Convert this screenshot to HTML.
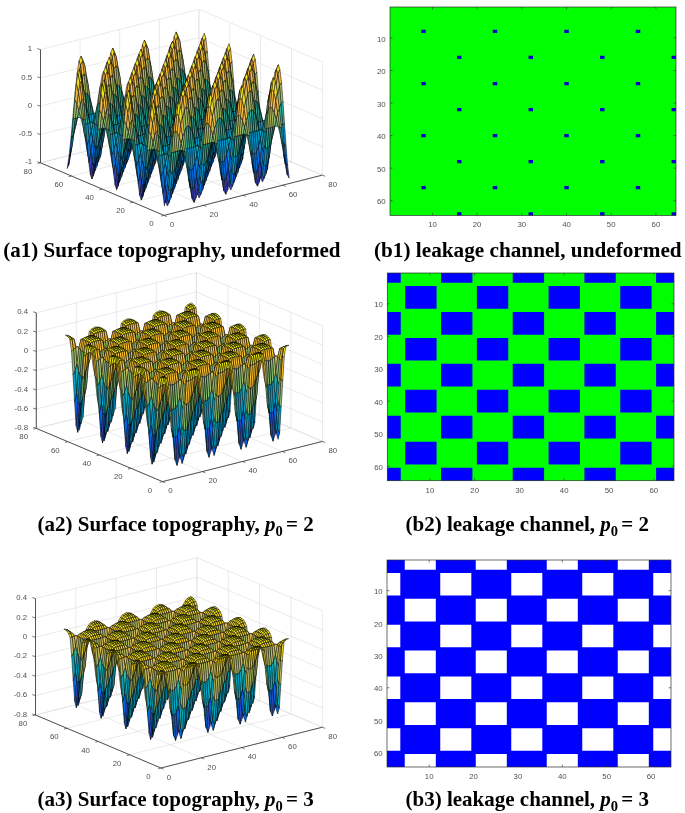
<!DOCTYPE html>
<html lang="en"><head><meta charset="utf-8"><title>Surface topography and leakage channel</title>
<style>html,body{margin:0;padding:0;background:#fff}body{width:685px;height:813px;overflow:hidden}svg{display:block}</style></head><body>
<svg width="685" height="813" viewBox="0 0 685 813">
<rect width="685" height="813" fill="#fff"/>
<g id="a1">
<path d="M164.0 215.4L40.5 162.8" stroke="#dcdcdc" stroke-width="0.6" fill="none"/>
<path d="M164.0 215.4L322.4 175.1" stroke="#dcdcdc" stroke-width="0.6" fill="none"/>
<path d="M40.5 162.8L40.5 49.6" stroke="#dcdcdc" stroke-width="0.6" fill="none"/>
<path d="M322.4 175.1L322.4 61.9" stroke="#dcdcdc" stroke-width="0.6" fill="none"/>
<path d="M203.6 205.3L80.1 152.7" stroke="#dcdcdc" stroke-width="0.6" fill="none"/>
<path d="M133.1 202.2L291.5 161.9" stroke="#dcdcdc" stroke-width="0.6" fill="none"/>
<path d="M80.1 152.7L80.1 39.5" stroke="#dcdcdc" stroke-width="0.6" fill="none"/>
<path d="M291.5 161.9L291.5 48.7" stroke="#dcdcdc" stroke-width="0.6" fill="none"/>
<path d="M243.2 195.2L119.7 142.6" stroke="#dcdcdc" stroke-width="0.6" fill="none"/>
<path d="M102.2 189.1L260.6 148.8" stroke="#dcdcdc" stroke-width="0.6" fill="none"/>
<path d="M119.7 142.6L119.7 29.4" stroke="#dcdcdc" stroke-width="0.6" fill="none"/>
<path d="M260.6 148.8L260.6 35.6" stroke="#dcdcdc" stroke-width="0.6" fill="none"/>
<path d="M282.8 185.2L159.3 132.6" stroke="#dcdcdc" stroke-width="0.6" fill="none"/>
<path d="M71.4 176.0L229.8 135.6" stroke="#dcdcdc" stroke-width="0.6" fill="none"/>
<path d="M159.3 132.6L159.3 19.4" stroke="#dcdcdc" stroke-width="0.6" fill="none"/>
<path d="M229.8 135.6L229.8 22.4" stroke="#dcdcdc" stroke-width="0.6" fill="none"/>
<path d="M322.4 175.1L198.9 122.5" stroke="#dcdcdc" stroke-width="0.6" fill="none"/>
<path d="M40.5 162.8L198.9 122.5" stroke="#dcdcdc" stroke-width="0.6" fill="none"/>
<path d="M198.9 122.5L198.9 9.3" stroke="#dcdcdc" stroke-width="0.6" fill="none"/>
<path d="M198.9 122.5L198.9 9.3" stroke="#dcdcdc" stroke-width="0.6" fill="none"/>
<path d="M40.5 162.8L198.9 122.5" stroke="#dcdcdc" stroke-width="0.6" fill="none"/>
<path d="M198.9 122.5L322.4 175.1" stroke="#dcdcdc" stroke-width="0.6" fill="none"/>
<path d="M40.5 134.5L198.9 94.2" stroke="#dcdcdc" stroke-width="0.6" fill="none"/>
<path d="M198.9 94.2L322.4 146.8" stroke="#dcdcdc" stroke-width="0.6" fill="none"/>
<path d="M40.5 106.2L198.9 65.9" stroke="#dcdcdc" stroke-width="0.6" fill="none"/>
<path d="M198.9 65.9L322.4 118.5" stroke="#dcdcdc" stroke-width="0.6" fill="none"/>
<path d="M40.5 77.9L198.9 37.6" stroke="#dcdcdc" stroke-width="0.6" fill="none"/>
<path d="M198.9 37.6L322.4 90.2" stroke="#dcdcdc" stroke-width="0.6" fill="none"/>
<path d="M40.5 49.6L198.9 9.3" stroke="#dcdcdc" stroke-width="0.6" fill="none"/>
<path d="M198.9 9.3L322.4 61.9" stroke="#dcdcdc" stroke-width="0.6" fill="none"/>
<path d="M40.5 162.8L40.5 49.6" stroke="#404040" stroke-width="0.9" fill="none"/>
<path d="M164.0 215.4L322.4 175.1" stroke="#404040" stroke-width="0.9" fill="none"/>
<path d="M164.0 215.4L40.5 162.8" stroke="#404040" stroke-width="0.9" fill="none"/>
<path d="M40.5 162.8L37.3 161.8" stroke="#404040" stroke-width="0.7" fill="none"/>
<path d="M40.5 134.5L37.3 133.5" stroke="#404040" stroke-width="0.7" fill="none"/>
<path d="M40.5 106.2L37.3 105.2" stroke="#404040" stroke-width="0.7" fill="none"/>
<path d="M40.5 77.9L37.3 76.9" stroke="#404040" stroke-width="0.7" fill="none"/>
<path d="M40.5 49.6L37.3 48.6" stroke="#404040" stroke-width="0.7" fill="none"/>
<path d="M164.0 215.4L166.8 216.6" stroke="#404040" stroke-width="0.7" fill="none"/>
<path d="M164.0 215.4L161.1 216.1" stroke="#404040" stroke-width="0.7" fill="none"/>
<path d="M203.6 205.3L206.4 206.5" stroke="#404040" stroke-width="0.7" fill="none"/>
<path d="M133.1 202.2L130.2 202.9" stroke="#404040" stroke-width="0.7" fill="none"/>
<path d="M243.2 195.2L246.0 196.4" stroke="#404040" stroke-width="0.7" fill="none"/>
<path d="M102.2 189.1L99.3 189.8" stroke="#404040" stroke-width="0.7" fill="none"/>
<path d="M282.8 185.2L285.6 186.4" stroke="#404040" stroke-width="0.7" fill="none"/>
<path d="M71.4 176.0L68.5 176.7" stroke="#404040" stroke-width="0.7" fill="none"/>
<path d="M322.4 175.1L325.2 176.3" stroke="#404040" stroke-width="0.7" fill="none"/>
<path d="M40.5 162.8L37.6 163.5" stroke="#404040" stroke-width="0.7" fill="none"/>
<g font-family="Liberation Sans, sans-serif" font-size="7.8" fill="#505050"><text x="32.2" y="164.4" text-anchor="end">-1</text><text x="32.2" y="136.1" text-anchor="end">-0.5</text><text x="32.2" y="107.8" text-anchor="end">0</text><text x="32.2" y="79.5" text-anchor="end">0.5</text><text x="32.2" y="51.2" text-anchor="end">1</text><text x="172.0" y="227.1" text-anchor="middle">0</text><text x="151.4" y="226.4" text-anchor="middle">0</text><text x="213.9" y="217.0" text-anchor="middle">20</text><text x="120.5" y="213.2" text-anchor="middle">20</text><text x="253.5" y="206.9" text-anchor="middle">40</text><text x="89.6" y="200.1" text-anchor="middle">40</text><text x="293.1" y="196.9" text-anchor="middle">60</text><text x="58.8" y="187.0" text-anchor="middle">60</text><text x="332.7" y="186.8" text-anchor="middle">80</text><text x="27.9" y="173.8" text-anchor="middle">80</text></g>
<g transform="scale(0.1)" stroke="#000" stroke-width="5" stroke-linejoin="round"><path fill="#f5eb18" d="M1776 369l20 34-16-46-19-38z"/>
<path fill="#f5de21" d="M1756 413l20-44-15-50-20 48z"/>
<path fill="#f8bb44" d="M1736 532l20-119-15-46-20 128z"/>
<path fill="#f5eb18" d="M1459 449l20 35-15-46-20-38z"/>
<path fill="#f5de21" d="M1439 494l20-45-15-49-20 48z"/>
<path fill="#f8bb44" d="M1420 612l19-118-15-46-20 127z"/>
<path fill="#3243ba" d="M1281 1501l20 34-16 37-19-38z"/>
<path fill="#f5eb18" d="M1142 530l20 35-15-47-20-38z"/>
<path fill="#f5de21" d="M1123 575l19-45-15-50-20 48z"/>
<path fill="#f8bb44" d="M1103 693l20-118-16-47-20 128z"/>
<path fill="#3243ba" d="M964 1581l20 35-15 37-20-38z"/>
<path fill="#f5eb18" d="M826 611l19 34-15-46-20-38z"/>
<path fill="#f5de21" d="M806 655l20-44-16-50-20 48z"/>
<path fill="#f8bb44" d="M786 774l20-119-16-46-19 128z"/>
<path fill="#aebe67" d="M766 948l20-174-15-37-20 188z"/>
<path fill="#2eb7a4" d="M746 1154l20-206-15-23-20 222z"/>
<path fill="#0998d1" d="M727 1359l19-205-15-7-20 222z"/>
<path fill="#0871de" d="M707 1533l20-174-16 10-20 188z"/>
<path fill="#3243ba" d="M687 1652l20-119-16 24-19 128z"/>
<path fill="#f8bb44" d="M1811 523l20 82-15-93-20-109z"/>
<path fill="#ffc337" d="M1792 498l19 25-15-120-20-34z"/>
<path fill="#f8bb44" d="M1772 533l20-35-16-129-20 44z"/>
<path fill="#d1bb59" d="M1752 625l20-92-16-120-20 119z"/>
<path fill="#f8bb44" d="M1495 604l19 82-15-94-20-108z"/>
<path fill="#ffc337" d="M1475 579l20 25-16-120-20-35z"/>
<path fill="#f8bb44" d="M1455 614l20-35-16-130-20 45z"/>
<path fill="#d1bb59" d="M1435 706l20-92-16-120-19 118z"/>
<path fill="#0268e1" d="M1316 1419l20-35-15 107-20 44z"/>
<path fill="#0871de" d="M1297 1394l19 25-15 116-20-34z"/>
<path fill="#f8bb44" d="M1178 685l20 81-16-93-20-108z"/>
<path fill="#ffc337" d="M1158 659l20 26-16-120-20-35z"/>
<path fill="#f8bb44" d="M1138 695l20-36-16-129-19 45z"/>
<path fill="#d1bb59" d="M1118 786l20-91-15-120-20 118z"/>
<path fill="#0871de" d="M1019 1464l20-91-15 80-20 118z"/>
<path fill="#0268e1" d="M1000 1500l19-36-15 107-20 45z"/>
<path fill="#0871de" d="M980 1475l20 25-16 116-20-35z"/>
<path fill="#f8bb44" d="M861 765l20 82-16-93-20-109z"/>
<path fill="#ffc337" d="M841 740l20 25-16-120-19-34z"/>
<path fill="#f8bb44" d="M821 775l20-35-15-129-20 44z"/>
<path fill="#d1bb59" d="M802 867l19-92-15-120-20 119z"/>
<path fill="#0871de" d="M703 1545l19-92-15 80-20 119z"/>
<path fill="#92bf73" d="M1847 741l19 66-15-77-20-125z"/>
<path fill="#aebe67" d="M1827 700l20 41-16-136-20-82z"/>
<path fill="#b7bd64" d="M1807 688l20 12-16-177-19-25z"/>
<path fill="#aebe67" d="M1787 710l20-22-15-190-20 35z"/>
<path fill="#92bf73" d="M1767 762l20-52-15-177-20 92zM1530 822l20 65-16-77-20-124z"/>
<path fill="#aebe67" d="M1510 780l20 42-16-136-19-82z"/>
<path fill="#b7bd64" d="M1490 769l20 11-15-176-20-25z"/>
<path fill="#aebe67" d="M1470 790l20-21-15-190-20 35z"/>
<path fill="#92bf73" d="M1451 842l19-52-15-176-20 92zM1213 903l20 65-16-77-19-125z"/>
<path fill="#aebe67" d="M1193 861l20 42-15-137-20-81z"/>
<path fill="#b7bd64" d="M1173 849l20 12-15-176-20-26z"/>
<path fill="#aebe67" d="M1154 871l19-22-15-190-20 36z"/>
<path fill="#92bf73" d="M1134 923l20-52-16-176-20 91z"/>
<path fill="#06a4ca" d="M1055 1249l19-75-15 64-20 135z"/>
<path fill="#0998d1" d="M1035 1301l20-52-16 124-20 91z"/>
<path fill="#0c93d2" d="M1015 1323l20-22-16 163-19 36z"/>
<path fill="#0998d1" d="M995 1311l20 12-15 177-20-25z"/>
<path fill="#92bf73" d="M896 983l20 66-15-77-20-125z"/>
<path fill="#aebe67" d="M876 941l20 42-15-136-20-82z"/>
<path fill="#b7bd64" d="M857 930l19 11-15-176-20-25z"/>
<path fill="#aebe67" d="M837 952l20-22-16-190-20 35z"/>
<path fill="#92bf73" d="M817 1004l20-52-16-177-19 92z"/>
<path fill="#06a4ca" d="M738 1330l20-75-16 63-20 135z"/>
<path fill="#0998d1" d="M718 1382l20-52-16 123-19 92z"/>
<path fill="#2eb7a4" d="M1862 901l20-5-16-89-19-66zM1842 906l20-5-15-160-20-41zM1822 911l20-5-15-206-20-12zM1803 916l19-5-15-223-20 22zM1545 982l20-5-15-90-20-65zM1525 987l20-5-15-160-20-42zM1506 992l19-5-15-207-20-11zM1486 997l20-5-16-223-20 21zM1248 1057l20-5-15-6-20-78zM1228 1062l20-5-15-89-20-65zM1209 1068l19-6-15-159-20-42zM1189 1073l20-5-16-207-20-12zM1169 1078l20-5-16-224-19 22z"/>
<path fill="#38b99e" d="M1050 1108l20-5-15 146-20 52zM1030 1113l20-5-15 193-20 22z"/>
<path fill="#2eb7a4" d="M931 1138l20-5-15-7-20-77zM912 1143l19-5-15-89-20-66zM892 1148l20-5-16-160-20-42zM872 1153l20-5-16-207-19-11zM852 1158l20-5-15-223-20 22z"/>
<path fill="#38b99e" d="M773 1178l20-5-16-6-19 88zM753 1183l20-5-15 77-20 75zM733 1188l20-5-15 147-20 52z"/>
<path fill="#06a4ca" d="M1244 1222l20-75-16-90-20 5z"/>
<path fill="#0998d1" d="M1224 1274l20-52-16-160-19 6z"/>
<path fill="#0c93d2" d="M1204 1296l20-22-15-206-20 5z"/>
<path fill="#0faeb9" d="M947 1228l20-88-16-7-20 5z"/>
<path fill="#06a4ca" d="M927 1303l20-75-16-90-19 5z"/>
<path fill="#0998d1" d="M907 1355l20-52-15-160-20 5z"/>
<path fill="#0c93d2" d="M887 1376l20-21-15-207-20 5z"/>
<path fill="#65be86" d="M788 1102l20 78-15-7-20 5z"/>
<path fill="#92bf73" d="M769 1037l19 65-15 76-20 5z"/>
<path fill="#aebe67" d="M749 995l20 42-16 146-20 5z"/>
<path fill="#38b99e" d="M824 1186l19 149-15-77-20-78z"/>
<path fill="#92bf73" d="M804 1038l20 148-16-6-20-78z"/>
<path fill="#d9ba56" d="M784 914l20 124-16 64-19-65z"/>
<path fill="#f8bb44" d="M764 832l20 82-15 123-20-42z"/>
<path fill="#0998d1" d="M859 1388l20 165-16-94-20-124z"/>
<path fill="#38b99e" d="M839 1193l20 195-16-53-19-149z"/>
<path fill="#aebe67" d="M819 998l20 195-15-7-20-148z"/>
<path fill="#f8bb44" d="M800 833l19 165-15 40-20-124z"/>
<path fill="#f5de21" d="M780 725l20 108-16 81-20-82z"/>
<path fill="#ffc337" d="M2003 507l20-128-16 34-19 118z"/>
<path fill="#f5eb18" d="M1706 460l20-48-16 36-19 45z"/>
<path fill="#ffc337" d="M1686 588l20-128-15 33-20 119zM1369 668l20-127-15 33-20 118zM1053 749l19-128-15 34-20 118z"/>
<path fill="#0268e1" d="M894 1590l20 117-15-46-20-108z"/>
<path fill="#0c93d2" d="M874 1411l20 179-15-37-20-165z"/>
<path fill="#38b99e" d="M855 1200l19 211-15-23-20-195z"/>
<path fill="#b7bd64" d="M835 988l20 212-16-7-20-195z"/>
<path fill="#ffc337" d="M815 809l20 179-16 10-19-165z"/>
<path fill="#f5eb18" d="M795 692l20 117-15 24-20-108z"/>
<path fill="#f5de21" d="M2038 426l20-45-15-50-20 48z"/>
<path fill="#f8bb44" d="M2018 544l20-118-15-47-20 128z"/>
<path fill="#f5eb18" d="M1741 462l20 34-15-46-20-38z"/>
<path fill="#f5de21" d="M1721 506l20-44-15-50-20 48z"/>
<path fill="#f8bb44" d="M1702 625l19-119-15-46-20 128z"/>
<path fill="#f5eb18" d="M1424 542l20 35-15-46-20-38z"/>
<path fill="#f5de21" d="M1405 587l19-45-15-49-20 48z"/>
<path fill="#f8bb44" d="M1385 705l20-118-16-46-20 127z"/>
<path fill="#3637a0" d="M1266 1628l20-45-16 34-19 48z"/>
<path fill="#3243ba" d="M1246 1594l20 34-15 37-20-38z"/>
<path fill="#f5eb18" d="M1108 623l19 35-15-47-20-38z"/>
<path fill="#f5de21" d="M1088 668l20-45-16-50-20 48z"/>
<path fill="#f8bb44" d="M1068 786l20-118-16-47-19 128z"/>
<path fill="#3243ba" d="M929 1674l20 35-15 36-20-38z"/>
<path fill="#aebe67" d="M850 1011l20 195-15-6-20-212z"/>
<path fill="#f8bb44" d="M830 847l20 164-15-23-20-179z"/>
<path fill="#f5de21" d="M811 738l19 109-15-38-20-117z"/>
<path fill="#f8bb44" d="M2054 546l19-36-15-129-20 45z"/>
<path fill="#d1bb59" d="M2034 637l20-91-16-120-20 118z"/>
<path fill="#f8bb44" d="M1776 616l20 82-15-93-20-109z"/>
<path fill="#ffc337" d="M1757 591l19 25-15-120-20-34z"/>
<path fill="#f8bb44" d="M1737 626l20-35-16-129-20 44z"/>
<path fill="#d1bb59" d="M1717 718l20-92-16-120-19 119z"/>
<path fill="#f8bb44" d="M1460 697l19 82-15-94-20-108z"/>
<path fill="#ffc337" d="M1440 671l20 26-16-120-20-35z"/>
<path fill="#f8bb44" d="M1420 707l20-36-16-129-19 45z"/>
<path fill="#d1bb59" d="M1400 799l20-92-15-120-20 118z"/>
<path fill="#0871de" d="M1301 1477l20-92-15 80-20 118z"/>
<path fill="#0268e1" d="M1281 1512l20-35-15 106-20 45z"/>
<path fill="#0871de" d="M1262 1487l19 25-15 116-20-34z"/>
<path fill="#f8bb44" d="M1143 778l20 81-16-93-20-108z"/>
<path fill="#ffc337" d="M1123 752l20 26-16-120-19-35z"/>
<path fill="#f8bb44" d="M1103 788l20-36-15-129-20 45z"/>
<path fill="#d1bb59" d="M1083 879l20-91-15-120-20 118z"/>
<path fill="#0871de" d="M984 1557l20-91-15 80-20 118z"/>
<path fill="#0268e1" d="M965 1593l19-36-15 107-20 45z"/>
<path fill="#0871de" d="M945 1567l20 26-16 116-20-35z"/>
<path fill="#f8bb44" d="M826 858l20 82-16-93-19-109z"/>
<path fill="#aebe67" d="M2069 722l20-22-16-190-19 36z"/>
<path fill="#92bf73" d="M2049 774l20-52-15-176-20 91zM1812 834l19 66-15-77-20-125z"/>
<path fill="#aebe67" d="M1792 792l20 42-16-136-20-82z"/>
<path fill="#b7bd64" d="M1772 781l20 11-16-176-19-25z"/>
<path fill="#aebe67" d="M1752 803l20-22-15-190-20 35z"/>
<path fill="#92bf73" d="M1732 855l20-52-15-177-20 92zM1495 915l20 65-16-77-20-124z"/>
<path fill="#aebe67" d="M1475 873l20 42-16-136-19-82z"/>
<path fill="#b7bd64" d="M1455 862l20 11-15-176-20-26z"/>
<path fill="#aebe67" d="M1435 883l20-21-15-191-20 36z"/>
<path fill="#92bf73" d="M1416 935l19-52-15-176-20 92z"/>
<path fill="#0998d1" d="M1317 1314l19-52-15 123-20 92z"/>
<path fill="#0c93d2" d="M1297 1335l20-21-16 163-20 35z"/>
<path fill="#0998d1" d="M1277 1324l20 11-16 177-19-25z"/>
<path fill="#92bf73" d="M1178 996l20 65-16-77-19-125z"/>
<path fill="#aebe67" d="M1158 954l20 42-15-137-20-81z"/>
<path fill="#b7bd64" d="M1138 942l20 12-15-176-20-26z"/>
<path fill="#aebe67" d="M1119 964l19-22-15-190-20 36z"/>
<path fill="#92bf73" d="M1099 1016l20-52-16-176-20 91z"/>
<path fill="#06a4ca" d="M1020 1342l19-75-15 64-20 135z"/>
<path fill="#0998d1" d="M1000 1394l20-52-16 124-20 91z"/>
<path fill="#0c93d2" d="M980 1416l20-22-16 163-19 36z"/>
<path fill="#0998d1" d="M960 1404l20 12-15 177-20-26z"/>
<path fill="#92bf73" d="M861 1076l20 66-15-77-20-125z"/>
<path fill="#aebe67" d="M841 1034l20 42-15-136-20-82z"/>
<path fill="#38b99e" d="M2085 929l19-5-15-224-20 22zM1827 994l20-5-16-89-19-66zM1807 999l20-5-15-160-20-42zM1788 1004l19-5-15-207-20-11zM1768 1009l20-5-16-223-20 22zM1510 1075l20-5-15-90-20-65zM1491 1080l19-5-15-160-20-42zM1471 1085l20-5-16-207-20-11zM1451 1090l20-5-16-223-20 21zM1213 1150l20-5-15-6-20-78zM1194 1155l19-5-15-89-20-65zM1174 1160l20-5-16-159-20-42zM1154 1165l20-5-16-206-20-12zM1134 1170l20-5-16-223-19 22z"/>
<path fill="#2eb7a4" d="M1035 1196l20-5-16 76-19 75zM1015 1201l20-5-15 146-20 52zM996 1206l19-5-15 193-20 22z"/>
<path fill="#38b99e" d="M897 1231l19-5-15-7-20-77zM877 1236l20-5-16-89-20-66zM857 1241l20-5-16-160-20-42z"/>
<path fill="#0998d1" d="M1506 1286l20-52-16-159-19 5z"/>
<path fill="#0c93d2" d="M1486 1308l20-22-15-206-20 5z"/>
<path fill="#0faeb9" d="M1229 1240l20-88-16-7-20 5z"/>
<path fill="#06a4ca" d="M1209 1315l20-75-16-90-19 5z"/>
<path fill="#0998d1" d="M1189 1367l20-52-15-160-20 5z"/>
<path fill="#0c93d2" d="M1169 1389l20-22-15-207-20 5z"/>
<path fill="#38b99e" d="M932 1233l20-88-16 76-20 5z"/>
<path fill="#0faeb9" d="M912 1320l20-87-16-7-19 5z"/>
<path fill="#06a4ca" d="M892 1396l20-76-15-89-20 5z"/>
<path fill="#0998d1" d="M872 1448l20-52-15-160-20 5z"/>
<path fill="#38b99e" d="M947 1239l20-158-15 64-20 88z"/>
<path fill="#06a4ca" d="M927 1397l20-158-15-6-20 87z"/>
<path fill="#1485d4" d="M908 1532l19-135-15-77-20 76z"/>
<path fill="#0871de" d="M888 1624l20-92-16-136-20 52z"/>
<path fill="#aebe67" d="M982 1041l20-175-15 80-20 135z"/>
<path fill="#2eb7a4" d="M963 1246l19-205-15 40-20 158z"/>
<path fill="#0998d1" d="M943 1451l20-205-16-7-20 158z"/>
<path fill="#0871de" d="M923 1626l20-175-16-54-19 135z"/>
<path fill="#3243ba" d="M903 1744l20-118-15-94-20 92z"/>
<path fill="#ffc337" d="M1968 600l20-128-16 34-19 118zM1651 681l20-128-15 33-20 119zM1334 761l20-127-15 33-20 118zM1018 842l19-128-15 33-20 119z"/>
<path fill="#b7bd64" d="M998 1031l20-189-16 24-20 175z"/>
<path fill="#2eb7a4" d="M978 1252l20-221-16 10-19 205z"/>
<path fill="#0c93d2" d="M958 1474l20-222-15-6-20 205z"/>
<path fill="#0268e1" d="M938 1663l20-189-15-23-20 175z"/>
<path fill="#3637a0" d="M919 1790l19-127-15-37-20 118z"/>
<path fill="#f5eb18" d="M2023 474l20 35-16-47-19-38z"/>
<path fill="#f5de21" d="M2003 519l20-45-15-50-20 48z"/>
<path fill="#f8bb44" d="M1984 637l19-118-15-47-20 128z"/>
<path fill="#f5eb18" d="M1706 554l20 35-15-46-20-38z"/>
<path fill="#f5de21" d="M1687 599l19-45-15-49-20 48z"/>
<path fill="#f8bb44" d="M1667 718l20-119-16-46-20 128z"/>
<path fill="#3243ba" d="M1528 1606l20 35-16 36-19-38z"/>
<path fill="#f5eb18" d="M1390 635l19 35-15-47-20-38z"/>
<path fill="#f5de21" d="M1370 680l20-45-16-50-20 49z"/>
<path fill="#f8bb44" d="M1350 798l20-118-16-46-20 127z"/>
<path fill="#3243ba" d="M1211 1686l20 35-15 37-20-38z"/>
<path fill="#f5eb18" d="M1073 716l20 35-16-47-20-38z"/>
<path fill="#f5de21" d="M1053 761l20-45-16-50-20 48z"/>
<path fill="#f8bb44" d="M1033 879l20-118-16-47-19 128z"/>
<path fill="#aebe67" d="M1013 1054l20-175-15-37-20 189z"/>
<path fill="#2eb7a4" d="M994 1259l19-205-15-23-20 221z"/>
<path fill="#0998d1" d="M974 1464l20-205-16-7-20 222z"/>
<path fill="#0871de" d="M954 1639l20-175-16 10-20 189z"/>
<path fill="#3243ba" d="M934 1757l20-118-16 24-19 127z"/>
<path fill="#f8bb44" d="M2058 629l20 81-15-93-20-108z"/>
<path fill="#ffc337" d="M2039 603l19 26-15-120-20-35z"/>
<path fill="#f8bb44" d="M2019 639l20-36-16-129-20 45z"/>
<path fill="#d1bb59" d="M1999 730l20-91-16-120-19 118z"/>
<path fill="#f8bb44" d="M1742 709l19 82-15-93-20-109z"/>
<path fill="#ffc337" d="M1722 684l20 25-16-120-20-35z"/>
<path fill="#f8bb44" d="M1702 719l20-35-16-130-19 45z"/>
<path fill="#d1bb59" d="M1682 811l20-92-15-120-20 119z"/>
<path fill="#0268e1" d="M1563 1524l20-35-15 107-20 45z"/>
<path fill="#0871de" d="M1544 1499l19 25-15 117-20-35z"/>
<path fill="#f8bb44" d="M1425 790l20 82-16-94-20-108z"/>
<path fill="#ffc337" d="M1405 764l20 26-16-120-19-35z"/>
<path fill="#f8bb44" d="M1385 800l20-36-15-129-20 45z"/>
<path fill="#d1bb59" d="M1365 892l20-92-15-120-20 118z"/>
<path fill="#0871de" d="M1266 1570l20-92-15 80-20 118z"/>
<path fill="#0268e1" d="M1247 1605l19-35-15 106-20 45z"/>
<path fill="#0871de" d="M1227 1580l20 25-16 116-20-35z"/>
<path fill="#f8bb44" d="M1108 870l20 82-16-93-19-108z"/>
<path fill="#ffc337" d="M1088 845l20 25-15-119-20-35z"/>
<path fill="#f8bb44" d="M1068 881l20-36-15-129-20 45z"/>
<path fill="#d1bb59" d="M1049 972l19-91-15-120-20 118z"/>
<path fill="#0871de" d="M950 1650l19-92-15 81-20 118z"/>
<path fill="#92bf73" d="M2094 847l19 65-15-77-20-125z"/>
<path fill="#aebe67" d="M2074 805l20 42-16-137-20-81z"/>
<path fill="#b7bd64" d="M2054 793l20 12-16-176-19-26z"/>
<path fill="#aebe67" d="M2034 815l20-22-15-190-20 36z"/>
<path fill="#92bf73" d="M2014 867l20-52-15-176-20 91zM1777 927l20 66-16-77-20-125z"/>
<path fill="#aebe67" d="M1757 885l20 42-16-136-19-82z"/>
<path fill="#b7bd64" d="M1737 874l20 11-15-176-20-25z"/>
<path fill="#aebe67" d="M1717 895l20-21-15-190-20 35z"/>
<path fill="#92bf73" d="M1698 947l19-52-15-176-20 92zM1460 1008l20 65-16-77-19-124z"/>
<path fill="#aebe67" d="M1440 966l20 42-15-136-20-82z"/>
<path fill="#b7bd64" d="M1420 955l20 11-15-176-20-26z"/>
<path fill="#aebe67" d="M1401 976l19-21-15-191-20 36z"/>
<path fill="#92bf73" d="M1381 1028l20-52-16-176-20 92z"/>
<path fill="#06a4ca" d="M1302 1355l19-76-15 64-20 135z"/>
<path fill="#0998d1" d="M1282 1407l20-52-16 123-20 92z"/>
<path fill="#0c93d2" d="M1262 1428l20-21-16 163-19 35z"/>
<path fill="#0998d1" d="M1242 1417l20 11-15 177-20-25z"/>
<path fill="#92bf73" d="M1143 1089l20 65-15-77-20-125z"/>
<path fill="#aebe67" d="M1123 1047l20 42-15-137-20-82z"/>
<path fill="#b7bd64" d="M1104 1035l19 12-15-177-20-25z"/>
<path fill="#aebe67" d="M1084 1057l20-22-16-190-20 36z"/>
<path fill="#92bf73" d="M1064 1109l20-52-16-176-19 91z"/>
<path fill="#06a4ca" d="M985 1435l20-75-16 64-20 134z"/>
<path fill="#0998d1" d="M965 1487l20-52-16 123-19 92z"/>
<path fill="#2eb7a4" d="M2109 1006l20-5-16-89-19-65zM2089 1011l20-5-15-159-20-42zM2069 1016l20-5-15-206-20-12zM2050 1022l19-6-15-223-20 22zM1792 1087l20-5-15-89-20-66zM1772 1092l20-5-15-160-20-42zM1753 1097l19-5-15-207-20-11zM1733 1102l20-5-16-223-20 21zM1495 1163l20-5-15-7-20-78zM1475 1168l20-5-15-90-20-65zM1456 1173l19-5-15-160-20-42zM1436 1178l20-5-16-207-20-11zM1416 1183l20-5-16-223-19 21z"/>
<path fill="#38b99e" d="M1297 1213l20-5-15 147-20 52zM1277 1218l20-5-15 194-20 21z"/>
<path fill="#2eb7a4" d="M1178 1243l20-5-15-6-20-78zM1159 1248l19-5-15-89-20-65zM1139 1253l20-5-16-159-20-42zM1119 1258l20-5-16-206-19-12zM1099 1263l20-5-15-223-20 22z"/>
<path fill="#38b99e" d="M1020 1284l20-5-16-7-19 88zM1000 1289l20-5-15 76-20 75zM980 1294l20-5-15 146-20 52z"/>
<path fill="#06a4ca" d="M1491 1327l20-75-16-89-20 5z"/>
<path fill="#0998d1" d="M1471 1379l20-52-16-159-19 5z"/>
<path fill="#0c93d2" d="M1451 1401l20-22-15-206-20 5z"/>
<path fill="#0faeb9" d="M1194 1333l20-88-16-7-20 5z"/>
<path fill="#06a4ca" d="M1174 1408l20-75-16-90-19 5z"/>
<path fill="#0998d1" d="M1154 1460l20-52-15-160-20 5z"/>
<path fill="#0c93d2" d="M1134 1482l20-22-15-207-20 5z"/>
<path fill="#65be86" d="M1035 1207l20 78-15-6-20 5z"/>
<path fill="#92bf73" d="M1016 1142l19 65-15 77-20 5z"/>
<path fill="#aebe67" d="M996 1100l20 42-16 147-20 5z"/>
<path fill="#38b99e" d="M1071 1292l20 148-16-77-20-78z"/>
<path fill="#92bf73" d="M1051 1144l20 148-16-7-20-78z"/>
<path fill="#d9ba56" d="M1031 1019l20 125-16 63-19-65z"/>
<path fill="#f8bb44" d="M1011 937l20 82-15 123-20-42z"/>
<path fill="#0998d1" d="M1106 1493l20 165-16-93-19-125z"/>
<path fill="#38b99e" d="M1086 1298l20 195-15-53-20-148z"/>
<path fill="#aebe67" d="M1066 1103l20 195-15-6-20-148z"/>
<path fill="#f8bb44" d="M1047 939l19 164-15 41-20-125z"/>
<path fill="#f5de21" d="M1027 830l20 109-16 80-20-82z"/>
<path fill="#ffc337" d="M2250 612l20-127-16 33-19 118zM1933 693l20-128-15 33-20 119zM1616 774l20-128-15 33-20 118zM1300 854l19-128-15 34-20 118z"/>
<path fill="#0268e1" d="M1141 1695l20 118-15-47-20-108z"/>
<path fill="#0c93d2" d="M1121 1516l20 179-15-37-20-165z"/>
<path fill="#38b99e" d="M1102 1305l19 211-15-23-20-195z"/>
<path fill="#b7bd64" d="M1082 1093l20 212-16-7-20-195z"/>
<path fill="#ffc337" d="M1062 915l20 178-16 10-19-164z"/>
<path fill="#f5eb18" d="M1042 797l20 118-15 24-20-109z"/>
<path fill="#f5de21" d="M2285 531l20-45-15-50-20 49z"/>
<path fill="#f8bb44" d="M2265 649l20-118-15-46-20 127z"/>
<path fill="#3243ba" d="M2127 1537l20 35-16 37-20-38z"/>
<path fill="#f5eb18" d="M1988 567l20 35-15-47-20-38z"/>
<path fill="#f5de21" d="M1968 612l20-45-15-50-20 48z"/>
<path fill="#f8bb44" d="M1949 730l19-118-15-47-20 128z"/>
<path fill="#3243ba" d="M1810 1618l20 35-16 36-19-38z"/>
<path fill="#f5eb18" d="M1671 647l20 35-15-46-20-38z"/>
<path fill="#f5de21" d="M1652 692l19-45-15-49-20 48z"/>
<path fill="#f8bb44" d="M1632 811l20-119-16-46-20 128z"/>
<path fill="#3243ba" d="M1493 1699l20 35-15 36-20-38z"/>
<path fill="#f5eb18" d="M1355 728l19 35-15-47-20-38z"/>
<path fill="#f5de21" d="M1335 773l20-45-16-50-20 48z"/>
<path fill="#f8bb44" d="M1315 891l20-118-16-47-19 128z"/>
<path fill="#3243ba" d="M1176 1779l20 35-15 37-20-38z"/>
<path fill="#aebe67" d="M1097 1116l20 195-15-6-20-212z"/>
<path fill="#f8bb44" d="M1077 952l20 164-15-23-20-178z"/>
<path fill="#f5de21" d="M1058 843l19 109-15-37-20-118z"/>
<path fill="#f8bb44" d="M2301 651l19-36-15-129-20 45z"/>
<path fill="#d1bb59" d="M2281 743l20-92-16-120-20 118z"/>
<path fill="#0268e1" d="M2162 1456l20-35-16 106-19 45z"/>
<path fill="#0871de" d="M2142 1431l20 25-15 116-20-35z"/>
<path fill="#f8bb44" d="M2023 721l20 82-15-93-20-108z"/>
<path fill="#ffc337" d="M2004 696l19 25-15-119-20-35z"/>
<path fill="#f8bb44" d="M1984 732l20-36-16-129-20 45z"/>
<path fill="#d1bb59" d="M1964 823l20-91-16-120-19 118z"/>
<path fill="#0268e1" d="M1845 1537l20-36-15 107-20 45z"/>
<path fill="#0871de" d="M1825 1511l20 26-15 116-20-35z"/>
<path fill="#f8bb44" d="M1707 802l19 82-15-94-20-108z"/>
<path fill="#ffc337" d="M1687 777l20 25-16-120-20-35z"/>
<path fill="#f8bb44" d="M1667 812l20-35-16-130-19 45z"/>
<path fill="#d1bb59" d="M1647 904l20-92-15-120-20 119z"/>
<path fill="#0871de" d="M1548 1582l20-92-15 80-20 119z"/>
<path fill="#0268e1" d="M1528 1617l20-35-15 107-20 45z"/>
<path fill="#0871de" d="M1509 1592l19 25-15 117-20-35z"/>
<path fill="#f8bb44" d="M1390 883l20 81-16-93-20-108z"/>
<path fill="#ffc337" d="M1370 857l20 26-16-120-19-35z"/>
<path fill="#f8bb44" d="M1350 893l20-36-15-129-20 45z"/>
<path fill="#d1bb59" d="M1330 985l20-92-15-120-20 118z"/>
<path fill="#0871de" d="M1231 1663l20-92-15 80-20 118z"/>
<path fill="#0268e1" d="M1212 1698l19-35-15 106-20 45z"/>
<path fill="#0871de" d="M1192 1673l20 25-16 116-20-35z"/>
<path fill="#f8bb44" d="M1073 963l20 82-16-93-19-109z"/>
<path fill="#aebe67" d="M2316 827l20-21-16-191-19 36z"/>
<path fill="#92bf73" d="M2296 879l20-52-15-176-20 92zM2059 940l20 65-16-77-20-125z"/>
<path fill="#aebe67" d="M2039 898l20 42-16-137-20-82z"/>
<path fill="#b7bd64" d="M2019 886l20 12-16-177-19-25z"/>
<path fill="#aebe67" d="M1999 908l20-22-15-190-20 36z"/>
<path fill="#92bf73" d="M1980 960l19-52-15-176-20 91zM1742 1020l20 65-16-76-20-125z"/>
<path fill="#aebe67" d="M1722 978l20 42-16-136-19-82z"/>
<path fill="#b7bd64" d="M1702 967l20 11-15-176-20-25z"/>
<path fill="#aebe67" d="M1683 988l19-21-15-190-20 35z"/>
<path fill="#92bf73" d="M1663 1040l20-52-16-176-20 92z"/>
<path fill="#0998d1" d="M1564 1419l20-52-16 123-20 92z"/>
<path fill="#0c93d2" d="M1544 1440l20-21-16 163-20 35z"/>
<path fill="#0998d1" d="M1524 1429l20 11-16 177-19-25z"/>
<path fill="#92bf73" d="M1425 1101l20 65-16-77-19-125z"/>
<path fill="#aebe67" d="M1405 1059l20 42-15-137-20-81z"/>
<path fill="#b7bd64" d="M1386 1047l19 12-15-176-20-26z"/>
<path fill="#aebe67" d="M1366 1069l20-22-16-190-20 36z"/>
<path fill="#92bf73" d="M1346 1121l20-52-16-176-20 92z"/>
<path fill="#06a4ca" d="M1267 1447l20-75-16 64-20 135z"/>
<path fill="#0998d1" d="M1247 1499l20-52-16 124-20 92z"/>
<path fill="#0c93d2" d="M1227 1521l20-22-16 164-19 35z"/>
<path fill="#0998d1" d="M1207 1510l20 11-15 177-20-25z"/>
<path fill="#92bf73" d="M1108 1181l20 66-15-77-20-125z"/>
<path fill="#aebe67" d="M1089 1140l19 41-15-136-20-82z"/>
<path fill="#2eb7a4" d="M2332 1034l19-5-15-223-20 21zM2074 1099l20-5-15-89-20-65zM2054 1104l20-5-15-159-20-42zM2035 1109l19-5-15-206-20-12zM2015 1114l20-5-16-223-20 22zM1757 1180l20-5-15-90-20-65zM1738 1185l19-5-15-160-20-42zM1718 1190l20-5-16-207-20-11zM1698 1195l20-5-16-223-19 21zM1460 1256l20-6-15-6-20-78zM1441 1261l19-5-15-90-20-65zM1421 1266l20-5-16-160-20-42zM1401 1271l20-5-16-207-19-12zM1381 1276l20-5-15-224-20 22z"/>
<path fill="#38b99e" d="M1282 1301l20-5-15 76-20 75zM1262 1306l20-5-15 146-20 52zM1243 1311l19-5-15 193-20 22z"/>
<path fill="#2eb7a4" d="M1144 1336l19-5-15-6-20-78zM1124 1341l20-5-16-89-20-66zM1104 1346l20-5-16-160-19-41z"/>
<path fill="#0998d1" d="M2070 1311l20-52-16-160-20 5z"/>
<path fill="#0c93d2" d="M2050 1333l20-22-16-207-19 5z"/>
<path fill="#0998d1" d="M1753 1392l20-52-16-160-19 5z"/>
<path fill="#0c93d2" d="M1733 1413l20-21-15-207-20 5z"/>
<path fill="#0faeb9" d="M1476 1345l20-88-16-7-20 6z"/>
<path fill="#06a4ca" d="M1456 1420l20-75-16-89-19 5z"/>
<path fill="#0998d1" d="M1436 1472l20-52-15-159-20 5z"/>
<path fill="#0c93d2" d="M1416 1494l20-22-15-206-20 5z"/>
<path fill="#38b99e" d="M1179 1338l20-88-16 76-20 5z"/>
<path fill="#0faeb9" d="M1159 1426l20-88-16-7-19 5z"/>
<path fill="#06a4ca" d="M1139 1501l20-75-15-90-20 5z"/>
<path fill="#0998d1" d="M1119 1553l20-52-15-160-20 5z"/>
<path fill="#38b99e" d="M1194 1344l20-158-15 64-20 88z"/>
<path fill="#06a4ca" d="M1174 1502l20-158-15-6-20 88z"/>
<path fill="#1485d4" d="M1155 1637l19-135-15-76-20 75z"/>
<path fill="#0871de" d="M1135 1729l20-92-16-136-20 52z"/>
<path fill="#aebe67" d="M1229 1146l20-175-15 80-20 135z"/>
<path fill="#2eb7a4" d="M1210 1351l19-205-15 40-20 158z"/>
<path fill="#0998d1" d="M1190 1556l20-205-16-7-20 158z"/>
<path fill="#0871de" d="M1170 1731l20-175-16-54-19 135z"/>
<path fill="#3243ba" d="M1150 1849l20-118-15-94-20 92z"/>
<path fill="#ffc337" d="M2215 705l20-128-16 34-19 118zM1898 786l20-128-15 33-20 119zM1582 866l19-127-15 33-20 118zM1265 947l20-128-16 34-20 118z"/>
<path fill="#b7bd64" d="M1245 1136l20-189-16 24-20 175z"/>
<path fill="#2eb7a4" d="M1225 1357l20-221-16 10-19 205z"/>
<path fill="#0c93d2" d="M1205 1579l20-222-15-6-20 205z"/>
<path fill="#0268e1" d="M1186 1768l19-189-15-23-20 175z"/>
<path fill="#3637a0" d="M1166 1895l20-127-16-37-20 118z"/>
<path fill="#3243ba" d="M2409 1550l20 35-16 36-20-38z"/>
<path fill="#f5eb18" d="M2270 579l20 35-15-47-20-38z"/>
<path fill="#f5de21" d="M2250 624l20-45-15-50-20 48z"/>
<path fill="#f8bb44" d="M2231 742l19-118-15-47-20 128z"/>
<path fill="#3243ba" d="M2092 1630l20 35-16 37-19-38z"/>
<path fill="#f5eb18" d="M1953 660l20 34-15-46-20-38z"/>
<path fill="#f5de21" d="M1934 705l19-45-15-50-20 48z"/>
<path fill="#f8bb44" d="M1914 823l20-118-16-47-20 128z"/>
<path fill="#3243ba" d="M1775 1711l20 35-15 36-20-38z"/>
<path fill="#f5eb18" d="M1637 740l19 35-15-46-20-38z"/>
<path fill="#f5de21" d="M1617 785l20-45-16-49-20 48z"/>
<path fill="#f8bb44" d="M1597 904l20-119-16-46-19 127z"/>
<path fill="#3243ba" d="M1458 1792l20 34-15 37-20-38z"/>
<path fill="#f5eb18" d="M1320 821l20 35-16-47-20-38z"/>
<path fill="#f5de21" d="M1300 866l20-45-16-50-19 48z"/>
<path fill="#f8bb44" d="M1280 984l20-118-15-47-20 128z"/>
<path fill="#aebe67" d="M1260 1159l20-175-15-37-20 189z"/>
<path fill="#2eb7a4" d="M1241 1364l19-205-15-23-20 221z"/>
<path fill="#0998d1" d="M1221 1569l20-205-16-7-20 222z"/>
<path fill="#0871de" d="M1201 1744l20-175-16 10-19 189z"/>
<path fill="#3243ba" d="M1181 1862l20-118-15 24-20 127z"/>
<path fill="#0871de" d="M2424 1443l20 25-15 117-20-35z"/>
<path fill="#f8bb44" d="M2305 734l20 81-15-93-20-108z"/>
<path fill="#ffc337" d="M2286 708l19 26-15-120-20-35z"/>
<path fill="#f8bb44" d="M2266 744l20-36-16-129-20 45z"/>
<path fill="#d1bb59" d="M2246 836l20-92-16-120-19 118z"/>
<path fill="#0871de" d="M2147 1514l20-92-16 80-19 118z"/>
<path fill="#0268e1" d="M2127 1549l20-35-15 106-20 45z"/>
<path fill="#0871de" d="M2107 1524l20 25-15 116-20-35z"/>
<path fill="#f8bb44" d="M1989 814l19 82-15-93-20-109z"/>
<path fill="#ffc337" d="M1969 789l20 25-16-120-20-34z"/>
<path fill="#f8bb44" d="M1949 824l20-35-16-129-19 45z"/>
<path fill="#d1bb59" d="M1929 916l20-92-15-119-20 118z"/>
<path fill="#0871de" d="M1830 1594l20-92-15 81-20 118z"/>
<path fill="#0268e1" d="M1810 1630l20-36-15 107-20 45z"/>
<path fill="#0871de" d="M1791 1604l19 26-15 116-20-35z"/>
<path fill="#f8bb44" d="M1672 895l20 82-16-94-20-108z"/>
<path fill="#ffc337" d="M1652 870l20 25-16-120-19-35z"/>
<path fill="#f8bb44" d="M1632 905l20-35-15-130-20 45z"/>
<path fill="#d1bb59" d="M1612 997l20-92-15-120-20 119z"/>
<path fill="#0871de" d="M1513 1675l20-92-15 80-20 119z"/>
<path fill="#0268e1" d="M1494 1710l19-35-15 107-20 44z"/>
<path fill="#0871de" d="M1474 1685l20 25-16 116-20-34z"/>
<path fill="#f8bb44" d="M1355 976l20 81-16-93-19-108z"/>
<path fill="#ffc337" d="M1335 950l20 26-15-120-20-35z"/>
<path fill="#f8bb44" d="M1315 986l20-36-15-129-20 45z"/>
<path fill="#d1bb59" d="M1296 1078l19-92-15-120-20 118z"/>
<path fill="#0871de" d="M1197 1755l19-91-15 80-20 118z"/>
<path fill="#0998d1" d="M2440 1280l19 11-15 177-20-25z"/>
<path fill="#92bf73" d="M2341 952l19 65-15-77-20-125z"/>
<path fill="#aebe67" d="M2321 910l20 42-16-137-20-81z"/>
<path fill="#b7bd64" d="M2301 898l20 12-16-176-19-26z"/>
<path fill="#aebe67" d="M2281 920l20-22-15-190-20 36z"/>
<path fill="#92bf73" d="M2261 972l20-52-15-176-20 92z"/>
<path fill="#0998d1" d="M2162 1350l20-52-15 124-20 92z"/>
<path fill="#0c93d2" d="M2143 1372l19-22-15 164-20 35z"/>
<path fill="#0998d1" d="M2123 1361l20 11-16 177-20-25z"/>
<path fill="#92bf73" d="M2024 1032l20 66-16-77-20-125z"/>
<path fill="#aebe67" d="M2004 991l20 41-16-136-19-82z"/>
<path fill="#b7bd64" d="M1984 979l20 12-15-177-20-25z"/>
<path fill="#aebe67" d="M1964 1001l20-22-15-190-20 35z"/>
<path fill="#92bf73" d="M1945 1053l19-52-15-177-20 92z"/>
<path fill="#0998d1" d="M1846 1431l19-52-15 123-20 92z"/>
<path fill="#0c93d2" d="M1826 1453l20-22-16 163-20 36z"/>
<path fill="#0998d1" d="M1806 1441l20 12-16 177-19-26z"/>
<path fill="#92bf73" d="M1707 1113l20 65-16-76-19-125z"/>
<path fill="#aebe67" d="M1687 1071l20 42-15-136-20-82z"/>
<path fill="#b7bd64" d="M1667 1060l20 11-15-176-20-25z"/>
<path fill="#aebe67" d="M1648 1081l19-21-15-190-20 35z"/>
<path fill="#92bf73" d="M1628 1133l20-52-16-176-20 92z"/>
<path fill="#06a4ca" d="M1549 1460l19-76-15 64-20 135z"/>
<path fill="#0998d1" d="M1529 1512l20-52-16 123-20 92z"/>
<path fill="#0c93d2" d="M1509 1533l20-21-16 163-19 35z"/>
<path fill="#0998d1" d="M1489 1522l20 11-15 177-20-25z"/>
<path fill="#92bf73" d="M1390 1194l20 65-15-77-20-125z"/>
<path fill="#aebe67" d="M1370 1152l20 42-15-137-20-81z"/>
<path fill="#b7bd64" d="M1351 1140l19 12-15-176-20-26z"/>
<path fill="#aebe67" d="M1331 1162l20-22-16-190-20 36z"/>
<path fill="#92bf73" d="M1311 1214l20-52-16-176-19 92z"/>
<path fill="#06a4ca" d="M1232 1540l20-75-16 64-20 135z"/>
<path fill="#0998d1" d="M1212 1592l20-52-16 124-19 91z"/>
<path fill="#2eb7a4" d="M2376 1107l20-5-16-7-20-78zM2356 1112l20-5-16-90-19-65zM2336 1117l20-5-15-160-20-42zM2316 1122l20-5-15-207-20-12zM2297 1127l19-5-15-224-20 22zM2059 1187l20-5-16-6-19-78zM2039 1192l20-5-15-89-20-66zM2019 1197l20-5-15-160-20-41zM2000 1202l19-5-15-206-20-12zM1980 1207l20-5-16-223-20 22zM1742 1268l20-5-15-7-20-78zM1722 1273l20-5-15-90-20-65zM1703 1278l19-5-15-160-20-42zM1683 1283l20-5-16-207-20-11zM1663 1288l20-5-16-223-19 21z"/>
<path fill="#38b99e" d="M1544 1318l20-5-15 147-20 52zM1524 1323l20-5-15 194-20 21z"/>
<path fill="#2eb7a4" d="M1425 1348l20-5-15-6-20-78zM1406 1354l19-6-15-89-20-65zM1386 1359l20-5-16-160-20-42zM1366 1364l20-5-16-207-19-12zM1346 1369l20-5-15-224-20 22z"/>
<path fill="#38b99e" d="M1267 1389l20-5-16-7-19 88zM1247 1394l20-5-15 76-20 75zM1227 1399l20-5-15 146-20 52z"/>
<path fill="#06a4ca" d="M2372 1271l19-75-15-89-20 5z"/>
<path fill="#0998d1" d="M2352 1323l20-52-16-159-20 5z"/>
<path fill="#0c93d2" d="M2332 1345l20-22-16-206-20 5z"/>
<path fill="#06a4ca" d="M2055 1352l20-75-16-90-20 5z"/>
<path fill="#0998d1" d="M2035 1404l20-52-16-160-20 5z"/>
<path fill="#0c93d2" d="M2015 1425l20-21-16-207-19 5z"/>
<path fill="#06a4ca" d="M1738 1433l20-76-16-89-20 5z"/>
<path fill="#0998d1" d="M1718 1485l20-52-16-160-19 5z"/>
<path fill="#0c93d2" d="M1698 1506l20-21-15-207-20 5z"/>
<path fill="#0faeb9" d="M1441 1438l20-88-16-7-20 5z"/>
<path fill="#06a4ca" d="M1421 1513l20-75-16-90-19 6z"/>
<path fill="#0998d1" d="M1401 1565l20-52-15-159-20 5z"/>
<path fill="#0c93d2" d="M1382 1587l19-22-15-206-20 5z"/>
<path fill="#65be86" d="M1283 1312l19 78-15-6-20 5z"/>
<path fill="#92bf73" d="M1263 1247l20 65-16 77-20 5z"/>
<path fill="#aebe67" d="M1243 1205l20 42-16 147-20 5z"/>
<path fill="#38b99e" d="M1318 1397l20 148-16-77-20-78z"/>
<path fill="#92bf73" d="M1298 1249l20 148-16-7-19-78z"/>
<path fill="#d1bb59" d="M1278 1124l20 125-15 63-20-65z"/>
<path fill="#f8bb44" d="M1258 1042l20 82-15 123-20-42z"/>
<path fill="#0998d1" d="M1353 1599l20 164-16-93-19-125z"/>
<path fill="#38b99e" d="M1333 1403l20 196-15-54-20-148z"/>
<path fill="#aebe67" d="M1313 1208l20 195-15-6-20-148z"/>
<path fill="#f8bb44" d="M1294 1044l19 164-15 41-20-125z"/>
<path fill="#f5de21" d="M1274 935l20 109-16 80-20-82z"/>
<path fill="#f5eb18" d="M2517 590l20-48-16 36-20 45z"/>
<path fill="#ffc337" d="M2497 717l20-127-16 33-19 118z"/>
<path fill="#f5eb18" d="M2200 670l20-48-16 37-19 45z"/>
<path fill="#ffc337" d="M2180 798l20-128-15 34-20 118zM1863 879l20-128-15 33-20 119z"/>
<path fill="#f5eb18" d="M1566 832l20-48-15 36-20 45z"/>
<path fill="#ffc337" d="M1547 959l19-127-15 33-20 118z"/>
<path fill="#0268e1" d="M1388 1800l20 118-15-47-20-108z"/>
<path fill="#0c93d2" d="M1368 1622l20 178-15-37-20-164z"/>
<path fill="#38b99e" d="M1349 1410l19 212-15-23-20-196z"/>
<path fill="#b7bd64" d="M1329 1198l20 212-16-7-20-195z"/>
<path fill="#ffc337" d="M1309 1020l20 178-16 10-19-164z"/>
<path fill="#f5eb18" d="M1289 902l20 118-15 24-20-109z"/>
<path fill="#f5de21" d="M2532 636l20-45-15-49-20 48z"/>
<path fill="#f8bb44" d="M2512 755l20-119-15-46-20 127z"/>
<path fill="#3243ba" d="M2374 1643l20 34-16 37-20-38z"/>
<path fill="#f5eb18" d="M2235 672l20 35-15-47-20-38z"/>
<path fill="#f5de21" d="M2215 717l20-45-15-50-20 48z"/>
<path fill="#f8bb44" d="M2196 835l19-118-15-47-20 128z"/>
<path fill="#3243ba" d="M2057 1723l20 35-16 37-19-38z"/>
<path fill="#f5eb18" d="M1918 753l20 34-15-46-20-38z"/>
<path fill="#f5de21" d="M1899 797l19-44-15-50-20 48z"/>
<path fill="#f8bb44" d="M1879 916l20-119-16-46-20 128z"/>
<path fill="#3243ba" d="M1740 1804l20 35-15 36-20-38z"/>
<path fill="#f5eb18" d="M1602 833l19 35-15-46-20-38z"/>
<path fill="#f5de21" d="M1582 878l20-45-16-49-20 48z"/>
<path fill="#f8bb44" d="M1562 996l20-118-16-46-19 127z"/>
<path fill="#3243ba" d="M1423 1885l20 34-15 37-20-38z"/>
<path fill="#aebe67" d="M1344 1222l20 195-15-7-20-212z"/>
<path fill="#f8bb44" d="M1324 1057l20 165-15-24-20-178z"/>
<path fill="#f5de21" d="M1305 949l19 108-15-37-20-118z"/>
<path fill="#f8bb44" d="M2548 756l20-35-16-130-20 45z"/>
<path fill="#d1bb59" d="M2528 848l20-92-16-120-20 119z"/>
<path fill="#0871de" d="M2429 1526l20-92-16 80-20 119z"/>
<path fill="#0268e1" d="M2409 1561l20-35-16 107-19 44z"/>
<path fill="#0871de" d="M2389 1536l20 25-15 116-20-34z"/>
<path fill="#f8bb44" d="M2271 827l19 81-15-93-20-108z"/>
<path fill="#ffc337" d="M2251 801l20 26-16-120-20-35z"/>
<path fill="#f8bb44" d="M2231 837l20-36-16-129-20 45z"/>
<path fill="#d1bb59" d="M2211 929l20-92-16-120-19 118z"/>
<path fill="#0871de" d="M2112 1606l20-91-16 80-19 118z"/>
<path fill="#0268e1" d="M2092 1642l20-36-15 107-20 45z"/>
<path fill="#0871de" d="M2073 1617l19 25-15 116-20-35z"/>
<path fill="#f8bb44" d="M1954 907l20 82-16-93-20-109z"/>
<path fill="#ffc337" d="M1934 882l20 25-16-120-20-34z"/>
<path fill="#f8bb44" d="M1914 917l20-35-16-129-19 44z"/>
<path fill="#d1bb59" d="M1894 1009l20-92-15-120-20 119z"/>
<path fill="#0871de" d="M1795 1687l20-92-15 80-20 119z"/>
<path fill="#0268e1" d="M1776 1723l19-36-15 107-20 45z"/>
<path fill="#0871de" d="M1756 1697l20 26-16 116-20-35z"/>
<path fill="#f8bb44" d="M1637 988l20 82-16-94-20-108z"/>
<path fill="#ffc337" d="M1617 962l20 26-16-120-19-35z"/>
<path fill="#f8bb44" d="M1597 998l20-36-15-129-20 45z"/>
<path fill="#d1bb59" d="M1578 1090l19-92-15-120-20 118z"/>
<path fill="#0871de" d="M1479 1768l19-92-15 80-20 119z"/>
<path fill="#0268e1" d="M1459 1803l20-35-16 107-20 44z"/>
<path fill="#0871de" d="M1439 1778l20 25-16 116-20-34z"/>
<path fill="#f8bb44" d="M1320 1069l20 81-16-93-19-108z"/>
<path fill="#aebe67" d="M2563 932l20-21-15-190-20 35z"/>
<path fill="#92bf73" d="M2543 984l20-52-15-176-20 92z"/>
<path fill="#06a4ca" d="M2464 1311l20-76-15 64-20 135z"/>
<path fill="#0998d1" d="M2444 1363l20-52-15 123-20 92z"/>
<path fill="#0c93d2" d="M2425 1384l19-21-15 163-20 35z"/>
<path fill="#0998d1" d="M2405 1373l20 11-16 177-20-25z"/>
<path fill="#92bf73" d="M2306 1045l20 65-16-77-20-125z"/>
<path fill="#aebe67" d="M2286 1003l20 42-16-137-19-81z"/>
<path fill="#b7bd64" d="M2266 991l20 12-15-176-20-26z"/>
<path fill="#aebe67" d="M2246 1013l20-22-15-190-20 36z"/>
<path fill="#92bf73" d="M2227 1065l19-52-15-176-20 92z"/>
<path fill="#06a4ca" d="M2147 1391l20-75-15 64-20 135z"/>
<path fill="#0998d1" d="M2128 1443l19-52-15 124-20 91z"/>
<path fill="#0c93d2" d="M2108 1465l20-22-16 163-20 36z"/>
<path fill="#0998d1" d="M2088 1453l20 12-16 177-19-25z"/>
<path fill="#92bf73" d="M1989 1125l20 66-16-77-19-125z"/>
<path fill="#aebe67" d="M1969 1083l20 42-15-136-20-82z"/>
<path fill="#b7bd64" d="M1949 1072l20 11-15-176-20-25z"/>
<path fill="#aebe67" d="M1930 1094l19-22-15-190-20 35z"/>
<path fill="#92bf73" d="M1910 1146l20-52-16-177-20 92z"/>
<path fill="#06a4ca" d="M1831 1472l19-75-15 63-20 135z"/>
<path fill="#0998d1" d="M1811 1524l20-52-16 123-20 92z"/>
<path fill="#0c93d2" d="M1791 1546l20-22-16 163-19 36z"/>
<path fill="#0998d1" d="M1771 1534l20 12-15 177-20-26z"/>
<path fill="#92bf73" d="M1672 1206l20 65-15-77-20-124z"/>
<path fill="#aebe67" d="M1652 1164l20 42-15-136-20-82z"/>
<path fill="#b7bd64" d="M1633 1153l19 11-15-176-20-26z"/>
<path fill="#aebe67" d="M1613 1174l20-21-16-191-20 36z"/>
<path fill="#92bf73" d="M1593 1226l20-52-16-176-19 92z"/>
<path fill="#06a4ca" d="M1514 1553l20-76-16 64-20 135z"/>
<path fill="#0998d1" d="M1494 1605l20-52-16 123-19 92z"/>
<path fill="#0c93d2" d="M1474 1626l20-21-15 163-20 35z"/>
<path fill="#0998d1" d="M1454 1615l20 11-15 177-20-25z"/>
<path fill="#92bf73" d="M1355 1287l20 65-15-77-20-125z"/>
<path fill="#aebe67" d="M1336 1245l19 42-15-137-20-81z"/>
<path fill="#2eb7a4" d="M2579 1139l19-5-15-223-20 21z"/>
<path fill="#38b99e" d="M2460 1169l20-5-16 147-20 52zM2440 1174l20-5-16 194-19 21z"/>
<path fill="#2eb7a4" d="M2341 1199l20-5-16-6-19-78zM2321 1205l20-6-15-89-20-65zM2301 1210l20-5-15-160-20-42zM2282 1215l19-5-15-207-20-12zM2262 1220l20-5-16-224-20 22z"/>
<path fill="#38b99e" d="M2143 1250l20-5-16 146-19 52zM2123 1255l20-5-15 193-20 22z"/>
<path fill="#2eb7a4" d="M2024 1280l20-5-15-7-20-77zM2004 1285l20-5-15-89-20-66zM1985 1290l19-5-15-160-20-42zM1965 1295l20-5-16-207-20-11zM1945 1300l20-5-16-223-19 22z"/>
<path fill="#38b99e" d="M1826 1330l20-5-15 147-20 52zM1806 1336l20-6-15 194-20 22z"/>
<path fill="#2eb7a4" d="M1707 1361l20-5-15-7-20-78zM1688 1366l19-5-15-90-20-65zM1668 1371l20-5-16-160-20-42zM1648 1376l20-5-16-207-19-11zM1628 1381l20-5-15-223-20 21z"/>
<path fill="#38b99e" d="M1529 1406l20-5-15 76-20 76zM1509 1411l20-5-15 147-20 52zM1490 1416l19-5-15 194-20 21z"/>
<path fill="#2eb7a4" d="M1391 1441l19-5-15-6-20-78zM1371 1446l20-5-16-89-20-65zM1351 1451l20-5-16-159-19-42z"/>
<path fill="#0faeb9" d="M2356 1289l20-88-15-7-20 5z"/>
<path fill="#06a4ca" d="M2337 1364l19-75-15-90-20 6z"/>
<path fill="#0998d1" d="M2317 1416l20-52-16-159-20 5z"/>
<path fill="#0c93d2" d="M2297 1438l20-22-16-206-19 5z"/>
<path fill="#0faeb9" d="M2040 1370l19-88-15-7-20 5z"/>
<path fill="#06a4ca" d="M2020 1445l20-75-16-90-20 5z"/>
<path fill="#0998d1" d="M2000 1497l20-52-16-160-19 5z"/>
<path fill="#0c93d2" d="M1980 1518l20-21-15-207-20 5z"/>
<path fill="#0faeb9" d="M1723 1450l20-88-16-6-20 5z"/>
<path fill="#06a4ca" d="M1703 1526l20-76-16-89-19 5z"/>
<path fill="#0998d1" d="M1683 1578l20-52-15-160-20 5z"/>
<path fill="#0c93d2" d="M1663 1599l20-21-15-207-20 5z"/>
<path fill="#38b99e" d="M1426 1443l20-88-16 76-20 5z"/>
<path fill="#0faeb9" d="M1406 1531l20-88-16-7-19 5z"/>
<path fill="#06a4ca" d="M1386 1606l20-75-15-90-20 5z"/>
<path fill="#0998d1" d="M1366 1658l20-52-15-160-20 5z"/>
<path fill="#38b99e" d="M1441 1449l20-158-15 64-20 88z"/>
<path fill="#06a4ca" d="M1421 1608l20-159-15-6-20 88z"/>
<path fill="#1481d6" d="M1402 1743l19-135-15-77-20 75z"/>
<path fill="#0871de" d="M1382 1834l20-91-16-137-20 52z"/>
<path fill="#aebe67" d="M1477 1251l19-175-15 80-20 135z"/>
<path fill="#2eb7a4" d="M1457 1456l20-205-16 40-20 158z"/>
<path fill="#0998d1" d="M1437 1661l20-205-16-7-20 159z"/>
<path fill="#0871de" d="M1417 1836l20-175-16-53-19 135z"/>
<path fill="#3243ba" d="M1397 1954l20-118-15-93-20 91z"/>
<path fill="#f5eb18" d="M2482 683l20-48-16 36-19 45z"/>
<path fill="#ffc337" d="M2462 810l20-127-15 33-20 118z"/>
<path fill="#f5eb18" d="M2165 763l20-48-15 37-20 45z"/>
<path fill="#ffc337" d="M2145 891l20-128-15 34-20 118z"/>
<path fill="#f5eb18" d="M1848 844l20-48-15 36-20 45z"/>
<path fill="#ffc337" d="M1829 972l19-128-15 33-20 119zM1512 1052l20-127-16 33-20 118z"/>
<path fill="#b7bd64" d="M1492 1241l20-189-16 24-19 175z"/>
<path fill="#2eb7a4" d="M1472 1463l20-222-15 10-20 205z"/>
<path fill="#0c93d2" d="M1452 1684l20-221-15-7-20 205z"/>
<path fill="#0268e1" d="M1433 1873l19-189-15-23-20 175z"/>
<path fill="#3637a0" d="M1413 2001l20-128-16-37-20 118z"/>
<path fill="#3243ba" d="M2656 1655l20 35-16 36-20-38z"/>
<path fill="#f5eb18" d="M2517 684l20 35-15-46-20-38z"/>
<path fill="#f5de21" d="M2497 729l20-45-15-49-20 48z"/>
<path fill="#f8bb44" d="M2478 847l19-118-15-46-20 127z"/>
<path fill="#3243ba" d="M2339 1736l20 34-16 37-19-38z"/>
<path fill="#f5eb18" d="M2200 765l20 35-15-47-20-38z"/>
<path fill="#f5de21" d="M2181 810l19-45-15-50-20 48z"/>
<path fill="#f8bb44" d="M2161 928l20-118-16-47-20 128z"/>
<path fill="#3243ba" d="M2022 1816l20 35-15 37-20-39z"/>
<path fill="#f5eb18" d="M1884 845l19 35-15-46-20-38z"/>
<path fill="#f5de21" d="M1864 890l20-45-16-49-20 48z"/>
<path fill="#f8bb44" d="M1844 1009l20-119-16-46-19 128z"/>
<path fill="#3243ba" d="M1705 1897l20 35-15 36-20-38z"/>
<path fill="#f5eb18" d="M1567 926l20 35-16-46-20-39z"/>
<path fill="#f5de21" d="M1547 971l20-45-16-50-19 49z"/>
<path fill="#f8bb44" d="M1527 1089l20-118-15-46-20 127z"/>
<path fill="#aebe67" d="M1507 1264l20-175-15-37-20 189z"/>
<path fill="#2eb7a4" d="M1488 1469l19-205-15-23-20 222z"/>
<path fill="#0998d1" d="M1468 1674l20-205-16-6-20 221z"/>
<path fill="#0871de" d="M1448 1849l20-175-16 10-19 189z"/>
<path fill="#3243ba" d="M1428 1967l20-118-15 24-20 128z"/>
<path fill="#0871de" d="M2671 1548l20 26-15 116-20-35z"/>
<path fill="#f8bb44" d="M2552 839l20 82-15-94-20-108z"/>
<path fill="#ffc337" d="M2533 813l19 26-15-120-20-35z"/>
<path fill="#f8bb44" d="M2513 849l20-36-16-129-20 45z"/>
<path fill="#d1bb59" d="M2493 941l20-92-16-120-19 118z"/>
<path fill="#0871de" d="M2394 1619l20-92-16 80-19 119z"/>
<path fill="#0268e1" d="M2374 1654l20-35-15 107-20 44z"/>
<path fill="#0871de" d="M2354 1629l20 25-15 116-20-34z"/>
<path fill="#f8bb44" d="M2236 920l19 81-15-93-20-108z"/>
<path fill="#ffc337" d="M2216 894l20 26-16-120-20-35z"/>
<path fill="#f8bb44" d="M2196 930l20-36-16-129-19 45z"/>
<path fill="#d1bb59" d="M2176 1021l20-91-15-120-20 118z"/>
<path fill="#0871de" d="M2077 1699l20-91-15 80-20 118z"/>
<path fill="#0268e1" d="M2057 1735l20-36-15 107-20 45z"/>
<path fill="#0871de" d="M2038 1709l19 26-15 116-20-35z"/>
<path fill="#f8bb44" d="M1919 1000l20 82-16-93-20-109z"/>
<path fill="#ffc337" d="M1899 975l20 25-16-120-19-35z"/>
<path fill="#f8bb44" d="M1879 1010l20-35-15-130-20 45z"/>
<path fill="#d1bb59" d="M1859 1102l20-92-15-120-20 119z"/>
<path fill="#0871de" d="M1760 1780l20-92-15 80-20 119z"/>
<path fill="#0268e1" d="M1741 1816l19-36-15 107-20 45z"/>
<path fill="#0871de" d="M1721 1790l20 26-16 116-20-35z"/>
<path fill="#f8bb44" d="M1602 1081l20 82-16-94-19-108z"/>
<path fill="#ffc337" d="M1582 1055l20 26-15-120-20-35z"/>
<path fill="#f8bb44" d="M1562 1091l20-36-15-129-20 45z"/>
<path fill="#d1bb59" d="M1543 1183l19-92-15-120-20 118z"/>
<path fill="#0871de" d="M1444 1861l19-92-15 80-20 118z"/>
<path fill="#0998d1" d="M2687 1385l19 12-15 177-20-26z"/>
<path fill="#92bf73" d="M2588 1057l19 65-15-77-20-124z"/>
<path fill="#aebe67" d="M2568 1015l20 42-16-136-20-82z"/>
<path fill="#b7bd64" d="M2548 1004l20 11-16-176-19-26z"/>
<path fill="#aebe67" d="M2528 1025l20-21-15-191-20 36z"/>
<path fill="#92bf73" d="M2508 1077l20-52-15-176-20 92z"/>
<path fill="#06a4ca" d="M2429 1404l20-76-15 64-20 135z"/>
<path fill="#0998d1" d="M2409 1456l20-52-15 123-20 92z"/>
<path fill="#0c93d2" d="M2390 1477l19-21-15 163-20 35z"/>
<path fill="#0998d1" d="M2370 1466l20 11-16 177-20-25z"/>
<path fill="#92bf73" d="M2271 1138l20 65-16-77-20-125z"/>
<path fill="#aebe67" d="M2251 1096l20 42-16-137-19-81z"/>
<path fill="#b7bd64" d="M2231 1084l20 12-15-176-20-26z"/>
<path fill="#aebe67" d="M2211 1106l20-22-15-190-20 36z"/>
<path fill="#92bf73" d="M2192 1158l19-52-15-176-20 91z"/>
<path fill="#06a4ca" d="M2112 1484l20-75-15 64-20 135z"/>
<path fill="#0998d1" d="M2093 1536l19-52-15 124-20 91z"/>
<path fill="#0c93d2" d="M2073 1558l20-22-16 163-20 36z"/>
<path fill="#0998d1" d="M2053 1546l20 12-16 177-19-26z"/>
<path fill="#92bf73" d="M1954 1218l20 66-16-77-19-125z"/>
<path fill="#aebe67" d="M1934 1176l20 42-15-136-20-82z"/>
<path fill="#b7bd64" d="M1914 1165l20 11-15-176-20-25z"/>
<path fill="#aebe67" d="M1895 1186l19-21-15-190-20 35z"/>
<path fill="#92bf73" d="M1875 1238l20-52-16-176-20 92z"/>
<path fill="#06a4ca" d="M1796 1565l19-75-15 63-20 135z"/>
<path fill="#0998d1" d="M1776 1617l20-52-16 123-20 92z"/>
<path fill="#0c93d2" d="M1756 1638l20-21-16 163-19 36z"/>
<path fill="#0998d1" d="M1736 1627l20 11-15 178-20-26z"/>
<path fill="#92bf73" d="M1637 1299l20 65-15-77-20-124z"/>
<path fill="#aebe67" d="M1617 1257l20 42-15-136-20-82z"/>
<path fill="#b7bd64" d="M1598 1246l19 11-15-176-20-26z"/>
<path fill="#aebe67" d="M1578 1267l20-21-16-191-20 36z"/>
<path fill="#92bf73" d="M1558 1319l20-52-16-176-19 92z"/>
<path fill="#06a4ca" d="M1479 1646l20-76-16 64-20 135z"/>
<path fill="#0998d1" d="M1459 1698l20-52-16 123-19 92z"/>
<path fill="#2eb7a4" d="M2623 1212l20-5-16-7-20-78zM2603 1217l20-5-16-90-19-65zM2583 1222l20-5-15-160-20-42zM2564 1227l19-5-15-207-20-11zM2544 1232l20-5-16-223-20 21z"/>
<path fill="#38b99e" d="M2445 1257l20-5-16 76-20 76zM2425 1262l20-5-16 147-20 52zM2405 1267l20-5-16 194-19 21z"/>
<path fill="#2eb7a4" d="M2306 1292l20-5-16-6-19-78zM2286 1297l20-5-15-89-20-65zM2267 1302l19-5-15-159-20-42zM2247 1308l20-6-16-206-20-12zM2227 1313l20-5-16-224-20 22z"/>
<path fill="#38b99e" d="M2128 1338l20-5-16 76-20 75zM2108 1343l20-5-16 146-19 52zM2088 1348l20-5-15 193-20 22z"/>
<path fill="#2eb7a4" d="M1989 1373l20-5-15-7-20-77zM1970 1378l19-5-15-89-20-66zM1950 1383l20-5-16-160-20-42zM1930 1388l20-5-16-207-20-11zM1910 1393l20-5-16-223-19 21z"/>
<path fill="#38b99e" d="M1811 1418l20-5-16 77-19 75zM1791 1423l20-5-15 147-20 52zM1772 1428l19-5-15 194-20 21z"/>
<path fill="#2eb7a4" d="M1673 1454l19-5-15-7-20-78zM1653 1459l20-5-16-90-20-65zM1633 1464l20-5-16-160-20-42zM1613 1469l20-5-16-207-19-11zM1593 1474l20-5-15-223-20 21z"/>
<path fill="#38b99e" d="M1514 1494l20-5-16-7-19 88zM1494 1499l20-5-15 76-20 76zM1475 1504l19-5-15 147-20 52z"/>
<path fill="#0faeb9" d="M2638 1301l20-88-15-6-20 5z"/>
<path fill="#06a4ca" d="M2619 1377l19-76-15-89-20 5z"/>
<path fill="#0998d1" d="M2599 1429l20-52-16-160-20 5z"/>
<path fill="#0c93d2" d="M2579 1450l20-21-16-207-19 5z"/>
<path fill="#0faeb9" d="M2322 1382l19-88-15-7-20 5z"/>
<path fill="#06a4ca" d="M2302 1457l20-75-16-90-20 5z"/>
<path fill="#0998d1" d="M2282 1509l20-52-16-160-19 5z"/>
<path fill="#0c93d2" d="M2262 1531l20-22-15-207-20 6z"/>
<path fill="#0faeb9" d="M2005 1462l20-87-16-7-20 5z"/>
<path fill="#06a4ca" d="M1985 1538l20-76-16-89-19 5z"/>
<path fill="#0998d1" d="M1965 1590l20-52-15-160-20 5z"/>
<path fill="#0c93d2" d="M1945 1611l20-21-15-207-20 5z"/>
<path fill="#0faeb9" d="M1688 1543l20-88-16-6-19 5z"/>
<path fill="#06a4ca" d="M1668 1618l20-75-15-89-20 5z"/>
<path fill="#0998d1" d="M1648 1670l20-52-15-159-20 5z"/>
<path fill="#0c93d2" d="M1629 1692l19-22-15-206-20 5z"/>
<path fill="#65be86" d="M1530 1418l19 78-15-7-20 5z"/>
<path fill="#92bf73" d="M1510 1352l20 66-16 76-20 5z"/>
<path fill="#aebe67" d="M1490 1311l20 41-16 147-19 5z"/>
<path fill="#38b99e" d="M1565 1502l20 148-16-77-20-77z"/>
<path fill="#92bf73" d="M1545 1354l20 148-16-6-19-78z"/>
<path fill="#d9ba56" d="M1525 1229l20 125-15 64-20-66z"/>
<path fill="#f8bb44" d="M1505 1147l20 82-15 123-20-41z"/>
<path fill="#0998d1" d="M1600 1704l20 164-16-93-19-125z"/>
<path fill="#38b99e" d="M1580 1509l20 195-15-54-20-148z"/>
<path fill="#aebe67" d="M1560 1314l20 195-15-7-20-148z"/>
<path fill="#f8bb44" d="M1541 1149l19 165-15 40-20-125z"/>
<path fill="#f5de21" d="M1521 1041l20 108-16 80-20-82z"/>
<path fill="#f5eb18" d="M2764 695l20-48-16 36-20 45z"/>
<path fill="#ffc337" d="M2744 823l20-128-16 33-19 119z"/>
<path fill="#f5eb18" d="M2447 776l20-49-16 37-19 45z"/>
<path fill="#ffc337" d="M2427 903l20-127-15 33-20 118z"/>
<path fill="#f5eb18" d="M2130 856l20-48-15 37-20 44z"/>
<path fill="#ffc337" d="M2110 984l20-128-15 33-20 119z"/>
<path fill="#f5eb18" d="M1813 937l20-48-15 36-20 45z"/>
<path fill="#ffc337" d="M1794 1065l19-128-15 33-20 119z"/>
<path fill="#0268e1" d="M1635 1905l20 118-15-46-20-109z"/>
<path fill="#0c93d2" d="M1615 1727l20 178-15-37-20-164z"/>
<path fill="#38b99e" d="M1596 1515l19 212-15-23-20-195z"/>
<path fill="#b7bd64" d="M1576 1304l20 211-16-6-20-195z"/>
<path fill="#ffc337" d="M1556 1125l20 179-16 10-19-165z"/>
<path fill="#f5eb18" d="M1536 1007l20 118-15 24-20-108z"/>
<path fill="#f5de21" d="M2779 741l20-45-15-49-20 48z"/>
<path fill="#f8bb44" d="M2760 860l19-119-15-46-20 128z"/>
<path fill="#3243ba" d="M2621 1748l20 35-16 36-20-38z"/>
<path fill="#0871de" d="M2601 1640l20 108-16 33-19-118z"/>
<path fill="#f5eb18" d="M2482 777l20 35-15-46-20-39z"/>
<path fill="#f5de21" d="M2463 822l19-45-15-50-20 49z"/>
<path fill="#f8bb44" d="M2443 940l20-118-16-46-20 127z"/>
<path fill="#3243ba" d="M2304 1829l20 34-16 37-19-38z"/>
<path fill="#0871de" d="M2284 1720l20 109-15 33-20-118z"/>
<path fill="#f5eb18" d="M2166 858l19 35-15-47-20-38z"/>
<path fill="#f5de21" d="M2146 903l20-45-16-50-20 48z"/>
<path fill="#f8bb44" d="M2126 1021l20-118-16-47-20 128z"/>
<path fill="#3243ba" d="M1987 1909l20 35-15 36-20-38z"/>
<path fill="#0871de" d="M1968 1801l19 108-15 33-20-117z"/>
<path fill="#f5eb18" d="M1849 938l20 35-16-46-20-38z"/>
<path fill="#f5de21" d="M1829 983l20-45-16-49-20 48z"/>
<path fill="#f8bb44" d="M1809 1102l20-119-16-46-19 128z"/>
<path fill="#3243ba" d="M1671 1990l19 35-15 36-20-38z"/>
<path fill="#0871de" d="M1651 1881l20 109-16 33-20-118z"/>
<path fill="#aebe67" d="M1591 1327l20 195-15-7-20-211z"/>
<path fill="#f8bb44" d="M1572 1162l19 165-15-23-20-179z"/>
<path fill="#f5de21" d="M1552 1054l20 108-16-37-20-118z"/>
<path fill="#f8bb44" d="M2795 861l20-35-16-130-20 45z"/>
<path fill="#d1bb59" d="M2775 953l20-92-16-120-19 119z"/>
<path fill="#0871de" d="M2676 1631l20-92-16 80-19 119z"/>
<path fill="#0268e1" d="M2656 1667l20-36-15 107-20 45z"/>
<path fill="#0871de" d="M2636 1641l20 26-15 116-20-35z"/>
<path fill="#1485d4" d="M2617 1559l19 82-15 107-20-108z"/>
<path fill="#f8bb44" d="M2518 932l19 82-15-94-20-108z"/>
<path fill="#ffc337" d="M2498 906l20 26-16-120-20-35z"/>
<path fill="#f8bb44" d="M2478 942l20-36-16-129-19 45z"/>
<path fill="#d1bb59" d="M2458 1034l20-92-15-120-20 118z"/>
<path fill="#0871de" d="M2359 1712l20-92-15 80-20 118z"/>
<path fill="#0268e1" d="M2339 1747l20-35-15 106-20 45z"/>
<path fill="#0871de" d="M2320 1722l19 25-15 116-20-34z"/>
<path fill="#1485d4" d="M2300 1640l20 82-16 107-20-109z"/>
<path fill="#f8bb44" d="M2201 1012l20 82-16-93-20-108z"/>
<path fill="#ffc337" d="M2181 987l20 25-16-119-19-35z"/>
<path fill="#f8bb44" d="M2161 1023l20-36-15-129-20 45z"/>
<path fill="#d1bb59" d="M2141 1114l20-91-15-120-20 118z"/>
<path fill="#0871de" d="M2042 1792l20-91-15 80-20 118z"/>
<path fill="#0268e1" d="M2023 1828l19-36-15 107-20 45z"/>
<path fill="#0871de" d="M2003 1802l20 26-16 116-20-35z"/>
<path fill="#1485d4" d="M1983 1721l20 81-16 107-19-108z"/>
<path fill="#f8bb44" d="M1884 1093l20 82-16-94-19-108z"/>
<path fill="#ffc337" d="M1864 1068l20 25-15-120-20-35z"/>
<path fill="#f8bb44" d="M1844 1103l20-35-15-130-20 45z"/>
<path fill="#d1bb59" d="M1825 1195l19-92-15-120-20 119z"/>
<path fill="#0871de" d="M1726 1873l19-92-15 80-20 119z"/>
<path fill="#0268e1" d="M1706 1908l20-35-16 107-20 45z"/>
<path fill="#0871de" d="M1686 1883l20 25-16 117-19-35z"/>
<path fill="#1485d4" d="M1666 1801l20 82-15 107-20-109z"/>
<path fill="#f8bb44" d="M1567 1174l20 81-15-93-20-108z"/>
<path fill="#aebe67" d="M2810 1037l20-21-15-190-20 35z"/>
<path fill="#92bf73" d="M2790 1089l20-52-15-176-20 92z"/>
<path fill="#06a4ca" d="M2711 1416l20-75-15 63-20 135z"/>
<path fill="#0998d1" d="M2691 1468l20-52-15 123-20 92z"/>
<path fill="#0c93d2" d="M2672 1489l19-21-15 163-20 36z"/>
<path fill="#0998d1" d="M2652 1478l20 11-16 178-20-26z"/>
<path fill="#06a4ca" d="M2632 1436l20 42-16 163-19-82z"/>
<path fill="#92bf73" d="M2553 1150l20 65-16-77-20-124z"/>
<path fill="#aebe67" d="M2533 1108l20 42-16-136-19-82z"/>
<path fill="#b7bd64" d="M2513 1097l20 11-15-176-20-26z"/>
<path fill="#aebe67" d="M2493 1118l20-21-15-191-20 36z"/>
<path fill="#92bf73" d="M2474 1170l19-52-15-176-20 92z"/>
<path fill="#06a4ca" d="M2394 1497l20-76-15 64-20 135z"/>
<path fill="#0998d1" d="M2375 1549l19-52-15 123-20 92z"/>
<path fill="#0c93d2" d="M2355 1570l20-21-16 163-20 35z"/>
<path fill="#0998d1" d="M2335 1559l20 11-16 177-19-25z"/>
<path fill="#06a4ca" d="M2315 1517l20 42-15 163-20-82z"/>
<path fill="#92bf73" d="M2236 1231l20 65-16-77-19-125z"/>
<path fill="#aebe67" d="M2216 1189l20 42-15-137-20-82z"/>
<path fill="#b7bd64" d="M2196 1177l20 12-15-177-20-25z"/>
<path fill="#aebe67" d="M2177 1199l19-22-15-190-20 36z"/>
<path fill="#92bf73" d="M2157 1251l20-52-16-176-20 91z"/>
<path fill="#06a4ca" d="M2078 1577l19-75-15 64-20 135z"/>
<path fill="#0998d1" d="M2058 1629l20-52-16 124-20 91z"/>
<path fill="#0c93d2" d="M2038 1651l20-22-16 163-19 36z"/>
<path fill="#0998d1" d="M2018 1639l20 12-15 177-20-26z"/>
<path fill="#06a4ca" d="M1998 1597l20 42-15 163-20-81z"/>
<path fill="#92bf73" d="M1919 1311l20 65-15-76-20-125z"/>
<path fill="#aebe67" d="M1899 1269l20 42-15-136-20-82z"/>
<path fill="#b7bd64" d="M1880 1258l19 11-15-176-20-25z"/>
<path fill="#aebe67" d="M1860 1279l20-21-16-190-20 35z"/>
<path fill="#92bf73" d="M1840 1331l20-52-16-176-19 92z"/>
<path fill="#06a4ca" d="M1761 1658l20-75-16 63-20 135z"/>
<path fill="#0998d1" d="M1741 1710l20-52-16 123-19 92z"/>
<path fill="#0c93d2" d="M1721 1731l20-21-15 163-20 35z"/>
<path fill="#0998d1" d="M1701 1720l20 11-15 177-20-25z"/>
<path fill="#06a4ca" d="M1682 1678l19 42-15 163-20-82z"/>
<path fill="#92bf73" d="M1602 1392l20 65-15-77-20-125z"/>
<path fill="#aebe67" d="M1583 1350l19 42-15-137-20-81z"/>
<path fill="#2eb7a4" d="M2826 1244l19-5-15-223-20 21z"/>
<path fill="#38b99e" d="M2806 1249l20-5-16-207-20 52zM2746 1264l20-5-15-6-20 88zM2727 1269l19-5-15 77-20 75zM2707 1274l20-5-16 147-20 52zM2687 1279l20-5-16 194-19 21zM2667 1285l20-6-15 210-20-11zM2647 1290l20-5-15 193-20-42zM2588 1305l20-5-16-7-19-78zM2568 1310l20-5-15-90-20-65z"/>
<path fill="#2eb7a4" d="M2548 1315l20-5-15-160-20-42zM2529 1320l19-5-15-207-20-11zM2509 1325l20-5-16-223-20 21z"/>
<path fill="#38b99e" d="M2489 1330l20-5-16-207-19 52zM2430 1345l19-5-15-7-20 88zM2410 1350l20-5-16 76-20 76zM2390 1355l20-5-16 147-19 52zM2370 1360l20-5-15 194-20 21zM2350 1365l20-5-15 210-20-11zM2331 1370l19-5-15 194-20-42zM2271 1385l20-5-15-6-20-78zM2251 1390l20-5-15-89-20-65z"/>
<path fill="#2eb7a4" d="M2232 1395l19-5-15-159-20-42zM2212 1400l20-5-16-206-20-12zM2192 1405l20-5-16-223-19 22z"/>
<path fill="#38b99e" d="M2172 1410l20-5-15-206-20 52zM2113 1426l20-5-16-7-20 88zM2093 1431l20-5-16 76-19 75zM2073 1436l20-5-15 146-20 52zM2053 1441l20-5-15 193-20 22zM2034 1446l19-5-15 210-20-12zM2014 1451l20-5-16 193-20-42zM1954 1466l20-5-15-7-20-78zM1935 1471l19-5-15-90-20-65z"/>
<path fill="#2eb7a4" d="M1915 1476l20-5-16-160-20-42zM1895 1481l20-5-16-207-19-11zM1875 1486l20-5-15-223-20 21z"/>
<path fill="#38b99e" d="M1855 1491l20-5-15-207-20 52zM1796 1506l20-5-16-6-19 88zM1776 1511l20-5-15 77-20 75zM1756 1516l20-5-15 147-20 52zM1737 1521l19-5-15 194-20 21zM1717 1526l20-5-16 210-20-11zM1697 1531l20-5-16 194-19-42zM1638 1547l19-5-15-7-20-78zM1618 1552l20-5-16-90-20-65z"/>
<path fill="#2eb7a4" d="M1598 1557l20-5-16-160-19-42z"/>
<path fill="#0998d1" d="M2841 1451l20 11-16-223-19 5z"/>
<path fill="#06a4ca" d="M2821 1409l20 42-15-207-20 5z"/>
<path fill="#65be86" d="M2762 1188l20 78-16-7-20 5z"/>
<path fill="#92bf73" d="M2742 1123l20 65-16 76-19 5z"/>
<path fill="#aebe67" d="M2722 1081l20 42-15 146-20 5z"/>
<path fill="#b7bd64" d="M2702 1069l20 12-15 193-20 5z"/>
<path fill="#aebe67" d="M2683 1091l19-22-15 210-20 6z"/>
<path fill="#92bf73" d="M2663 1143l20-52-16 194-20 5z"/>
<path fill="#38b99e" d="M2623 1306l20-88-15 77-20 5z"/>
<path fill="#0faeb9" d="M2603 1394l20-88-15-6-20 5z"/>
<path fill="#06a4ca" d="M2584 1469l19-75-15-89-20 5z"/>
<path fill="#0998d1" d="M2564 1521l20-52-16-159-20 5z"/>
<path fill="#0c93d2" d="M2544 1543l20-22-16-206-19 5z"/>
<path fill="#0998d1" d="M2524 1532l20 11-15-223-20 5z"/>
<path fill="#06a4ca" d="M2504 1490l20 42-15-207-20 5z"/>
<path fill="#65be86" d="M2445 1269l20 78-16-7-19 5z"/>
<path fill="#92bf73" d="M2425 1203l20 66-15 76-20 5z"/>
<path fill="#aebe67" d="M2405 1162l20 41-15 147-20 5z"/>
<path fill="#b7bd64" d="M2386 1150l19 12-15 193-20 5z"/>
<path fill="#aebe67" d="M2366 1172l20-22-16 210-20 5z"/>
<path fill="#92bf73" d="M2346 1224l20-52-16 193-19 5z"/>
<path fill="#2eb7a4" d="M2306 1387l20-88-15 76-20 5z"/>
<path fill="#0faeb9" d="M2287 1475l19-88-15-7-20 5z"/>
<path fill="#06a4ca" d="M2267 1550l20-75-16-90-20 5z"/>
<path fill="#0998d1" d="M2247 1602l20-52-16-160-19 5z"/>
<path fill="#0c93d2" d="M2227 1624l20-22-15-207-20 5z"/>
<path fill="#0998d1" d="M2207 1612l20 12-15-224-20 5z"/>
<path fill="#06a4ca" d="M2188 1570l19 42-15-207-20 5z"/>
<path fill="#65be86" d="M2128 1349l20 78-15-6-20 5z"/>
<path fill="#92bf73" d="M2108 1284l20 65-15 77-20 5z"/>
<path fill="#aebe67" d="M2089 1242l19 42-15 147-20 5z"/>
<path fill="#b7bd64" d="M2069 1231l20 11-16 194-20 5z"/>
<path fill="#aebe67" d="M2049 1252l20-21-16 210-19 5z"/>
<path fill="#92bf73" d="M2029 1304l20-52-15 194-20 5z"/>
<path fill="#2eb7a4" d="M1990 1467l19-87-15 76-20 5z"/>
<path fill="#0faeb9" d="M1970 1555l20-88-16-6-20 5z"/>
<path fill="#06a4ca" d="M1950 1631l20-76-16-89-19 5z"/>
<path fill="#0998d1" d="M1930 1683l20-52-15-160-20 5z"/>
<path fill="#0c93d2" d="M1910 1704l20-21-15-207-20 5z"/>
<path fill="#0998d1" d="M1891 1693l19 11-15-223-20 5z"/>
<path fill="#06a4ca" d="M1871 1651l20 42-16-207-20 5z"/>
<path fill="#65be86" d="M1811 1430l20 78-15-7-20 5z"/>
<path fill="#92bf73" d="M1792 1365l19 65-15 76-20 5z"/>
<path fill="#aebe67" d="M1772 1323l20 42-16 146-20 5z"/>
<path fill="#b7bd64" d="M1752 1311l20 12-16 193-19 5z"/>
<path fill="#aebe67" d="M1732 1333l20-22-15 210-20 5z"/>
<path fill="#92bf73" d="M1712 1385l20-52-15 193-20 5z"/>
<path fill="#38b99e" d="M1673 1548l20-88-16 76-20 6z"/>
<path fill="#0faeb9" d="M1653 1636l20-88-16-6-19 5z"/>
<path fill="#06a4ca" d="M1633 1711l20-75-15-89-20 5z"/>
<path fill="#0998d1" d="M1613 1763l20-52-15-159-20 5z"/>
<path fill="#0871de" d="M2857 1627l19 26-15-191-20-11z"/>
<path fill="#1485d4" d="M2837 1545l20 82-16-176-20-42z"/>
<path fill="#38b99e" d="M2797 1272l20 149-16-77-19-78z"/>
<path fill="#92bf73" d="M2777 1124l20 148-15-6-20-78z"/>
<path fill="#d9ba56" d="M2758 1000l19 124-15 64-20-65z"/>
<path fill="#f8bb44" d="M2738 918l20 82-16 123-20-42z"/>
<path fill="#ffc337" d="M2718 892l20 26-16 163-20-12z"/>
<path fill="#f8bb44" d="M2698 928l20-36-16 177-19 22z"/>
<path fill="#d1bb59" d="M2678 1020l20-92-15 163-20 52z"/>
<path fill="#38b99e" d="M2639 1313l20-158-16 63-20 88z"/>
<path fill="#06a4ca" d="M2619 1471l20-158-16-7-20 88z"/>
<path fill="#1485d4" d="M2599 1606l20-135-16-77-19 75z"/>
<path fill="#0871de" d="M2579 1698l20-92-15-137-20 52z"/>
<path fill="#0268e1" d="M2560 1733l19-35-15-177-20 22z"/>
<path fill="#0871de" d="M2540 1708l20 25-16-190-20-11z"/>
<path fill="#1485d4" d="M2520 1626l20 82-16-176-20-42z"/>
<path fill="#38b99e" d="M2480 1353l20 148-15-77-20-77z"/>
<path fill="#92bf73" d="M2461 1205l19 148-15-6-20-78z"/>
<path fill="#d9ba56" d="M2441 1080l20 125-16 64-20-66z"/>
<path fill="#f8bb44" d="M2421 998l20 82-16 123-20-41z"/>
<path fill="#ffc337" d="M2401 973l20 25-16 164-19-12z"/>
<path fill="#f8bb44" d="M2381 1009l20-36-15 177-20 22z"/>
<path fill="#d1bb59" d="M2362 1100l19-91-15 163-20 52z"/>
<path fill="#2eb7a4" d="M2322 1393l20-158-16 64-20 88z"/>
<path fill="#06a4ca" d="M2302 1552l20-159-16-6-19 88z"/>
<path fill="#1485d4" d="M2282 1686l20-134-15-77-20 75z"/>
<path fill="#0871de" d="M2263 1778l19-92-15-136-20 52z"/>
<path fill="#0268e1" d="M2243 1814l20-36-16-176-20 22z"/>
<path fill="#0871de" d="M2223 1788l20 26-16-190-20-12z"/>
<path fill="#1485d4" d="M2203 1707l20 81-16-176-19-42z"/>
<path fill="#38b99e" d="M2164 1434l19 148-15-77-20-78z"/>
<path fill="#92bf73" d="M2144 1286l20 148-16-7-20-78z"/>
<path fill="#d1bb59" d="M2124 1161l20 125-16 63-20-65z"/>
<path fill="#f8bb44" d="M2104 1079l20 82-16 123-19-42z"/>
<path fill="#ffc337" d="M2084 1054l20 25-15 163-20-11z"/>
<path fill="#f8bb44" d="M2065 1089l19-35-15 177-20 21z"/>
<path fill="#d1bb59" d="M2045 1181l20-92-16 163-20 52z"/>
<path fill="#2eb7a4" d="M2005 1474l20-158-16 64-19 87z"/>
<path fill="#06a4ca" d="M1985 1632l20-158-15-7-20 88z"/>
<path fill="#1481d6" d="M1966 1767l19-135-15-77-20 76z"/>
<path fill="#0871de" d="M1946 1859l20-92-16-136-20 52z"/>
<path fill="#0268e1" d="M1926 1894l20-35-16-176-20 21z"/>
<path fill="#0871de" d="M1906 1869l20 25-16-190-19-11z"/>
<path fill="#1485d4" d="M1886 1787l20 82-15-176-20-42z"/>
<path fill="#38b99e" d="M1847 1514l20 148-16-76-20-78z"/>
<path fill="#92bf73" d="M1827 1366l20 148-16-6-20-78z"/>
<path fill="#d9ba56" d="M1807 1241l20 125-16 64-19-65z"/>
<path fill="#f8bb44" d="M1787 1160l20 81-15 124-20-42z"/>
<path fill="#ffc337" d="M1768 1134l19 26-15 163-20-12z"/>
<path fill="#f8bb44" d="M1748 1170l20-36-16 177-20 22z"/>
<path fill="#d9ba56" d="M1728 1262l20-92-16 163-20 52z"/>
<path fill="#38b99e" d="M1688 1555l20-159-15 64-20 88z"/>
<path fill="#06a4ca" d="M1669 1713l19-158-15-7-20 88z"/>
<path fill="#1481d6" d="M1649 1848l20-135-16-77-20 75z"/>
<path fill="#0871de" d="M1629 1940l20-92-16-137-20 52z"/>
<path fill="#3243ba" d="M2872 1747l20 35-16-129-19-26z"/>
<path fill="#0871de" d="M2852 1639l20 108-15-120-20-82z"/>
<path fill="#0998d1" d="M2832 1474l20 165-15-94-20-124z"/>
<path fill="#38b99e" d="M2813 1279l19 195-15-53-20-149z"/>
<path fill="#aebe67" d="M2793 1084l20 195-16-7-20-148z"/>
<path fill="#f8bb44" d="M2773 919l20 165-16 40-19-124z"/>
<path fill="#f5de21" d="M2753 811l20 108-15 81-20-82z"/>
<path fill="#f5eb18" d="M2733 776l20 35-15 107-20-26z"/>
<path fill="#f5de21" d="M2714 821l19-45-15 116-20 36z"/>
<path fill="#f8bb44" d="M2694 940l20-119-16 107-20 92z"/>
<path fill="#aebe67" d="M2674 1114l20-174-16 80-19 135z"/>
<path fill="#38b99e" d="M2654 1319l20-205-15 41-20 158z"/>
<path fill="#0998d1" d="M2634 1524l20-205-15-6-20 158z"/>
<path fill="#0871de" d="M2615 1699l19-175-15-53-20 135z"/>
<path fill="#3243ba" d="M2595 1818l20-119-16-93-20 92z"/>
<path fill="#3637a0" d="M2575 1862l20-44-16-120-19 35z"/>
<path fill="#3243ba" d="M2555 1828l20 34-15-129-20-25z"/>
<path fill="#0871de" d="M2535 1719l20 109-15-120-20-82z"/>
<path fill="#0998d1" d="M2516 1555l19 164-15-93-20-125z"/>
<path fill="#38b99e" d="M2496 1360l20 195-16-54-20-148z"/>
<path fill="#aebe67" d="M2476 1165l20 195-16-7-19-148z"/>
<path fill="#f8bb44" d="M2456 1000l20 165-15 40-20-125z"/>
<path fill="#f5de21" d="M2436 892l20 108-15 80-20-82z"/>
<path fill="#f5eb18" d="M2417 857l19 35-15 106-20-25z"/>
<path fill="#f5de21" d="M2397 902l20-45-16 116-20 36z"/>
<path fill="#f8bb44" d="M2377 1020l20-118-16 107-19 91z"/>
<path fill="#aebe67" d="M2357 1195l20-175-15 80-20 135z"/>
<path fill="#2eb7a4" d="M2337 1400l20-205-15 40-20 158z"/>
<path fill="#0998d1" d="M2318 1605l19-205-15-7-20 159z"/>
<path fill="#0871de" d="M2298 1780l20-175-16-53-20 134z"/>
<path fill="#3243ba" d="M2278 1898l20-118-16-94-19 92z"/>
<path fill="#3637a0" d="M2258 1943l20-45-15-120-20 36z"/>
<path fill="#3243ba" d="M2238 1908l20 35-15-129-20-26z"/>
<path fill="#0871de" d="M2219 1800l19 108-15-120-20-81z"/>
<path fill="#0998d1" d="M2199 1635l20 165-16-93-20-125z"/>
<path fill="#38b99e" d="M2179 1440l20 195-16-53-19-148z"/>
<path fill="#aebe67" d="M2159 1245l20 195-15-6-20-148z"/>
<path fill="#f8bb44" d="M2139 1081l20 164-15 41-20-125z"/>
<path fill="#f5de21" d="M2120 972l19 109-15 80-20-82z"/>
<path fill="#f5eb18" d="M2100 938l20 34-16 107-20-25z"/>
<path fill="#f5de21" d="M2080 982l20-44-16 116-19 35z"/>
<path fill="#f8bb44" d="M2060 1101l20-119-15 107-20 92z"/>
<path fill="#aebe67" d="M2040 1275l20-174-15 80-20 135z"/>
<path fill="#2eb7a4" d="M2021 1481l19-206-15 41-20 158z"/>
<path fill="#0998d1" d="M2001 1686l20-205-16-7-20 158z"/>
<path fill="#0871de" d="M1981 1860l20-174-16-54-19 135z"/>
<path fill="#3243ba" d="M1961 1979l20-119-15-93-20 92z"/>
<path fill="#3637a0" d="M1941 2024l20-45-15-120-20 35z"/>
<path fill="#3243ba" d="M1922 1989l19 35-15-130-20-25z"/>
<path fill="#0871de" d="M1902 1881l20 108-16-120-20-82z"/>
<path fill="#0998d1" d="M1882 1716l20 165-16-94-19-125z"/>
<path fill="#38b99e" d="M1862 1521l20 195-15-54-20-148z"/>
<path fill="#aebe67" d="M1842 1326l20 195-15-7-20-148z"/>
<path fill="#f8bb44" d="M1823 1161l19 165-15 40-20-125z"/>
<path fill="#f5de21" d="M1803 1053l20 108-16 80-20-81z"/>
<path fill="#f5eb18" d="M1783 1018l20 35-16 107-19-26z"/>
<path fill="#f5de21" d="M1763 1063l20-45-15 116-20 36z"/>
<path fill="#f8bb44" d="M1743 1181l20-118-15 107-20 92z"/>
<path fill="#aebe67" d="M1724 1356l19-175-15 81-20 134z"/>
<path fill="#2eb7a4" d="M1704 1561l20-205-16 40-20 159z"/>
<path fill="#0998d1" d="M1684 1766l20-205-16-6-19 158z"/>
<path fill="#0871de" d="M1664 1941l20-175-15-53-20 135z"/>
<path fill="#3243ba" d="M1644 2059l20-118-15-93-20 92z"/></g>
</g>
<g id="a2">
<path d="M162.5 481.6L36.3 428.4" stroke="#dcdcdc" stroke-width="0.6" fill="none"/>
<path d="M162.5 481.6L322.5 441.4" stroke="#dcdcdc" stroke-width="0.6" fill="none"/>
<path d="M36.3 428.4L36.3 312.8" stroke="#dcdcdc" stroke-width="0.6" fill="none"/>
<path d="M322.5 441.4L322.5 325.8" stroke="#dcdcdc" stroke-width="0.6" fill="none"/>
<path d="M202.5 471.6L76.3 418.4" stroke="#dcdcdc" stroke-width="0.6" fill="none"/>
<path d="M130.9 468.3L290.9 428.1" stroke="#dcdcdc" stroke-width="0.6" fill="none"/>
<path d="M76.3 418.4L76.3 302.8" stroke="#dcdcdc" stroke-width="0.6" fill="none"/>
<path d="M290.9 428.1L290.9 312.5" stroke="#dcdcdc" stroke-width="0.6" fill="none"/>
<path d="M242.5 461.5L116.3 408.3" stroke="#dcdcdc" stroke-width="0.6" fill="none"/>
<path d="M99.4 455.0L259.4 414.8" stroke="#dcdcdc" stroke-width="0.6" fill="none"/>
<path d="M116.3 408.3L116.3 292.7" stroke="#dcdcdc" stroke-width="0.6" fill="none"/>
<path d="M259.4 414.8L259.4 299.2" stroke="#dcdcdc" stroke-width="0.6" fill="none"/>
<path d="M282.5 451.5L156.3 398.3" stroke="#dcdcdc" stroke-width="0.6" fill="none"/>
<path d="M67.9 441.7L227.9 401.5" stroke="#dcdcdc" stroke-width="0.6" fill="none"/>
<path d="M156.3 398.3L156.3 282.7" stroke="#dcdcdc" stroke-width="0.6" fill="none"/>
<path d="M227.9 401.5L227.9 285.9" stroke="#dcdcdc" stroke-width="0.6" fill="none"/>
<path d="M322.5 441.4L196.3 388.2" stroke="#dcdcdc" stroke-width="0.6" fill="none"/>
<path d="M36.3 428.4L196.3 388.2" stroke="#dcdcdc" stroke-width="0.6" fill="none"/>
<path d="M196.3 388.2L196.3 272.6" stroke="#dcdcdc" stroke-width="0.6" fill="none"/>
<path d="M196.3 388.2L196.3 272.6" stroke="#dcdcdc" stroke-width="0.6" fill="none"/>
<path d="M36.3 428.4L196.3 388.2" stroke="#dcdcdc" stroke-width="0.6" fill="none"/>
<path d="M196.3 388.2L322.5 441.4" stroke="#dcdcdc" stroke-width="0.6" fill="none"/>
<path d="M36.3 409.1L196.3 368.9" stroke="#dcdcdc" stroke-width="0.6" fill="none"/>
<path d="M196.3 368.9L322.5 422.1" stroke="#dcdcdc" stroke-width="0.6" fill="none"/>
<path d="M36.3 389.9L196.3 349.7" stroke="#dcdcdc" stroke-width="0.6" fill="none"/>
<path d="M196.3 349.7L322.5 402.9" stroke="#dcdcdc" stroke-width="0.6" fill="none"/>
<path d="M36.3 370.6L196.3 330.4" stroke="#dcdcdc" stroke-width="0.6" fill="none"/>
<path d="M196.3 330.4L322.5 383.6" stroke="#dcdcdc" stroke-width="0.6" fill="none"/>
<path d="M36.3 351.4L196.3 311.2" stroke="#dcdcdc" stroke-width="0.6" fill="none"/>
<path d="M196.3 311.2L322.5 364.4" stroke="#dcdcdc" stroke-width="0.6" fill="none"/>
<path d="M36.3 332.1L196.3 291.9" stroke="#dcdcdc" stroke-width="0.6" fill="none"/>
<path d="M196.3 291.9L322.5 345.1" stroke="#dcdcdc" stroke-width="0.6" fill="none"/>
<path d="M36.3 312.8L196.3 272.6" stroke="#dcdcdc" stroke-width="0.6" fill="none"/>
<path d="M196.3 272.6L322.5 325.8" stroke="#dcdcdc" stroke-width="0.6" fill="none"/>
<path d="M36.3 428.4L36.3 312.8" stroke="#404040" stroke-width="0.9" fill="none"/>
<path d="M162.5 481.6L322.5 441.4" stroke="#404040" stroke-width="0.9" fill="none"/>
<path d="M162.5 481.6L36.3 428.4" stroke="#404040" stroke-width="0.9" fill="none"/>
<path d="M36.3 428.4L33.1 427.4" stroke="#404040" stroke-width="0.7" fill="none"/>
<path d="M36.3 409.1L33.1 408.1" stroke="#404040" stroke-width="0.7" fill="none"/>
<path d="M36.3 389.9L33.1 388.9" stroke="#404040" stroke-width="0.7" fill="none"/>
<path d="M36.3 370.6L33.1 369.6" stroke="#404040" stroke-width="0.7" fill="none"/>
<path d="M36.3 351.4L33.1 350.4" stroke="#404040" stroke-width="0.7" fill="none"/>
<path d="M36.3 332.1L33.1 331.1" stroke="#404040" stroke-width="0.7" fill="none"/>
<path d="M36.3 312.8L33.1 311.8" stroke="#404040" stroke-width="0.7" fill="none"/>
<path d="M162.5 481.6L165.3 482.8" stroke="#404040" stroke-width="0.7" fill="none"/>
<path d="M162.5 481.6L159.6 482.3" stroke="#404040" stroke-width="0.7" fill="none"/>
<path d="M202.5 471.6L205.3 472.8" stroke="#404040" stroke-width="0.7" fill="none"/>
<path d="M130.9 468.3L128.0 469.0" stroke="#404040" stroke-width="0.7" fill="none"/>
<path d="M242.5 461.5L245.3 462.7" stroke="#404040" stroke-width="0.7" fill="none"/>
<path d="M99.4 455.0L96.5 455.7" stroke="#404040" stroke-width="0.7" fill="none"/>
<path d="M282.5 451.5L285.3 452.7" stroke="#404040" stroke-width="0.7" fill="none"/>
<path d="M67.9 441.7L65.0 442.4" stroke="#404040" stroke-width="0.7" fill="none"/>
<path d="M322.5 441.4L325.3 442.6" stroke="#404040" stroke-width="0.7" fill="none"/>
<path d="M36.3 428.4L33.4 429.1" stroke="#404040" stroke-width="0.7" fill="none"/>
<g font-family="Liberation Sans, sans-serif" font-size="7.8" fill="#505050"><text x="28.0" y="430.0" text-anchor="end">-0.8</text><text x="28.0" y="410.7" text-anchor="end">-0.6</text><text x="28.0" y="391.5" text-anchor="end">-0.4</text><text x="28.0" y="372.2" text-anchor="end">-0.2</text><text x="28.0" y="353.0" text-anchor="end">0</text><text x="28.0" y="333.7" text-anchor="end">0.2</text><text x="28.0" y="314.4" text-anchor="end">0.4</text><text x="170.5" y="493.3" text-anchor="middle">0</text><text x="149.9" y="492.6" text-anchor="middle">0</text><text x="212.8" y="483.2" text-anchor="middle">20</text><text x="118.3" y="479.3" text-anchor="middle">20</text><text x="252.8" y="473.2" text-anchor="middle">40</text><text x="86.8" y="466.0" text-anchor="middle">40</text><text x="292.8" y="463.2" text-anchor="middle">60</text><text x="55.3" y="452.7" text-anchor="middle">60</text><text x="332.8" y="453.1" text-anchor="middle">80</text><text x="23.7" y="439.4" text-anchor="middle">80</text></g>
<g transform="scale(0.1)" stroke="#000" stroke-width="5" stroke-linejoin="round"><path fill="#f9fb0e" d="M1908 3047l20-6-15-12-20 11zM1888 3057l20-10-15-7-20 10z"/>
<path fill="#f6f313" d="M1868 3079l20-22-15-7-20 23z"/>
<path fill="#fec832" d="M1848 3193l20-114-15-6-20 115z"/>
<path fill="#f9fb0e" d="M1628 3117l20 1-15-7-20-1zM1608 3122l20-5-15-7-20-1zM1588 3128l20-6-15-13-20 11zM1568 3138l20-10-15-8-20 11z"/>
<path fill="#f6f313" d="M1548 3160l20-22-15-7-20 22z"/>
<path fill="#fec832" d="M1528 3274l20-114-15-7-20 116z"/>
<path fill="#0363e1" d="M1428 4025l20 55-15 61-20-62z"/>
<path fill="#f9fb0e" d="M1308 3198l20 0-15-7-20-1zM1288 3202l20-4-15-8-20 0zM1268 3208l20-6-15-12-20 10zM1248 3218l20-10-15-8-20 11z"/>
<path fill="#f6f313" d="M1228 3240l20-22-15-7-20 23z"/>
<path fill="#fec832" d="M1208 3354l20-114-15-6-20 115z"/>
<path fill="#0363e1" d="M1108 4106l20 55-15 61-20-63z"/>
<path fill="#f9fb0e" d="M988 3278l20 0-15-7-20 0zM968 3282l20-4-15-7-20-1zM948 3288l20-6-15-12-20 11zM928 3299l20-11-15-7-20 11z"/>
<path fill="#f6f313" d="M908 3321l20-22-15-7-20 22z"/>
<path fill="#fec832" d="M888 3434l20-113-15-7-20 116z"/>
<path fill="#0363e1" d="M788 4186l20 55-15 61-20-62z"/>
<path fill="#f6f313" d="M708 3371l20 104-15-5-20-106z"/>
<path fill="#f9fb0e" d="M668 3359l20 0-15-7-20-1zM1924 3059l20-5-16-13-20 6z"/>
<path fill="#f6f313" d="M1904 3068l20-9-16-12-20 10zM1884 3087l20-19-16-11-20 22z"/>
<path fill="#fec832" d="M1864 3190l20-103-16-8-20 114z"/>
<path fill="#f6f313" d="M1664 3128l20 9-16-7-20-12z"/>
<path fill="#f9fb0e" d="M1644 3129l20-1-16-10-20-1zM1624 3134l20-5-16-12-20 5zM1604 3139l20-5-16-12-20 6z"/>
<path fill="#f6f313" d="M1584 3148l20-9-16-11-20 10zM1564 3168l20-20-16-10-20 22z"/>
<path fill="#fec832" d="M1544 3271l20-103-16-8-20 114z"/>
<path fill="#079ccf" d="M1464 3814l20-21-16 222-20 65z"/>
<path fill="#06a0cd" d="M1444 3803l20 11-16 266-20-55z"/>
<path fill="#f6f313" d="M1344 3209l20 9-16-8-20-12z"/>
<path fill="#f9fb0e" d="M1324 3210l20-1-16-11-20 0zM1304 3214l20-4-16-12-20 4zM1284 3220l20-6-16-12-20 6z"/>
<path fill="#f6f313" d="M1264 3229l20-9-16-12-20 10zM1244 3248l20-19-16-11-20 22z"/>
<path fill="#fec832" d="M1224 3351l20-103-16-8-20 114z"/>
<path fill="#06a0cd" d="M1164 3874l20-88-16 76-20 234z"/>
<path fill="#079ccf" d="M1144 3895l20-21-16 222-20 65z"/>
<path fill="#06a0cd" d="M1124 3884l20 11-16 266-20-55z"/>
<path fill="#f6f313" d="M1024 3289l20 9-16-8-20-12z"/>
<path fill="#f9fb0e" d="M1004 3290l20-1-16-11-20 0zM984 3295l20-5-16-12-20 4zM964 3300l20-5-16-13-20 6z"/>
<path fill="#f6f313" d="M944 3309l20-9-16-12-20 11zM924 3328l20-19-16-10-20 22z"/>
<path fill="#fec832" d="M904 3431l20-103-16-7-20 113z"/>
<path fill="#06a0cd" d="M844 3954l20-87-16 75-20 234z"/>
<path fill="#079ccf" d="M824 3975l20-21-16 222-20 65z"/>
<path fill="#06a0cd" d="M804 3964l20 11-16 266-20-55z"/>
<path fill="#f6f313" d="M704 3370l20 9-16-8-20-12z"/>
<path fill="#f9fb0e" d="M684 3371l20-1-16-11-20 0z"/>
<path fill="#f6f313" d="M1940 3083l20-5-16-24-20 5zM1920 3089l20-6-16-24-20 9z"/>
<path fill="#f5eb18" d="M1900 3098l20-9-16-21-20 19z"/>
<path fill="#fcce2e" d="M1880 3185l20-87-16-11-20 103z"/>
<path fill="#f6f313" d="M1680 3149l20-1-16-11-20-9zM1660 3153l20-4-16-21-20 1zM1640 3158l20-5-16-24-20 5zM1620 3163l20-5-16-24-20 5zM1600 3169l20-6-16-24-20 9z"/>
<path fill="#f5eb18" d="M1580 3178l20-9-16-21-20 20z"/>
<path fill="#fcce2e" d="M1560 3265l20-87-16-10-20 103z"/>
<path fill="#f6f313" d="M1360 3229l20-1-16-10-20-9zM1340 3233l20-4-16-20-20 1zM1320 3238l20-5-16-23-20 4zM1300 3243l20-5-16-24-20 6zM1280 3250l20-7-16-23-20 9z"/>
<path fill="#f5eb18" d="M1260 3258l20-8-16-21-20 19z"/>
<path fill="#fcce2e" d="M1240 3346l20-88-16-10-20 103z"/>
<path fill="#87bf77" d="M1180 3617l20-40-16 209-20 88zM1160 3628l20-11-16 257-20 21z"/>
<path fill="#f6f313" d="M1040 3310l20-1-16-11-20-9zM1020 3314l20-4-16-21-20 1zM1000 3319l20-5-16-24-20 5zM980 3324l20-5-16-24-20 5zM960 3330l20-6-16-24-20 9z"/>
<path fill="#f5eb18" d="M940 3339l20-9-16-21-20 19z"/>
<path fill="#fcce2e" d="M920 3426l20-87-16-11-20 103z"/>
<path fill="#a5be6b" d="M880 3657l20-68-16 57-20 221z"/>
<path fill="#87bf77" d="M860 3698l20-41-16 210-20 87zM840 3709l20-11-16 256-20 21z"/>
<path fill="#f6f313" d="M720 3390l20-1-16-10-20-9zM700 3394l20-4-16-20-20 1z"/>
<path fill="#fec832" d="M1955 3198l20-3-15-117-20 5zM1935 3193l20 5-15-115-20 6z"/>
<path fill="#fcce2e" d="M1915 3187l20 6-15-104-20 9zM1895 3187l20 0-15-89-20 87zM1715 3237l20-10-15-2-20-77z"/>
<path fill="#fec832" d="M1695 3254l20-17-15-89-20 1zM1675 3268l20-14-15-105-20 4z"/>
<path fill="#ffc337" d="M1655 3275l20-7-15-115-20 5z"/>
<path fill="#fec832" d="M1635 3278l20-3-15-117-20 5zM1615 3274l20 4-15-115-20 6z"/>
<path fill="#fcce2e" d="M1595 3267l20 7-15-105-20 9zM1575 3268l20-1-15-89-20 87zM1395 3317l20-9-15-2-20-78z"/>
<path fill="#fec832" d="M1375 3334l20-17-15-89-20 1zM1355 3349l20-15-15-105-20 4z"/>
<path fill="#ffc337" d="M1335 3356l20-7-15-116-20 5z"/>
<path fill="#fec832" d="M1315 3359l20-3-15-118-20 5zM1295 3354l20 5-15-116-20 7z"/>
<path fill="#fcce2e" d="M1275 3347l20 7-15-104-20 8zM1255 3348l20-1-15-89-20 88zM1075 3398l20-10-15-2-20-77z"/>
<path fill="#fec832" d="M1055 3415l20-17-15-89-20 1zM1035 3429l20-14-15-105-20 4z"/>
<path fill="#ffc337" d="M1015 3436l20-7-15-115-20 5z"/>
<path fill="#fec832" d="M995 3439l20-3-15-117-20 5zM975 3435l20 4-15-115-20 6z"/>
<path fill="#fcce2e" d="M955 3428l20 7-15-105-20 9zM935 3428l20 0-15-89-20 87zM915 3438l20-10-15-2-20 163z"/>
<path fill="#fec832" d="M895 3455l20-17-15 151-20 68zM875 3469l20-14-15 202-20 41z"/>
<path fill="#fcce2e" d="M755 3478l20-9-15-3-20-77z"/>
<path fill="#fec832" d="M735 3495l20-17-15-89-20 1zM715 3510l20-15-15-105-20 4z"/>
<path fill="#fcce2e" d="M1750 3239l20-88-15 76-20 0z"/>
<path fill="#c8bc5d" d="M1730 3401l20-162-15-12-20 10z"/>
<path fill="#a5be6b" d="M1710 3470l20-69-15-164-20 17z"/>
<path fill="#87bf77" d="M1690 3510l20-40-15-216-20 14zM1670 3521l20-11-15-242-20 7z"/>
<path fill="#fcce2e" d="M1430 3319l20-87-15 75-20 1z"/>
<path fill="#c8bc5d" d="M1410 3482l20-163-15-11-20 9z"/>
<path fill="#a5be6b" d="M1390 3550l20-68-15-165-20 17z"/>
<path fill="#87bf77" d="M1370 3591l20-41-15-216-20 15zM1350 3602l20-11-15-242-20 7z"/>
<path fill="#fcce2e" d="M1110 3399l20-87-15 76-20 0z"/>
<path fill="#c8bc5d" d="M1090 3562l20-163-15-11-20 10z"/>
<path fill="#a5be6b" d="M1070 3631l20-69-15-164-20 17z"/>
<path fill="#87bf77" d="M1050 3671l20-40-15-216-20 14zM1030 3682l20-11-15-242-20 7z"/>
<path fill="#fcce2e" d="M790 3480l20-88-15 76-20 1z"/>
<path fill="#c8bc5d" d="M770 3642l20-162-15-11-20 9z"/>
<path fill="#a5be6b" d="M750 3711l20-69-15-164-20 17z"/>
<path fill="#87bf77" d="M730 3751l20-40-15-216-20 15z"/>
<path fill="#f6f313" d="M1786 3154l20-19-16 7-20 9z"/>
<path fill="#fec832" d="M1766 3257l20-103-16-3-20 88z"/>
<path fill="#f6f313" d="M1466 3234l20-19-16 8-20 9z"/>
<path fill="#fec832" d="M1446 3337l20-103-16-2-20 87z"/>
<path fill="#f6f313" d="M1146 3315l20-19-16 7-20 9z"/>
<path fill="#fec832" d="M1126 3418l20-103-16-3-20 87z"/>
<path fill="#f6f313" d="M826 3395l20-19-16 7-20 9z"/>
<path fill="#fec832" d="M806 3498l20-103-16-3-20 88z"/>
<path fill="#a5be6b" d="M786 3713l20-215-16-18-20 162z"/>
<path fill="#15b1b4" d="M766 3933l20-220-16-71-20 69z"/>
<path fill="#06a0cd" d="M746 4021l20-88-16-222-20 40z"/>
<path fill="#f9fb0e" d="M1881 3117l20 0-15-2-20 1zM1861 3121l20-4-15-1-20 4zM1841 3127l20-6-15-1-20 6zM1821 3137l20-10-15-1-20 9z"/>
<path fill="#f6f313" d="M1801 3159l20-22-15-2-20 19z"/>
<path fill="#fec832" d="M1781 3273l20-114-15-5-20 103z"/>
<path fill="#f9fb0e" d="M1561 3198l20 0-15-3-20 1zM1541 3202l20-4-15-2-20 5zM1521 3208l20-6-15-1-20 5zM1501 3218l20-10-15-2-20 9z"/>
<path fill="#f6f313" d="M1481 3240l20-22-15-3-20 19z"/>
<path fill="#fec832" d="M1461 3354l20-114-15-6-20 103z"/>
<path fill="#f9fb0e" d="M1242 3278l20 0-16-2-20 1zM1222 3282l20-4-16-1-20 4zM1202 3288l20-6-16-1-20 6zM1182 3298l20-10-16-1-20 9z"/>
<path fill="#f6f313" d="M1162 3320l20-22-16-2-20 19z"/>
<path fill="#fec832" d="M1142 3434l20-114-16-5-20 103z"/>
<path fill="#f9fb0e" d="M921 3358l20 1-15-3-20 1zM901 3362l20-4-15-1-20 5zM881 3368l20-6-15 0-20 5zM861 3379l20-11-15-1-20 9z"/>
<path fill="#f6f313" d="M841 3401l20-22-15-3-20 19z"/>
<path fill="#fec832" d="M821 3514l20-113-15-6-20 103z"/>
<path fill="#87bf77" d="M801 3755l20-241-15-16-20 215z"/>
<path fill="#06a0cd" d="M781 4022l20-267-15-42-20 220z"/>
<path fill="#0363e1" d="M761 4256l20-234-15-89-20 88z"/>
<path fill="#f9fb0e" d="M1897 3123l20 1-16-7-20 0zM1877 3122l20 1-16-6-20 4zM1857 3133l20-11-16-1-20 6zM1837 3144l20-11-16-6-20 10z"/>
<path fill="#f6f313" d="M1817 3166l20-22-16-7-20 22z"/>
<path fill="#ffc337" d="M1797 3282l20-116-16-7-20 114z"/>
<path fill="#f9fb0e" d="M1577 3203l20 1-16-6-20 0zM1557 3203l20 0-16-5-20 4zM1537 3213l20-10-16-1-20 6zM1517 3224l20-11-16-5-20 10z"/>
<path fill="#f6f313" d="M1497 3247l20-23-16-6-20 22z"/>
<path fill="#ffc337" d="M1477 3362l20-115-16-7-20 114z"/>
<path fill="#f9fb0e" d="M1257 3284l20 0-15-6-20 0zM1237 3283l20 1-15-6-20 4zM1217 3294l20-11-15-1-20 6zM1197 3305l20-11-15-6-20 10z"/>
<path fill="#f6f313" d="M1177 3327l20-22-15-7-20 22z"/>
<path fill="#ffc337" d="M1157 3443l20-116-15-7-20 114z"/>
<path fill="#f9fb0e" d="M937 3364l20 1-16-6-20-1zM917 3363l20 1-16-6-20 4zM897 3374l20-11-16-1-20 6zM877 3385l20-11-16-6-20 11z"/>
<path fill="#f6f313" d="M857 3407l20-22-16-6-20 22z"/>
<path fill="#ffc337" d="M837 3523l20-116-16-6-20 113z"/>
<path fill="#87bf77" d="M817 3767l20-244-16-9-20 241z"/>
<path fill="#079ccf" d="M797 4045l20-278-16-12-20 267z"/>
<path fill="#3243ba" d="M777 4323l20-278-16-23-20 234z"/>
<path fill="#f9fb0e" d="M1912 3130l20 1-15-7-20-1zM1892 3135l20-5-15-7-20-1zM1872 3141l20-6-15-13-20 11zM1852 3151l20-10-15-8-20 11z"/>
<path fill="#f6f313" d="M1832 3173l20-22-15-7-20 22z"/>
<path fill="#fec832" d="M1812 3287l20-114-15-7-20 116z"/>
<path fill="#f9fb0e" d="M1592 3211l20 0-15-7-20-1zM1572 3215l20-4-15-8-20 0zM1552 3221l20-6-15-12-20 10zM1532 3231l20-10-15-8-20 11z"/>
<path fill="#f6f313" d="M1512 3253l20-22-15-7-20 23z"/>
<path fill="#fec832" d="M1492 3367l20-114-15-6-20 115z"/>
<path fill="#3243ba" d="M1412 4174l20-65-15 53-20 73z"/>
<path fill="#0363e1" d="M1392 4119l20 55-15 61-20-63z"/>
<path fill="#f9fb0e" d="M1272 3291l20 0-15-7-20 0zM1252 3295l20-4-15-7-20-1zM1232 3301l20-6-15-12-20 11zM1212 3312l20-11-15-7-20 11z"/>
<path fill="#f6f313" d="M1192 3334l20-22-15-7-20 22z"/>
<path fill="#fec832" d="M1172 3447l20-113-15-7-20 116z"/>
<path fill="#3243ba" d="M1092 4254l20-65-15 54-20 72z"/>
<path fill="#0363e1" d="M1072 4199l20 55-15 61-20-62z"/>
<path fill="#f9fb0e" d="M952 3372l20 0-15-7-20-1zM932 3376l20-4-15-8-20-1zM912 3382l20-6-15-13-20 11zM892 3392l20-10-15-8-20 11z"/>
<path fill="#f6f313" d="M872 3414l20-22-15-7-20 22z"/>
<path fill="#fec832" d="M852 3528l20-114-15-7-20 116z"/>
<path fill="#87bf77" d="M832 3768l20-240-15-5-20 244z"/>
<path fill="#06a0cd" d="M812 4036l20-268-15-1-20 278z"/>
<path fill="#0363e1" d="M792 4270l20-234-15 9-20 278z"/>
<path fill="#f6f313" d="M1948 3141l20 9-16-7-20-12z"/>
<path fill="#f9fb0e" d="M1928 3142l20-1-16-10-20-1zM1908 3147l20-5-16-12-20 5zM1888 3152l20-5-16-12-20 6z"/>
<path fill="#f6f313" d="M1868 3161l20-9-16-11-20 10zM1848 3181l20-20-16-10-20 22z"/>
<path fill="#fec832" d="M1828 3284l20-103-16-8-20 114z"/>
<path fill="#f6f313" d="M1628 3222l20 9-16-8-20-12z"/>
<path fill="#f9fb0e" d="M1608 3223l20-1-16-11-20 0zM1588 3227l20-4-16-12-20 4zM1568 3233l20-6-16-12-20 6z"/>
<path fill="#f6f313" d="M1548 3242l20-9-16-12-20 10zM1528 3261l20-19-16-11-20 22z"/>
<path fill="#fec832" d="M1508 3364l20-103-16-8-20 114z"/>
<path fill="#06a0cd" d="M1448 3887l20-88-16 76-20 234z"/>
<path fill="#079ccf" d="M1428 3908l20-21-16 222-20 65z"/>
<path fill="#06a0cd" d="M1408 3897l20 11-16 266-20-55z"/>
<path fill="#f6f313" d="M1308 3302l20 9-16-8-20-12z"/>
<path fill="#f9fb0e" d="M1288 3303l20-1-16-11-20 0zM1268 3308l20-5-16-12-20 4zM1248 3313l20-5-16-13-20 6z"/>
<path fill="#f6f313" d="M1228 3322l20-9-16-12-20 11zM1208 3341l20-19-16-10-20 22z"/>
<path fill="#fec832" d="M1188 3444l20-103-16-7-20 113z"/>
<path fill="#06a0cd" d="M1128 3967l20-87-16 75-20 234z"/>
<path fill="#079ccf" d="M1108 3988l20-21-16 222-20 65z"/>
<path fill="#06a0cd" d="M1088 3977l20 11-16 266-20-55z"/>
<path fill="#f6f313" d="M988 3383l20 9-16-8-20-12z"/>
<path fill="#f9fb0e" d="M968 3384l20-1-16-11-20 0zM948 3388l20-4-16-12-20 4zM928 3394l20-6-16-12-20 6z"/>
<path fill="#f6f313" d="M908 3403l20-9-16-12-20 10zM888 3422l20-19-16-11-20 22z"/>
<path fill="#fec832" d="M868 3525l20-103-16-8-20 114z"/>
<path fill="#06a0cd" d="M808 4047l20-87-16 76-20 234z"/>
<path fill="#f6f313" d="M1964 3162l20-1-16-11-20-9zM1944 3166l20-4-16-21-20 1zM1924 3171l20-5-16-24-20 5zM1904 3176l20-5-16-24-20 5zM1884 3182l20-6-16-24-20 9z"/>
<path fill="#f5eb18" d="M1864 3191l20-9-16-21-20 20z"/>
<path fill="#fcce2e" d="M1844 3278l20-87-16-10-20 103z"/>
<path fill="#f6f313" d="M1644 3242l20-1-16-10-20-9zM1624 3246l20-4-16-20-20 1zM1604 3251l20-5-16-23-20 4zM1584 3256l20-5-16-24-20 6zM1564 3263l20-7-16-23-20 9z"/>
<path fill="#f5eb18" d="M1544 3271l20-8-16-21-20 19z"/>
<path fill="#fcce2e" d="M1524 3359l20-88-16-10-20 103z"/>
<path fill="#f6f313" d="M1324 3323l20-1-16-11-20-9zM1304 3327l20-4-16-21-20 1zM1284 3332l20-5-16-24-20 5zM1264 3337l20-5-16-24-20 5zM1244 3343l20-6-16-24-20 9z"/>
<path fill="#f5eb18" d="M1224 3352l20-9-16-21-20 19z"/>
<path fill="#fcce2e" d="M1204 3439l20-87-16-11-20 103z"/>
<path fill="#a5be6b" d="M1164 3670l20-68-16 57-20 221z"/>
<path fill="#87bf77" d="M1144 3711l20-41-16 210-20 87zM1124 3722l20-11-16 256-20 21z"/>
<path fill="#f6f313" d="M1004 3403l20-1-16-10-20-9zM984 3407l20-4-16-20-20 1zM964 3412l20-5-16-23-20 4zM944 3417l20-5-16-24-20 6zM924 3423l20-6-16-23-20 9z"/>
<path fill="#f5eb18" d="M904 3432l20-9-16-20-20 19z"/>
<path fill="#fcce2e" d="M884 3520l20-88-16-10-20 103z"/>
<path fill="#a5be6b" d="M844 3751l20-69-16 57-20 221z"/>
<path fill="#87bf77" d="M824 3791l20-40-16 209-20 87z"/>
<path fill="#fcce2e" d="M1999 3250l20-10-15-2-20-77z"/>
<path fill="#fec832" d="M1979 3267l20-17-15-89-20 1zM1959 3281l20-14-15-105-20 4z"/>
<path fill="#ffc337" d="M1939 3288l20-7-15-115-20 5z"/>
<path fill="#fec832" d="M1919 3291l20-3-15-117-20 5zM1899 3287l20 4-15-115-20 6z"/>
<path fill="#fcce2e" d="M1879 3280l20 7-15-105-20 9zM1859 3281l20-1-15-89-20 87zM1679 3330l20-9-15-2-20-78z"/>
<path fill="#fec832" d="M1659 3347l20-17-15-89-20 1zM1639 3362l20-15-15-105-20 4z"/>
<path fill="#ffc337" d="M1619 3369l20-7-15-116-20 5z"/>
<path fill="#fec832" d="M1599 3372l20-3-15-118-20 5zM1579 3367l20 5-15-116-20 7z"/>
<path fill="#fcce2e" d="M1559 3360l20 7-15-104-20 8zM1539 3361l20-1-15-89-20 88zM1359 3411l20-10-15-2-20-77z"/>
<path fill="#fec832" d="M1339 3428l20-17-15-89-20 1zM1319 3442l20-14-15-105-20 4z"/>
<path fill="#ffc337" d="M1299 3449l20-7-15-115-20 5z"/>
<path fill="#fec832" d="M1279 3452l20-3-15-117-20 5zM1259 3448l20 4-15-115-20 6z"/>
<path fill="#fcce2e" d="M1239 3441l20 7-15-105-20 9zM1219 3441l20 0-15-89-20 87z"/>
<path fill="#fec832" d="M1159 3482l20-14-15 202-20 41z"/>
<path fill="#fcce2e" d="M1039 3491l20-9-15-3-20-77z"/>
<path fill="#fec832" d="M1019 3508l20-17-15-89-20 1zM999 3523l20-15-15-105-20 4z"/>
<path fill="#ffc337" d="M979 3530l20-7-15-116-20 5z"/>
<path fill="#fec832" d="M959 3533l20-3-15-118-20 5zM939 3528l20 5-15-116-20 6z"/>
<path fill="#fcce2e" d="M919 3521l20 7-15-105-20 9zM899 3522l20-1-15-89-20 88zM879 3531l20-9-15-2-20 162z"/>
<path fill="#fec832" d="M859 3548l20-17-15 151-20 69zM839 3563l20-15-15 203-20 40z"/>
<path fill="#fcce2e" d="M2034 3252l20-88-15 76-20 0z"/>
<path fill="#c8bc5d" d="M2014 3414l20-162-15-12-20 10z"/>
<path fill="#a5be6b" d="M1994 3483l20-69-15-164-20 17z"/>
<path fill="#87bf77" d="M1974 3523l20-40-15-216-20 14zM1954 3534l20-11-15-242-20 7z"/>
<path fill="#fcce2e" d="M1714 3332l20-87-15 75-20 1z"/>
<path fill="#c8bc5d" d="M1694 3495l20-163-15-11-20 9z"/>
<path fill="#a5be6b" d="M1674 3563l20-68-15-165-20 17z"/>
<path fill="#87bf77" d="M1654 3604l20-41-15-216-20 15zM1634 3615l20-11-15-242-20 7z"/>
<path fill="#fcce2e" d="M1394 3412l20-87-15 76-20 0z"/>
<path fill="#c8bc5d" d="M1374 3575l20-163-15-11-20 10z"/>
<path fill="#a5be6b" d="M1354 3644l20-69-15-164-20 17z"/>
<path fill="#87bf77" d="M1334 3684l20-40-15-216-20 14zM1314 3695l20-11-15-242-20 7z"/>
<path fill="#fcce2e" d="M1074 3493l20-88-15 76-20 1z"/>
<path fill="#c8bc5d" d="M1054 3655l20-162-15-11-20 9z"/>
<path fill="#a5be6b" d="M1034 3724l20-69-15-164-20 17z"/>
<path fill="#87bf77" d="M1014 3764l20-40-15-216-20 15zM994 3775l20-11-15-241-20 7z"/>
<path fill="#f5eb18" d="M894 3456l20 77-15-11-20 9z"/>
<path fill="#f6f313" d="M874 3457l20-1-15 75-20 17zM854 3461l20-4-15 91-20 15zM2070 3167l20-19-16 7-20 9z"/>
<path fill="#fec832" d="M2050 3270l20-103-16-3-20 88z"/>
<path fill="#f6f313" d="M1750 3247l20-19-16 8-20 9z"/>
<path fill="#fec832" d="M1730 3350l20-103-16-2-20 87z"/>
<path fill="#f6f313" d="M1430 3328l20-19-16 7-20 9z"/>
<path fill="#fec832" d="M1410 3431l20-103-16-3-20 87z"/>
<path fill="#f6f313" d="M1110 3408l20-19-16 7-20 9z"/>
<path fill="#fec832" d="M1090 3511l20-103-16-3-20 88zM930 3551l20 205-16-70-20-153z"/>
<path fill="#f6f313" d="M910 3458l20 93-16-18-20-77zM890 3449l20 9-16-2-20 1z"/>
<path fill="#f9fb0e" d="M870 3450l20-1-16 8-20 4zM2126 3140l20-6-16-1-20 6zM2106 3150l20-10-16-1-20 9z"/>
<path fill="#f6f313" d="M2086 3172l20-22-16-2-20 19z"/>
<path fill="#fec832" d="M2066 3286l20-114-16-5-20 103z"/>
<path fill="#f9fb0e" d="M1846 3211l20 0-16-3-20 1zM1826 3215l20-4-16-2-20 5zM1806 3221l20-6-16-1-20 5zM1786 3231l20-10-16-2-20 9z"/>
<path fill="#f6f313" d="M1766 3253l20-22-16-3-20 19z"/>
<path fill="#fec832" d="M1746 3367l20-114-16-6-20 103z"/>
<path fill="#f9fb0e" d="M1526 3291l20 0-16-2-20 1zM1506 3295l20-4-16-1-20 4zM1486 3301l20-6-16-1-20 6zM1466 3311l20-10-16-1-20 9z"/>
<path fill="#f6f313" d="M1446 3333l20-22-16-2-20 19z"/>
<path fill="#fec832" d="M1426 3447l20-114-16-5-20 103z"/>
<path fill="#f9fb0e" d="M1206 3371l20 1-16-3-20 1zM1186 3375l20-4-16-1-20 5zM1166 3381l20-6-16 0-20 5zM1146 3392l20-11-16-1-20 9z"/>
<path fill="#f6f313" d="M1126 3414l20-22-16-3-20 19z"/>
<path fill="#fec832" d="M1106 3527l20-113-16-6-20 103z"/>
<path fill="#87bf77" d="M966 3798l20 257-16-89-20-210z"/>
<path fill="#fec832" d="M946 3568l20 230-16-42-20-205z"/>
<path fill="#f6f313" d="M926 3464l20 104-16-17-20-93z"/>
<path fill="#f9fb0e" d="M886 3452l20 0-16-3-20 1zM2141 3146l20-11-15-1-20 6zM2121 3157l20-11-15-6-20 10z"/>
<path fill="#f6f313" d="M2101 3179l20-22-15-7-20 22z"/>
<path fill="#ffc337" d="M2081 3295l20-116-15-7-20 114z"/>
<path fill="#f9fb0e" d="M1861 3216l20 1-15-6-20 0zM1841 3216l20 0-15-5-20 4zM1821 3226l20-10-15-1-20 6zM1801 3237l20-11-15-5-20 10z"/>
<path fill="#f6f313" d="M1781 3260l20-23-15-6-20 22z"/>
<path fill="#ffc337" d="M1761 3375l20-115-15-7-20 114z"/>
<path fill="#f9fb0e" d="M1541 3297l20 0-15-6-20 0zM1521 3296l20 1-15-6-20 4zM1501 3307l20-11-15-1-20 6zM1481 3318l20-11-15-6-20 10z"/>
<path fill="#f6f313" d="M1461 3340l20-22-15-7-20 22z"/>
<path fill="#ffc337" d="M1441 3456l20-116-15-7-20 114z"/>
<path fill="#f9fb0e" d="M1221 3377l20 1-15-6-20-1zM1201 3376l20 1-15-6-20 4zM1181 3387l20-11-15-1-20 6zM1161 3398l20-11-15-6-20 11z"/>
<path fill="#f6f313" d="M1141 3420l20-22-15-6-20 22z"/>
<path fill="#ffc337" d="M1121 3536l20-116-15-6-20 113z"/>
<path fill="#079ccf" d="M1001 4078l20 268-15-67-20-224z"/>
<path fill="#87bf77" d="M981 3810l20 268-15-23-20-257z"/>
<path fill="#ffc337" d="M961 3576l20 234-15-12-20-230z"/>
<path fill="#f6f313" d="M941 3471l20 105-15-8-20-104z"/>
<path fill="#f9fb0e" d="M901 3458l20 0-15-6-20 0zM2156 3154l20-6-15-13-20 11zM2136 3164l20-10-15-8-20 11z"/>
<path fill="#f6f313" d="M2116 3186l20-22-15-7-20 22z"/>
<path fill="#fec832" d="M2096 3300l20-114-15-7-20 116z"/>
<path fill="#3243ba" d="M2016 4106l20-65-15 54-20 72z"/>
<path fill="#0363e1" d="M1996 4051l20 55-15 61-20-62z"/>
<path fill="#f9fb0e" d="M1876 3224l20 0-15-7-20-1zM1856 3228l20-4-15-8-20 0zM1836 3234l20-6-15-12-20 10zM1816 3244l20-10-15-8-20 11z"/>
<path fill="#f6f313" d="M1796 3266l20-22-15-7-20 23z"/>
<path fill="#fec832" d="M1776 3380l20-114-15-6-20 115z"/>
<path fill="#3243ba" d="M1696 4187l20-65-15 53-20 73z"/>
<path fill="#0363e1" d="M1676 4132l20 55-15 61-20-63z"/>
<path fill="#f9fb0e" d="M1556 3304l20 0-15-7-20 0zM1536 3308l20-4-15-7-20-1zM1516 3314l20-6-15-12-20 11zM1496 3325l20-11-15-7-20 11z"/>
<path fill="#f6f313" d="M1476 3347l20-22-15-7-20 22z"/>
<path fill="#fec832" d="M1456 3460l20-113-15-7-20 116z"/>
<path fill="#3243ba" d="M1376 4267l20-65-15 54-20 72z"/>
<path fill="#0363e1" d="M1356 4212l20 55-15 61-20-62z"/>
<path fill="#f9fb0e" d="M1236 3385l20 0-15-7-20-1zM1216 3389l20-4-15-8-20-1zM1196 3395l20-6-15-13-20 11zM1176 3405l20-10-15-8-20 11z"/>
<path fill="#f6f313" d="M1156 3427l20-22-15-7-20 22z"/>
<path fill="#fec832" d="M1136 3541l20-114-15-7-20 116z"/>
<path fill="#3243ba" d="M1056 4348l20-65-15 53-20 72z"/>
<path fill="#0363e1" d="M1036 4293l20 55-15 60-20-62z"/>
<path fill="#f6f313" d="M956 3477l20 104-15-5-20-105z"/>
<path fill="#f9fb0e" d="M916 3465l20 0-15-7-20 0zM2172 3165l20-5-16-12-20 6z"/>
<path fill="#f6f313" d="M2152 3174l20-9-16-11-20 10zM2132 3194l20-20-16-10-20 22z"/>
<path fill="#fec832" d="M2112 3297l20-103-16-8-20 114z"/>
<path fill="#079ccf" d="M2032 3840l20-21-16 222-20 65z"/>
<path fill="#06a0cd" d="M2012 3829l20 11-16 266-20-55z"/>
<path fill="#f9fb0e" d="M1892 3236l20-1-16-11-20 0zM1872 3240l20-4-16-12-20 4zM1852 3246l20-6-16-12-20 6z"/>
<path fill="#f6f313" d="M1832 3255l20-9-16-12-20 10zM1812 3274l20-19-16-11-20 22z"/>
<path fill="#fec832" d="M1792 3377l20-103-16-8-20 114z"/>
<path fill="#079ccf" d="M1712 3921l20-21-16 222-20 65z"/>
<path fill="#06a0cd" d="M1692 3910l20 11-16 266-20-55z"/>
<path fill="#f6f313" d="M1592 3315l20 9-16-8-20-12z"/>
<path fill="#f9fb0e" d="M1572 3316l20-1-16-11-20 0zM1552 3321l20-5-16-12-20 4zM1532 3326l20-5-16-13-20 6z"/>
<path fill="#f6f313" d="M1512 3335l20-9-16-12-20 11zM1492 3354l20-19-16-10-20 22z"/>
<path fill="#fec832" d="M1472 3457l20-103-16-7-20 113z"/>
<path fill="#06a0cd" d="M1412 3980l20-87-16 75-20 234z"/>
<path fill="#079ccf" d="M1392 4001l20-21-16 222-20 65z"/>
<path fill="#06a0cd" d="M1372 3990l20 11-16 266-20-55z"/>
<path fill="#f9fb0e" d="M1252 3397l20-1-16-11-20 0zM1232 3401l20-4-16-12-20 4zM1212 3407l20-6-16-12-20 6z"/>
<path fill="#f6f313" d="M1192 3416l20-9-16-12-20 10zM1172 3435l20-19-16-11-20 22z"/>
<path fill="#fec832" d="M1152 3538l20-103-16-8-20 114z"/>
<path fill="#06a0cd" d="M1092 4060l20-87-16 76-20 234z"/>
<path fill="#079ccf" d="M1072 4081l20-21-16 223-20 65z"/>
<path fill="#06a0cd" d="M1052 4070l20 11-16 267-20-55z"/>
<path fill="#f9fb0e" d="M932 3477l20-1-16-11-20 0z"/>
<path fill="#f6f313" d="M2188 3189l20-5-16-24-20 5zM2168 3195l20-6-16-24-20 9z"/>
<path fill="#f5eb18" d="M2148 3204l20-9-16-21-20 20z"/>
<path fill="#fcce2e" d="M2128 3291l20-87-16-10-20 103z"/>
<path fill="#f6f313" d="M1928 3255l20-1-16-10-20-9zM1908 3259l20-4-16-20-20 1zM1888 3264l20-5-16-23-20 4zM1868 3269l20-5-16-24-20 6zM1848 3276l20-7-16-23-20 9z"/>
<path fill="#f5eb18" d="M1828 3284l20-8-16-21-20 19z"/>
<path fill="#fcce2e" d="M1808 3372l20-88-16-10-20 103z"/>
<path fill="#f6f313" d="M1608 3336l20-1-16-11-20-9zM1588 3340l20-4-16-21-20 1zM1568 3345l20-5-16-24-20 5zM1548 3350l20-5-16-24-20 5zM1528 3356l20-6-16-24-20 9z"/>
<path fill="#f5eb18" d="M1508 3365l20-9-16-21-20 19z"/>
<path fill="#fcce2e" d="M1488 3452l20-87-16-11-20 103z"/>
<path fill="#87bf77" d="M1428 3724l20-41-16 210-20 87zM1408 3735l20-11-16 256-20 21z"/>
<path fill="#f6f313" d="M1288 3416l20-1-16-10-20-9zM1268 3420l20-4-16-20-20 1zM1248 3425l20-5-16-23-20 4zM1228 3430l20-5-16-24-20 6zM1208 3436l20-6-16-23-20 9z"/>
<path fill="#f5eb18" d="M1188 3445l20-9-16-20-20 19z"/>
<path fill="#fcce2e" d="M1168 3533l20-88-16-10-20 103z"/>
<path fill="#a5be6b" d="M1128 3764l20-69-16 57-20 221z"/>
<path fill="#87bf77" d="M1108 3804l20-40-16 209-20 87zM1088 3815l20-11-16 256-20 21z"/>
<path fill="#f6f313" d="M968 3497l20-2-16-10-20-9zM948 3501l20-4-16-21-20 1z"/>
<path fill="#fec832" d="M2203 3304l20-3-15-117-20 5zM2183 3300l20 4-15-115-20 6z"/>
<path fill="#fcce2e" d="M2163 3293l20 7-15-105-20 9zM2143 3294l20-1-15-89-20 87zM1963 3343l20-9-15-2-20-78z"/>
<path fill="#fec832" d="M1943 3360l20-17-15-89-20 1zM1923 3375l20-15-15-105-20 4z"/>
<path fill="#ffc337" d="M1903 3382l20-7-15-116-20 5z"/>
<path fill="#fec832" d="M1883 3385l20-3-15-118-20 5zM1863 3380l20 5-15-116-20 7z"/>
<path fill="#fcce2e" d="M1843 3373l20 7-15-104-20 8zM1823 3374l20-1-15-89-20 88zM1643 3424l20-10-15-2-20-77z"/>
<path fill="#fec832" d="M1623 3441l20-17-15-89-20 1zM1603 3455l20-14-15-105-20 4z"/>
<path fill="#ffc337" d="M1583 3462l20-7-15-115-20 5z"/>
<path fill="#fec832" d="M1563 3465l20-3-15-117-20 5zM1543 3461l20 4-15-115-20 6z"/>
<path fill="#fcce2e" d="M1523 3454l20 7-15-105-20 9zM1503 3454l20 0-15-89-20 87zM1323 3504l20-9-15-3-20-77z"/>
<path fill="#fec832" d="M1303 3521l20-17-15-89-20 1zM1283 3536l20-15-15-105-20 4z"/>
<path fill="#ffc337" d="M1263 3543l20-7-15-116-20 5z"/>
<path fill="#fec832" d="M1243 3546l20-3-15-118-20 5zM1223 3541l20 5-15-116-20 6z"/>
<path fill="#fcce2e" d="M1203 3534l20 7-15-105-20 9zM1183 3535l20-1-15-89-20 88zM1163 3544l20-9-15-2-20 162z"/>
<path fill="#fec832" d="M1143 3561l20-17-15 151-20 69zM1123 3576l20-15-15 203-20 40z"/>
<path fill="#fcce2e" d="M1003 3585l20-10-15-2-20-78z"/>
<path fill="#fec832" d="M983 3601l20-16-15-90-20 2zM963 3616l20-15-15-104-20 4z"/>
<path fill="#fcce2e" d="M1998 3345l20-87-15 75-20 1z"/>
<path fill="#c8bc5d" d="M1978 3508l20-163-15-11-20 9z"/>
<path fill="#a5be6b" d="M1958 3576l20-68-15-165-20 17z"/>
<path fill="#87bf77" d="M1938 3617l20-41-15-216-20 15zM1918 3628l20-11-15-242-20 7z"/>
<path fill="#fcce2e" d="M1678 3425l20-87-15 76-20 0z"/>
<path fill="#c8bc5d" d="M1658 3588l20-163-15-11-20 10z"/>
<path fill="#a5be6b" d="M1638 3657l20-69-15-164-20 17z"/>
<path fill="#87bf77" d="M1618 3697l20-40-15-216-20 14zM1598 3708l20-11-15-242-20 7z"/>
<path fill="#fcce2e" d="M1358 3506l20-88-15 76-20 1z"/>
<path fill="#c8bc5d" d="M1338 3668l20-162-15-11-20 9z"/>
<path fill="#a5be6b" d="M1318 3737l20-69-15-164-20 17z"/>
<path fill="#87bf77" d="M1298 3777l20-40-15-216-20 15zM1278 3788l20-11-15-241-20 7z"/>
<path fill="#fcce2e" d="M1038 3586l20-87-15 75-20 1z"/>
<path fill="#c8bc5d" d="M1018 3749l20-163-15-11-20 10z"/>
<path fill="#a5be6b" d="M998 3817l20-68-15-164-20 16z"/>
<path fill="#87bf77" d="M978 3858l20-41-15-216-20 15z"/>
<path fill="#f6f313" d="M2034 3260l20-19-16 8-20 9z"/>
<path fill="#fec832" d="M2014 3363l20-103-16-2-20 87z"/>
<path fill="#f6f313" d="M1714 3341l20-19-16 7-20 9z"/>
<path fill="#fec832" d="M1694 3444l20-103-16-3-20 87z"/>
<path fill="#f6f313" d="M1394 3421l20-19-16 7-20 9z"/>
<path fill="#fec832" d="M1374 3524l20-103-16-3-20 88z"/>
<path fill="#f6f313" d="M1074 3502l20-20-16 8-20 9z"/>
<path fill="#fec832" d="M1054 3605l20-103-16-3-20 87z"/>
<path fill="#a5be6b" d="M1034 3819l20-214-16-19-20 163z"/>
<path fill="#15b1b4" d="M1014 4040l20-221-16-70-20 68z"/>
<path fill="#06a0cd" d="M994 4127l20-87-16-223-20 41z"/>
<path fill="#f9fb0e" d="M2130 3224l20 0-16-3-20 1zM2110 3228l20-4-16-2-20 5zM2090 3234l20-6-16-1-20 5zM2070 3244l20-10-16-2-20 9z"/>
<path fill="#f6f313" d="M2050 3266l20-22-16-3-20 19z"/>
<path fill="#fec832" d="M2030 3380l20-114-16-6-20 103z"/>
<path fill="#f9fb0e" d="M1810 3304l20 0-16-2-20 1zM1790 3308l20-4-16-1-20 4zM1770 3314l20-6-16-1-20 6zM1750 3324l20-10-16-1-20 9z"/>
<path fill="#f6f313" d="M1730 3346l20-22-16-2-20 19z"/>
<path fill="#fec832" d="M1710 3460l20-114-16-5-20 103z"/>
<path fill="#f9fb0e" d="M1490 3384l20 1-16-3-20 1zM1470 3388l20-4-16-1-20 5zM1450 3394l20-6-16 0-20 5zM1430 3405l20-11-16-1-20 9z"/>
<path fill="#f6f313" d="M1410 3427l20-22-16-3-20 19z"/>
<path fill="#fec832" d="M1390 3540l20-113-16-6-20 103z"/>
<path fill="#f9fb0e" d="M1150 3469l20-4-16-2-20 5zM1130 3475l20-6-16-1-20 5zM1110 3485l20-10-16-2-20 9z"/>
<path fill="#f6f313" d="M1090 3507l20-22-16-3-20 20z"/>
<path fill="#fec832" d="M1070 3621l20-114-16-5-20 103z"/>
<path fill="#87bf77" d="M1050 3861l20-240-16-16-20 214z"/>
<path fill="#06a0cd" d="M1030 4129l20-268-16-42-20 221z"/>
<path fill="#0363e1" d="M1009 4363l21-234-16-89-20 87z"/>
<path fill="#f9fb0e" d="M2145 3229l20 1-15-6-20 0zM2125 3229l20 0-15-5-20 4zM2105 3239l20-10-15-1-20 6zM2085 3250l20-11-15-5-20 10z"/>
<path fill="#f6f313" d="M2065 3273l20-23-15-6-20 22z"/>
<path fill="#ffc337" d="M2045 3388l20-115-15-7-20 114z"/>
<path fill="#f9fb0e" d="M1825 3310l20 0-15-6-20 0zM1805 3309l20 1-15-6-20 4zM1785 3320l20-11-15-1-20 6zM1765 3331l20-11-15-6-20 10z"/>
<path fill="#f6f313" d="M1745 3353l20-22-15-7-20 22z"/>
<path fill="#ffc337" d="M1725 3469l20-116-15-7-20 114z"/>
<path fill="#f9fb0e" d="M1505 3390l20 1-15-6-20-1zM1485 3389l20 1-15-6-20 4zM1465 3400l20-11-15-1-20 6zM1445 3411l20-11-15-6-20 11z"/>
<path fill="#f6f313" d="M1425 3433l20-22-15-6-20 22z"/>
<path fill="#ffc337" d="M1405 3549l20-116-15-6-20 113z"/>
<path fill="#f9fb0e" d="M1185 3471l20 0-15-6-20 0zM1165 3470l20 1-15-6-20 4zM1145 3481l20-11-15-1-20 6zM1125 3491l20-10-15-6-20 10z"/>
<path fill="#f6f313" d="M1105 3514l20-23-15-6-20 22z"/>
<path fill="#ffc337" d="M1085 3629l20-115-15-7-20 114z"/>
<path fill="#87bf77" d="M1065 3874l20-245-15-8-20 240z"/>
<path fill="#079ccf" d="M1045 4152l20-278-15-13-20 268z"/>
<path fill="#3243ba" d="M1025 4429l20-277-15-23-21 234z"/>
<path fill="#0363e1" d="M2280 4064l20 55-15 61-20-62z"/>
<path fill="#f9fb0e" d="M2160 3237l20 0-15-7-20-1zM2140 3241l20-4-15-8-20 0zM2120 3247l20-6-15-12-20 10zM2100 3257l20-10-15-8-20 11z"/>
<path fill="#f6f313" d="M2080 3279l20-22-15-7-20 23z"/>
<path fill="#fec832" d="M2060 3393l20-114-15-6-20 115z"/>
<path fill="#3243ba" d="M1980 4200l20-65-15 53-20 73z"/>
<path fill="#0363e1" d="M1960 4145l20 55-15 61-20-63z"/>
<path fill="#f9fb0e" d="M1840 3317l20 0-15-7-20 0zM1820 3321l20-4-15-7-20-1zM1800 3327l20-6-15-12-20 11zM1780 3338l20-11-15-7-20 11z"/>
<path fill="#f6f313" d="M1760 3360l20-22-15-7-20 22z"/>
<path fill="#fec832" d="M1740 3473l20-113-15-7-20 116z"/>
<path fill="#3243ba" d="M1660 4280l20-65-15 54-20 72z"/>
<path fill="#0363e1" d="M1640 4225l20 55-15 61-20-62z"/>
<path fill="#f9fb0e" d="M1520 3398l20 0-15-7-20-1zM1500 3402l20-4-15-8-20-1zM1480 3408l20-6-15-13-20 11zM1460 3418l20-10-15-8-20 11z"/>
<path fill="#f6f313" d="M1440 3440l20-22-15-7-20 22z"/>
<path fill="#fec832" d="M1420 3554l20-114-15-7-20 116z"/>
<path fill="#3243ba" d="M1340 4361l20-65-15 53-20 72z"/>
<path fill="#0363e1" d="M1320 4306l20 55-15 60-20-62z"/>
<path fill="#f9fb0e" d="M1200 3478l20 0-15-7-20 0zM1180 3482l20-4-15-7-20-1zM1160 3488l20-6-15-12-20 11zM1140 3498l20-10-15-7-20 10z"/>
<path fill="#f6f313" d="M1120 3520l20-22-15-7-20 23z"/>
<path fill="#fec832" d="M1100 3634l20-114-15-6-20 115z"/>
<path fill="#87bf77" d="M1080 3874l20-240-15-5-20 245z"/>
<path fill="#06a0cd" d="M1060 4142l20-268-15 0-20 278z"/>
<path fill="#0363e1" d="M1040 4376l20-234-15 10-20 277z"/>
<path fill="#06a0cd" d="M2296 3842l20 11-16 266-20-55z"/>
<path fill="#f6f313" d="M2196 3248l20 9-16-8-20-12z"/>
<path fill="#f9fb0e" d="M2176 3249l20-1-16-11-20 0zM2156 3253l20-4-16-12-20 4zM2136 3259l20-6-16-12-20 6z"/>
<path fill="#f6f313" d="M2116 3268l20-9-16-12-20 10zM2096 3287l20-19-16-11-20 22z"/>
<path fill="#fec832" d="M2076 3390l20-103-16-8-20 114z"/>
<path fill="#06a0cd" d="M2016 3913l20-88-16 76-20 234z"/>
<path fill="#079ccf" d="M1996 3934l20-21-16 222-20 65z"/>
<path fill="#06a0cd" d="M1976 3923l20 11-16 266-20-55z"/>
<path fill="#f6f313" d="M1876 3328l20 9-16-8-20-12z"/>
<path fill="#f9fb0e" d="M1856 3329l20-1-16-11-20 0zM1836 3334l20-5-16-12-20 4zM1816 3339l20-5-16-13-20 6z"/>
<path fill="#f6f313" d="M1796 3348l20-9-16-12-20 11zM1776 3367l20-19-16-10-20 22z"/>
<path fill="#fec832" d="M1756 3470l20-103-16-7-20 113z"/>
<path fill="#06a0cd" d="M1696 3993l20-87-16 75-20 234z"/>
<path fill="#079ccf" d="M1676 4014l20-21-16 222-20 65z"/>
<path fill="#06a0cd" d="M1656 4003l20 11-16 266-20-55z"/>
<path fill="#f6f313" d="M1556 3409l20 9-16-8-20-12z"/>
<path fill="#f9fb0e" d="M1536 3410l20-1-16-11-20 0zM1516 3414l20-4-16-12-20 4zM1496 3420l20-6-16-12-20 6z"/>
<path fill="#f6f313" d="M1476 3429l20-9-16-12-20 10zM1456 3448l20-19-16-11-20 22z"/>
<path fill="#fec832" d="M1436 3551l20-103-16-8-20 114z"/>
<path fill="#06a0cd" d="M1376 4073l20-87-16 76-20 234z"/>
<path fill="#079ccf" d="M1356 4094l20-21-16 223-20 65z"/>
<path fill="#06a0cd" d="M1336 4083l20 11-16 267-20-55z"/>
<path fill="#f6f313" d="M1236 3489l20 9-16-8-20-12z"/>
<path fill="#f9fb0e" d="M1216 3490l20-1-16-11-20 0zM1196 3495l20-5-16-12-20 4zM1176 3500l20-5-16-13-20 6z"/>
<path fill="#f6f313" d="M1156 3509l20-9-16-12-20 10zM1136 3528l20-19-16-11-20 22z"/>
<path fill="#fec832" d="M1116 3631l20-103-16-8-20 114z"/>
<path fill="#06a0cd" d="M1056 4154l20-88-16 76-20 234z"/>
<path fill="#f6f313" d="M2212 3268l20-1-16-10-20-9zM2192 3272l20-4-16-20-20 1zM2172 3277l20-5-16-23-20 4zM2152 3282l20-5-16-24-20 6zM2132 3289l20-7-16-23-20 9z"/>
<path fill="#f5eb18" d="M2112 3297l20-8-16-21-20 19z"/>
<path fill="#fcce2e" d="M2092 3385l20-88-16-10-20 103z"/>
<path fill="#f6f313" d="M1892 3349l20-1-16-11-20-9zM1872 3353l20-4-16-21-20 1zM1852 3358l20-5-16-24-20 5zM1832 3363l20-5-16-24-20 5zM1812 3369l20-6-16-24-20 9z"/>
<path fill="#f5eb18" d="M1792 3378l20-9-16-21-20 19z"/>
<path fill="#fcce2e" d="M1772 3465l20-87-16-11-20 103z"/>
<path fill="#f6f313" d="M1572 3429l20-1-16-10-20-9zM1552 3433l20-4-16-20-20 1zM1532 3438l20-5-16-23-20 4zM1512 3443l20-5-16-24-20 6zM1492 3449l20-6-16-23-20 9z"/>
<path fill="#f5eb18" d="M1472 3458l20-9-16-20-20 19z"/>
<path fill="#fcce2e" d="M1452 3546l20-88-16-10-20 103z"/>
<path fill="#a5be6b" d="M1412 3777l20-69-16 57-20 221z"/>
<path fill="#87bf77" d="M1392 3817l20-40-16 209-20 87zM1372 3828l20-11-16 256-20 21z"/>
<path fill="#f6f313" d="M1252 3510l20-2-16-10-20-9zM1232 3514l20-4-16-21-20 1zM1212 3519l20-5-16-24-20 5zM1192 3524l20-5-16-24-20 5zM1172 3530l20-6-16-24-20 9z"/>
<path fill="#f5eb18" d="M1152 3539l20-9-16-21-20 19z"/>
<path fill="#fcce2e" d="M1132 3626l20-87-16-11-20 103z"/>
<path fill="#a5be6b" d="M1092 3857l20-68-16 57-20 220z"/>
<path fill="#87bf77" d="M1072 3898l20-41-16 209-20 88z"/>
<path fill="#fcce2e" d="M2247 3356l20-9-15-2-20-78z"/>
<path fill="#fec832" d="M2227 3373l20-17-15-89-20 1zM2207 3388l20-15-15-105-20 4z"/>
<path fill="#ffc337" d="M2187 3395l20-7-15-116-20 5z"/>
<path fill="#fec832" d="M2167 3398l20-3-15-118-20 5zM2147 3393l20 5-15-116-20 7z"/>
<path fill="#fcce2e" d="M2127 3386l20 7-15-104-20 8zM2107 3387l20-1-15-89-20 88zM1927 3437l20-10-15-2-20-77z"/>
<path fill="#fec832" d="M1907 3454l20-17-15-89-20 1zM1887 3468l20-14-15-105-20 4z"/>
<path fill="#ffc337" d="M1867 3475l20-7-15-115-20 5z"/>
<path fill="#fec832" d="M1847 3478l20-3-15-117-20 5zM1827 3474l20 4-15-115-20 6z"/>
<path fill="#fcce2e" d="M1807 3467l20 7-15-105-20 9zM1787 3467l20 0-15-89-20 87zM1607 3517l20-9-15-3-20-77z"/>
<path fill="#fec832" d="M1587 3534l20-17-15-89-20 1zM1567 3549l20-15-15-105-20 4z"/>
<path fill="#ffc337" d="M1547 3556l20-7-15-116-20 5z"/>
<path fill="#fec832" d="M1527 3559l20-3-15-118-20 5zM1507 3554l20 5-15-116-20 6z"/>
<path fill="#fcce2e" d="M1487 3547l20 7-15-105-20 9zM1467 3548l20-1-15-89-20 88z"/>
<path fill="#fec832" d="M1427 3574l20-17-15 151-20 69zM1407 3589l20-15-15 203-20 40z"/>
<path fill="#fcce2e" d="M1287 3598l20-10-15-2-20-78z"/>
<path fill="#fec832" d="M1267 3614l20-16-15-90-20 2zM1247 3629l20-15-15-104-20 4z"/>
<path fill="#ffc337" d="M1227 3636l20-7-15-115-20 5z"/>
<path fill="#fec832" d="M1207 3639l20-3-15-117-20 5zM1187 3634l20 5-15-115-20 6z"/>
<path fill="#fcce2e" d="M1167 3628l20 6-15-104-20 9zM1147 3628l20 0-15-89-20 87zM1127 3638l20-10-15-2-20 163z"/>
<path fill="#fec832" d="M1107 3655l20-17-15 151-20 68zM1087 3669l20-14-15 202-20 41z"/>
<path fill="#fcce2e" d="M2282 3358l20-87-15 75-20 1z"/>
<path fill="#c8bc5d" d="M2262 3521l20-163-15-11-20 9z"/>
<path fill="#a5be6b" d="M2242 3589l20-68-15-165-20 17z"/>
<path fill="#87bf77" d="M2222 3630l20-41-15-216-20 15zM2202 3641l20-11-15-242-20 7z"/>
<path fill="#fcce2e" d="M1962 3438l20-87-15 76-20 0z"/>
<path fill="#c8bc5d" d="M1942 3601l20-163-15-11-20 10z"/>
<path fill="#a5be6b" d="M1922 3670l20-69-15-164-20 17z"/>
<path fill="#87bf77" d="M1902 3710l20-40-15-216-20 14zM1882 3721l20-11-15-242-20 7z"/>
<path fill="#fcce2e" d="M1642 3519l20-88-15 76-20 1z"/>
<path fill="#c8bc5d" d="M1622 3681l20-162-15-11-20 9z"/>
<path fill="#a5be6b" d="M1602 3750l20-69-15-164-20 17z"/>
<path fill="#87bf77" d="M1582 3790l20-40-15-216-20 15zM1562 3801l20-11-15-241-20 7z"/>
<path fill="#fcce2e" d="M1322 3599l20-87-15 75-20 1z"/>
<path fill="#c8bc5d" d="M1302 3762l20-163-15-11-20 10z"/>
<path fill="#a5be6b" d="M1282 3830l20-68-15-164-20 16z"/>
<path fill="#87bf77" d="M1262 3871l20-41-15-216-20 15zM1242 3882l20-11-15-242-20 7z"/>
<path fill="#f5eb18" d="M1142 3562l20 77-15-11-20 10z"/>
<path fill="#f6f313" d="M1122 3563l20-1-15 76-20 17zM1102 3567l20-4-15 92-20 14zM2318 3273l20-19-16 8-20 9z"/>
<path fill="#fec832" d="M2298 3376l20-103-16-2-20 87z"/>
<path fill="#f6f313" d="M1998 3354l20-19-16 7-20 9z"/>
<path fill="#fec832" d="M1978 3457l20-103-16-3-20 87z"/>
<path fill="#f6f313" d="M1678 3434l20-19-16 7-20 9z"/>
<path fill="#fec832" d="M1658 3537l20-103-16-3-20 88z"/>
<path fill="#f6f313" d="M1358 3515l20-20-16 8-20 9z"/>
<path fill="#fec832" d="M1338 3618l20-103-16-3-20 87zM1178 3658l20 204-16-70-20-153z"/>
<path fill="#f6f313" d="M1158 3565l20 93-16-19-20-77zM1138 3556l20 9-16-3-20 1z"/>
<path fill="#f9fb0e" d="M1118 3557l20-1-16 7-20 4zM2374 3247l20-6-16-1-20 5zM2354 3257l20-10-16-2-20 9z"/>
<path fill="#f6f313" d="M2334 3279l20-22-16-3-20 19z"/>
<path fill="#fec832" d="M2314 3393l20-114-16-6-20 103z"/>
<path fill="#f9fb0e" d="M2094 3317l20 0-16-2-20 1zM2074 3321l20-4-16-1-20 4zM2054 3327l20-6-16-1-20 6zM2034 3337l20-10-16-1-20 9z"/>
<path fill="#f6f313" d="M2014 3359l20-22-16-2-20 19z"/>
<path fill="#fec832" d="M1994 3473l20-114-16-5-20 103z"/>
<path fill="#f9fb0e" d="M1774 3397l20 1-16-3-20 1zM1754 3401l20-4-16-1-20 5zM1734 3407l20-6-16 0-20 5zM1714 3418l20-11-16-1-20 9z"/>
<path fill="#f6f313" d="M1694 3440l20-22-16-3-20 19z"/>
<path fill="#fec832" d="M1674 3553l20-113-16-6-20 103z"/>
<path fill="#f9fb0e" d="M1454 3478l20 0-16-3-20 1zM1434 3482l20-4-16-2-20 5zM1414 3488l20-6-16-1-20 5zM1394 3498l20-10-16-2-20 9z"/>
<path fill="#f6f313" d="M1374 3520l20-22-16-3-20 20z"/>
<path fill="#fec832" d="M1354 3634l20-114-16-5-20 103z"/>
<path fill="#87bf77" d="M1214 3904l20 258-16-89-20-211z"/>
<path fill="#fec832" d="M1194 3674l20 230-16-42-20-204z"/>
<path fill="#f6f313" d="M1174 3570l20 104-16-16-20-93z"/>
<path fill="#f9fb0e" d="M1134 3558l20 0-16-2-20 1zM2389 3252l20-10-15-1-20 6zM2369 3263l20-11-15-5-20 10z"/>
<path fill="#f6f313" d="M2349 3286l20-23-15-6-20 22z"/>
<path fill="#ffc337" d="M2329 3401l20-115-15-7-20 114z"/>
<path fill="#f9fb0e" d="M2109 3323l20 0-15-6-20 0zM2089 3322l20 1-15-6-20 4zM2069 3333l20-11-15-1-20 6zM2049 3344l20-11-15-6-20 10z"/>
<path fill="#f6f313" d="M2029 3366l20-22-15-7-20 22z"/>
<path fill="#ffc337" d="M2009 3482l20-116-15-7-20 114z"/>
<path fill="#f9fb0e" d="M1789 3403l20 1-15-6-20-1zM1769 3402l20 1-15-6-20 4zM1749 3413l20-11-15-1-20 6zM1729 3424l20-11-15-6-20 11z"/>
<path fill="#f6f313" d="M1709 3446l20-22-15-6-20 22z"/>
<path fill="#ffc337" d="M1689 3562l20-116-15-6-20 113z"/>
<path fill="#f9fb0e" d="M1469 3484l20 0-15-6-20 0zM1449 3483l20 1-15-6-20 4zM1429 3494l20-11-15-1-20 6zM1409 3504l20-10-15-6-20 10z"/>
<path fill="#f6f313" d="M1389 3527l20-23-15-6-20 22z"/>
<path fill="#ffc337" d="M1369 3642l20-115-15-7-20 114z"/>
<path fill="#079ccf" d="M1249 4185l20 267-15-66-20-224z"/>
<path fill="#87bf77" d="M1229 3917l20 268-15-23-20-258z"/>
<path fill="#ffc337" d="M1209 3683l20 234-15-13-20-230z"/>
<path fill="#f6f313" d="M1189 3577l20 106-15-9-20-104z"/>
<path fill="#f9fb0e" d="M1149 3564l20 1-15-7-20 0zM2404 3260l20-6-15-12-20 10zM2384 3270l20-10-15-8-20 11z"/>
<path fill="#f6f313" d="M2364 3292l20-22-15-7-20 23z"/>
<path fill="#fec832" d="M2344 3406l20-114-15-6-20 115z"/>
<path fill="#3243ba" d="M2264 4213l20-65-15 53-20 73z"/>
<path fill="#0363e1" d="M2244 4158l20 55-15 61-20-63z"/>
<path fill="#f9fb0e" d="M2124 3330l20 0-15-7-20 0zM2104 3334l20-4-15-7-20-1zM2084 3340l20-6-15-12-20 11zM2064 3351l20-11-15-7-20 11z"/>
<path fill="#f6f313" d="M2044 3373l20-22-15-7-20 22z"/>
<path fill="#fec832" d="M2024 3486l20-113-15-7-20 116z"/>
<path fill="#3243ba" d="M1944 4293l20-65-15 54-20 72z"/>
<path fill="#0363e1" d="M1924 4238l20 55-15 61-20-62z"/>
<path fill="#f9fb0e" d="M1804 3411l20 0-15-7-20-1zM1784 3415l20-4-15-8-20-1zM1764 3421l20-6-15-13-20 11zM1744 3431l20-10-15-8-20 11z"/>
<path fill="#f6f313" d="M1724 3453l20-22-15-7-20 22z"/>
<path fill="#fec832" d="M1704 3567l20-114-15-7-20 116z"/>
<path fill="#3243ba" d="M1624 4374l20-65-15 53-20 72z"/>
<path fill="#0363e1" d="M1604 4319l20 55-15 60-20-62z"/>
<path fill="#f9fb0e" d="M1484 3491l20 0-15-7-20 0zM1464 3495l20-4-15-7-20-1zM1444 3501l20-6-15-12-20 11zM1424 3511l20-10-15-7-20 10z"/>
<path fill="#f6f313" d="M1404 3533l20-22-15-7-20 23z"/>
<path fill="#fec832" d="M1384 3647l20-114-15-6-20 115z"/>
<path fill="#3243ba" d="M1304 4454l20-65-15 53-20 73z"/>
<path fill="#0363e1" d="M1284 4399l20 55-15 61-20-63z"/>
<path fill="#f6f313" d="M1204 3584l20 103-15-4-20-106z"/>
<path fill="#f9fb0e" d="M1164 3571l20 1-15-7-20-1zM2420 3272l20-6-16-12-20 6z"/>
<path fill="#f6f313" d="M2400 3281l20-9-16-12-20 10zM2380 3300l20-19-16-11-20 22z"/>
<path fill="#fec832" d="M2360 3403l20-103-16-8-20 114z"/>
<path fill="#06a0cd" d="M2300 3926l20-88-16 76-20 234z"/>
<path fill="#079ccf" d="M2280 3947l20-21-16 222-20 65z"/>
<path fill="#06a0cd" d="M2260 3936l20 11-16 266-20-55z"/>
<path fill="#f9fb0e" d="M2140 3342l20-1-16-11-20 0zM2120 3347l20-5-16-12-20 4zM2100 3352l20-5-16-13-20 6z"/>
<path fill="#f6f313" d="M2080 3361l20-9-16-12-20 11zM2060 3380l20-19-16-10-20 22z"/>
<path fill="#fec832" d="M2040 3483l20-103-16-7-20 113z"/>
<path fill="#06a0cd" d="M1980 4006l20-87-16 75-20 234z"/>
<path fill="#079ccf" d="M1960 4027l20-21-16 222-20 65z"/>
<path fill="#06a0cd" d="M1940 4016l20 11-16 266-20-55z"/>
<path fill="#f9fb0e" d="M1820 3423l20-1-16-11-20 0zM1800 3427l20-4-16-12-20 4zM1780 3433l20-6-16-12-20 6z"/>
<path fill="#f6f313" d="M1760 3442l20-9-16-12-20 10zM1740 3461l20-19-16-11-20 22z"/>
<path fill="#fec832" d="M1720 3564l20-103-16-8-20 114z"/>
<path fill="#06a0cd" d="M1660 4086l20-87-16 76-20 234z"/>
<path fill="#079ccf" d="M1640 4107l20-21-16 223-20 65z"/>
<path fill="#06a0cd" d="M1620 4096l20 11-16 267-20-55z"/>
<path fill="#f6f313" d="M1520 3502l20 9-16-8-20-12z"/>
<path fill="#f9fb0e" d="M1500 3503l20-1-16-11-20 0zM1480 3508l20-5-16-12-20 4zM1460 3513l20-5-16-13-20 6z"/>
<path fill="#f6f313" d="M1440 3522l20-9-16-12-20 10zM1420 3541l20-19-16-11-20 22z"/>
<path fill="#fec832" d="M1400 3644l20-103-16-8-20 114z"/>
<path fill="#06a0cd" d="M1340 4167l20-88-16 76-20 234z"/>
<path fill="#079ccf" d="M1320 4188l20-21-16 222-20 65z"/>
<path fill="#06a0cd" d="M1300 4177l20 11-16 266-20-55z"/>
<path fill="#f9fb0e" d="M1180 3583l20-1-16-10-20-1z"/>
<path fill="#f6f313" d="M2436 3295l20-5-16-24-20 6zM2416 3302l20-7-16-23-20 9z"/>
<path fill="#f5eb18" d="M2396 3310l20-8-16-21-20 19z"/>
<path fill="#fcce2e" d="M2376 3398l20-88-16-10-20 103z"/>
<path fill="#87bf77" d="M2316 3669l20-40-16 209-20 88zM2296 3680l20-11-16 257-20 21z"/>
<path fill="#f6f313" d="M2176 3362l20-1-16-11-20-9zM2156 3366l20-4-16-21-20 1zM2136 3371l20-5-16-24-20 5zM2116 3376l20-5-16-24-20 5zM2096 3382l20-6-16-24-20 9z"/>
<path fill="#f5eb18" d="M2076 3391l20-9-16-21-20 19z"/>
<path fill="#fcce2e" d="M2056 3478l20-87-16-11-20 103z"/>
<path fill="#87bf77" d="M1996 3750l20-41-16 210-20 87zM1976 3761l20-11-16 256-20 21z"/>
<path fill="#f6f313" d="M1856 3442l20-1-16-10-20-9zM1836 3446l20-4-16-20-20 1zM1816 3451l20-5-16-23-20 4zM1796 3456l20-5-16-24-20 6zM1776 3462l20-6-16-23-20 9z"/>
<path fill="#f5eb18" d="M1756 3471l20-9-16-20-20 19z"/>
<path fill="#fcce2e" d="M1736 3559l20-88-16-10-20 103z"/>
<path fill="#87bf77" d="M1676 3830l20-40-16 209-20 87zM1656 3841l20-11-16 256-20 21z"/>
<path fill="#f6f313" d="M1536 3523l20-2-16-10-20-9zM1516 3527l20-4-16-21-20 1zM1496 3532l20-5-16-24-20 5zM1476 3537l20-5-16-24-20 5zM1456 3543l20-6-16-24-20 9z"/>
<path fill="#f5eb18" d="M1436 3552l20-9-16-21-20 19z"/>
<path fill="#fcce2e" d="M1416 3639l20-87-16-11-20 103z"/>
<path fill="#a5be6b" d="M1376 3870l20-68-16 57-20 220z"/>
<path fill="#87bf77" d="M1356 3911l20-41-16 209-20 88zM1336 3922l20-11-16 256-20 21z"/>
<path fill="#f6f313" d="M1216 3603l20-1-16-11-20-9zM1196 3607l20-4-16-21-20 1z"/>
<path fill="#fec832" d="M2451 3411l20-3-15-118-20 5zM2431 3406l20 5-15-116-20 7z"/>
<path fill="#fcce2e" d="M2411 3399l20 7-15-104-20 8zM2391 3400l20-1-15-89-20 88zM2211 3450l20-10-15-2-20-77z"/>
<path fill="#fec832" d="M2191 3467l20-17-15-89-20 1zM2171 3481l20-14-15-105-20 4z"/>
<path fill="#ffc337" d="M2151 3488l20-7-15-115-20 5z"/>
<path fill="#fec832" d="M2131 3491l20-3-15-117-20 5zM2111 3487l20 4-15-115-20 6z"/>
<path fill="#fcce2e" d="M2091 3480l20 7-15-105-20 9zM2071 3480l20 0-15-89-20 87zM1891 3530l20-9-15-3-20-77z"/>
<path fill="#fec832" d="M1871 3547l20-17-15-89-20 1zM1851 3562l20-15-15-105-20 4z"/>
<path fill="#ffc337" d="M1831 3569l20-7-15-116-20 5z"/>
<path fill="#fec832" d="M1811 3572l20-3-15-118-20 5zM1791 3567l20 5-15-116-20 6z"/>
<path fill="#fcce2e" d="M1771 3560l20 7-15-105-20 9zM1751 3561l20-1-15-89-20 88zM1571 3611l20-10-15-2-20-78z"/>
<path fill="#fec832" d="M1551 3627l20-16-15-90-20 2zM1531 3642l20-15-15-104-20 4z"/>
<path fill="#ffc337" d="M1511 3649l20-7-15-115-20 5z"/>
<path fill="#fec832" d="M1491 3652l20-3-15-117-20 5zM1471 3647l20 5-15-115-20 6z"/>
<path fill="#fcce2e" d="M1451 3641l20 6-15-104-20 9zM1431 3641l20 0-15-89-20 87zM1411 3651l20-10-15-2-20 163z"/>
<path fill="#fec832" d="M1391 3668l20-17-15 151-20 68zM1371 3682l20-14-15 202-20 41z"/>
<path fill="#fcce2e" d="M1251 3691l20-10-15-2-20-77z"/>
<path fill="#fec832" d="M1231 3708l20-17-15-89-20 1zM1211 3722l20-14-15-105-20 4z"/>
<path fill="#fcce2e" d="M2246 3451l20-87-15 76-20 0z"/>
<path fill="#c8bc5d" d="M2226 3614l20-163-15-11-20 10z"/>
<path fill="#a5be6b" d="M2206 3683l20-69-15-164-20 17z"/>
<path fill="#87bf77" d="M2186 3723l20-40-15-216-20 14zM2166 3734l20-11-15-242-20 7z"/>
<path fill="#fcce2e" d="M1926 3532l20-88-15 76-20 1z"/>
<path fill="#c8bc5d" d="M1906 3694l20-162-15-11-20 9z"/>
<path fill="#a5be6b" d="M1886 3763l20-69-15-164-20 17z"/>
<path fill="#87bf77" d="M1866 3803l20-40-15-216-20 15zM1846 3814l20-11-15-241-20 7z"/>
<path fill="#fcce2e" d="M1606 3612l20-87-15 75-20 1z"/>
<path fill="#c8bc5d" d="M1586 3775l20-163-15-11-20 10z"/>
<path fill="#a5be6b" d="M1566 3843l20-68-15-164-20 16z"/>
<path fill="#87bf77" d="M1546 3884l20-41-15-216-20 15zM1526 3895l20-11-15-242-20 7z"/>
<path fill="#fcce2e" d="M1286 3693l20-88-15 76-20 0z"/>
<path fill="#c8bc5d" d="M1266 3855l20-162-15-12-20 10z"/>
<path fill="#a5be6b" d="M1246 3924l20-69-15-164-20 17z"/>
<path fill="#87bf77" d="M1226 3964l20-40-15-216-20 14z"/>
<path fill="#f6f313" d="M2282 3367l20-19-16 7-20 9z"/>
<path fill="#fec832" d="M2262 3470l20-103-16-3-20 87z"/>
<path fill="#f6f313" d="M1962 3447l20-19-16 7-20 9z"/>
<path fill="#fec832" d="M1942 3550l20-103-16-3-20 88z"/>
<path fill="#f6f313" d="M1642 3528l20-20-16 8-20 9z"/>
<path fill="#fec832" d="M1622 3631l20-103-16-3-20 87z"/>
<path fill="#f6f313" d="M1322 3608l20-19-16 7-20 9z"/>
<path fill="#fec832" d="M1302 3711l20-103-16-3-20 88z"/>
<path fill="#a5be6b" d="M1282 3925l20-214-16-18-20 162z"/>
<path fill="#15b1b4" d="M1262 4146l20-221-16-70-20 69z"/>
<path fill="#06a0cd" d="M1242 4234l20-88-16-222-20 40z"/>
<path fill="#f9fb0e" d="M2378 3330l20 0-16-2-20 1zM2358 3334l20-4-16-1-20 4zM2338 3340l20-6-16-1-20 6zM2318 3350l20-10-16-1-20 9z"/>
<path fill="#f6f313" d="M2298 3372l20-22-16-2-20 19z"/>
<path fill="#fec832" d="M2278 3486l20-114-16-5-20 103z"/>
<path fill="#f9fb0e" d="M2058 3410l20 1-16-3-20 1zM2038 3414l20-4-16-1-20 5zM2018 3420l20-6-16 0-20 5zM1998 3431l20-11-16-1-20 9z"/>
<path fill="#f6f313" d="M1978 3453l20-22-16-3-20 19z"/>
<path fill="#fec832" d="M1958 3566l20-113-16-6-20 103z"/>
<path fill="#f9fb0e" d="M1738 3491l20 0-16-3-20 1zM1718 3495l20-4-16-2-20 5zM1698 3501l20-6-16-1-20 5zM1678 3511l20-10-16-2-20 9z"/>
<path fill="#f6f313" d="M1658 3533l20-22-16-3-20 20z"/>
<path fill="#fec832" d="M1638 3647l20-114-16-5-20 103z"/>
<path fill="#f9fb0e" d="M1418 3571l20 0-16-2-20 1zM1398 3575l20-4-16-1-20 4zM1378 3581l20-6-16-1-20 6zM1358 3591l20-10-16-1-20 9z"/>
<path fill="#f6f313" d="M1338 3613l20-22-16-2-20 19z"/>
<path fill="#fec832" d="M1318 3727l20-114-16-5-20 103z"/>
<path fill="#87bf77" d="M1298 3967l20-240-16-16-20 214z"/>
<path fill="#06a0cd" d="M1278 4235l20-268-16-42-20 221z"/>
<path fill="#0363e1" d="M1258 4469l20-234-16-89-20 88z"/>
<path fill="#f9fb0e" d="M2393 3336l20 0-15-6-20 0zM2373 3335l20 1-15-6-20 4zM2353 3346l20-11-15-1-20 6zM2333 3357l20-11-15-6-20 10z"/>
<path fill="#f6f313" d="M2313 3379l20-22-15-7-20 22z"/>
<path fill="#ffc337" d="M2293 3495l20-116-15-7-20 114z"/>
<path fill="#f9fb0e" d="M2073 3416l20 1-15-6-20-1zM2053 3415l20 1-15-6-20 4zM2033 3426l20-11-15-1-20 6zM2013 3437l20-11-15-6-20 11z"/>
<path fill="#f6f313" d="M1993 3459l20-22-15-6-20 22z"/>
<path fill="#ffc337" d="M1973 3575l20-116-15-6-20 113z"/>
<path fill="#f9fb0e" d="M1753 3497l20 0-15-6-20 0zM1733 3496l20 1-15-6-20 4zM1713 3507l20-11-15-1-20 6zM1693 3517l20-10-15-6-20 10z"/>
<path fill="#f6f313" d="M1673 3540l20-23-15-6-20 22z"/>
<path fill="#ffc337" d="M1653 3655l20-115-15-7-20 114z"/>
<path fill="#f9fb0e" d="M1433 3577l20 1-15-7-20 0zM1413 3576l20 1-15-6-20 4zM1393 3587l20-11-15-1-20 6zM1373 3598l20-11-15-6-20 10z"/>
<path fill="#f6f313" d="M1353 3620l20-22-15-7-20 22z"/>
<path fill="#ffc337" d="M1333 3736l20-116-15-7-20 114z"/>
<path fill="#87bf77" d="M1313 3980l20-244-15-9-20 240z"/>
<path fill="#079ccf" d="M1293 4258l20-278-15-13-20 268z"/>
<path fill="#3243ba" d="M1273 4536l20-278-15-23-20 234z"/>
<path fill="#0363e1" d="M2528 4171l20 55-15 61-20-63z"/>
<path fill="#f9fb0e" d="M2408 3343l20 0-15-7-20 0zM2388 3347l20-4-15-7-20-1zM2368 3353l20-6-15-12-20 11zM2348 3364l20-11-15-7-20 11z"/>
<path fill="#f6f313" d="M2328 3386l20-22-15-7-20 22z"/>
<path fill="#fec832" d="M2308 3499l20-113-15-7-20 116z"/>
<path fill="#0363e1" d="M2208 4251l20 55-15 61-20-62z"/>
<path fill="#f9fb0e" d="M2088 3424l20 0-15-7-20-1zM2068 3428l20-4-15-8-20-1zM2048 3434l20-6-15-13-20 11zM2028 3444l20-10-15-8-20 11z"/>
<path fill="#f6f313" d="M2008 3466l20-22-15-7-20 22z"/>
<path fill="#fec832" d="M1988 3580l20-114-15-7-20 116z"/>
<path fill="#0363e1" d="M1888 4332l20 55-15 60-20-62z"/>
<path fill="#f9fb0e" d="M1768 3504l20 0-15-7-20 0zM1748 3508l20-4-15-7-20-1zM1728 3514l20-6-15-12-20 11zM1708 3524l20-10-15-7-20 10z"/>
<path fill="#f6f313" d="M1688 3546l20-22-15-7-20 23z"/>
<path fill="#fec832" d="M1668 3660l20-114-15-6-20 115z"/>
<path fill="#0363e1" d="M1568 4412l20 55-15 61-20-63z"/>
<path fill="#f9fb0e" d="M1448 3584l20 1-15-7-20-1zM1428 3589l20-5-15-7-20-1zM1408 3595l20-6-15-13-20 11zM1388 3605l20-10-15-8-20 11z"/>
<path fill="#f6f313" d="M1368 3627l20-22-15-7-20 22z"/>
<path fill="#fec832" d="M1348 3741l20-114-15-7-20 116z"/>
<path fill="#87bf77" d="M1328 3981l20-240-15-5-20 244z"/>
<path fill="#06a0cd" d="M1308 4248l20-267-15-1-20 278z"/>
<path fill="#0363e1" d="M1288 4482l20-234-15 10-20 278z"/>
<path fill="#06a0cd" d="M2544 3949l20 11-16 266-20-55z"/>
<path fill="#f6f313" d="M2444 3354l20 9-16-8-20-12z"/>
<path fill="#f9fb0e" d="M2424 3355l20-1-16-11-20 0zM2404 3360l20-5-16-12-20 4zM2384 3365l20-5-16-13-20 6z"/>
<path fill="#f6f313" d="M2364 3374l20-9-16-12-20 11zM2344 3393l20-19-16-10-20 22z"/>
<path fill="#fec832" d="M2324 3496l20-103-16-7-20 113z"/>
<path fill="#06a0cd" d="M2264 4019l20-87-16 75-20 234z"/>
<path fill="#079ccf" d="M2244 4040l20-21-16 222-20 65z"/>
<path fill="#06a0cd" d="M2224 4029l20 11-16 266-20-55z"/>
<path fill="#f6f313" d="M2124 3435l20 9-16-8-20-12z"/>
<path fill="#f9fb0e" d="M2104 3436l20-1-16-11-20 0zM2084 3440l20-4-16-12-20 4zM2064 3446l20-6-16-12-20 6z"/>
<path fill="#f6f313" d="M2044 3455l20-9-16-12-20 10zM2024 3474l20-19-16-11-20 22z"/>
<path fill="#fec832" d="M2004 3577l20-103-16-8-20 114z"/>
<path fill="#06a0cd" d="M1944 4099l20-87-16 76-20 234z"/>
<path fill="#079ccf" d="M1924 4120l20-21-16 223-20 65z"/>
<path fill="#06a0cd" d="M1904 4109l20 11-16 267-20-55z"/>
<path fill="#f6f313" d="M1804 3515l20 9-16-8-20-12z"/>
<path fill="#f9fb0e" d="M1784 3516l20-1-16-11-20 0zM1764 3521l20-5-16-12-20 4zM1744 3526l20-5-16-13-20 6z"/>
<path fill="#f6f313" d="M1724 3535l20-9-16-12-20 10zM1704 3554l20-19-16-11-20 22z"/>
<path fill="#fec832" d="M1684 3657l20-103-16-8-20 114z"/>
<path fill="#06a0cd" d="M1624 4180l20-88-16 76-20 234z"/>
<path fill="#079ccf" d="M1604 4201l20-21-16 222-20 65z"/>
<path fill="#06a0cd" d="M1584 4190l20 11-16 266-20-55z"/>
<path fill="#f6f313" d="M1484 3595l20 9-16-7-20-12z"/>
<path fill="#f9fb0e" d="M1464 3596l20-1-16-10-20-1zM1444 3601l20-5-16-12-20 5zM1424 3606l20-5-16-12-20 6z"/>
<path fill="#f6f313" d="M1404 3615l20-9-16-11-20 10zM1384 3635l20-20-16-10-20 22z"/>
<path fill="#fec832" d="M1364 3738l20-103-16-8-20 114z"/>
<path fill="#06a0cd" d="M1304 4260l20-87-16 75-20 234z"/>
<path fill="#f6f313" d="M2460 3375l20-1-16-11-20-9zM2440 3379l20-4-16-21-20 1zM2420 3384l20-5-16-24-20 5zM2400 3389l20-5-16-24-20 5zM2380 3395l20-6-16-24-20 9z"/>
<path fill="#f5eb18" d="M2360 3404l20-9-16-21-20 19z"/>
<path fill="#fcce2e" d="M2340 3491l20-87-16-11-20 103z"/>
<path fill="#a5be6b" d="M2300 3722l20-68-16 57-20 221z"/>
<path fill="#87bf77" d="M2280 3763l20-41-16 210-20 87zM2260 3774l20-11-16 256-20 21z"/>
<path fill="#f6f313" d="M2140 3455l20-1-16-10-20-9zM2120 3459l20-4-16-20-20 1zM2100 3464l20-5-16-23-20 4zM2080 3469l20-5-16-24-20 6zM2060 3475l20-6-16-23-20 9z"/>
<path fill="#f5eb18" d="M2040 3484l20-9-16-20-20 19z"/>
<path fill="#fcce2e" d="M2020 3572l20-88-16-10-20 103z"/>
<path fill="#a5be6b" d="M1980 3803l20-69-16 57-20 221z"/>
<path fill="#87bf77" d="M1960 3843l20-40-16 209-20 87zM1940 3854l20-11-16 256-20 21z"/>
<path fill="#f6f313" d="M1820 3536l20-2-16-10-20-9zM1800 3540l20-4-16-21-20 1zM1780 3545l20-5-16-24-20 5zM1760 3550l20-5-16-24-20 5zM1740 3556l20-6-16-24-20 9z"/>
<path fill="#f5eb18" d="M1720 3565l20-9-16-21-20 19z"/>
<path fill="#fcce2e" d="M1700 3652l20-87-16-11-20 103z"/>
<path fill="#a5be6b" d="M1660 3883l20-68-16 57-20 220z"/>
<path fill="#87bf77" d="M1640 3924l20-41-16 209-20 88zM1620 3935l20-11-16 256-20 21z"/>
<path fill="#f6f313" d="M1500 3616l20-1-16-11-20-9zM1480 3620l20-4-16-21-20 1zM1460 3625l20-5-16-24-20 5zM1440 3630l20-5-16-24-20 5zM1420 3636l20-6-16-24-20 9z"/>
<path fill="#f5eb18" d="M1400 3645l20-9-16-21-20 20z"/>
<path fill="#fcce2e" d="M1380 3732l20-87-16-10-20 103z"/>
<path fill="#a5be6b" d="M1340 3964l20-69-16 57-20 221z"/>
<path fill="#87bf77" d="M1320 4004l20-40-16 209-20 87z"/>
<path fill="#fcce2e" d="M2495 3463l20-10-15-2-20-77z"/>
<path fill="#fec832" d="M2475 3480l20-17-15-89-20 1zM2455 3494l20-14-15-105-20 4z"/>
<path fill="#ffc337" d="M2435 3501l20-7-15-115-20 5z"/>
<path fill="#fec832" d="M2415 3504l20-3-15-117-20 5zM2395 3500l20 4-15-115-20 6z"/>
<path fill="#fcce2e" d="M2375 3493l20 7-15-105-20 9zM2355 3493l20 0-15-89-20 87z"/>
<path fill="#fec832" d="M2315 3520l20-17-15 151-20 68zM2295 3534l20-14-15 202-20 41z"/>
<path fill="#fcce2e" d="M2175 3543l20-9-15-3-20-77z"/>
<path fill="#fec832" d="M2155 3560l20-17-15-89-20 1zM2135 3575l20-15-15-105-20 4z"/>
<path fill="#ffc337" d="M2115 3582l20-7-15-116-20 5z"/>
<path fill="#fec832" d="M2095 3585l20-3-15-118-20 5zM2075 3580l20 5-15-116-20 6z"/>
<path fill="#fcce2e" d="M2055 3573l20 7-15-105-20 9zM2035 3574l20-1-15-89-20 88z"/>
<path fill="#fec832" d="M1995 3600l20-17-15 151-20 69zM1975 3615l20-15-15 203-20 40z"/>
<path fill="#fcce2e" d="M1855 3624l20-10-15-2-20-78z"/>
<path fill="#fec832" d="M1835 3640l20-16-15-90-20 2zM1815 3655l20-15-15-104-20 4z"/>
<path fill="#ffc337" d="M1795 3662l20-7-15-115-20 5z"/>
<path fill="#fec832" d="M1775 3665l20-3-15-117-20 5zM1755 3660l20 5-15-115-20 6z"/>
<path fill="#fcce2e" d="M1735 3654l20 6-15-104-20 9zM1715 3654l20 0-15-89-20 87z"/>
<path fill="#fec832" d="M1675 3681l20-17-15 151-20 68zM1655 3695l20-14-15 202-20 41z"/>
<path fill="#fcce2e" d="M1535 3704l20-10-15-2-20-77z"/>
<path fill="#fec832" d="M1515 3721l20-17-15-89-20 1zM1495 3735l20-14-15-105-20 4z"/>
<path fill="#ffc337" d="M1475 3742l20-7-15-115-20 5z"/>
<path fill="#fec832" d="M1455 3745l20-3-15-117-20 5zM1435 3741l20 4-15-115-20 6z"/>
<path fill="#fcce2e" d="M1415 3734l20 7-15-105-20 9zM1395 3735l20-1-15-89-20 87zM1375 3744l20-9-15-3-20 163z"/>
<path fill="#fec832" d="M1355 3761l20-17-15 151-20 69zM1335 3776l20-15-15 203-20 40z"/>
<path fill="#fcce2e" d="M2530 3464l20-87-15 76-20 0z"/>
<path fill="#c8bc5d" d="M2510 3627l20-163-15-11-20 10z"/>
<path fill="#a5be6b" d="M2490 3696l20-69-15-164-20 17z"/>
<path fill="#87bf77" d="M2470 3736l20-40-15-216-20 14zM2450 3747l20-11-15-242-20 7z"/>
<path fill="#fcce2e" d="M2210 3545l20-88-15 76-20 1z"/>
<path fill="#c8bc5d" d="M2190 3707l20-162-15-11-20 9z"/>
<path fill="#a5be6b" d="M2170 3776l20-69-15-164-20 17z"/>
<path fill="#87bf77" d="M2150 3816l20-40-15-216-20 15zM2130 3827l20-11-15-241-20 7z"/>
<path fill="#fcce2e" d="M1890 3625l20-87-15 75-20 1z"/>
<path fill="#c8bc5d" d="M1870 3788l20-163-15-11-20 10z"/>
<path fill="#a5be6b" d="M1850 3856l20-68-15-164-20 16z"/>
<path fill="#87bf77" d="M1830 3897l20-41-15-216-20 15zM1810 3908l20-11-15-242-20 7z"/>
<path fill="#fcce2e" d="M1570 3706l20-88-15 76-20 0z"/>
<path fill="#c8bc5d" d="M1550 3868l20-162-15-12-20 10z"/>
<path fill="#a5be6b" d="M1530 3937l20-69-15-164-20 17z"/>
<path fill="#87bf77" d="M1510 3977l20-40-15-216-20 14zM1490 3988l20-11-15-242-20 7z"/>
<path fill="#f5eb18" d="M1390 3668l20 78-15-11-20 9z"/>
<path fill="#f6f313" d="M1370 3670l20-2-15 76-20 17zM1350 3673l20-3-15 91-20 15zM2566 3380l20-19-16 7-20 9z"/>
<path fill="#fec832" d="M2546 3483l20-103-16-3-20 87z"/>
<path fill="#f6f313" d="M2246 3460l20-19-16 7-20 9z"/>
<path fill="#fec832" d="M2226 3563l20-103-16-3-20 88z"/>
<path fill="#f6f313" d="M1926 3541l20-20-16 8-20 9z"/>
<path fill="#fec832" d="M1906 3644l20-103-16-3-20 87z"/>
<path fill="#f6f313" d="M1606 3621l20-19-16 7-20 9z"/>
<path fill="#fec832" d="M1586 3724l20-103-16-3-20 88zM1426 3764l20 205-16-71-20-152z"/>
<path fill="#f6f313" d="M1406 3671l20 93-16-18-20-78zM1386 3662l20 9-16-3-20 2z"/>
<path fill="#f9fb0e" d="M1366 3663l20-1-16 8-20 3zM2622 3353l20-6-16-1-20 6zM2602 3363l20-10-16-1-20 9z"/>
<path fill="#f6f313" d="M2582 3385l20-22-16-2-20 19z"/>
<path fill="#fec832" d="M2562 3499l20-114-16-5-20 103z"/>
<path fill="#f9fb0e" d="M2342 3423l20 1-16-3-20 1zM2322 3427l20-4-16-1-20 5zM2302 3433l20-6-16 0-20 5zM2282 3444l20-11-16-1-20 9z"/>
<path fill="#f6f313" d="M2262 3466l20-22-16-3-20 19z"/>
<path fill="#fec832" d="M2242 3579l20-113-16-6-20 103z"/>
<path fill="#f9fb0e" d="M2022 3504l20 0-16-3-20 1zM2002 3508l20-4-16-2-20 5zM1982 3514l20-6-16-1-20 5zM1962 3524l20-10-16-2-20 9z"/>
<path fill="#f6f313" d="M1942 3546l20-22-16-3-20 20z"/>
<path fill="#fec832" d="M1922 3660l20-114-16-5-20 103z"/>
<path fill="#f9fb0e" d="M1702 3584l20 0-16-2-20 1zM1682 3588l20-4-16-1-20 4zM1662 3594l20-6-16-1-20 6zM1642 3604l20-10-16-1-20 9z"/>
<path fill="#f6f313" d="M1622 3626l20-22-16-2-20 19z"/>
<path fill="#fec832" d="M1602 3740l20-114-16-5-20 103z"/>
<path fill="#87bf77" d="M1462 4011l20 257-16-89-20-210z"/>
<path fill="#fec832" d="M1442 3780l20 231-16-42-20-205z"/>
<path fill="#f6f313" d="M1422 3677l20 103-16-16-20-93z"/>
<path fill="#f9fb0e" d="M1382 3665l20 0-16-3-20 1zM2637 3359l20-11-15-1-20 6zM2617 3370l20-11-15-6-20 10z"/>
<path fill="#f6f313" d="M2597 3392l20-22-15-7-20 22z"/>
<path fill="#ffc337" d="M2577 3508l20-116-15-7-20 114z"/>
<path fill="#f9fb0e" d="M2357 3429l20 1-15-6-20-1zM2337 3428l20 1-15-6-20 4zM2317 3439l20-11-15-1-20 6zM2297 3450l20-11-15-6-20 11z"/>
<path fill="#f6f313" d="M2277 3472l20-22-15-6-20 22z"/>
<path fill="#ffc337" d="M2257 3588l20-116-15-6-20 113z"/>
<path fill="#f9fb0e" d="M2037 3510l20 0-15-6-20 0zM2017 3509l20 1-15-6-20 4zM1997 3520l20-11-15-1-20 6zM1977 3530l20-10-15-6-20 10z"/>
<path fill="#f6f313" d="M1957 3553l20-23-15-6-20 22z"/>
<path fill="#ffc337" d="M1937 3668l20-115-15-7-20 114z"/>
<path fill="#f9fb0e" d="M1717 3590l20 1-15-7-20 0zM1697 3589l20 1-15-6-20 4zM1677 3600l20-11-15-1-20 6zM1657 3611l20-11-15-6-20 10z"/>
<path fill="#f6f313" d="M1637 3633l20-22-15-7-20 22z"/>
<path fill="#ffc337" d="M1617 3749l20-116-15-7-20 114z"/>
<path fill="#079ccf" d="M1497 4291l20 268-15-67-20-224z"/>
<path fill="#87bf77" d="M1477 4023l20 268-15-23-20-257z"/>
<path fill="#ffc337" d="M1457 3789l20 234-15-12-20-231z"/>
<path fill="#f6f313" d="M1437 3683l20 106-15-9-20-103z"/>
<path fill="#f9fb0e" d="M1397 3670l20 1-15-6-20 0zM2652 3366l20-6-15-12-20 11zM2632 3377l20-11-15-7-20 11z"/>
<path fill="#f6f313" d="M2612 3399l20-22-15-7-20 22z"/>
<path fill="#fec832" d="M2592 3512l20-113-15-7-20 116z"/>
<path fill="#3243ba" d="M2512 4319l20-65-15 54-20 72z"/>
<path fill="#0363e1" d="M2492 4264l20 55-15 61-20-62z"/>
<path fill="#f9fb0e" d="M2372 3437l20 0-15-7-20-1zM2352 3441l20-4-15-8-20-1zM2332 3447l20-6-15-13-20 11zM2312 3457l20-10-15-8-20 11z"/>
<path fill="#f6f313" d="M2292 3479l20-22-15-7-20 22z"/>
<path fill="#fec832" d="M2272 3593l20-114-15-7-20 116z"/>
<path fill="#3243ba" d="M2192 4400l20-65-15 53-20 72z"/>
<path fill="#0363e1" d="M2172 4345l20 55-15 60-20-62z"/>
<path fill="#f9fb0e" d="M2052 3517l20 0-15-7-20 0zM2032 3521l20-4-15-7-20-1zM2012 3527l20-6-15-12-20 11zM1992 3537l20-10-15-7-20 10z"/>
<path fill="#f6f313" d="M1972 3559l20-22-15-7-20 23z"/>
<path fill="#fec832" d="M1952 3673l20-114-15-6-20 115z"/>
<path fill="#3243ba" d="M1872 4480l20-65-15 53-20 73z"/>
<path fill="#0363e1" d="M1852 4425l20 55-15 61-20-63z"/>
<path fill="#f9fb0e" d="M1732 3597l20 1-15-7-20-1zM1712 3602l20-5-15-7-20-1zM1692 3608l20-6-15-13-20 11zM1672 3618l20-10-15-8-20 11z"/>
<path fill="#f6f313" d="M1652 3640l20-22-15-7-20 22z"/>
<path fill="#fec832" d="M1632 3754l20-114-15-7-20 116z"/>
<path fill="#3243ba" d="M1552 4560l20-65-15 54-20 72z"/>
<path fill="#0363e1" d="M1532 4505l20 55-15 61-20-62z"/>
<path fill="#f6f313" d="M1452 3690l20 104-15-5-20-106z"/>
<path fill="#f9fb0e" d="M1412 3678l20 0-15-7-20-1zM2668 3378l20-5-16-13-20 6z"/>
<path fill="#f6f313" d="M2648 3387l20-9-16-12-20 11zM2628 3406l20-19-16-10-20 22z"/>
<path fill="#fec832" d="M2608 3509l20-103-16-7-20 113z"/>
<path fill="#06a0cd" d="M2548 4032l20-87-16 75-20 234z"/>
<path fill="#079ccf" d="M2528 4053l20-21-16 222-20 65z"/>
<path fill="#06a0cd" d="M2508 4042l20 11-16 266-20-55z"/>
<path fill="#f6f313" d="M2408 3448l20 9-16-8-20-12z"/>
<path fill="#f9fb0e" d="M2388 3449l20-1-16-11-20 0zM2368 3453l20-4-16-12-20 4zM2348 3459l20-6-16-12-20 6z"/>
<path fill="#f6f313" d="M2328 3468l20-9-16-12-20 10zM2308 3487l20-19-16-11-20 22z"/>
<path fill="#fec832" d="M2288 3590l20-103-16-8-20 114z"/>
<path fill="#06a0cd" d="M2228 4112l20-87-16 76-20 234z"/>
<path fill="#079ccf" d="M2208 4133l20-21-16 223-20 65z"/>
<path fill="#06a0cd" d="M2188 4122l20 11-16 267-20-55z"/>
<path fill="#f6f313" d="M2088 3528l20 9-16-8-20-12z"/>
<path fill="#f9fb0e" d="M2068 3529l20-1-16-11-20 0zM2048 3534l20-5-16-12-20 4zM2028 3539l20-5-16-13-20 6z"/>
<path fill="#f6f313" d="M2008 3548l20-9-16-12-20 10zM1988 3567l20-19-16-11-20 22z"/>
<path fill="#fec832" d="M1968 3670l20-103-16-8-20 114z"/>
<path fill="#06a0cd" d="M1908 4193l20-88-16 76-20 234z"/>
<path fill="#079ccf" d="M1888 4214l20-21-16 222-20 65z"/>
<path fill="#06a0cd" d="M1868 4203l20 11-16 266-20-55z"/>
<path fill="#f6f313" d="M1768 3608l20 9-16-7-20-12z"/>
<path fill="#f9fb0e" d="M1748 3609l20-1-16-10-20-1zM1728 3614l20-5-16-12-20 5zM1708 3619l20-5-16-12-20 6z"/>
<path fill="#f6f313" d="M1688 3628l20-9-16-11-20 10zM1668 3648l20-20-16-10-20 22z"/>
<path fill="#fec832" d="M1648 3751l20-103-16-8-20 114z"/>
<path fill="#06a0cd" d="M1588 4273l20-87-16 75-20 234z"/>
<path fill="#079ccf" d="M1568 4294l20-21-16 222-20 65z"/>
<path fill="#06a0cd" d="M1548 4283l20 11-16 266-20-55z"/>
<path fill="#f6f313" d="M1448 3689l20 9-16-8-20-12z"/>
<path fill="#f9fb0e" d="M1428 3690l20-1-16-11-20 0z"/>
<path fill="#f6f313" d="M2684 3402l20-5-16-24-20 5zM2664 3408l20-6-16-24-20 9z"/>
<path fill="#f5eb18" d="M2644 3417l20-9-16-21-20 19z"/>
<path fill="#fcce2e" d="M2624 3504l20-87-16-11-20 103z"/>
<path fill="#a5be6b" d="M2584 3735l20-68-16 57-20 221z"/>
<path fill="#87bf77" d="M2564 3776l20-41-16 210-20 87zM2544 3787l20-11-16 256-20 21z"/>
<path fill="#f6f313" d="M2424 3468l20-1-16-10-20-9zM2404 3472l20-4-16-20-20 1zM2384 3477l20-5-16-23-20 4zM2364 3482l20-5-16-24-20 6zM2344 3488l20-6-16-23-20 9z"/>
<path fill="#f5eb18" d="M2324 3497l20-9-16-20-20 19z"/>
<path fill="#fcce2e" d="M2304 3585l20-88-16-10-20 103z"/>
<path fill="#a5be6b" d="M2264 3816l20-69-16 57-20 221z"/>
<path fill="#87bf77" d="M2244 3856l20-40-16 209-20 87zM2224 3867l20-11-16 256-20 21z"/>
<path fill="#f6f313" d="M2104 3549l20-2-16-10-20-9zM2084 3553l20-4-16-21-20 1zM2064 3558l20-5-16-24-20 5zM2044 3563l20-5-16-24-20 5zM2024 3569l20-6-16-24-20 9z"/>
<path fill="#f5eb18" d="M2004 3578l20-9-16-21-20 19z"/>
<path fill="#fcce2e" d="M1984 3665l20-87-16-11-20 103z"/>
<path fill="#a5be6b" d="M1944 3896l20-68-16 57-20 220z"/>
<path fill="#87bf77" d="M1924 3937l20-41-16 209-20 88zM1904 3948l20-11-16 256-20 21z"/>
<path fill="#f6f313" d="M1784 3629l20-1-16-11-20-9zM1764 3633l20-4-16-21-20 1zM1744 3638l20-5-16-24-20 5zM1724 3643l20-5-16-24-20 5zM1704 3649l20-6-16-24-20 9z"/>
<path fill="#f5eb18" d="M1684 3658l20-9-16-21-20 20z"/>
<path fill="#fcce2e" d="M1664 3745l20-87-16-10-20 103z"/>
<path fill="#a5be6b" d="M1624 3977l20-69-16 57-20 221z"/>
<path fill="#87bf77" d="M1604 4017l20-40-16 209-20 87zM1584 4028l20-11-16 256-20 21z"/>
<path fill="#f6f313" d="M1464 3709l20-1-16-10-20-9zM1444 3713l20-4-16-20-20 1z"/>
<path fill="#fec832" d="M2699 3517l20-3-15-117-20 5zM2679 3513l20 4-15-115-20 6z"/>
<path fill="#fcce2e" d="M2659 3506l20 7-15-105-20 9zM2639 3506l20 0-15-89-20 87zM2619 3516l20-10-15-2-20 163z"/>
<path fill="#fec832" d="M2599 3533l20-17-15 151-20 68zM2579 3547l20-14-15 202-20 41z"/>
<path fill="#fcce2e" d="M2459 3556l20-9-15-3-20-77z"/>
<path fill="#fec832" d="M2439 3573l20-17-15-89-20 1zM2419 3588l20-15-15-105-20 4z"/>
<path fill="#ffc337" d="M2399 3595l20-7-15-116-20 5z"/>
<path fill="#fec832" d="M2379 3598l20-3-15-118-20 5zM2359 3593l20 5-15-116-20 6z"/>
<path fill="#fcce2e" d="M2339 3586l20 7-15-105-20 9zM2319 3587l20-1-15-89-20 88zM2299 3596l20-9-15-2-20 162z"/>
<path fill="#fec832" d="M2279 3613l20-17-15 151-20 69zM2259 3628l20-15-15 203-20 40z"/>
<path fill="#fcce2e" d="M2139 3637l20-10-15-2-20-78z"/>
<path fill="#fec832" d="M2119 3653l20-16-15-90-20 2zM2099 3668l20-15-15-104-20 4z"/>
<path fill="#ffc337" d="M2079 3675l20-7-15-115-20 5z"/>
<path fill="#fec832" d="M2059 3678l20-3-15-117-20 5zM2039 3673l20 5-15-115-20 6z"/>
<path fill="#fcce2e" d="M2019 3667l20 6-15-104-20 9zM1999 3667l20 0-15-89-20 87zM1979 3677l20-10-15-2-20 163z"/>
<path fill="#fec832" d="M1959 3694l20-17-15 151-20 68zM1939 3708l20-14-15 202-20 41z"/>
<path fill="#fcce2e" d="M1819 3717l20-10-15-2-20-77z"/>
<path fill="#fec832" d="M1799 3734l20-17-15-89-20 1zM1779 3748l20-14-15-105-20 4z"/>
<path fill="#ffc337" d="M1759 3755l20-7-15-115-20 5z"/>
<path fill="#fec832" d="M1739 3758l20-3-15-117-20 5zM1719 3754l20 4-15-115-20 6z"/>
<path fill="#fcce2e" d="M1699 3747l20 7-15-105-20 9zM1679 3748l20-1-15-89-20 87zM1659 3757l20-9-15-3-20 163z"/>
<path fill="#fec832" d="M1639 3774l20-17-15 151-20 69zM1619 3789l20-15-15 203-20 40z"/>
<path fill="#fcce2e" d="M1499 3797l20-9-15-2-20-78z"/>
<path fill="#fec832" d="M1479 3814l20-17-15-89-20 1zM1459 3829l20-15-15-105-20 4z"/>
<path fill="#fcce2e" d="M2494 3558l20-88-15 76-20 1z"/>
<path fill="#c8bc5d" d="M2474 3720l20-162-15-11-20 9z"/>
<path fill="#a5be6b" d="M2454 3789l20-69-15-164-20 17z"/>
<path fill="#87bf77" d="M2434 3829l20-40-15-216-20 15zM2414 3840l20-11-15-241-20 7z"/>
<path fill="#fcce2e" d="M2174 3638l20-87-15 75-20 1z"/>
<path fill="#c8bc5d" d="M2154 3801l20-163-15-11-20 10z"/>
<path fill="#a5be6b" d="M2134 3869l20-68-15-164-20 16z"/>
<path fill="#87bf77" d="M2114 3910l20-41-15-216-20 15zM2094 3921l20-11-15-242-20 7z"/>
<path fill="#fcce2e" d="M1854 3719l20-88-15 76-20 0z"/>
<path fill="#c8bc5d" d="M1834 3881l20-162-15-12-20 10z"/>
<path fill="#a5be6b" d="M1814 3950l20-69-15-164-20 17z"/>
<path fill="#87bf77" d="M1794 3990l20-40-15-216-20 14zM1774 4001l20-11-15-242-20 7z"/>
<path fill="#fcce2e" d="M1534 3799l20-87-15 75-20 1z"/>
<path fill="#c8bc5d" d="M1514 3962l20-163-15-11-20 9z"/>
<path fill="#a5be6b" d="M1494 4030l20-68-15-165-20 17z"/>
<path fill="#87bf77" d="M1474 4071l20-41-15-216-20 15z"/>
<path fill="#f6f313" d="M2530 3473l20-19-16 7-20 9z"/>
<path fill="#fec832" d="M2510 3576l20-103-16-3-20 88z"/>
<path fill="#f6f313" d="M2210 3554l20-20-16 8-20 9z"/>
<path fill="#fec832" d="M2190 3657l20-103-16-3-20 87z"/>
<path fill="#f6f313" d="M1890 3634l20-19-16 7-20 9z"/>
<path fill="#fec832" d="M1870 3737l20-103-16-3-20 88z"/>
<path fill="#f6f313" d="M1570 3714l20-19-16 8-20 9z"/>
<path fill="#fec832" d="M1550 3817l20-103-16-2-20 87z"/>
<path fill="#a5be6b" d="M1530 4032l20-215-16-18-20 163z"/>
<path fill="#15b1b4" d="M1510 4253l20-221-16-70-20 68z"/>
<path fill="#06a0cd" d="M1490 4340l20-87-16-223-20 41z"/>
<path fill="#f9fb0e" d="M2626 3436l20 1-16-3-20 1zM2606 3440l20-4-16-1-20 5zM2586 3446l20-6-16 0-20 5zM2566 3457l20-11-16-1-20 9z"/>
<path fill="#f6f313" d="M2546 3479l20-22-16-3-20 19z"/>
<path fill="#fec832" d="M2526 3592l20-113-16-6-20 103z"/>
<path fill="#f9fb0e" d="M2306 3517l20 0-16-3-20 1zM2286 3521l20-4-16-2-20 5zM2266 3527l20-6-16-1-20 5zM2246 3537l20-10-16-2-20 9z"/>
<path fill="#f6f313" d="M2226 3559l20-22-16-3-20 20z"/>
<path fill="#fec832" d="M2206 3673l20-114-16-5-20 103z"/>
<path fill="#f9fb0e" d="M1986 3597l20 0-16-2-20 1zM1966 3601l20-4-16-1-20 4zM1946 3607l20-6-16-1-20 6zM1926 3617l20-10-16-1-20 9z"/>
<path fill="#f6f313" d="M1906 3639l20-22-16-2-20 19z"/>
<path fill="#fec832" d="M1886 3753l20-114-16-5-20 103z"/>
<path fill="#f9fb0e" d="M1666 3678l20 0-16-3-20 1zM1646 3682l20-4-16-2-20 5zM1626 3688l20-6-16-1-20 5zM1606 3698l20-10-16-2-20 9z"/>
<path fill="#f6f313" d="M1586 3720l20-22-16-3-20 19z"/>
<path fill="#fec832" d="M1566 3834l20-114-16-6-20 103z"/>
<path fill="#87bf77" d="M1546 4074l20-240-16-17-20 215z"/>
<path fill="#06a0cd" d="M1526 4342l20-268-16-42-20 221z"/>
<path fill="#0363e1" d="M1506 4575l20-233-16-89-20 87z"/>
<path fill="#079ccf" d="M2741 4063l20 268-15-67-20-224z"/>
<path fill="#f9fb0e" d="M2641 3442l20 1-15-6-20-1zM2621 3441l20 1-15-6-20 4zM2601 3452l20-11-15-1-20 6zM2581 3463l20-11-15-6-20 11z"/>
<path fill="#f6f313" d="M2561 3485l20-22-15-6-20 22z"/>
<path fill="#ffc337" d="M2541 3601l20-116-15-6-20 113z"/>
<path fill="#079ccf" d="M2421 4143l20 268-15-67-20-224z"/>
<path fill="#f9fb0e" d="M2321 3523l20 0-15-6-20 0zM2301 3522l20 1-15-6-20 4zM2281 3533l20-11-15-1-20 6zM2261 3543l20-10-15-6-20 10z"/>
<path fill="#f6f313" d="M2241 3566l20-23-15-6-20 22z"/>
<path fill="#ffc337" d="M2221 3681l20-115-15-7-20 114z"/>
<path fill="#079ccf" d="M2101 4224l20 267-15-66-20-224z"/>
<path fill="#f9fb0e" d="M2001 3603l20 1-15-7-20 0zM1981 3602l20 1-15-6-20 4zM1961 3613l20-11-15-1-20 6zM1941 3624l20-11-15-6-20 10z"/>
<path fill="#f6f313" d="M1921 3646l20-22-15-7-20 22z"/>
<path fill="#ffc337" d="M1901 3762l20-116-15-7-20 114z"/>
<path fill="#079ccf" d="M1781 4304l20 268-15-67-20-224z"/>
<path fill="#f9fb0e" d="M1681 3683l20 1-15-6-20 0zM1661 3683l20 0-15-5-20 4zM1641 3693l20-10-15-1-20 6zM1621 3704l20-11-15-5-20 10z"/>
<path fill="#f6f313" d="M1601 3727l20-23-15-6-20 22z"/>
<path fill="#ffc337" d="M1581 3842l20-115-15-7-20 114z"/>
<path fill="#87bf77" d="M1561 4086l20-244-15-8-20 240z"/>
<path fill="#079ccf" d="M1541 4364l20-278-15-12-20 268z"/>
<path fill="#3243ba" d="M1521 4642l20-278-15-22-20 233z"/>
<path fill="#0363e1" d="M2776 4277l20 55-15 61-20-62z"/>
<path fill="#06a0cd" d="M2756 4053l20 224-15 54-20-268z"/>
<path fill="#f9fb0e" d="M2656 3450l20 0-15-7-20-1zM2636 3454l20-4-15-8-20-1zM2616 3460l20-6-15-13-20 11zM2596 3470l20-10-15-8-20 11z"/>
<path fill="#f6f313" d="M2576 3492l20-22-15-7-20 22z"/>
<path fill="#fec832" d="M2556 3606l20-114-15-7-20 116z"/>
<path fill="#3243ba" d="M2476 4413l20-65-15 53-20 72z"/>
<path fill="#0363e1" d="M2456 4358l20 55-15 60-20-62z"/>
<path fill="#06a0cd" d="M2436 4134l20 224-15 53-20-268z"/>
<path fill="#f9fb0e" d="M2336 3530l20 0-15-7-20 0zM2316 3534l20-4-15-7-20-1zM2296 3540l20-6-15-12-20 11zM2276 3550l20-10-15-7-20 10z"/>
<path fill="#f6f313" d="M2256 3572l20-22-15-7-20 23z"/>
<path fill="#fec832" d="M2236 3686l20-114-15-6-20 115z"/>
<path fill="#3243ba" d="M2156 4493l20-65-15 53-20 73z"/>
<path fill="#0363e1" d="M2136 4438l20 55-15 61-20-63z"/>
<path fill="#06a0cd" d="M2116 4214l20 224-15 53-20-267z"/>
<path fill="#f9fb0e" d="M2016 3610l20 1-15-7-20-1zM1996 3615l20-5-15-7-20-1zM1976 3621l20-6-15-13-20 11zM1956 3631l20-10-15-8-20 11z"/>
<path fill="#f6f313" d="M1936 3653l20-22-15-7-20 22z"/>
<path fill="#fec832" d="M1916 3767l20-114-15-7-20 116z"/>
<path fill="#3243ba" d="M1836 4573l20-65-15 54-20 72z"/>
<path fill="#0363e1" d="M1816 4518l20 55-15 61-20-62z"/>
<path fill="#06a0cd" d="M1796 4295l20 223-15 54-20-268z"/>
<path fill="#f9fb0e" d="M1696 3691l20 0-15-7-20-1zM1676 3695l20-4-15-8-20 0zM1656 3701l20-6-15-12-20 10zM1636 3711l20-10-15-8-20 11z"/>
<path fill="#f6f313" d="M1616 3733l20-22-15-7-20 23z"/>
<path fill="#fec832" d="M1596 3847l20-114-15-6-20 115z"/>
<path fill="#87bf77" d="M1576 4087l20-240-15-5-20 244z"/>
<path fill="#06a0cd" d="M1556 4355l20-268-15-1-20 278z"/>
<path fill="#0363e1" d="M1536 4589l20-234-15 9-20 278z"/>
<path fill="#06a0cd" d="M2792 4055l20 11-16 266-20-55z"/>
<path fill="#15b1b4" d="M2772 3978l20 77-16 222-20-224z"/>
<path fill="#f9fb0e" d="M2672 3462l20-1-16-11-20 0zM2652 3466l20-4-16-12-20 4zM2632 3472l20-6-16-12-20 6z"/>
<path fill="#f6f313" d="M2612 3481l20-9-16-12-20 10zM2592 3500l20-19-16-11-20 22z"/>
<path fill="#fec832" d="M2572 3603l20-103-16-8-20 114z"/>
<path fill="#06a0cd" d="M2512 4125l20-87-16 76-20 234z"/>
<path fill="#079ccf" d="M2492 4146l20-21-16 223-20 65z"/>
<path fill="#06a0cd" d="M2472 4135l20 11-16 267-20-55z"/>
<path fill="#15b1b4" d="M2452 4058l20 77-16 223-20-224z"/>
<path fill="#f9fb0e" d="M2352 3542l20-1-16-11-20 0zM2332 3547l20-5-16-12-20 4zM2312 3552l20-5-16-13-20 6z"/>
<path fill="#f6f313" d="M2292 3561l20-9-16-12-20 10zM2272 3580l20-19-16-11-20 22z"/>
<path fill="#fec832" d="M2252 3683l20-103-16-8-20 114z"/>
<path fill="#06a0cd" d="M2192 4206l20-88-16 76-20 234z"/>
<path fill="#079ccf" d="M2172 4227l20-21-16 222-20 65z"/>
<path fill="#06a0cd" d="M2152 4216l20 11-16 266-20-55z"/>
<path fill="#15b1b4" d="M2132 4138l20 78-16 222-20-224z"/>
<path fill="#f9fb0e" d="M2032 3622l20-1-16-10-20-1zM2012 3627l20-5-16-12-20 5zM1992 3632l20-5-16-12-20 6z"/>
<path fill="#f6f313" d="M1972 3641l20-9-16-11-20 10zM1952 3661l20-20-16-10-20 22z"/>
<path fill="#fec832" d="M1932 3764l20-103-16-8-20 114z"/>
<path fill="#06a0cd" d="M1872 4286l20-87-16 75-20 234z"/>
<path fill="#079ccf" d="M1852 4307l20-21-16 222-20 65z"/>
<path fill="#06a0cd" d="M1832 4296l20 11-16 266-20-55z"/>
<path fill="#15b1b4" d="M1812 4219l20 77-16 222-20-223z"/>
<path fill="#f6f313" d="M1732 3702l20 9-16-8-20-12z"/>
<path fill="#f9fb0e" d="M1712 3703l20-1-16-11-20 0zM1692 3707l20-4-16-12-20 4zM1672 3713l20-6-16-12-20 6z"/>
<path fill="#f6f313" d="M1652 3722l20-9-16-12-20 10zM1632 3741l20-19-16-11-20 22z"/>
<path fill="#fec832" d="M1612 3844l20-103-16-8-20 114z"/>
<path fill="#06a0cd" d="M1552 4367l20-88-16 76-20 234z"/>
<path fill="#87bf77" d="M2808 3799l20 1-16 266-20-11z"/>
<path fill="#a5be6b" d="M2788 3769l20 30-16 256-20-77z"/>
<path fill="#f6f313" d="M2708 3481l20-1-16-10-20-9zM2688 3485l20-4-16-20-20 1zM2668 3490l20-5-16-23-20 4zM2648 3495l20-5-16-24-20 6zM2628 3501l20-6-16-23-20 9z"/>
<path fill="#f5eb18" d="M2608 3510l20-9-16-20-20 19z"/>
<path fill="#fcce2e" d="M2588 3598l20-88-16-10-20 103z"/>
<path fill="#a5be6b" d="M2548 3829l20-69-16 57-20 221z"/>
<path fill="#87bf77" d="M2528 3869l20-40-16 209-20 87zM2508 3880l20-11-16 256-20 21zM2488 3879l20 1-16 266-20-11z"/>
<path fill="#a5be6b" d="M2468 3849l20 30-16 256-20-77z"/>
<path fill="#f6f313" d="M2388 3562l20-2-16-10-20-9zM2368 3566l20-4-16-21-20 1zM2348 3571l20-5-16-24-20 5zM2328 3576l20-5-16-24-20 5zM2308 3582l20-6-16-24-20 9z"/>
<path fill="#f5eb18" d="M2288 3591l20-9-16-21-20 19z"/>
<path fill="#fcce2e" d="M2268 3678l20-87-16-11-20 103z"/>
<path fill="#a5be6b" d="M2228 3909l20-68-16 57-20 220z"/>
<path fill="#87bf77" d="M2208 3950l20-41-16 209-20 88zM2188 3961l20-11-16 256-20 21zM2168 3960l20 1-16 266-20-11z"/>
<path fill="#a5be6b" d="M2148 3929l20 31-16 256-20-78z"/>
<path fill="#f6f313" d="M2068 3642l20-1-16-11-20-9zM2048 3646l20-4-16-21-20 1zM2028 3651l20-5-16-24-20 5zM2008 3656l20-5-16-24-20 5zM1988 3662l20-6-16-24-20 9z"/>
<path fill="#f5eb18" d="M1968 3671l20-9-16-21-20 20z"/>
<path fill="#fcce2e" d="M1948 3758l20-87-16-10-20 103z"/>
<path fill="#a5be6b" d="M1908 3990l20-69-16 57-20 221z"/>
<path fill="#87bf77" d="M1888 4030l20-40-16 209-20 87zM1868 4041l20-11-16 256-20 21zM1848 4040l20 1-16 266-20-11z"/>
<path fill="#a5be6b" d="M1828 4010l20 30-16 256-20-77z"/>
<path fill="#f6f313" d="M1748 3722l20-1-16-10-20-9zM1728 3726l20-4-16-20-20 1zM1708 3731l20-5-16-23-20 4zM1688 3736l20-5-16-24-20 6zM1668 3743l20-7-16-23-20 9z"/>
<path fill="#f5eb18" d="M1648 3751l20-8-16-21-20 19z"/>
<path fill="#fcce2e" d="M1628 3839l20-88-16-10-20 103z"/>
<path fill="#a5be6b" d="M1588 4070l20-68-16 56-20 221z"/>
<path fill="#87bf77" d="M1568 4110l20-40-16 209-20 88z"/>
<path fill="#fec832" d="M2823 3570l20-3-15 233-20-1zM2803 3566l20 4-15 229-20-30z"/>
<path fill="#fcce2e" d="M2743 3569l20-9-15-3-20-77z"/>
<path fill="#fec832" d="M2723 3586l20-17-15-89-20 1zM2703 3601l20-15-15-105-20 4z"/>
<path fill="#ffc337" d="M2683 3608l20-7-15-116-20 5z"/>
<path fill="#fec832" d="M2663 3611l20-3-15-118-20 5zM2643 3606l20 5-15-116-20 6z"/>
<path fill="#fcce2e" d="M2623 3599l20 7-15-105-20 9zM2603 3600l20-1-15-89-20 88zM2583 3609l20-9-15-2-20 162z"/>
<path fill="#fec832" d="M2563 3626l20-17-15 151-20 69zM2543 3641l20-15-15 203-20 40z"/>
<path fill="#ffc337" d="M2523 3648l20-7-15 228-20 11z"/>
<path fill="#fec832" d="M2503 3651l20-3-15 232-20-1zM2483 3646l20 5-15 228-20-30z"/>
<path fill="#fcce2e" d="M2423 3650l20-10-15-2-20-78z"/>
<path fill="#fec832" d="M2403 3666l20-16-15-90-20 2zM2383 3681l20-15-15-104-20 4z"/>
<path fill="#ffc337" d="M2363 3688l20-7-15-115-20 5z"/>
<path fill="#fec832" d="M2343 3691l20-3-15-117-20 5zM2323 3686l20 5-15-115-20 6z"/>
<path fill="#fcce2e" d="M2303 3680l20 6-15-104-20 9zM2283 3680l20 0-15-89-20 87zM2263 3690l20-10-15-2-20 163z"/>
<path fill="#fec832" d="M2243 3707l20-17-15 151-20 68zM2223 3721l20-14-15 202-20 41z"/>
<path fill="#ffc337" d="M2203 3728l20-7-15 229-20 11z"/>
<path fill="#fec832" d="M2183 3731l20-3-15 233-20-1zM2163 3727l20 4-15 229-20-31z"/>
<path fill="#fcce2e" d="M2103 3730l20-10-15-2-20-77z"/>
<path fill="#fec832" d="M2083 3747l20-17-15-89-20 1zM2063 3761l20-14-15-105-20 4z"/>
<path fill="#ffc337" d="M2043 3768l20-7-15-115-20 5z"/>
<path fill="#fec832" d="M2023 3771l20-3-15-117-20 5zM2003 3767l20 4-15-115-20 6z"/>
<path fill="#fcce2e" d="M1983 3760l20 7-15-105-20 9zM1963 3761l20-1-15-89-20 87zM1943 3770l20-9-15-3-20 163z"/>
<path fill="#fec832" d="M1923 3787l20-17-15 151-20 69zM1903 3802l20-15-15 203-20 40z"/>
<path fill="#ffc337" d="M1883 3809l20-7-15 228-20 11z"/>
<path fill="#fec832" d="M1863 3812l20-3-15 232-20-1zM1843 3807l20 5-15 228-20-30z"/>
<path fill="#fcce2e" d="M1783 3810l20-9-15-2-20-78z"/>
<path fill="#fec832" d="M1763 3827l20-17-15-89-20 1zM1743 3842l20-15-15-105-20 4z"/>
<path fill="#ffc337" d="M1723 3849l20-7-15-116-20 5z"/>
<path fill="#fec832" d="M1703 3852l20-3-15-118-20 5zM1683 3847l20 5-15-116-20 7z"/>
<path fill="#fcce2e" d="M1663 3840l20 7-15-104-20 8zM1643 3841l20-1-15-89-20 88zM1623 3851l20-10-15-2-20 163z"/>
<path fill="#fec832" d="M1603 3867l20-16-15 151-20 68zM1583 3882l20-15-15 203-20 40z"/>
<path fill="#f6f313" d="M2838 3468l20-5-15 104-20 3zM2818 3474l20-6-15 102-20-4z"/>
<path fill="#fcce2e" d="M2778 3571l20-88-15 76-20 1z"/>
<path fill="#c8bc5d" d="M2758 3733l20-162-15-11-20 9z"/>
<path fill="#a5be6b" d="M2738 3802l20-69-15-164-20 17z"/>
<path fill="#87bf77" d="M2718 3842l20-40-15-216-20 15zM2698 3853l20-11-15-241-20 7zM2678 3852l20 1-15-245-20 3z"/>
<path fill="#a5be6b" d="M2658 3822l20 30-15-241-20-5z"/>
<path fill="#f5eb18" d="M2598 3534l20 77-15-11-20 9z"/>
<path fill="#f6f313" d="M2578 3535l20-1-15 75-20 17zM2558 3539l20-4-15 91-20 15zM2538 3544l20-5-15 102-20 7zM2518 3549l20-5-15 104-20 3zM2498 3555l20-6-15 102-20-5z"/>
<path fill="#fcce2e" d="M2458 3651l20-87-15 75-20 1z"/>
<path fill="#c8bc5d" d="M2438 3814l20-163-15-11-20 10z"/>
<path fill="#a5be6b" d="M2418 3882l20-68-15-164-20 16z"/>
<path fill="#87bf77" d="M2398 3923l20-41-15-216-20 15zM2378 3934l20-11-15-242-20 7zM2358 3933l20 1-15-246-20 3z"/>
<path fill="#a5be6b" d="M2338 3902l20 31-15-242-20-5z"/>
<path fill="#f5eb18" d="M2278 3614l20 77-15-11-20 10z"/>
<path fill="#f6f313" d="M2258 3615l20-1-15 76-20 17zM2238 3619l20-4-15 92-20 14zM2218 3624l20-5-15 102-20 7zM2198 3629l20-5-15 104-20 3zM2178 3635l20-6-15 102-20-4z"/>
<path fill="#fcce2e" d="M2138 3732l20-88-15 76-20 0z"/>
<path fill="#c8bc5d" d="M2118 3894l20-162-15-12-20 10z"/>
<path fill="#a5be6b" d="M2098 3963l20-69-15-164-20 17z"/>
<path fill="#87bf77" d="M2078 4003l20-40-15-216-20 14zM2058 4014l20-11-15-242-20 7zM2038 4013l20 1-15-246-20 3z"/>
<path fill="#a5be6b" d="M2018 3983l20 30-15-242-20-4z"/>
<path fill="#f5eb18" d="M1958 3694l20 78-15-11-20 9z"/>
<path fill="#f6f313" d="M1938 3696l20-2-15 76-20 17zM1918 3699l20-3-15 91-20 15zM1898 3704l20-5-15 103-20 7zM1878 3710l20-6-15 105-20 3zM1858 3716l20-6-15 102-20-5z"/>
<path fill="#fcce2e" d="M1818 3812l20-87-15 75-20 1z"/>
<path fill="#c8bc5d" d="M1798 3975l20-163-15-11-20 9z"/>
<path fill="#a5be6b" d="M1778 4043l20-68-15-165-20 17z"/>
<path fill="#87bf77" d="M1758 4084l20-41-15-216-20 15zM1738 4095l20-11-15-242-20 7zM1718 4094l20 1-15-246-20 3z"/>
<path fill="#a5be6b" d="M1698 4063l20 31-15-242-20-5z"/>
<path fill="#f5eb18" d="M1638 3775l20 77-15-11-20 10z"/>
<path fill="#f6f313" d="M1618 3776l20-1-15 76-20 16zM1598 3780l20-4-15 91-20 15zM2814 3486l20-19-16 7-20 9z"/>
<path fill="#fec832" d="M2794 3589l20-103-16-3-20 88z"/>
<path fill="#a5be6b" d="M2774 3804l20-215-16-18-20 162z"/>
<path fill="#15b1b4" d="M2754 4024l20-220-16-71-20 69z"/>
<path fill="#06a0cd" d="M2734 4112l20-88-16-222-20 40z"/>
<path fill="#079ccf" d="M2714 4133l20-21-16-270-20 11z"/>
<path fill="#06a0cd" d="M2694 4122l20 11-16-280-20-1z"/>
<path fill="#15b1b4" d="M2674 4044l20 78-16-270-20-30z"/>
<path fill="#fec832" d="M2634 3629l20 205-16-70-20-153z"/>
<path fill="#f6f313" d="M2614 3536l20 93-16-18-20-77zM2594 3527l20 9-16-2-20 1z"/>
<path fill="#f9fb0e" d="M2574 3528l20-1-16 8-20 4zM2554 3533l20-5-16 11-20 5z"/>
<path fill="#f6f313" d="M2494 3567l20-20-16 8-20 9z"/>
<path fill="#fec832" d="M2474 3670l20-103-16-3-20 87z"/>
<path fill="#a5be6b" d="M2454 3884l20-214-16-19-20 163z"/>
<path fill="#15b1b4" d="M2434 4105l20-221-16-70-20 68z"/>
<path fill="#06a0cd" d="M2414 4192l20-87-16-223-20 41z"/>
<path fill="#079ccf" d="M2394 4213l20-21-16-269-20 11z"/>
<path fill="#06a0cd" d="M2374 4202l20 11-16-279-20-1z"/>
<path fill="#15b1b4" d="M2354 4125l20 77-16-269-20-31z"/>
<path fill="#fec832" d="M2314 3710l20 204-16-70-20-153z"/>
<path fill="#f6f313" d="M2294 3617l20 93-16-19-20-77zM2274 3608l20 9-16-3-20 1z"/>
<path fill="#f9fb0e" d="M2254 3609l20-1-16 7-20 4zM2234 3613l20-4-16 10-20 5z"/>
<path fill="#f6f313" d="M2174 3647l20-19-16 7-20 9z"/>
<path fill="#fec832" d="M2154 3750l20-103-16-3-20 88z"/>
<path fill="#a5be6b" d="M2134 3964l20-214-16-18-20 162z"/>
<path fill="#15b1b4" d="M2114 4185l20-221-16-70-20 69z"/>
<path fill="#06a0cd" d="M2094 4273l20-88-16-222-20 40z"/>
<path fill="#079ccf" d="M2074 4294l20-21-16-270-20 11z"/>
<path fill="#06a0cd" d="M2054 4283l20 11-16-280-20-1z"/>
<path fill="#15b1b4" d="M2034 4205l20 78-16-270-20-30z"/>
<path fill="#fec832" d="M1994 3790l20 205-16-71-20-152z"/>
<path fill="#f6f313" d="M1974 3697l20 93-16-18-20-78zM1954 3688l20 9-16-3-20 2z"/>
<path fill="#f9fb0e" d="M1934 3689l20-1-16 8-20 3zM1914 3694l20-5-16 10-20 5z"/>
<path fill="#f6f313" d="M1854 3727l20-19-16 8-20 9z"/>
<path fill="#fec832" d="M1834 3830l20-103-16-2-20 87z"/>
<path fill="#a5be6b" d="M1814 4045l20-215-16-18-20 163z"/>
<path fill="#15b1b4" d="M1794 4266l20-221-16-70-20 68z"/>
<path fill="#06a0cd" d="M1774 4353l20-87-16-223-20 41z"/>
<path fill="#079ccf" d="M1754 4374l20-21-16-269-20 11z"/>
<path fill="#06a0cd" d="M1734 4363l20 11-16-279-20-1z"/>
<path fill="#15b1b4" d="M1714 4286l20 77-16-269-20-31z"/>
<path fill="#fec832" d="M1674 3871l20 204-16-70-20-153z"/>
<path fill="#f6f313" d="M1654 3778l20 93-16-19-20-77zM1634 3769l20 9-16-3-20 1z"/>
<path fill="#f9fb0e" d="M1614 3770l20-1-16 7-20 4zM2870 3459l20-6-16 0-20 5zM2850 3470l20-11-16-1-20 9z"/>
<path fill="#f6f313" d="M2830 3492l20-22-16-3-20 19z"/>
<path fill="#fec832" d="M2810 3605l20-113-16-6-20 103z"/>
<path fill="#87bf77" d="M2790 3846l20-241-16-16-20 215z"/>
<path fill="#06a0cd" d="M2770 4113l20-267-16-42-20 220z"/>
<path fill="#0363e1" d="M2750 4347l20-234-16-89-20 88z"/>
<path fill="#3243ba" d="M2730 4412l20-65-16-235-20 21z"/>
<path fill="#0363e1" d="M2710 4357l20 55-16-279-20-11z"/>
<path fill="#06a0cd" d="M2690 4133l20 224-16-235-20-78z"/>
<path fill="#87bf77" d="M2670 3876l20 257-16-89-20-210z"/>
<path fill="#fec832" d="M2650 3646l20 230-16-42-20-205z"/>
<path fill="#f6f313" d="M2630 3542l20 104-16-17-20-93z"/>
<path fill="#f9fb0e" d="M2610 3530l20 12-16-6-20-9zM2590 3530l20 0-16-3-20 1zM2570 3534l20-4-16-2-20 5zM2550 3540l20-6-16-1-20 5zM2530 3550l20-10-16-2-20 9z"/>
<path fill="#f6f313" d="M2510 3572l20-22-16-3-20 20z"/>
<path fill="#fec832" d="M2490 3686l20-114-16-5-20 103z"/>
<path fill="#87bf77" d="M2470 3926l20-240-16-16-20 214z"/>
<path fill="#06a0cd" d="M2450 4194l20-268-16-42-20 221z"/>
<path fill="#0363e1" d="M2430 4428l20-234-16-89-20 87z"/>
<path fill="#3243ba" d="M2410 4493l20-65-16-236-20 21z"/>
<path fill="#0363e1" d="M2390 4438l20 55-16-280-20-11z"/>
<path fill="#06a0cd" d="M2370 4214l20 224-16-236-20-77z"/>
<path fill="#87bf77" d="M2350 3956l20 258-16-89-20-211z"/>
<path fill="#fec832" d="M2330 3726l20 230-16-42-20-204z"/>
<path fill="#f6f313" d="M2310 3622l20 104-16-16-20-93z"/>
<path fill="#f9fb0e" d="M2290 3610l20 12-16-5-20-9zM2270 3610l20 0-16-2-20 1zM2250 3614l20-4-16-1-20 4zM2230 3620l20-6-16-1-20 6zM2210 3630l20-10-16-1-20 9z"/>
<path fill="#f6f313" d="M2190 3652l20-22-16-2-20 19z"/>
<path fill="#fec832" d="M2170 3766l20-114-16-5-20 103z"/>
<path fill="#87bf77" d="M2150 4006l20-240-16-16-20 214z"/>
<path fill="#06a0cd" d="M2130 4274l20-268-16-42-20 221z"/>
<path fill="#0363e1" d="M2110 4508l20-234-16-89-20 88z"/>
<path fill="#3243ba" d="M2090 4573l20-65-16-235-20 21z"/>
<path fill="#0363e1" d="M2070 4518l20 55-16-279-20-11z"/>
<path fill="#06a0cd" d="M2050 4294l20 224-16-235-20-78z"/>
<path fill="#87bf77" d="M2030 4037l20 257-16-89-20-210z"/>
<path fill="#fec832" d="M2010 3806l20 231-16-42-20-205z"/>
<path fill="#f6f313" d="M1990 3703l20 103-16-16-20-93z"/>
<path fill="#f9fb0e" d="M1970 3691l20 12-16-6-20-9zM1950 3691l20 0-16-3-20 1zM1930 3695l20-4-16-2-20 5zM1910 3701l20-6-16-1-20 5zM1890 3711l20-10-16-2-20 9z"/>
<path fill="#f6f313" d="M1870 3733l20-22-16-3-20 19z"/>
<path fill="#fec832" d="M1850 3847l20-114-16-6-20 103z"/>
<path fill="#87bf77" d="M1830 4087l20-240-16-17-20 215z"/>
<path fill="#06a0cd" d="M1810 4355l20-268-16-42-20 221z"/>
<path fill="#0363e1" d="M1790 4588l20-233-16-89-20 87z"/>
<path fill="#3243ba" d="M1770 4654l20-66-16-235-20 21z"/>
<path fill="#0363e1" d="M1750 4599l20 55-16-280-20-11z"/>
<path fill="#06a0cd" d="M1730 4375l20 224-16-236-20-77z"/>
<path fill="#87bf77" d="M1710 4117l20 258-16-89-20-211z"/>
<path fill="#fec832" d="M1690 3887l20 230-16-42-20-204z"/>
<path fill="#f6f313" d="M1670 3783l20 104-16-16-20-93z"/>
<path fill="#f9fb0e" d="M1650 3771l20 12-16-5-20-9zM1630 3771l20 0-16-2-20 1z"/></g>
</g>
<g id="a3">
<path d="M161.0 768.0L35.5 715.0" stroke="#dcdcdc" stroke-width="0.6" fill="none"/>
<path d="M161.0 768.0L322.4 727.2" stroke="#dcdcdc" stroke-width="0.6" fill="none"/>
<path d="M35.5 715.0L35.5 598.5" stroke="#dcdcdc" stroke-width="0.6" fill="none"/>
<path d="M322.4 727.2L322.4 610.7" stroke="#dcdcdc" stroke-width="0.6" fill="none"/>
<path d="M201.3 757.8L75.8 704.8" stroke="#dcdcdc" stroke-width="0.6" fill="none"/>
<path d="M129.6 754.8L291.0 714.0" stroke="#dcdcdc" stroke-width="0.6" fill="none"/>
<path d="M75.8 704.8L75.8 588.3" stroke="#dcdcdc" stroke-width="0.6" fill="none"/>
<path d="M291.0 714.0L291.0 597.4" stroke="#dcdcdc" stroke-width="0.6" fill="none"/>
<path d="M241.7 747.6L116.2 694.6" stroke="#dcdcdc" stroke-width="0.6" fill="none"/>
<path d="M98.2 741.5L259.6 700.7" stroke="#dcdcdc" stroke-width="0.6" fill="none"/>
<path d="M116.2 694.6L116.2 578.1" stroke="#dcdcdc" stroke-width="0.6" fill="none"/>
<path d="M259.6 700.7L259.6 584.2" stroke="#dcdcdc" stroke-width="0.6" fill="none"/>
<path d="M282.1 737.4L156.5 684.4" stroke="#dcdcdc" stroke-width="0.6" fill="none"/>
<path d="M66.9 728.2L228.3 687.5" stroke="#dcdcdc" stroke-width="0.6" fill="none"/>
<path d="M156.5 684.4L156.5 567.9" stroke="#dcdcdc" stroke-width="0.6" fill="none"/>
<path d="M228.3 687.5L228.3 570.9" stroke="#dcdcdc" stroke-width="0.6" fill="none"/>
<path d="M322.4 727.2L196.9 674.2" stroke="#dcdcdc" stroke-width="0.6" fill="none"/>
<path d="M35.5 715.0L196.9 674.2" stroke="#dcdcdc" stroke-width="0.6" fill="none"/>
<path d="M196.9 674.2L196.9 557.7" stroke="#dcdcdc" stroke-width="0.6" fill="none"/>
<path d="M196.9 674.2L196.9 557.7" stroke="#dcdcdc" stroke-width="0.6" fill="none"/>
<path d="M35.5 715.0L196.9 674.2" stroke="#dcdcdc" stroke-width="0.6" fill="none"/>
<path d="M196.9 674.2L322.4 727.2" stroke="#dcdcdc" stroke-width="0.6" fill="none"/>
<path d="M35.5 695.6L196.9 654.8" stroke="#dcdcdc" stroke-width="0.6" fill="none"/>
<path d="M196.9 654.8L322.4 707.8" stroke="#dcdcdc" stroke-width="0.6" fill="none"/>
<path d="M35.5 676.2L196.9 635.4" stroke="#dcdcdc" stroke-width="0.6" fill="none"/>
<path d="M196.9 635.4L322.4 688.4" stroke="#dcdcdc" stroke-width="0.6" fill="none"/>
<path d="M35.5 656.7L196.9 615.9" stroke="#dcdcdc" stroke-width="0.6" fill="none"/>
<path d="M196.9 615.9L322.4 668.9" stroke="#dcdcdc" stroke-width="0.6" fill="none"/>
<path d="M35.5 637.3L196.9 596.5" stroke="#dcdcdc" stroke-width="0.6" fill="none"/>
<path d="M196.9 596.5L322.4 649.5" stroke="#dcdcdc" stroke-width="0.6" fill="none"/>
<path d="M35.5 617.9L196.9 577.1" stroke="#dcdcdc" stroke-width="0.6" fill="none"/>
<path d="M196.9 577.1L322.4 630.1" stroke="#dcdcdc" stroke-width="0.6" fill="none"/>
<path d="M35.5 598.5L196.9 557.7" stroke="#dcdcdc" stroke-width="0.6" fill="none"/>
<path d="M196.9 557.7L322.4 610.7" stroke="#dcdcdc" stroke-width="0.6" fill="none"/>
<path d="M35.5 715.0L35.5 598.5" stroke="#404040" stroke-width="0.9" fill="none"/>
<path d="M161.0 768.0L322.4 727.2" stroke="#404040" stroke-width="0.9" fill="none"/>
<path d="M161.0 768.0L35.5 715.0" stroke="#404040" stroke-width="0.9" fill="none"/>
<path d="M35.5 715.0L32.3 714.0" stroke="#404040" stroke-width="0.7" fill="none"/>
<path d="M35.5 695.6L32.3 694.6" stroke="#404040" stroke-width="0.7" fill="none"/>
<path d="M35.5 676.2L32.3 675.2" stroke="#404040" stroke-width="0.7" fill="none"/>
<path d="M35.5 656.7L32.3 655.7" stroke="#404040" stroke-width="0.7" fill="none"/>
<path d="M35.5 637.3L32.3 636.3" stroke="#404040" stroke-width="0.7" fill="none"/>
<path d="M35.5 617.9L32.3 616.9" stroke="#404040" stroke-width="0.7" fill="none"/>
<path d="M35.5 598.5L32.3 597.5" stroke="#404040" stroke-width="0.7" fill="none"/>
<path d="M161.0 768.0L163.8 769.2" stroke="#404040" stroke-width="0.7" fill="none"/>
<path d="M161.0 768.0L158.1 768.7" stroke="#404040" stroke-width="0.7" fill="none"/>
<path d="M201.3 757.8L204.2 759.0" stroke="#404040" stroke-width="0.7" fill="none"/>
<path d="M129.6 754.8L126.7 755.5" stroke="#404040" stroke-width="0.7" fill="none"/>
<path d="M241.7 747.6L244.5 748.8" stroke="#404040" stroke-width="0.7" fill="none"/>
<path d="M98.2 741.5L95.3 742.2" stroke="#404040" stroke-width="0.7" fill="none"/>
<path d="M282.1 737.4L284.9 738.6" stroke="#404040" stroke-width="0.7" fill="none"/>
<path d="M66.9 728.2L64.0 729.0" stroke="#404040" stroke-width="0.7" fill="none"/>
<path d="M322.4 727.2L325.2 728.4" stroke="#404040" stroke-width="0.7" fill="none"/>
<path d="M35.5 715.0L32.6 715.7" stroke="#404040" stroke-width="0.7" fill="none"/>
<g font-family="Liberation Sans, sans-serif" font-size="7.8" fill="#505050"><text x="27.2" y="716.6" text-anchor="end">-0.8</text><text x="27.2" y="697.2" text-anchor="end">-0.6</text><text x="27.2" y="677.8" text-anchor="end">-0.4</text><text x="27.2" y="658.3" text-anchor="end">-0.2</text><text x="27.2" y="638.9" text-anchor="end">0</text><text x="27.2" y="619.5" text-anchor="end">0.2</text><text x="27.2" y="600.1" text-anchor="end">0.4</text><text x="169.0" y="779.7" text-anchor="middle">0</text><text x="148.4" y="779.0" text-anchor="middle">0</text><text x="211.7" y="769.5" text-anchor="middle">20</text><text x="117.0" y="765.8" text-anchor="middle">20</text><text x="252.0" y="759.3" text-anchor="middle">40</text><text x="85.6" y="752.5" text-anchor="middle">40</text><text x="292.4" y="749.1" text-anchor="middle">60</text><text x="54.3" y="739.2" text-anchor="middle">60</text><text x="332.7" y="738.9" text-anchor="middle">80</text><text x="22.9" y="726.0" text-anchor="middle">80</text></g>
<g transform="scale(0.1)" stroke="#000" stroke-width="5" stroke-linejoin="round"><path fill="#f9fb0e" d="M1906 5983l20-7-16-13-20 12z"/>
<path fill="#f6f313" d="M1886 5993l20-10-16-8-20 11z"/>
<path fill="#f5eb18" d="M1865 6017l21-24-16-7-20 25z"/>
<path fill="#f7d826" d="M1845 6055l20-38-15-6-20 38z"/>
<path fill="#b7bd64" d="M1825 6243l20-188-15-6-20 193z"/>
<path fill="#f9fb0e" d="M1623 6054l21 1-16-8-20-1zM1603 6058l20-4-15-8-20-1zM1583 6064l20-6-15-13-20 11z"/>
<path fill="#f6f313" d="M1563 6075l20-11-15-8-21 12z"/>
<path fill="#f5eb18" d="M1543 6099l20-24-16-7-20 24z"/>
<path fill="#f7d826" d="M1522 6137l21-38-16-7-20 39z"/>
<path fill="#b7bd64" d="M1502 6324l20-187-15-6-20 192z"/>
<path fill="#0268e1" d="M1422 6783l20 48-16 61-20-62z"/>
<path fill="#f9fb0e" d="M1301 6136l20 0-16-7-20-1zM1280 6140l21-4-16-8-20-1zM1260 6146l20-6-15-13-20 11z"/>
<path fill="#f6f313" d="M1240 6157l20-11-15-8-20 11z"/>
<path fill="#f5eb18" d="M1220 6181l20-24-15-8-21 25z"/>
<path fill="#f7d826" d="M1200 6218l20-37-16-7-20 38z"/>
<path fill="#b7bd64" d="M1179 6406l21-188-16-6-20 193z"/>
<path fill="#2c4ac7" d="M1119 6913l20-59-15 47-21 72z"/>
<path fill="#0268e1" d="M1099 6865l20 48-16 60-20-62z"/>
<path fill="#f9fb0e" d="M978 6217l20 1-16-7-20-2zM958 6221l20-4-16-8-20-1zM937 6227l21-6-16-13-20 12z"/>
<path fill="#f6f313" d="M917 6238l20-11-15-7-20 11z"/>
<path fill="#f5eb18" d="M897 6262l20-24-15-7-20 25z"/>
<path fill="#f7d826" d="M877 6300l20-38-15-6-21 38z"/>
<path fill="#b7bd64" d="M857 6488l20-188-16-6-20 192z"/>
<path fill="#2c4ac7" d="M796 6995l20-59-15 47-20 72z"/>
<path fill="#0268e1" d="M776 6946l20 49-15 60-20-62z"/>
<path fill="#f9fb0e" d="M655 6299l20 0-15-7-21-1z"/>
<path fill="#f6f313" d="M1921 5995l20-6-15-13-20 7zM1901 6004l20-9-15-12-20 10z"/>
<path fill="#f5eb18" d="M1881 6026l20-22-15-11-21 24z"/>
<path fill="#f7d826" d="M1861 6061l20-35-16-9-20 38z"/>
<path fill="#f6f313" d="M1639 6066l20 0-15-11-21-1zM1619 6071l20-5-16-12-20 4zM1598 6076l21-5-16-13-20 6zM1578 6086l20-10-15-12-20 11z"/>
<path fill="#f5eb18" d="M1558 6107l20-21-15-11-20 24z"/>
<path fill="#f7d826" d="M1538 6142l20-35-15-8-21 38z"/>
<path fill="#07a9c2" d="M1437 6586l20 9-15 236-20-48z"/>
<path fill="#f6f313" d="M1316 6148l20-1-15-11-20 0zM1296 6153l20-5-15-12-21 4zM1276 6158l20-5-16-13-20 6zM1255 6168l21-10-16-12-20 11z"/>
<path fill="#f5eb18" d="M1235 6189l20-21-15-11-20 24z"/>
<path fill="#f7d826" d="M1215 6224l20-35-15-8-20 37z"/>
<path fill="#07a9c2" d="M1155 6657l20-78-16 66-20 209z"/>
<path fill="#06a7c6" d="M1134 6676l21-19-16 197-20 59z"/>
<path fill="#07a9c2" d="M1114 6667l20 9-15 237-20-48z"/>
<path fill="#f6f313" d="M993 6229l20 0-15-11-20-1zM973 6234l20-5-15-12-20 4zM953 6240l20-6-15-13-21 6zM933 6249l20-9-16-13-20 11z"/>
<path fill="#f5eb18" d="M913 6270l20-21-16-11-20 24z"/>
<path fill="#f7d826" d="M892 6305l21-35-16-8-20 38z"/>
<path fill="#07a9c2" d="M832 6739l20-79-15 67-21 209z"/>
<path fill="#06a7c6" d="M812 6758l20-19-16 197-20 59z"/>
<path fill="#07a9c2" d="M791 6749l21 9-16 237-20-49z"/>
<path fill="#f6f313" d="M691 6310l20 11-16-8-20-14zM670 6311l21-1-16-11-20 0z"/>
<path fill="#f5eb18" d="M1937 6020l20-5-16-26-20 6zM1917 6027l20-7-16-25-20 9z"/>
<path fill="#f5e41d" d="M1896 6037l21-10-16-23-20 22z"/>
<path fill="#f5de21" d="M1876 6066l20-29-15-11-20 35z"/>
<path fill="#f5eb18" d="M1674 6088l21 0-16-11-20-11zM1654 6092l20-4-15-22-20 0zM1634 6097l20-5-15-26-20 5zM1614 6102l20-5-15-26-21 5zM1594 6109l20-7-16-26-20 10z"/>
<path fill="#f5e41d" d="M1574 6119l20-10-16-23-20 21z"/>
<path fill="#f5de21" d="M1553 6147l21-28-16-12-20 35z"/>
<path fill="#f5eb18" d="M1352 6170l20 0-16-12-20-11zM1331 6173l21-3-16-23-20 1zM1311 6179l20-6-15-25-20 5zM1291 6184l20-5-15-26-20 5zM1271 6190l20-6-15-26-21 10z"/>
<path fill="#f5e41d" d="M1251 6201l20-11-16-22-20 21z"/>
<path fill="#f5de21" d="M1231 6229l20-28-16-12-20 35z"/>
<path fill="#b7bd64" d="M1170 6430l20-37-15 186-20 78z"/>
<path fill="#aebe67" d="M1150 6440l20-10-15 227-21 19z"/>
<path fill="#f5eb18" d="M1029 6251l20 1-15-12-21-11zM1009 6255l20-4-16-22-20 0zM989 6260l20-5-16-26-20 5zM968 6265l21-5-16-26-20 6zM948 6272l20-7-15-25-20 9z"/>
<path fill="#f5e41d" d="M928 6282l20-10-15-23-20 21z"/>
<path fill="#f5de21" d="M908 6310l20-28-15-12-21 35z"/>
<path fill="#c8bc5d" d="M867 6474l21-61-16 50-20 197z"/>
<path fill="#b7bd64" d="M847 6511l20-37-15 186-20 79z"/>
<path fill="#aebe67" d="M827 6522l20-11-15 228-20 19z"/>
<path fill="#f5eb18" d="M706 6333l20 0-15-12-20-11zM686 6337l20-4-15-23-21 1z"/>
<path fill="#f7d826" d="M1952 6060l20-5-15-40-20 5zM1932 6064l20-4-15-40-20 7z"/>
<path fill="#f5de21" d="M1912 6067l20-3-15-37-21 10zM1892 6072l20-5-16-30-20 29zM1710 6118l20-6-15-6-20-18z"/>
<path fill="#f7d826" d="M1690 6125l20-7-15-30-21 0zM1670 6131l20-6-16-37-20 4zM1650 6137l20-6-16-39-20 5zM1629 6141l21-4-16-40-20 5zM1609 6145l20-4-15-39-20 7z"/>
<path fill="#f5de21" d="M1589 6149l20-4-15-36-20 10zM1569 6153l20-4-15-30-21 28zM1387 6200l21-6-16-6-20-18z"/>
<path fill="#f7d826" d="M1367 6206l20-6-15-30-20 0zM1347 6213l20-7-15-36-21 3zM1327 6218l20-5-16-40-20 6zM1307 6223l20-5-16-39-20 5zM1286 6227l21-4-16-39-20 6z"/>
<path fill="#f5de21" d="M1266 6230l20-3-15-37-20 11zM1246 6235l20-5-15-29-20 28zM1065 6281l20-5-16-6-20-18z"/>
<path fill="#f7d826" d="M1044 6288l21-7-16-29-20-1zM1024 6294l20-6-15-37-20 4zM1004 6300l20-6-15-39-20 5zM984 6305l20-5-15-40-21 5zM964 6308l20-3-16-40-20 7z"/>
<path fill="#f5de21" d="M943 6312l21-4-16-36-20 10zM923 6316l20-4-15-30-20 28z"/>
<path fill="#f7d826" d="M883 6329l20-7-15 91-21 61zM863 6335l20-6-16 145-20 37z"/>
<path fill="#f5de21" d="M742 6363l20-6-16-6-20-18z"/>
<path fill="#f7d826" d="M722 6370l20-7-16-30-20 0zM701 6376l21-6-16-37-20 4z"/>
<path fill="#b7bd64" d="M1968 6249l20 0-16-194-20 5z"/>
<path fill="#c8bc5d" d="M1948 6223l20 26-16-189-20 4z"/>
<path fill="#f1b94a" d="M1927 6171l21 52-16-159-20 3z"/>
<path fill="#f5de21" d="M1746 6120l20-29-16 17-20 4z"/>
<path fill="#f1b94a" d="M1726 6222l20-102-16-8-20 6z"/>
<path fill="#c8bc5d" d="M1705 6284l21-62-16-104-20 7z"/>
<path fill="#b7bd64" d="M1685 6320l20-36-15-159-20 6z"/>
<path fill="#aebe67" d="M1665 6331l20-11-15-189-20 6z"/>
<path fill="#b7bd64" d="M1645 6331l20 0-15-194-21 4z"/>
<path fill="#c8bc5d" d="M1625 6304l20 27-16-190-20 4z"/>
<path fill="#f1b94a" d="M1605 6253l20 51-16-159-20 4z"/>
<path fill="#f5de21" d="M1423 6201l20-28-15 17-20 4z"/>
<path fill="#f1b94a" d="M1403 6304l20-103-15-7-21 6z"/>
<path fill="#c8bc5d" d="M1383 6365l20-61-16-104-20 6z"/>
<path fill="#b7bd64" d="M1362 6402l21-37-16-159-20 7z"/>
<path fill="#aebe67" d="M1342 6412l20-10-15-189-20 5z"/>
<path fill="#b7bd64" d="M1322 6412l20 0-15-194-20 5z"/>
<path fill="#c8bc5d" d="M1302 6386l20 26-15-189-21 4z"/>
<path fill="#f1b94a" d="M1282 6334l20 52-16-159-20 3z"/>
<path fill="#f5de21" d="M1100 6283l20-28-15 16-20 5z"/>
<path fill="#f1b94a" d="M1080 6385l20-102-15-7-20 5z"/>
<path fill="#c8bc5d" d="M1060 6447l20-62-15-104-21 7z"/>
<path fill="#b7bd64" d="M1040 6484l20-37-16-159-20 6z"/>
<path fill="#aebe67" d="M1019 6494l21-10-16-190-20 6z"/>
<path fill="#b7bd64" d="M999 6494l20 0-15-194-20 5z"/>
<path fill="#c8bc5d" d="M979 6467l20 27-15-189-20 3z"/>
<path fill="#f1b94a" d="M959 6416l20 51-15-159-21 4z"/>
<path fill="#f5de21" d="M777 6364l21-28-16 17-20 4z"/>
<path fill="#f1b94a" d="M757 6467l20-103-15-7-20 6z"/>
<path fill="#c8bc5d" d="M737 6529l20-62-15-104-20 7z"/>
<path fill="#b7bd64" d="M717 6565l20-36-15-159-21 6z"/>
<path fill="#f5eb18" d="M1781 6093l21-21-16 9-20 10z"/>
<path fill="#f7d826" d="M1761 6128l20-35-15-2-20 29z"/>
<path fill="#c8bc5d" d="M1741 6285l20-157-15-8-20 102z"/>
<path fill="#f5eb18" d="M1459 6174l20-21-16 10-20 10z"/>
<path fill="#f7d826" d="M1438 6209l21-35-16-1-20 28z"/>
<path fill="#c8bc5d" d="M1418 6367l20-158-15-8-20 103z"/>
<path fill="#f5eb18" d="M1136 6256l20-21-15 9-21 11z"/>
<path fill="#f7d826" d="M1116 6291l20-35-16-1-20 28z"/>
<path fill="#c8bc5d" d="M1095 6448l21-157-16-8-20 102z"/>
<path fill="#f5eb18" d="M813 6338l20-21-15 9-20 10z"/>
<path fill="#f7d826" d="M793 6373l20-35-15-2-21 28z"/>
<path fill="#c8bc5d" d="M773 6530l20-157-16-9-20 103z"/>
<path fill="#2eb7a4" d="M753 6727l20-197-16-63-20 62z"/>
<path fill="#07a9c2" d="M732 6806l21-79-16-198-20 36z"/>
<path fill="#f9fb0e" d="M1878 6053l20 0-16-2-20 1zM1857 6057l21-4-16-1-20 5zM1837 6063l20-6-15 0-20 5z"/>
<path fill="#f6f313" d="M1817 6074l20-11-15-1-20 10z"/>
<path fill="#f5eb18" d="M1797 6098l20-24-15-2-21 21z"/>
<path fill="#f7d826" d="M1777 6136l20-38-16-5-20 35z"/>
<path fill="#b7bd64" d="M1757 6323l20-187-16-8-20 157z"/>
<path fill="#f9fb0e" d="M1555 6134l20 1-15-2-21 1zM1535 6139l20-5-16 0-20 4zM1514 6145l21-6-16-1-20 6z"/>
<path fill="#f6f313" d="M1494 6155l20-10-15-1-20 9z"/>
<path fill="#f5eb18" d="M1474 6180l20-25-15-2-20 21z"/>
<path fill="#f7d826" d="M1454 6217l20-37-15-6-21 35z"/>
<path fill="#b7bd64" d="M1434 6405l20-188-16-8-20 158z"/>
<path fill="#f9fb0e" d="M1212 6220l20-4-15-1-21 5zM1192 6226l20-6-16 0-20 5z"/>
<path fill="#f6f313" d="M1171 6237l21-11-16-1-20 10z"/>
<path fill="#f5eb18" d="M1151 6261l20-24-15-2-20 21z"/>
<path fill="#f7d826" d="M1131 6299l20-38-15-5-20 35z"/>
<path fill="#b7bd64" d="M1111 6487l20-188-15-8-21 157z"/>
<path fill="#f9fb0e" d="M889 6302l20-4-15-1-20 4zM869 6308l20-6-15-1-21 6z"/>
<path fill="#f6f313" d="M849 6319l20-11-16-1-20 10z"/>
<path fill="#f5eb18" d="M829 6343l20-24-16-2-20 21z"/>
<path fill="#f7d826" d="M808 6381l21-38-16-5-20 35z"/>
<path fill="#b7bd64" d="M788 6568l20-187-15-8-20 157z"/>
<path fill="#07a9c2" d="M768 6807l20-239-15-38-20 197z"/>
<path fill="#0268e1" d="M748 7017l20-210-15-80-21 79z"/>
<path fill="#f9fb0e" d="M1893 6058l20 2-15-7-20 0zM1873 6057l20 1-15-5-21 4zM1853 6069l20-12-16 0-20 6z"/>
<path fill="#f6f313" d="M1833 6080l20-11-16-6-20 11z"/>
<path fill="#f5eb18" d="M1812 6105l21-25-16-6-20 24z"/>
<path fill="#f7d826" d="M1792 6143l20-38-15-7-20 38z"/>
<path fill="#aebe67" d="M1772 6335l20-192-15-7-20 187z"/>
<path fill="#f9fb0e" d="M1570 6140l20 1-15-6-20-1zM1550 6139l20 1-15-6-20 5zM1530 6150l20-11-15 0-21 6z"/>
<path fill="#f6f313" d="M1510 6162l20-12-16-5-20 10z"/>
<path fill="#f5eb18" d="M1490 6186l20-24-16-7-20 25z"/>
<path fill="#f7d826" d="M1469 6224l21-38-16-6-20 37z"/>
<path fill="#aebe67" d="M1449 6417l20-193-15-7-20 188z"/>
<path fill="#f9fb0e" d="M1247 6222l21 1-16-6-20-1zM1227 6220l20 2-15-6-20 4zM1207 6232l20-12-15 0-20 6z"/>
<path fill="#f6f313" d="M1187 6243l20-11-15-6-21 11z"/>
<path fill="#f5eb18" d="M1167 6268l20-25-16-6-20 24z"/>
<path fill="#f7d826" d="M1147 6306l20-38-16-7-20 38z"/>
<path fill="#aebe67" d="M1126 6499l21-193-16-7-20 188z"/>
<path fill="#f9fb0e" d="M925 6303l20 1-16-6-20 0zM905 6302l20 1-16-5-20 4zM884 6313l21-11-16 0-20 6z"/>
<path fill="#f6f313" d="M864 6325l20-12-15-5-20 11z"/>
<path fill="#f5eb18" d="M844 6349l20-24-15-6-20 24z"/>
<path fill="#f7d826" d="M824 6388l20-39-15-6-21 38z"/>
<path fill="#aebe67" d="M804 6580l20-192-16-7-20 187z"/>
<path fill="#06a7c6" d="M783 6828l21-248-16-12-20 239z"/>
<path fill="#2c4ac7" d="M763 7077l20-249-15-21-20 210z"/>
<path fill="#f9fb0e" d="M1909 6066l20 1-16-7-20-2zM1888 6070l21-4-16-8-20-1zM1868 6076l20-6-15-13-20 12z"/>
<path fill="#f6f313" d="M1848 6087l20-11-15-7-20 11z"/>
<path fill="#f5eb18" d="M1828 6111l20-24-15-7-21 25z"/>
<path fill="#f7d826" d="M1808 6149l20-38-16-6-20 38z"/>
<path fill="#b7bd64" d="M1788 6337l20-188-16-6-20 192z"/>
<path fill="#f9fb0e" d="M1586 6148l20 0-16-7-20-1zM1566 6152l20-4-16-8-20-1zM1545 6158l21-6-16-13-20 11z"/>
<path fill="#f6f313" d="M1525 6169l20-11-15-8-20 12z"/>
<path fill="#f5eb18" d="M1505 6193l20-24-15-7-20 24z"/>
<path fill="#f7d826" d="M1485 6231l20-38-15-7-21 38z"/>
<path fill="#b7bd64" d="M1465 6418l20-187-16-7-20 193z"/>
<path fill="#2c4ac7" d="M1404 6925l20-58-15 46-20 73z"/>
<path fill="#0268e1" d="M1384 6877l20 48-15 61-20-62z"/>
<path fill="#f9fb0e" d="M1263 6229l20 1-15-7-21-1zM1243 6233l20-4-16-7-20-2zM1223 6240l20-7-16-13-20 12z"/>
<path fill="#f6f313" d="M1202 6250l21-10-16-8-20 11z"/>
<path fill="#f5eb18" d="M1182 6274l20-24-15-7-20 25z"/>
<path fill="#f7d826" d="M1162 6312l20-38-15-6-20 38z"/>
<path fill="#b7bd64" d="M1142 6500l20-188-15-6-21 193z"/>
<path fill="#2c4ac7" d="M1081 7007l21-59-16 47-20 72z"/>
<path fill="#0268e1" d="M1061 6958l20 49-15 60-20-62z"/>
<path fill="#f9fb0e" d="M940 6311l20 1-15-8-20-1zM920 6315l20-4-15-8-20-1zM900 6321l20-6-15-13-21 11z"/>
<path fill="#f6f313" d="M880 6332l20-11-16-8-20 12z"/>
<path fill="#f5eb18" d="M859 6356l21-24-16-7-20 24z"/>
<path fill="#f7d826" d="M839 6394l20-38-15-7-20 39z"/>
<path fill="#b7bd64" d="M819 6581l20-187-15-6-20 192z"/>
<path fill="#07a9c2" d="M799 6821l20-240-15-1-21 248z"/>
<path fill="#0268e1" d="M779 7030l20-209-16 7-20 249z"/>
<path fill="#f6f313" d="M1924 6078l20 0-15-11-20-1zM1904 6083l20-5-15-12-21 4zM1884 6089l20-6-16-13-20 6zM1864 6098l20-9-16-13-20 11z"/>
<path fill="#f5eb18" d="M1843 6119l21-21-16-11-20 24z"/>
<path fill="#f7d826" d="M1823 6154l20-35-15-8-20 38z"/>
<path fill="#f6f313" d="M1601 6160l20-1-15-11-20 0zM1581 6165l20-5-15-12-20 4zM1561 6170l20-5-15-13-21 6zM1541 6180l20-10-16-12-20 11z"/>
<path fill="#f5eb18" d="M1521 6201l20-21-16-11-20 24z"/>
<path fill="#f7d826" d="M1500 6236l21-35-16-8-20 38z"/>
<path fill="#07a9c2" d="M1440 6669l20-78-15 66-21 210z"/>
<path fill="#06a7c6" d="M1420 6689l20-20-16 198-20 58z"/>
<path fill="#07a9c2" d="M1400 6679l20 10-16 236-20-48z"/>
<path fill="#f6f313" d="M1278 6242l21-1-16-11-20-1zM1258 6246l20-4-15-13-20 4zM1238 6252l20-6-15-13-20 7zM1218 6261l20-9-15-12-21 10z"/>
<path fill="#f5eb18" d="M1198 6283l20-22-16-11-20 24z"/>
<path fill="#f7d826" d="M1178 6318l20-35-16-9-20 38z"/>
<path fill="#07a9c2" d="M1117 6751l20-79-15 67-20 209z"/>
<path fill="#06a7c6" d="M1097 6770l20-19-15 197-21 59z"/>
<path fill="#07a9c2" d="M1077 6761l20 9-16 237-20-49z"/>
<path fill="#f6f313" d="M956 6323l20 0-16-11-20-1zM935 6328l21-5-16-12-20 4zM915 6333l20-5-15-13-20 6zM895 6343l20-10-15-12-20 11z"/>
<path fill="#f5eb18" d="M875 6364l20-21-15-11-21 24z"/>
<path fill="#f7d826" d="M855 6399l20-35-16-8-20 38z"/>
<path fill="#c8bc5d" d="M835 6557l20-158-16-5-20 187z"/>
<path fill="#07a9c2" d="M794 6832l20-78-15 67-20 209z"/>
<path fill="#f5eb18" d="M1960 6100l20 1-16-12-20-11zM1940 6104l20-4-16-22-20 0zM1919 6109l21-5-16-26-20 5zM1899 6114l20-5-15-26-20 6zM1879 6121l20-7-15-25-20 9z"/>
<path fill="#f5e41d" d="M1859 6131l20-10-15-23-21 21z"/>
<path fill="#f5de21" d="M1839 6159l20-28-16-12-20 35z"/>
<path fill="#f5eb18" d="M1637 6182l20 0-15-12-21-11zM1617 6186l20-4-16-23-20 1zM1597 6191l20-5-16-26-20 5zM1576 6196l21-5-16-26-20 5zM1556 6202l20-6-15-26-20 10z"/>
<path fill="#f5e41d" d="M1536 6213l20-11-15-22-20 21z"/>
<path fill="#f5de21" d="M1516 6241l20-28-15-12-21 35z"/>
<path fill="#f5eb18" d="M1314 6264l20 0-15-12-20-11zM1294 6267l20-3-15-23-21 1zM1274 6272l20-5-16-25-20 4zM1254 6277l20-5-16-26-20 6zM1233 6284l21-7-16-25-20 9z"/>
<path fill="#f5e41d" d="M1213 6294l20-10-15-23-20 22z"/>
<path fill="#f5de21" d="M1193 6323l20-29-15-11-20 35z"/>
<path fill="#c8bc5d" d="M1153 6487l20-62-16 50-20 197z"/>
<path fill="#b7bd64" d="M1133 6523l20-36-16 185-20 79z"/>
<path fill="#aebe67" d="M1112 6534l21-11-16 228-20 19z"/>
<path fill="#f5eb18" d="M991 6345l20 0-15-11-20-11zM971 6349l20-4-15-22-20 0zM951 6354l20-5-15-26-21 5zM931 6359l20-5-16-26-20 5zM911 6366l20-7-16-26-20 10z"/>
<path fill="#f5e41d" d="M890 6376l21-10-16-23-20 21z"/>
<path fill="#f5de21" d="M870 6404l20-28-15-12-20 35z"/>
<path fill="#c8bc5d" d="M830 6568l20-61-15 50-21 197z"/>
<path fill="#b7bd64" d="M810 6605l20-37-16 186-20 78z"/>
<path fill="#f5de21" d="M1995 6130l21-5-16-6-20-18z"/>
<path fill="#f7d826" d="M1975 6137l20-7-15-29-20-1zM1955 6143l20-6-15-37-20 4zM1935 6149l20-6-15-39-21 5zM1915 6154l20-5-16-40-20 5zM1894 6157l21-3-16-40-20 7z"/>
<path fill="#f5de21" d="M1874 6161l20-4-15-36-20 10zM1854 6165l20-4-15-30-20 28zM1673 6212l20-6-16-6-20-18z"/>
<path fill="#f7d826" d="M1652 6219l21-7-16-30-20 0zM1632 6225l20-6-15-37-20 4zM1612 6230l20-5-15-39-20 5zM1592 6235l20-5-15-39-21 5zM1572 6239l20-4-16-39-20 6z"/>
<path fill="#f5de21" d="M1552 6243l20-4-16-37-20 11zM1531 6247l21-4-16-30-20 28zM1350 6294l20-6-16-6-20-18z"/>
<path fill="#f7d826" d="M1330 6300l20-6-16-30-20 0zM1309 6307l21-7-16-36-20 3zM1289 6312l20-5-15-40-20 5zM1269 6317l20-5-15-40-20 5zM1249 6321l20-4-15-40-21 7z"/>
<path fill="#f5de21" d="M1229 6324l20-3-16-37-20 10zM1209 6329l20-5-16-30-20 29zM1027 6375l20-6-15-6-21-18z"/>
<path fill="#f7d826" d="M1007 6382l20-7-16-30-20 0zM987 6388l20-6-16-37-20 4zM966 6394l21-6-16-39-20 5zM946 6398l20-4-15-40-20 5zM926 6402l20-4-15-39-20 7z"/>
<path fill="#f5de21" d="M906 6406l20-4-15-36-21 10zM886 6410l20-4-16-30-20 28zM866 6416l20-6-16-6-20 103z"/>
<path fill="#f7d826" d="M845 6423l21-7-16 91-20 61zM825 6429l20-6-15 145-20 37z"/>
<path fill="#f5de21" d="M2031 6132l20-28-15 16-20 5z"/>
<path fill="#f1b94a" d="M2011 6234l20-102-15-7-21 5z"/>
<path fill="#c8bc5d" d="M1991 6296l20-62-16-104-20 7z"/>
<path fill="#b7bd64" d="M1970 6333l21-37-16-159-20 6z"/>
<path fill="#aebe67" d="M1950 6343l20-10-15-190-20 6z"/>
<path fill="#b7bd64" d="M1930 6343l20 0-15-194-20 5z"/>
<path fill="#c8bc5d" d="M1910 6316l20 27-15-189-21 3z"/>
<path fill="#f1b94a" d="M1890 6265l20 51-16-159-20 4z"/>
<path fill="#f5de21" d="M1708 6213l20-28-15 17-20 4z"/>
<path fill="#f1b94a" d="M1688 6316l20-103-15-7-20 6z"/>
<path fill="#c8bc5d" d="M1668 6378l20-62-15-104-21 7z"/>
<path fill="#b7bd64" d="M1648 6414l20-36-16-159-20 6z"/>
<path fill="#aebe67" d="M1628 6425l20-11-16-189-20 5z"/>
<path fill="#b7bd64" d="M1607 6424l21 1-16-195-20 5z"/>
<path fill="#c8bc5d" d="M1587 6398l20 26-15-189-20 4z"/>
<path fill="#f1b94a" d="M1567 6346l20 52-15-159-20 4z"/>
<path fill="#f5de21" d="M1385 6295l21-28-16 16-20 5z"/>
<path fill="#f1b94a" d="M1365 6397l20-102-15-7-20 6z"/>
<path fill="#c8bc5d" d="M1345 6459l20-62-15-103-20 6z"/>
<path fill="#b7bd64" d="M1325 6496l20-37-15-159-21 7z"/>
<path fill="#aebe67" d="M1305 6506l20-10-16-189-20 5z"/>
<path fill="#b7bd64" d="M1285 6506l20 0-16-194-20 5z"/>
<path fill="#c8bc5d" d="M1264 6480l21 26-16-189-20 4z"/>
<path fill="#f1b94a" d="M1244 6428l20 52-15-159-20 3z"/>
<path fill="#f5de21" d="M1063 6377l20-29-16 17-20 4z"/>
<path fill="#f1b94a" d="M1042 6479l21-102-16-8-20 6z"/>
<path fill="#c8bc5d" d="M1022 6541l20-62-15-104-20 7z"/>
<path fill="#b7bd64" d="M1002 6577l20-36-15-159-20 6z"/>
<path fill="#aebe67" d="M982 6588l20-11-15-189-21 6z"/>
<path fill="#b7bd64" d="M962 6588l20 0-16-194-20 4z"/>
<path fill="#c8bc5d" d="M942 6561l20 27-16-190-20 4z"/>
<path fill="#f1b94a" d="M921 6510l21 51-16-159-20 4z"/>
<path fill="#f5e41d" d="M881 6399l20 18-15-7-20 6z"/>
<path fill="#f5eb18" d="M861 6399l20 0-15 17-21 7zM841 6403l20-4-16 24-20 6zM2067 6105l20-21-16 9-20 11z"/>
<path fill="#f7d826" d="M2046 6140l21-35-16-1-20 28z"/>
<path fill="#c8bc5d" d="M2026 6297l20-157-15-8-20 102z"/>
<path fill="#f5eb18" d="M1744 6187l20-21-15 9-21 10z"/>
<path fill="#f7d826" d="M1724 6222l20-35-16-2-20 28z"/>
<path fill="#c8bc5d" d="M1704 6379l20-157-16-9-20 103z"/>
<path fill="#f5eb18" d="M1421 6268l20-21-15 10-20 10z"/>
<path fill="#f7d826" d="M1401 6303l20-35-15-1-21 28z"/>
<path fill="#c8bc5d" d="M1381 6461l20-158-16-8-20 102z"/>
<path fill="#f5eb18" d="M1098 6350l20-21-15 9-20 10z"/>
<path fill="#f7d826" d="M1078 6385l20-35-15-2-20 29z"/>
<path fill="#c8bc5d" d="M1058 6542l20-157-15-8-21 102z"/>
<path fill="#f7d826" d="M917 6426l20 147-16-63-20-93z"/>
<path fill="#f5eb18" d="M897 6401l20 25-16-9-20-18z"/>
<path fill="#f6f313" d="M876 6390l21 11-16-2-20 0zM856 6391l20-1-15 9-20 4z"/>
<path fill="#f9fb0e" d="M2123 6075l20-6-16 0-20 5z"/>
<path fill="#f6f313" d="M2102 6086l21-11-16-1-20 10z"/>
<path fill="#f5eb18" d="M2082 6110l20-24-15-2-20 21z"/>
<path fill="#f7d826" d="M2062 6148l20-38-15-5-21 35z"/>
<path fill="#b7bd64" d="M2042 6336l20-188-16-8-20 157z"/>
<path fill="#f9fb0e" d="M1820 6151l20-4-15-1-21 4zM1800 6157l20-6-16-1-20 6z"/>
<path fill="#f6f313" d="M1780 6168l20-11-16-1-20 10z"/>
<path fill="#f5eb18" d="M1759 6192l21-24-16-2-20 21z"/>
<path fill="#f7d826" d="M1739 6230l20-38-15-5-20 35z"/>
<path fill="#b7bd64" d="M1719 6417l20-187-15-8-20 157z"/>
<path fill="#f9fb0e" d="M1497 6232l20-4-15-1-20 5zM1477 6238l20-6-15 0-21 6z"/>
<path fill="#f6f313" d="M1457 6249l20-11-16 0-20 9z"/>
<path fill="#f5eb18" d="M1437 6273l20-24-16-2-20 21z"/>
<path fill="#f7d826" d="M1416 6311l21-38-16-5-20 35z"/>
<path fill="#b7bd64" d="M1396 6499l20-188-15-8-20 158z"/>
<path fill="#f9fb0e" d="M1194 6310l21 0-16-2-20 1zM1174 6314l20-4-15-1-20 5zM1154 6320l20-6-15 0-20 5z"/>
<path fill="#f6f313" d="M1134 6331l20-11-15-1-21 10z"/>
<path fill="#f5eb18" d="M1114 6355l20-24-16-2-20 21z"/>
<path fill="#f7d826" d="M1094 6393l20-38-16-5-20 35z"/>
<path fill="#b7bd64" d="M1073 6580l21-187-16-8-20 157zM952 6611l21 229-16-80-20-187z"/>
<path fill="#f7d826" d="M932 6434l20 177-15-38-20-147z"/>
<path fill="#f5eb18" d="M912 6406l20 28-15-8-20-25z"/>
<path fill="#f9fb0e" d="M872 6391l20 1-16-2-20 1zM2138 6081l20-12-15 0-20 6z"/>
<path fill="#f6f313" d="M2118 6092l20-11-15-6-21 11z"/>
<path fill="#f5eb18" d="M2098 6117l20-25-16-6-20 24z"/>
<path fill="#f7d826" d="M2077 6155l21-38-16-7-20 38z"/>
<path fill="#aebe67" d="M2057 6348l20-193-15-7-20 188z"/>
<path fill="#f9fb0e" d="M1856 6152l20 1-16-6-20 0zM1835 6151l21 1-16-5-20 4zM1815 6162l20-11-15 0-20 6z"/>
<path fill="#f6f313" d="M1795 6174l20-12-15-5-20 11z"/>
<path fill="#f5eb18" d="M1775 6198l20-24-15-6-21 24z"/>
<path fill="#f7d826" d="M1755 6237l20-39-16-6-20 38z"/>
<path fill="#aebe67" d="M1734 6429l21-192-16-7-20 187z"/>
<path fill="#f9fb0e" d="M1533 6234l20 1-16-6-20-1zM1513 6233l20 1-16-6-20 4zM1492 6244l21-11-16-1-20 6z"/>
<path fill="#f6f313" d="M1472 6255l20-11-15-6-20 11z"/>
<path fill="#f5eb18" d="M1452 6280l20-25-15-6-20 24z"/>
<path fill="#f7d826" d="M1432 6318l20-38-15-7-21 38z"/>
<path fill="#aebe67" d="M1412 6511l20-193-16-7-20 188z"/>
<path fill="#f9fb0e" d="M1210 6315l20 2-15-7-21 0zM1190 6314l20 1-16-5-20 4zM1170 6326l20-12-16 0-20 6z"/>
<path fill="#f6f313" d="M1149 6337l21-11-16-6-20 11z"/>
<path fill="#f5eb18" d="M1129 6362l20-25-15-6-20 24z"/>
<path fill="#f7d826" d="M1109 6400l20-38-15-7-20 38z"/>
<path fill="#aebe67" d="M1089 6592l20-192-15-7-21 187z"/>
<path fill="#06a7c6" d="M988 6861l20 238-15-60-20-199z"/>
<path fill="#aebe67" d="M968 6623l20 238-15-21-21-229z"/>
<path fill="#f7d826" d="M948 6441l20 182-16-12-20-177z"/>
<path fill="#f9fb0e" d="M887 6397l20 1-15-6-20-1zM2153 6089l21-7-16-13-20 12z"/>
<path fill="#f6f313" d="M2133 6099l20-10-15-8-20 11z"/>
<path fill="#f5eb18" d="M2113 6123l20-24-15-7-20 25z"/>
<path fill="#f7d826" d="M2093 6161l20-38-15-6-21 38z"/>
<path fill="#b7bd64" d="M2073 6349l20-188-16-6-20 193z"/>
<path fill="#2c4ac7" d="M2012 6856l20-59-15 47-20 72z"/>
<path fill="#0268e1" d="M1992 6807l20 49-15 60-20-62z"/>
<path fill="#f9fb0e" d="M1871 6160l20 1-15-8-20-1zM1851 6164l20-4-15-8-21-1zM1831 6170l20-6-16-13-20 11z"/>
<path fill="#f6f313" d="M1810 6181l21-11-16-8-20 12z"/>
<path fill="#f5eb18" d="M1790 6205l20-24-15-7-20 24z"/>
<path fill="#f7d826" d="M1770 6243l20-38-15-7-20 39z"/>
<path fill="#b7bd64" d="M1750 6430l20-187-15-6-21 192z"/>
<path fill="#2c4ac7" d="M1689 6937l21-58-16 47-20 72z"/>
<path fill="#0268e1" d="M1669 6889l20 48-15 61-20-62z"/>
<path fill="#f9fb0e" d="M1548 6242l20 0-15-7-20-1zM1528 6246l20-4-15-8-20-1zM1508 6252l20-6-15-13-21 11z"/>
<path fill="#f6f313" d="M1488 6263l20-11-16-8-20 11z"/>
<path fill="#f5eb18" d="M1468 6287l20-24-16-8-20 25z"/>
<path fill="#f7d826" d="M1447 6324l21-37-16-7-20 38z"/>
<path fill="#b7bd64" d="M1427 6512l20-188-15-6-20 193z"/>
<path fill="#2c4ac7" d="M1367 7019l20-59-16 47-20 72z"/>
<path fill="#0268e1" d="M1346 6971l21 48-16 60-20-62z"/>
<path fill="#f9fb0e" d="M1225 6323l21 1-16-7-20-2zM1205 6327l20-4-15-8-20-1zM1185 6333l20-6-15-13-20 12z"/>
<path fill="#f6f313" d="M1165 6344l20-11-15-7-21 11z"/>
<path fill="#f5eb18" d="M1145 6368l20-24-16-7-20 25z"/>
<path fill="#f7d826" d="M1125 6406l20-38-16-6-20 38z"/>
<path fill="#b7bd64" d="M1104 6594l21-188-16-6-20 192z"/>
<path fill="#2c4ac7" d="M1044 7101l20-59-15 47-21 72z"/>
<path fill="#0268e1" d="M1024 7052l20 49-16 60-20-62z"/>
<path fill="#f9fb0e" d="M903 6405l20 0-16-7-20-1z"/>
<path fill="#f6f313" d="M2169 6101l20-6-15-13-21 7zM2149 6110l20-9-16-12-20 10z"/>
<path fill="#f5eb18" d="M2129 6132l20-22-16-11-20 24z"/>
<path fill="#f7d826" d="M2108 6167l21-35-16-9-20 38z"/>
<path fill="#07a9c2" d="M2008 6610l20 9-16 237-20-49z"/>
<path fill="#f6f313" d="M1886 6172l21 0-16-11-20-1zM1866 6177l20-5-15-12-20 4zM1846 6182l20-5-15-13-20 6zM1826 6192l20-10-15-12-21 11z"/>
<path fill="#f5eb18" d="M1806 6213l20-21-16-11-20 24z"/>
<path fill="#f7d826" d="M1786 6248l20-35-16-8-20 38z"/>
<path fill="#07a9c2" d="M1685 6692l20 9-16 236-20-48z"/>
<path fill="#f6f313" d="M1564 6254l20-1-16-11-20 0zM1544 6259l20-5-16-12-20 4zM1523 6264l21-5-16-13-20 6zM1503 6274l20-10-15-12-20 11z"/>
<path fill="#f5eb18" d="M1483 6295l20-21-15-11-20 24z"/>
<path fill="#f7d826" d="M1463 6330l20-35-15-8-21 37z"/>
<path fill="#07a9c2" d="M1402 6763l20-78-15 66-20 209z"/>
<path fill="#06a7c6" d="M1382 6782l20-19-15 197-20 59z"/>
<path fill="#07a9c2" d="M1362 6773l20 9-15 237-21-48z"/>
<path fill="#f6f313" d="M1241 6335l20 0-15-11-21-1zM1221 6340l20-5-16-12-20 4zM1201 6346l20-6-16-13-20 6zM1180 6355l21-9-16-13-20 11z"/>
<path fill="#f5eb18" d="M1160 6376l20-21-15-11-20 24z"/>
<path fill="#f7d826" d="M1140 6411l20-35-15-8-20 38z"/>
<path fill="#07a9c2" d="M1079 6845l21-79-16 67-20 209z"/>
<path fill="#06a7c6" d="M1059 6864l20-19-15 197-20 59z"/>
<path fill="#07a9c2" d="M1039 6855l20 9-15 237-20-49z"/>
<path fill="#f6f313" d="M918 6417l20-1-15-11-20 0z"/>
<path fill="#f5eb18" d="M2184 6126l21-5-16-26-20 6zM2164 6133l20-7-15-25-20 9z"/>
<path fill="#f5e41d" d="M2144 6143l20-10-15-23-20 22z"/>
<path fill="#f5de21" d="M2124 6172l20-29-15-11-21 35z"/>
<path fill="#f5eb18" d="M1922 6194l20 0-15-11-20-11zM1902 6198l20-4-15-22-21 0zM1882 6203l20-5-16-26-20 5zM1862 6208l20-5-16-26-20 5zM1841 6215l21-7-16-26-20 10z"/>
<path fill="#f5e41d" d="M1821 6225l20-10-15-23-20 21z"/>
<path fill="#f5de21" d="M1801 6253l20-28-15-12-20 35z"/>
<path fill="#f5eb18" d="M1599 6276l21 0-16-12-20-11zM1579 6279l20-3-15-23-20 1zM1559 6285l20-6-15-25-20 5zM1539 6290l20-5-15-26-21 5zM1519 6296l20-6-16-26-20 10z"/>
<path fill="#f5e41d" d="M1498 6307l21-11-16-22-20 21z"/>
<path fill="#f5de21" d="M1478 6335l20-28-15-12-20 35z"/>
<path fill="#b7bd64" d="M1418 6536l20-37-16 186-20 78z"/>
<path fill="#aebe67" d="M1398 6546l20-10-16 227-20 19z"/>
<path fill="#f5eb18" d="M1277 6357l20 1-16-12-20-11zM1256 6361l21-4-16-22-20 0zM1236 6366l20-5-15-26-20 5zM1216 6371l20-5-15-26-20 6zM1196 6378l20-7-15-25-21 9z"/>
<path fill="#f5e41d" d="M1176 6388l20-10-16-23-20 21z"/>
<path fill="#f5de21" d="M1156 6416l20-28-16-12-20 35z"/>
<path fill="#c8bc5d" d="M1115 6580l20-61-15 50-20 197z"/>
<path fill="#b7bd64" d="M1095 6617l20-37-15 186-21 79z"/>
<path fill="#aebe67" d="M1075 6628l20-11-16 228-20 19z"/>
<path fill="#f5eb18" d="M954 6439l20 0-16-12-20-11zM934 6443l20-4-16-23-20 1z"/>
<path fill="#f7d826" d="M2200 6166l20-5-15-40-21 5zM2180 6170l20-4-16-40-20 7z"/>
<path fill="#f5de21" d="M2160 6173l20-3-16-37-20 10zM2139 6178l21-5-16-30-20 29zM1958 6224l20-6-16-6-20-18z"/>
<path fill="#f7d826" d="M1938 6231l20-7-16-30-20 0zM1917 6237l21-6-16-37-20 4zM1897 6243l20-6-15-39-20 5zM1877 6247l20-4-15-40-20 5zM1857 6251l20-4-15-39-21 7z"/>
<path fill="#f5de21" d="M1837 6255l20-4-16-36-20 10zM1817 6259l20-4-16-30-20 28zM1635 6306l20-6-15-6-20-18z"/>
<path fill="#f7d826" d="M1615 6312l20-6-15-30-21 0zM1595 6319l20-7-16-36-20 3zM1574 6324l21-5-16-40-20 6zM1554 6329l20-5-15-39-20 5zM1534 6333l20-4-15-39-20 6z"/>
<path fill="#f5de21" d="M1514 6336l20-3-15-37-21 11zM1494 6341l20-5-16-29-20 28zM1312 6387l20-5-15-6-20-18z"/>
<path fill="#f7d826" d="M1292 6394l20-7-15-29-20-1zM1272 6400l20-6-15-37-21 4zM1252 6406l20-6-16-39-20 5zM1232 6411l20-5-16-40-20 5zM1211 6414l21-3-16-40-20 7z"/>
<path fill="#f5de21" d="M1191 6418l20-4-15-36-20 10zM1171 6422l20-4-15-30-20 28z"/>
<path fill="#f7d826" d="M1131 6435l20-7-16 91-20 61zM1110 6441l21-6-16 145-20 37z"/>
<path fill="#f5de21" d="M989 6469l21-6-16-6-20-18z"/>
<path fill="#f7d826" d="M969 6476l20-7-15-30-20 0zM949 6482l20-6-15-37-20 4z"/>
<path fill="#b7bd64" d="M2215 6355l21 0-16-194-20 5z"/>
<path fill="#c8bc5d" d="M2195 6329l20 26-15-189-20 4z"/>
<path fill="#f1b94a" d="M2175 6277l20 52-15-159-20 3z"/>
<path fill="#f5de21" d="M1993 6226l21-29-16 17-20 4z"/>
<path fill="#f1b94a" d="M1973 6328l20-102-15-8-20 6z"/>
<path fill="#c8bc5d" d="M1953 6390l20-62-15-104-20 7z"/>
<path fill="#b7bd64" d="M1933 6426l20-36-15-159-21 6z"/>
<path fill="#aebe67" d="M1913 6437l20-11-16-189-20 6z"/>
<path fill="#b7bd64" d="M1893 6437l20 0-16-194-20 4z"/>
<path fill="#c8bc5d" d="M1872 6410l21 27-16-190-20 4z"/>
<path fill="#f1b94a" d="M1852 6359l20 51-15-159-20 4z"/>
<path fill="#f5de21" d="M1671 6307l20-28-16 17-20 4z"/>
<path fill="#f1b94a" d="M1650 6410l21-103-16-7-20 6z"/>
<path fill="#c8bc5d" d="M1630 6471l20-61-15-104-20 6z"/>
<path fill="#b7bd64" d="M1610 6508l20-37-15-159-20 7z"/>
<path fill="#aebe67" d="M1590 6518l20-10-15-189-21 5z"/>
<path fill="#b7bd64" d="M1570 6518l20 0-16-194-20 5z"/>
<path fill="#c8bc5d" d="M1550 6492l20 26-16-189-20 4z"/>
<path fill="#f1b94a" d="M1529 6440l21 52-16-159-20 3z"/>
<path fill="#f5de21" d="M1348 6389l20-28-15 16-21 5z"/>
<path fill="#f1b94a" d="M1328 6491l20-102-16-7-20 5z"/>
<path fill="#c8bc5d" d="M1308 6553l20-62-16-104-20 7z"/>
<path fill="#b7bd64" d="M1287 6590l21-37-16-159-20 6z"/>
<path fill="#aebe67" d="M1267 6600l20-10-15-190-20 6z"/>
<path fill="#b7bd64" d="M1247 6600l20 0-15-194-20 5z"/>
<path fill="#c8bc5d" d="M1227 6573l20 27-15-189-21 3z"/>
<path fill="#f1b94a" d="M1207 6522l20 51-16-159-20 4z"/>
<path fill="#f5de21" d="M1025 6470l20-28-15 17-20 4z"/>
<path fill="#f1b94a" d="M1005 6573l20-103-15-7-21 6z"/>
<path fill="#c8bc5d" d="M985 6635l20-62-16-104-20 7z"/>
<path fill="#b7bd64" d="M965 6671l20-36-16-159-20 6z"/>
<path fill="#f5eb18" d="M2029 6199l20-21-15 9-20 10z"/>
<path fill="#f7d826" d="M2009 6234l20-35-15-2-21 29z"/>
<path fill="#c8bc5d" d="M1989 6391l20-157-16-8-20 102z"/>
<path fill="#f5eb18" d="M1706 6280l20-21-15 10-20 10z"/>
<path fill="#f7d826" d="M1686 6315l20-35-15-1-20 28z"/>
<path fill="#c8bc5d" d="M1666 6473l20-158-15-8-21 103z"/>
<path fill="#f5eb18" d="M1384 6362l20-21-16 9-20 11z"/>
<path fill="#f7d826" d="M1363 6397l21-35-16-1-20 28z"/>
<path fill="#c8bc5d" d="M1343 6554l20-157-15-8-20 102z"/>
<path fill="#f5eb18" d="M1061 6444l20-21-16 9-20 10z"/>
<path fill="#f7d826" d="M1041 6479l20-35-16-2-20 28z"/>
<path fill="#c8bc5d" d="M1020 6636l21-157-16-9-20 103z"/>
<path fill="#2eb7a4" d="M1000 6833l20-197-15-63-20 62z"/>
<path fill="#07a9c2" d="M980 6912l20-79-15-198-20 36z"/>
<path fill="#f9fb0e" d="M2125 6159l20 0-15-2-20 1zM2105 6163l20-4-15-1-20 5zM2085 6169l20-6-15 0-21 5z"/>
<path fill="#f6f313" d="M2065 6180l20-11-16-1-20 10z"/>
<path fill="#f5eb18" d="M2045 6204l20-24-16-2-20 21z"/>
<path fill="#f7d826" d="M2024 6242l21-38-16-5-20 35z"/>
<path fill="#b7bd64" d="M2004 6429l20-187-15-8-20 157z"/>
<path fill="#f9fb0e" d="M1802 6240l21 1-16-2-20 1zM1782 6245l20-5-15 0-20 4zM1762 6251l20-6-15-1-20 6z"/>
<path fill="#f6f313" d="M1742 6261l20-10-15-1-21 9z"/>
<path fill="#f5eb18" d="M1722 6286l20-25-16-2-20 21z"/>
<path fill="#f7d826" d="M1702 6323l20-37-16-6-20 35z"/>
<path fill="#b7bd64" d="M1681 6511l21-188-16-8-20 158z"/>
<path fill="#f9fb0e" d="M1480 6322l20 1-16-2-20 0zM1460 6326l20-4-16-1-20 5zM1439 6332l21-6-16 0-20 5z"/>
<path fill="#f6f313" d="M1419 6343l20-11-15-1-20 10z"/>
<path fill="#f5eb18" d="M1399 6367l20-24-15-2-20 21z"/>
<path fill="#f7d826" d="M1379 6405l20-38-15-5-21 35z"/>
<path fill="#b7bd64" d="M1359 6593l20-188-16-8-20 157z"/>
<path fill="#f9fb0e" d="M1157 6404l20 0-15-2-21 1zM1137 6408l20-4-16-1-20 4zM1117 6414l20-6-16-1-20 6z"/>
<path fill="#f6f313" d="M1096 6425l21-11-16-1-20 10z"/>
<path fill="#f5eb18" d="M1076 6449l20-24-15-2-20 21z"/>
<path fill="#f7d826" d="M1056 6487l20-38-15-5-20 35z"/>
<path fill="#b7bd64" d="M1036 6674l20-187-15-8-21 157z"/>
<path fill="#07a9c2" d="M1016 6913l20-239-16-38-20 197z"/>
<path fill="#0268e1" d="M995 7123l21-210-16-80-20 79z"/>
<path fill="#f9fb0e" d="M2141 6164l20 2-16-7-20 0zM2121 6163l20 1-16-5-20 4zM2100 6175l21-12-16 0-20 6z"/>
<path fill="#f6f313" d="M2080 6186l20-11-15-6-20 11z"/>
<path fill="#f5eb18" d="M2060 6211l20-25-15-6-20 24z"/>
<path fill="#f7d826" d="M2040 6249l20-38-15-7-21 38z"/>
<path fill="#aebe67" d="M2020 6441l20-192-16-7-20 187z"/>
<path fill="#f9fb0e" d="M1818 6246l20 1-15-6-21-1zM1798 6245l20 1-16-6-20 5zM1778 6256l20-11-16 0-20 6z"/>
<path fill="#f6f313" d="M1757 6268l21-12-16-5-20 10z"/>
<path fill="#f5eb18" d="M1737 6292l20-24-15-7-20 25z"/>
<path fill="#f7d826" d="M1717 6330l20-38-15-6-20 37z"/>
<path fill="#aebe67" d="M1697 6523l20-193-15-7-21 188z"/>
<path fill="#f9fb0e" d="M1495 6328l20 1-15-6-20-1zM1475 6326l20 2-15-6-20 4zM1455 6338l20-12-15 0-21 6z"/>
<path fill="#f6f313" d="M1435 6349l20-11-16-6-20 11z"/>
<path fill="#f5eb18" d="M1414 6374l21-25-16-6-20 24z"/>
<path fill="#f7d826" d="M1394 6412l20-38-15-7-20 38z"/>
<path fill="#aebe67" d="M1374 6605l20-193-15-7-20 188z"/>
<path fill="#f9fb0e" d="M1172 6409l21 1-16-6-20 0zM1152 6408l20 1-15-5-20 4zM1132 6419l20-11-15 0-20 6z"/>
<path fill="#f6f313" d="M1112 6431l20-12-15-5-21 11z"/>
<path fill="#f5eb18" d="M1092 6455l20-24-16-6-20 24z"/>
<path fill="#f7d826" d="M1072 6494l20-39-16-6-20 38z"/>
<path fill="#aebe67" d="M1051 6686l21-192-16-7-20 187z"/>
<path fill="#06a7c6" d="M1031 6934l20-248-15-12-20 239z"/>
<path fill="#2c4ac7" d="M1011 7183l20-249-15-21-21 210z"/>
<path fill="#0268e1" d="M2277 6820l20 48-15 60-20-62z"/>
<path fill="#f9fb0e" d="M2156 6172l20 1-15-7-20-2zM2136 6176l20-4-15-8-20-1zM2116 6182l20-6-15-13-21 12z"/>
<path fill="#f6f313" d="M2096 6193l20-11-16-7-20 11z"/>
<path fill="#f5eb18" d="M2076 6217l20-24-16-7-20 25z"/>
<path fill="#f7d826" d="M2055 6255l21-38-16-6-20 38z"/>
<path fill="#b7bd64" d="M2035 6443l20-188-15-6-20 192z"/>
<path fill="#2c4ac7" d="M1975 6950l20-59-16 47-20 72z"/>
<path fill="#0268e1" d="M1955 6901l20 49-16 60-20-62z"/>
<path fill="#f9fb0e" d="M1833 6254l21 0-16-7-20-1zM1813 6258l20-4-15-8-20-1zM1793 6264l20-6-15-13-20 11z"/>
<path fill="#f6f313" d="M1773 6275l20-11-15-8-21 12z"/>
<path fill="#f5eb18" d="M1753 6299l20-24-16-7-20 24z"/>
<path fill="#f7d826" d="M1733 6337l20-38-16-7-20 38z"/>
<path fill="#b7bd64" d="M1712 6524l21-187-16-7-20 193z"/>
<path fill="#0268e1" d="M1632 6983l20 48-16 61-20-62z"/>
<path fill="#f9fb0e" d="M1511 6335l20 1-16-7-20-1zM1490 6339l21-4-16-7-20-2zM1470 6346l20-7-15-13-20 12z"/>
<path fill="#f6f313" d="M1450 6356l20-10-15-8-20 11z"/>
<path fill="#f5eb18" d="M1430 6380l20-24-15-7-21 25z"/>
<path fill="#f7d826" d="M1410 6418l20-38-16-6-20 38z"/>
<path fill="#b7bd64" d="M1390 6606l20-188-16-6-20 193z"/>
<path fill="#2c4ac7" d="M1329 7113l20-59-15 47-20 72z"/>
<path fill="#0268e1" d="M1309 7064l20 49-15 60-21-62z"/>
<path fill="#f9fb0e" d="M1188 6417l20 1-15-8-21-1zM1168 6421l20-4-16-8-20-1zM1148 6427l20-6-16-13-20 11z"/>
<path fill="#f6f313" d="M1127 6438l21-11-16-8-20 12z"/>
<path fill="#f5eb18" d="M1107 6462l20-24-15-7-20 24z"/>
<path fill="#f7d826" d="M1087 6500l20-38-15-7-20 39z"/>
<path fill="#b7bd64" d="M1067 6687l20-187-15-6-21 192z"/>
<path fill="#07a9c2" d="M1047 6927l20-240-16-1-20 248z"/>
<path fill="#0268e1" d="M1026 7136l21-209-16 7-20 249z"/>
<path fill="#07a9c2" d="M2293 6622l20 9-16 237-20-48z"/>
<path fill="#f6f313" d="M2172 6184l20 0-16-11-20-1zM2152 6189l20-5-16-12-20 4zM2131 6195l21-6-16-13-20 6zM2111 6204l20-9-15-13-20 11z"/>
<path fill="#f5eb18" d="M2091 6225l20-21-15-11-20 24z"/>
<path fill="#f7d826" d="M2071 6260l20-35-15-8-21 38z"/>
<path fill="#07a9c2" d="M2010 6694l21-79-16 67-20 209z"/>
<path fill="#06a7c6" d="M1990 6713l20-19-15 197-20 59z"/>
<path fill="#07a9c2" d="M1970 6704l20 9-15 237-20-49z"/>
<path fill="#f6f313" d="M1869 6265l20 11-15-8-20-14zM1849 6266l20-1-15-11-21 0zM1829 6271l20-5-16-12-20 4zM1809 6276l20-5-16-13-20 6zM1788 6286l21-10-16-12-20 11z"/>
<path fill="#f5eb18" d="M1768 6307l20-21-15-11-20 24z"/>
<path fill="#f7d826" d="M1748 6342l20-35-15-8-20 38z"/>
<path fill="#07a9c2" d="M1688 6775l20-78-16 66-20 210z"/>
<path fill="#06a7c6" d="M1667 6795l21-20-16 198-20 58z"/>
<path fill="#07a9c2" d="M1647 6785l20 10-15 236-20-48z"/>
<path fill="#f6f313" d="M1546 6347l20 11-15-8-20-14zM1526 6348l20-1-15-11-20-1zM1506 6352l20-4-15-13-21 4zM1486 6358l20-6-16-13-20 7zM1466 6367l20-9-16-12-20 10z"/>
<path fill="#f5eb18" d="M1445 6389l21-22-16-11-20 24z"/>
<path fill="#f7d826" d="M1425 6424l20-35-15-9-20 38z"/>
<path fill="#07a9c2" d="M1365 6857l20-79-16 67-20 209z"/>
<path fill="#06a7c6" d="M1345 6876l20-19-16 197-20 59z"/>
<path fill="#07a9c2" d="M1324 6867l21 9-16 237-20-49z"/>
<path fill="#f6f313" d="M1203 6429l21 0-16-11-20-1zM1183 6434l20-5-15-12-20 4zM1163 6439l20-5-15-13-20 6zM1143 6449l20-10-15-12-21 11z"/>
<path fill="#f5eb18" d="M1123 6470l20-21-16-11-20 24z"/>
<path fill="#f7d826" d="M1102 6505l21-35-16-8-20 38z"/>
<path fill="#c8bc5d" d="M1082 6663l20-158-15-5-20 187z"/>
<path fill="#07a9c2" d="M1042 6938l20-78-15 67-21 209z"/>
<path fill="#f5eb18" d="M2207 6206l21 1-16-12-20-11zM2187 6210l20-4-15-22-20 0zM2167 6215l20-5-15-26-20 5zM2147 6220l20-5-15-26-21 6zM2127 6227l20-7-16-25-20 9z"/>
<path fill="#f5e41d" d="M2107 6237l20-10-16-23-20 21z"/>
<path fill="#f5de21" d="M2086 6265l21-28-16-12-20 35z"/>
<path fill="#f5eb18" d="M1885 6288l20 0-16-12-20-11zM1864 6292l21-4-16-23-20 1zM1844 6297l20-5-15-26-20 5zM1824 6302l20-5-15-26-20 5zM1804 6308l20-6-15-26-21 10z"/>
<path fill="#f5e41d" d="M1784 6319l20-11-16-22-20 21z"/>
<path fill="#f5de21" d="M1764 6347l20-28-16-12-20 35z"/>
<path fill="#f5eb18" d="M1562 6370l20 0-16-12-20-11zM1542 6373l20-3-16-23-20 1zM1521 6378l21-5-16-25-20 4zM1501 6383l20-5-15-26-20 6zM1481 6390l20-7-15-25-20 9z"/>
<path fill="#f5e41d" d="M1461 6400l20-10-15-23-21 22z"/>
<path fill="#f5de21" d="M1441 6429l20-29-16-11-20 35z"/>
<path fill="#c8bc5d" d="M1400 6593l21-62-16 50-20 197z"/>
<path fill="#b7bd64" d="M1380 6629l20-36-15 185-20 79z"/>
<path fill="#aebe67" d="M1360 6640l20-11-15 228-20 19z"/>
<path fill="#f5eb18" d="M1239 6451l20 0-15-11-20-11zM1219 6455l20-4-15-22-21 0zM1199 6460l20-5-16-26-20 5zM1178 6465l21-5-16-26-20 5zM1158 6472l20-7-15-26-20 10z"/>
<path fill="#f5e41d" d="M1138 6482l20-10-15-23-20 21z"/>
<path fill="#f5de21" d="M1118 6510l20-28-15-12-21 35z"/>
<path fill="#c8bc5d" d="M1078 6674l20-61-16 50-20 197z"/>
<path fill="#b7bd64" d="M1057 6711l21-37-16 186-20 78z"/>
<path fill="#f5de21" d="M2243 6236l20-5-15-6-20-18z"/>
<path fill="#f7d826" d="M2223 6243l20-7-15-29-21-1zM2203 6249l20-6-16-37-20 4zM2183 6255l20-6-16-39-20 5zM2162 6260l21-5-16-40-20 5zM2142 6263l20-3-15-40-20 7z"/>
<path fill="#f5de21" d="M2122 6267l20-4-15-36-20 10zM2102 6271l20-4-15-30-21 28zM1920 6318l20-6-15-6-20-18z"/>
<path fill="#f7d826" d="M1900 6325l20-7-15-30-20 0zM1880 6331l20-6-15-37-21 4zM1860 6336l20-5-16-39-20 5zM1840 6341l20-5-16-39-20 5zM1819 6345l21-4-16-39-20 6z"/>
<path fill="#f5de21" d="M1799 6349l20-4-15-37-20 11zM1779 6353l20-4-15-30-20 28zM1597 6400l21-6-16-6-20-18z"/>
<path fill="#f7d826" d="M1577 6406l20-6-15-30-20 0zM1557 6413l20-7-15-36-20 3zM1537 6418l20-5-15-40-21 5zM1517 6423l20-5-16-40-20 5zM1497 6427l20-4-16-40-20 7z"/>
<path fill="#f5de21" d="M1476 6430l21-3-16-37-20 10zM1456 6435l20-5-15-30-20 29zM1275 6481l20-6-16-6-20-18z"/>
<path fill="#f7d826" d="M1254 6488l21-7-16-30-20 0zM1234 6494l20-6-15-37-20 4zM1214 6500l20-6-15-39-20 5zM1194 6504l20-4-15-40-21 5zM1174 6508l20-4-16-39-20 7z"/>
<path fill="#f5de21" d="M1154 6512l20-4-16-36-20 10zM1133 6516l21-4-16-30-20 28zM1113 6522l20-6-15-6-20 103z"/>
<path fill="#f7d826" d="M1093 6529l20-7-15 91-20 61zM1073 6535l20-6-15 145-21 37z"/>
<path fill="#f5de21" d="M2279 6238l20-28-16 16-20 5z"/>
<path fill="#f1b94a" d="M2259 6340l20-102-16-7-20 5z"/>
<path fill="#c8bc5d" d="M2238 6402l21-62-16-104-20 7z"/>
<path fill="#b7bd64" d="M2218 6439l20-37-15-159-20 6z"/>
<path fill="#aebe67" d="M2198 6449l20-10-15-190-20 6z"/>
<path fill="#b7bd64" d="M2178 6449l20 0-15-194-21 5z"/>
<path fill="#c8bc5d" d="M2158 6422l20 27-16-189-20 3z"/>
<path fill="#f1b94a" d="M2137 6371l21 51-16-159-20 4z"/>
<path fill="#f5de21" d="M1956 6319l20-28-15 17-21 4z"/>
<path fill="#f1b94a" d="M1936 6422l20-103-16-7-20 6z"/>
<path fill="#c8bc5d" d="M1916 6484l20-62-16-104-20 7z"/>
<path fill="#b7bd64" d="M1895 6520l21-36-16-159-20 6z"/>
<path fill="#aebe67" d="M1875 6531l20-11-15-189-20 5z"/>
<path fill="#b7bd64" d="M1855 6530l20 1-15-195-20 5z"/>
<path fill="#c8bc5d" d="M1835 6504l20 26-15-189-21 4z"/>
<path fill="#f1b94a" d="M1815 6452l20 52-16-159-20 4z"/>
<path fill="#f5de21" d="M1633 6401l20-28-15 16-20 5z"/>
<path fill="#f1b94a" d="M1613 6503l20-102-15-7-21 6z"/>
<path fill="#c8bc5d" d="M1593 6565l20-62-16-103-20 6z"/>
<path fill="#b7bd64" d="M1573 6602l20-37-16-159-20 7z"/>
<path fill="#aebe67" d="M1552 6612l21-10-16-189-20 5z"/>
<path fill="#b7bd64" d="M1532 6612l20 0-15-194-20 5z"/>
<path fill="#c8bc5d" d="M1512 6586l20 26-15-189-20 4z"/>
<path fill="#f1b94a" d="M1492 6534l20 52-15-159-21 3z"/>
<path fill="#f5de21" d="M1310 6483l20-29-15 17-20 4z"/>
<path fill="#f1b94a" d="M1290 6585l20-102-15-8-20 6z"/>
<path fill="#c8bc5d" d="M1270 6647l20-62-15-104-21 7z"/>
<path fill="#b7bd64" d="M1250 6683l20-36-16-159-20 6z"/>
<path fill="#aebe67" d="M1230 6694l20-11-16-189-20 6z"/>
<path fill="#b7bd64" d="M1209 6694l21 0-16-194-20 4z"/>
<path fill="#c8bc5d" d="M1189 6667l20 27-15-190-20 4z"/>
<path fill="#f1b94a" d="M1169 6616l20 51-15-159-20 4z"/>
<path fill="#f5e41d" d="M1129 6505l20 18-16-7-20 6z"/>
<path fill="#f5eb18" d="M1109 6505l20 0-16 17-20 7zM1088 6509l21-4-16 24-20 6zM2314 6211l21-21-16 9-20 11z"/>
<path fill="#f7d826" d="M2294 6246l20-35-15-1-20 28z"/>
<path fill="#c8bc5d" d="M2274 6403l20-157-15-8-20 102z"/>
<path fill="#f5eb18" d="M1992 6293l20-21-16 9-20 10z"/>
<path fill="#f7d826" d="M1971 6328l21-35-16-2-20 28z"/>
<path fill="#c8bc5d" d="M1951 6485l20-157-15-9-20 103z"/>
<path fill="#f5eb18" d="M1669 6374l20-21-16 10-20 10z"/>
<path fill="#f7d826" d="M1649 6409l20-35-16-1-20 28z"/>
<path fill="#c8bc5d" d="M1628 6567l21-158-16-8-20 102z"/>
<path fill="#f5eb18" d="M1346 6456l20-21-15 9-21 10z"/>
<path fill="#f7d826" d="M1326 6491l20-35-16-2-20 29z"/>
<path fill="#c8bc5d" d="M1306 6648l20-157-16-8-20 102z"/>
<path fill="#f7d826" d="M1164 6532l21 147-16-63-20-93z"/>
<path fill="#f5eb18" d="M1144 6507l20 25-15-9-20-18z"/>
<path fill="#f6f313" d="M1124 6496l20 11-15-2-20 0zM1104 6497l20-1-15 9-21 4z"/>
<path fill="#f9fb0e" d="M2370 6181l20-6-15 0-20 5z"/>
<path fill="#f6f313" d="M2350 6192l20-11-15-1-20 10z"/>
<path fill="#f5eb18" d="M2330 6216l20-24-15-2-21 21z"/>
<path fill="#f7d826" d="M2310 6254l20-38-16-5-20 35z"/>
<path fill="#b7bd64" d="M2289 6442l21-188-16-8-20 157z"/>
<path fill="#f9fb0e" d="M2068 6257l20-4-16-1-20 4zM2047 6263l21-6-16-1-20 6z"/>
<path fill="#f6f313" d="M2027 6274l20-11-15-1-20 10z"/>
<path fill="#f5eb18" d="M2007 6298l20-24-15-2-20 21z"/>
<path fill="#f7d826" d="M1987 6336l20-38-15-5-21 35z"/>
<path fill="#b7bd64" d="M1967 6523l20-187-16-8-20 157z"/>
<path fill="#f9fb0e" d="M1765 6334l20 1-15-2-21 0zM1745 6338l20-4-16-1-20 5zM1725 6344l20-6-16 0-20 6z"/>
<path fill="#f6f313" d="M1704 6355l21-11-16 0-20 9z"/>
<path fill="#f5eb18" d="M1684 6379l20-24-15-2-20 21z"/>
<path fill="#f7d826" d="M1664 6417l20-38-15-5-20 35z"/>
<path fill="#b7bd64" d="M1644 6605l20-188-15-8-21 158z"/>
<path fill="#f9fb0e" d="M1442 6416l20 0-15-2-20 1zM1422 6420l20-4-15-1-21 5zM1402 6426l20-6-16 0-20 5z"/>
<path fill="#f6f313" d="M1382 6437l20-11-16-1-20 10z"/>
<path fill="#f5eb18" d="M1361 6461l21-24-16-2-20 21z"/>
<path fill="#f7d826" d="M1341 6499l20-38-15-5-20 35z"/>
<path fill="#b7bd64" d="M1321 6686l20-187-15-8-20 157zM1200 6717l20 229-15-80-20-187z"/>
<path fill="#f7d826" d="M1180 6540l20 177-15-38-21-147z"/>
<path fill="#f5eb18" d="M1160 6512l20 28-16-8-20-25z"/>
<path fill="#f9fb0e" d="M1119 6497l21 1-16-2-20 1zM2386 6187l20-12-16 0-20 6z"/>
<path fill="#f6f313" d="M2365 6198l21-11-16-6-20 11z"/>
<path fill="#f5eb18" d="M2345 6223l20-25-15-6-20 24z"/>
<path fill="#f7d826" d="M2325 6261l20-38-15-7-20 38z"/>
<path fill="#aebe67" d="M2305 6454l20-193-15-7-21 188z"/>
<path fill="#f9fb0e" d="M2103 6258l20 1-15-6-20 0zM2083 6257l20 1-15-5-20 4zM2063 6268l20-11-15 0-21 6z"/>
<path fill="#f6f313" d="M2043 6280l20-12-16-5-20 11z"/>
<path fill="#f5eb18" d="M2023 6304l20-24-16-6-20 24z"/>
<path fill="#f7d826" d="M2002 6343l21-39-16-6-20 38z"/>
<path fill="#aebe67" d="M1982 6535l20-192-15-7-20 187z"/>
<path fill="#f9fb0e" d="M1780 6340l21 1-16-6-20-1zM1760 6339l20 1-15-6-20 4zM1740 6350l20-11-15-1-20 6z"/>
<path fill="#f6f313" d="M1720 6361l20-11-15-6-21 11z"/>
<path fill="#f5eb18" d="M1700 6386l20-25-16-6-20 24z"/>
<path fill="#f7d826" d="M1680 6424l20-38-16-7-20 38z"/>
<path fill="#aebe67" d="M1659 6617l21-193-16-7-20 188z"/>
<path fill="#f9fb0e" d="M1458 6421l20 2-16-7-20 0zM1437 6420l21 1-16-5-20 4zM1417 6432l20-12-15 0-20 6z"/>
<path fill="#f6f313" d="M1397 6443l20-11-15-6-20 11z"/>
<path fill="#f5eb18" d="M1377 6468l20-25-15-6-21 24z"/>
<path fill="#f7d826" d="M1357 6506l20-38-16-7-20 38z"/>
<path fill="#aebe67" d="M1337 6698l20-192-16-7-20 187z"/>
<path fill="#06a7c6" d="M1236 6967l20 238-16-60-20-199z"/>
<path fill="#aebe67" d="M1216 6729l20 238-16-21-20-229z"/>
<path fill="#f7d826" d="M1195 6547l21 182-16-12-20-177z"/>
<path fill="#f9fb0e" d="M1135 6503l20 1-15-6-21-1zM2401 6195l20-7-15-13-20 12z"/>
<path fill="#f6f313" d="M2381 6205l20-10-15-8-21 11z"/>
<path fill="#f5eb18" d="M2361 6229l20-24-16-7-20 25z"/>
<path fill="#f7d826" d="M2341 6267l20-38-16-6-20 38z"/>
<path fill="#b7bd64" d="M2320 6455l21-188-16-6-20 193z"/>
<path fill="#2c4ac7" d="M2260 6962l20-59-15 47-21 72z"/>
<path fill="#0268e1" d="M2240 6913l20 49-16 60-20-62z"/>
<path fill="#f9fb0e" d="M2119 6266l20 1-16-8-20-1zM2099 6270l20-4-16-8-20-1zM2078 6276l21-6-16-13-20 11z"/>
<path fill="#f6f313" d="M2058 6287l20-11-15-8-20 12z"/>
<path fill="#f5eb18" d="M2038 6311l20-24-15-7-20 24z"/>
<path fill="#f7d826" d="M2018 6349l20-38-15-7-21 39z"/>
<path fill="#b7bd64" d="M1998 6536l20-187-16-6-20 192z"/>
<path fill="#2c4ac7" d="M1937 7043l20-58-15 47-20 72z"/>
<path fill="#0268e1" d="M1917 6995l20 48-15 61-21-62z"/>
<path fill="#f9fb0e" d="M1796 6348l20 0-15-7-21-1zM1776 6352l20-4-16-8-20-1zM1756 6358l20-6-16-13-20 11z"/>
<path fill="#f6f313" d="M1735 6369l21-11-16-8-20 11z"/>
<path fill="#f5eb18" d="M1715 6393l20-24-15-8-20 25z"/>
<path fill="#f7d826" d="M1695 6430l20-37-15-7-20 38z"/>
<path fill="#b7bd64" d="M1675 6618l20-188-15-6-21 193z"/>
<path fill="#2c4ac7" d="M1614 7125l20-59-15 47-20 72z"/>
<path fill="#0268e1" d="M1594 7077l20 48-15 60-20-62z"/>
<path fill="#f9fb0e" d="M1473 6429l20 1-15-7-20-2zM1453 6433l20-4-15-8-21-1zM1433 6439l20-6-16-13-20 12z"/>
<path fill="#f6f313" d="M1413 6450l20-11-16-7-20 11z"/>
<path fill="#f5eb18" d="M1392 6474l21-24-16-7-20 25z"/>
<path fill="#f7d826" d="M1372 6512l20-38-15-6-20 38z"/>
<path fill="#b7bd64" d="M1352 6700l20-188-15-6-20 192z"/>
<path fill="#2c4ac7" d="M1292 7207l20-59-16 47-20 72z"/>
<path fill="#0268e1" d="M1271 7158l21 49-16 60-20-62z"/>
<path fill="#f9fb0e" d="M1150 6511l20 0-15-7-20-1z"/>
<path fill="#f6f313" d="M2417 6207l20-6-16-13-20 7zM2396 6216l21-9-16-12-20 10z"/>
<path fill="#f5eb18" d="M2376 6238l20-22-15-11-20 24z"/>
<path fill="#f7d826" d="M2356 6273l20-35-15-9-20 38z"/>
<path fill="#07a9c2" d="M2296 6706l20-79-16 67-20 209z"/>
<path fill="#06a7c6" d="M2275 6725l21-19-16 197-20 59z"/>
<path fill="#07a9c2" d="M2255 6716l20 9-15 237-20-49z"/>
<path fill="#f6f313" d="M2134 6278l20 0-15-11-20-1zM2114 6283l20-5-15-12-20 4zM2094 6288l20-5-15-13-21 6zM2074 6298l20-10-16-12-20 11z"/>
<path fill="#f5eb18" d="M2053 6319l21-21-16-11-20 24z"/>
<path fill="#f7d826" d="M2033 6354l20-35-15-8-20 38z"/>
<path fill="#07a9c2" d="M1973 6787l20-78-16 67-20 209z"/>
<path fill="#06a7c6" d="M1953 6807l20-20-16 198-20 58z"/>
<path fill="#07a9c2" d="M1932 6798l21 9-16 236-20-48z"/>
<path fill="#f6f313" d="M1811 6360l21-1-16-11-20 0zM1791 6365l20-5-15-12-20 4zM1771 6370l20-5-15-13-20 6zM1751 6380l20-10-15-12-21 11z"/>
<path fill="#f5eb18" d="M1731 6401l20-21-16-11-20 24z"/>
<path fill="#f7d826" d="M1710 6436l21-35-16-8-20 37z"/>
<path fill="#07a9c2" d="M1650 6869l20-78-15 66-21 209z"/>
<path fill="#06a7c6" d="M1630 6888l20-19-16 197-20 59z"/>
<path fill="#07a9c2" d="M1610 6879l20 9-16 237-20-48z"/>
<path fill="#f6f313" d="M1489 6441l20 0-16-11-20-1zM1468 6446l21-5-16-12-20 4zM1448 6452l20-6-15-13-20 6zM1428 6461l20-9-15-13-20 11z"/>
<path fill="#f5eb18" d="M1408 6482l20-21-15-11-21 24z"/>
<path fill="#f7d826" d="M1388 6517l20-35-16-8-20 38z"/>
<path fill="#07a9c2" d="M1327 6951l20-79-15 67-20 209z"/>
<path fill="#06a7c6" d="M1307 6970l20-19-15 197-20 59z"/>
<path fill="#07a9c2" d="M1287 6961l20 9-15 237-21-49z"/>
<path fill="#f6f313" d="M1166 6523l20-1-16-11-20 0z"/>
<path fill="#f5eb18" d="M2432 6232l20-5-15-26-20 6zM2412 6239l20-7-15-25-21 9z"/>
<path fill="#f5e41d" d="M2392 6249l20-10-16-23-20 22z"/>
<path fill="#f5de21" d="M2372 6278l20-29-16-11-20 35z"/>
<path fill="#b7bd64" d="M2311 6478l20-36-15 185-20 79z"/>
<path fill="#aebe67" d="M2291 6489l20-11-15 228-21 19z"/>
<path fill="#f5eb18" d="M2170 6300l20 0-15-11-21-11zM2150 6304l20-4-16-22-20 0zM2129 6309l21-5-16-26-20 5zM2109 6314l20-5-15-26-20 5zM2089 6321l20-7-15-26-20 10z"/>
<path fill="#f5e41d" d="M2069 6331l20-10-15-23-21 21z"/>
<path fill="#f5de21" d="M2049 6359l20-28-16-12-20 35z"/>
<path fill="#b7bd64" d="M1988 6560l20-37-15 186-20 78z"/>
<path fill="#aebe67" d="M1968 6570l20-10-15 227-20 20z"/>
<path fill="#f5eb18" d="M1847 6382l20 0-15-12-20-11zM1827 6385l20-3-15-23-21 1zM1807 6391l20-6-16-25-20 5zM1787 6396l20-5-16-26-20 5zM1766 6402l21-6-16-26-20 10z"/>
<path fill="#f5e41d" d="M1746 6413l20-11-15-22-20 21z"/>
<path fill="#f5de21" d="M1726 6441l20-28-15-12-21 35z"/>
<path fill="#b7bd64" d="M1665 6642l21-37-16 186-20 78z"/>
<path fill="#aebe67" d="M1645 6652l20-10-15 227-20 19z"/>
<path fill="#f5eb18" d="M1524 6463l20 1-15-12-20-11zM1504 6467l20-4-15-22-20 0zM1484 6472l20-5-15-26-21 5zM1464 6477l20-5-16-26-20 6zM1444 6484l20-7-16-25-20 9z"/>
<path fill="#f5e41d" d="M1423 6494l21-10-16-23-20 21z"/>
<path fill="#f5de21" d="M1403 6522l20-28-15-12-20 35z"/>
<path fill="#c8bc5d" d="M1363 6686l20-61-15 50-21 197z"/>
<path fill="#b7bd64" d="M1343 6723l20-37-16 186-20 79z"/>
<path fill="#aebe67" d="M1322 6734l21-11-16 228-20 19z"/>
<path fill="#f5eb18" d="M1201 6545l21 0-16-12-20-11zM1181 6549l20-4-15-23-20 1z"/>
<path fill="#f7d826" d="M2448 6272l20-5-16-40-20 5zM2427 6276l21-4-16-40-20 7z"/>
<path fill="#f5de21" d="M2407 6279l20-3-15-37-20 10zM2387 6284l20-5-15-30-20 29zM2205 6330l21-6-16-6-20-18z"/>
<path fill="#f7d826" d="M2185 6337l20-7-15-30-20 0zM2165 6343l20-6-15-37-20 4zM2145 6349l20-6-15-39-21 5zM2125 6353l20-4-16-40-20 5zM2105 6357l20-4-16-39-20 7z"/>
<path fill="#f5de21" d="M2084 6361l21-4-16-36-20 10zM2064 6365l20-4-15-30-20 28zM1883 6412l20-6-16-6-20-18z"/>
<path fill="#f7d826" d="M1863 6418l20-6-16-30-20 0zM1842 6425l21-7-16-36-20 3zM1822 6430l20-5-15-40-20 6zM1802 6435l20-5-15-39-20 5zM1782 6439l20-4-15-39-21 6z"/>
<path fill="#f5de21" d="M1762 6442l20-3-16-37-20 11zM1741 6447l21-5-16-29-20 28zM1560 6493l20-5-15-6-21-18z"/>
<path fill="#f7d826" d="M1540 6500l20-7-16-29-20-1zM1520 6506l20-6-16-37-20 4zM1499 6512l21-6-16-39-20 5zM1479 6517l20-5-15-40-20 5zM1459 6520l20-3-15-40-20 7z"/>
<path fill="#f5de21" d="M1439 6524l20-4-15-36-21 10zM1419 6528l20-4-16-30-20 28z"/>
<path fill="#f7d826" d="M1378 6541l20-7-15 91-20 61zM1358 6547l20-6-15 145-20 37z"/>
<path fill="#f5de21" d="M1237 6575l20-6-15-6-20-18z"/>
<path fill="#f7d826" d="M1217 6582l20-7-15-30-21 0zM1197 6588l20-6-16-37-20 4z"/>
<path fill="#b7bd64" d="M2463 6461l20 0-15-194-20 5z"/>
<path fill="#c8bc5d" d="M2443 6435l20 26-15-189-21 4z"/>
<path fill="#f1b94a" d="M2423 6383l20 52-16-159-20 3z"/>
<path fill="#f5de21" d="M2241 6332l20-29-15 17-20 4z"/>
<path fill="#f1b94a" d="M2221 6434l20-102-15-8-21 6z"/>
<path fill="#c8bc5d" d="M2201 6496l20-62-16-104-20 7z"/>
<path fill="#b7bd64" d="M2181 6532l20-36-16-159-20 6z"/>
<path fill="#aebe67" d="M2160 6543l21-11-16-189-20 6z"/>
<path fill="#b7bd64" d="M2140 6543l20 0-15-194-20 4z"/>
<path fill="#c8bc5d" d="M2120 6516l20 27-15-190-20 4z"/>
<path fill="#f1b94a" d="M2100 6465l20 51-15-159-21 4z"/>
<path fill="#f5de21" d="M1918 6413l21-28-16 17-20 4z"/>
<path fill="#f1b94a" d="M1898 6516l20-103-15-7-20 6z"/>
<path fill="#c8bc5d" d="M1878 6577l20-61-15-104-20 6z"/>
<path fill="#b7bd64" d="M1858 6614l20-37-15-159-21 7z"/>
<path fill="#aebe67" d="M1838 6624l20-10-16-189-20 5z"/>
<path fill="#b7bd64" d="M1817 6624l21 0-16-194-20 5z"/>
<path fill="#c8bc5d" d="M1797 6598l20 26-15-189-20 4z"/>
<path fill="#f1b94a" d="M1777 6546l20 52-15-159-20 3z"/>
<path fill="#f5de21" d="M1596 6495l20-28-16 16-20 5z"/>
<path fill="#f1b94a" d="M1575 6597l21-102-16-7-20 5z"/>
<path fill="#c8bc5d" d="M1555 6659l20-62-15-104-20 7z"/>
<path fill="#b7bd64" d="M1535 6696l20-37-15-159-20 6z"/>
<path fill="#aebe67" d="M1515 6706l20-10-15-190-21 6z"/>
<path fill="#b7bd64" d="M1495 6706l20 0-16-194-20 5z"/>
<path fill="#c8bc5d" d="M1474 6679l21 27-16-189-20 3z"/>
<path fill="#f1b94a" d="M1454 6628l20 51-15-159-20 4z"/>
<path fill="#f5de21" d="M1273 6576l20-28-16 17-20 4z"/>
<path fill="#f1b94a" d="M1253 6679l20-103-16-7-20 6z"/>
<path fill="#c8bc5d" d="M1232 6741l21-62-16-104-20 7z"/>
<path fill="#b7bd64" d="M1212 6777l20-36-15-159-20 6z"/>
<path fill="#f5eb18" d="M2277 6305l20-21-16 9-20 10z"/>
<path fill="#f7d826" d="M2257 6340l20-35-16-2-20 29z"/>
<path fill="#c8bc5d" d="M2236 6497l21-157-16-8-20 102z"/>
<path fill="#f5eb18" d="M1954 6386l20-21-15 10-20 10z"/>
<path fill="#f7d826" d="M1934 6421l20-35-15-1-21 28z"/>
<path fill="#c8bc5d" d="M1914 6579l20-158-16-8-20 103z"/>
<path fill="#f5eb18" d="M1631 6468l20-21-15 9-20 11z"/>
<path fill="#f7d826" d="M1611 6503l20-35-15-1-20 28z"/>
<path fill="#c8bc5d" d="M1591 6660l20-157-15-8-21 102z"/>
<path fill="#f5eb18" d="M1308 6550l21-21-16 9-20 10z"/>
<path fill="#f7d826" d="M1288 6585l20-35-15-2-20 28z"/>
<path fill="#c8bc5d" d="M1268 6742l20-157-15-9-20 103z"/>
<path fill="#2eb7a4" d="M1248 6939l20-197-15-63-21 62z"/>
<path fill="#07a9c2" d="M1228 7018l20-79-16-198-20 36z"/>
<path fill="#f9fb0e" d="M2373 6265l20 0-15-2-21 1zM2353 6269l20-4-16-1-20 5zM2333 6275l20-6-16 0-20 5z"/>
<path fill="#f6f313" d="M2312 6286l21-11-16-1-20 10z"/>
<path fill="#f5eb18" d="M2292 6310l20-24-15-2-20 21z"/>
<path fill="#f7d826" d="M2272 6348l20-38-15-5-20 35z"/>
<path fill="#b7bd64" d="M2252 6535l20-187-15-8-21 157z"/>
<path fill="#f9fb0e" d="M2050 6346l20 1-15-2-20 1zM2030 6351l20-5-15 0-20 4zM2010 6357l20-6-15-1-21 6z"/>
<path fill="#f6f313" d="M1990 6367l20-10-16-1-20 9z"/>
<path fill="#f5eb18" d="M1969 6392l21-25-16-2-20 21z"/>
<path fill="#f7d826" d="M1949 6429l20-37-15-6-20 35z"/>
<path fill="#b7bd64" d="M1929 6617l20-188-15-8-20 158z"/>
<path fill="#f9fb0e" d="M1727 6428l21 1-16-2-20 0zM1707 6432l20-4-15-1-20 5zM1687 6438l20-6-15 0-20 5z"/>
<path fill="#f6f313" d="M1667 6449l20-11-15-1-21 10z"/>
<path fill="#f5eb18" d="M1647 6473l20-24-16-2-20 21z"/>
<path fill="#f7d826" d="M1626 6511l21-38-16-5-20 35z"/>
<path fill="#b7bd64" d="M1606 6699l20-188-15-8-20 157z"/>
<path fill="#f9fb0e" d="M1405 6510l20 0-16-2-20 1zM1384 6514l21-4-16-1-20 4zM1364 6520l20-6-15-1-20 6z"/>
<path fill="#f6f313" d="M1344 6531l20-11-15-1-20 10z"/>
<path fill="#f5eb18" d="M1324 6555l20-24-15-2-21 21z"/>
<path fill="#f7d826" d="M1304 6593l20-38-16-5-20 35z"/>
<path fill="#b7bd64" d="M1284 6780l20-187-16-8-20 157z"/>
<path fill="#07a9c2" d="M1263 7019l21-239-16-38-20 197z"/>
<path fill="#0268e1" d="M1243 7229l20-210-15-80-20 79z"/>
<path fill="#f9fb0e" d="M2388 6270l21 2-16-7-20 0zM2368 6269l20 1-15-5-20 4zM2348 6281l20-12-15 0-20 6z"/>
<path fill="#f6f313" d="M2328 6292l20-11-15-6-21 11z"/>
<path fill="#f5eb18" d="M2308 6317l20-25-16-6-20 24z"/>
<path fill="#f7d826" d="M2288 6355l20-38-16-7-20 38z"/>
<path fill="#aebe67" d="M2267 6547l21-192-16-7-20 187z"/>
<path fill="#f9fb0e" d="M2066 6352l20 1-16-6-20-1zM2045 6351l21 1-16-6-20 5zM2025 6362l20-11-15 0-20 6z"/>
<path fill="#f6f313" d="M2005 6374l20-12-15-5-20 10z"/>
<path fill="#f5eb18" d="M1985 6398l20-24-15-7-21 25z"/>
<path fill="#f7d826" d="M1965 6436l20-38-16-6-20 37z"/>
<path fill="#aebe67" d="M1945 6629l20-193-16-7-20 188z"/>
<path fill="#f9fb0e" d="M1743 6434l20 1-15-6-21-1zM1723 6432l20 2-16-6-20 4zM1703 6444l20-12-16 0-20 6z"/>
<path fill="#f6f313" d="M1682 6455l21-11-16-6-20 11z"/>
<path fill="#f5eb18" d="M1662 6480l20-25-15-6-20 24z"/>
<path fill="#f7d826" d="M1642 6518l20-38-15-7-21 38z"/>
<path fill="#aebe67" d="M1622 6711l20-193-16-7-20 188z"/>
<path fill="#f9fb0e" d="M1420 6515l20 1-15-6-20 0zM1400 6514l20 1-15-5-21 4zM1380 6525l20-11-16 0-20 6z"/>
<path fill="#f6f313" d="M1360 6537l20-12-16-5-20 11z"/>
<path fill="#f5eb18" d="M1339 6561l21-24-16-6-20 24z"/>
<path fill="#f7d826" d="M1319 6600l20-39-15-6-20 38z"/>
<path fill="#aebe67" d="M1299 6792l20-192-15-7-20 187z"/>
<path fill="#06a7c6" d="M1279 7040l20-248-15-12-21 239z"/>
<path fill="#2c4ac7" d="M1259 7289l20-249-16-21-20 210z"/>
<path fill="#0268e1" d="M2525 6926l20 48-15 60-20-62z"/>
<path fill="#f9fb0e" d="M2404 6278l20 1-15-7-21-2zM2384 6282l20-4-16-8-20-1zM2364 6288l20-6-16-13-20 12z"/>
<path fill="#f6f313" d="M2343 6299l21-11-16-7-20 11z"/>
<path fill="#f5eb18" d="M2323 6323l20-24-15-7-20 25z"/>
<path fill="#f7d826" d="M2303 6361l20-38-15-6-20 38z"/>
<path fill="#b7bd64" d="M2283 6549l20-188-15-6-21 192z"/>
<path fill="#2c4ac7" d="M2222 7056l21-59-16 47-20 72z"/>
<path fill="#0268e1" d="M2202 7007l20 49-15 60-20-62z"/>
<path fill="#f9fb0e" d="M2081 6360l20 0-15-7-20-1zM2061 6364l20-4-15-8-21-1zM2041 6370l20-6-16-13-20 11z"/>
<path fill="#f6f313" d="M2021 6381l20-11-16-8-20 12z"/>
<path fill="#f5eb18" d="M2000 6405l21-24-16-7-20 24z"/>
<path fill="#f7d826" d="M1980 6443l20-38-15-7-20 38z"/>
<path fill="#b7bd64" d="M1960 6630l20-187-15-7-20 193z"/>
<path fill="#2c4ac7" d="M1900 7137l20-58-16 46-20 73z"/>
<path fill="#0268e1" d="M1879 7089l21 48-16 61-20-62z"/>
<path fill="#f9fb0e" d="M1758 6441l21 1-16-7-20-1zM1738 6445l20-4-15-7-20-2zM1718 6452l20-7-15-13-20 12z"/>
<path fill="#f6f313" d="M1698 6462l20-10-15-8-21 11z"/>
<path fill="#f5eb18" d="M1678 6486l20-24-16-7-20 25z"/>
<path fill="#f7d826" d="M1657 6524l21-38-16-6-20 38z"/>
<path fill="#b7bd64" d="M1637 6712l20-188-15-6-20 193z"/>
<path fill="#0268e1" d="M1557 7170l20 49-16 60-20-62z"/>
<path fill="#f9fb0e" d="M1436 6523l20 1-16-8-20-1zM1415 6527l21-4-16-8-20-1zM1395 6533l20-6-15-13-20 11z"/>
<path fill="#f6f313" d="M1375 6544l20-11-15-8-20 12z"/>
<path fill="#f5eb18" d="M1355 6568l20-24-15-7-21 24z"/>
<path fill="#f7d826" d="M1335 6606l20-38-16-7-20 39z"/>
<path fill="#b7bd64" d="M1314 6793l21-187-16-6-20 192z"/>
<path fill="#07a9c2" d="M1294 7033l20-240-15-1-20 248z"/>
<path fill="#0268e1" d="M1274 7242l20-209-15 7-20 249z"/>
<path fill="#07a9c2" d="M2540 6728l21 9-16 237-20-48z"/>
<path fill="#f6f313" d="M2419 6290l21 0-16-11-20-1zM2399 6295l20-5-15-12-20 4zM2379 6301l20-6-15-13-20 6zM2359 6310l20-9-15-13-21 11z"/>
<path fill="#f5eb18" d="M2339 6331l20-21-16-11-20 24z"/>
<path fill="#f7d826" d="M2319 6366l20-35-16-8-20 38z"/>
<path fill="#07a9c2" d="M2258 6800l20-79-15 67-20 209z"/>
<path fill="#06a7c6" d="M2238 6819l20-19-15 197-21 59z"/>
<path fill="#07a9c2" d="M2218 6810l20 9-16 237-20-49z"/>
<path fill="#f6f313" d="M2097 6372l20-1-16-11-20 0zM2076 6377l21-5-16-12-20 4zM2056 6382l20-5-15-13-20 6zM2036 6392l20-10-15-12-20 11z"/>
<path fill="#f5eb18" d="M2016 6413l20-21-15-11-21 24z"/>
<path fill="#f7d826" d="M1996 6448l20-35-16-8-20 38z"/>
<path fill="#07a9c2" d="M1935 6881l20-78-15 66-20 210z"/>
<path fill="#06a7c6" d="M1915 6901l20-20-15 198-20 58z"/>
<path fill="#07a9c2" d="M1895 6891l20 10-15 236-21-48z"/>
<path fill="#f6f313" d="M1774 6454l20-1-15-11-21-1zM1754 6458l20-4-16-13-20 4zM1733 6464l21-6-16-13-20 7zM1713 6473l20-9-15-12-20 10z"/>
<path fill="#f5eb18" d="M1693 6495l20-22-15-11-20 24z"/>
<path fill="#f7d826" d="M1673 6530l20-35-15-9-21 38z"/>
<path fill="#07a9c2" d="M1612 6963l21-79-16 67-20 209z"/>
<path fill="#06a7c6" d="M1592 6982l20-19-15 197-20 59z"/>
<path fill="#07a9c2" d="M1572 6973l20 9-15 237-20-49z"/>
<path fill="#f6f313" d="M1451 6535l20 0-15-11-20-1zM1431 6540l20-5-15-12-21 4zM1411 6545l20-5-16-13-20 6zM1390 6555l21-10-16-12-20 11z"/>
<path fill="#f5eb18" d="M1370 6576l20-21-15-11-20 24z"/>
<path fill="#f7d826" d="M1350 6611l20-35-15-8-20 38z"/>
<path fill="#c8bc5d" d="M1330 6769l20-158-15-5-21 187z"/>
<path fill="#07a9c2" d="M1290 7044l20-78-16 67-20 209z"/>
<path fill="#f5eb18" d="M2455 6312l20 1-15-12-20-11zM2435 6316l20-4-15-22-21 0zM2415 6321l20-5-16-26-20 5zM2395 6326l20-5-16-26-20 6zM2374 6333l21-7-16-25-20 9z"/>
<path fill="#f5e41d" d="M2354 6343l20-10-15-23-20 21z"/>
<path fill="#f5de21" d="M2334 6371l20-28-15-12-20 35z"/>
<path fill="#c8bc5d" d="M2294 6535l20-61-16 50-20 197z"/>
<path fill="#b7bd64" d="M2273 6572l21-37-16 186-20 79z"/>
<path fill="#aebe67" d="M2253 6583l20-11-15 228-20 19z"/>
<path fill="#f5eb18" d="M2132 6394l20 0-15-12-20-11zM2112 6398l20-4-15-23-20 1zM2092 6403l20-5-15-26-21 5zM2072 6408l20-5-16-26-20 5zM2052 6414l20-6-16-26-20 10z"/>
<path fill="#f5e41d" d="M2031 6425l21-11-16-22-20 21z"/>
<path fill="#f5de21" d="M2011 6453l20-28-15-12-20 35z"/>
<path fill="#c8bc5d" d="M1971 6617l20-62-15 50-21 198z"/>
<path fill="#b7bd64" d="M1951 6654l20-37-16 186-20 78z"/>
<path fill="#aebe67" d="M1931 6664l20-10-16 227-20 20z"/>
<path fill="#f5eb18" d="M1809 6476l21 0-16-12-20-11zM1789 6479l20-3-15-23-20 1zM1769 6484l20-5-15-25-20 4zM1749 6489l20-5-15-26-21 6zM1729 6496l20-7-16-25-20 9z"/>
<path fill="#f5e41d" d="M1709 6506l20-10-16-23-20 22z"/>
<path fill="#f5de21" d="M1688 6535l21-29-16-11-20 35z"/>
<path fill="#c8bc5d" d="M1648 6699l20-62-15 50-20 197z"/>
<path fill="#b7bd64" d="M1628 6735l20-36-15 185-21 79z"/>
<path fill="#aebe67" d="M1608 6746l20-11-16 228-20 19z"/>
<path fill="#f5eb18" d="M1487 6557l20 0-16-11-20-11zM1466 6561l21-4-16-22-20 0zM1446 6566l20-5-15-26-20 5zM1426 6571l20-5-15-26-20 5zM1406 6578l20-7-15-26-21 10z"/>
<path fill="#f5e41d" d="M1386 6588l20-10-16-23-20 21z"/>
<path fill="#f5de21" d="M1366 6616l20-28-16-12-20 35z"/>
<path fill="#c8bc5d" d="M1325 6780l20-61-15 50-20 197z"/>
<path fill="#b7bd64" d="M1305 6817l20-37-15 186-20 78z"/>
<path fill="#f5de21" d="M2491 6342l20-5-16-6-20-18z"/>
<path fill="#f7d826" d="M2471 6349l20-7-16-29-20-1zM2450 6355l21-6-16-37-20 4zM2430 6361l20-6-15-39-20 5zM2410 6366l20-5-15-40-20 5zM2390 6369l20-3-15-40-21 7z"/>
<path fill="#f5de21" d="M2370 6373l20-4-16-36-20 10zM2349 6377l21-4-16-30-20 28zM2168 6424l20-6-15-6-21-18z"/>
<path fill="#f7d826" d="M2148 6431l20-7-16-30-20 0zM2128 6437l20-6-16-37-20 4zM2107 6442l21-5-16-39-20 5zM2087 6447l20-5-15-39-20 5zM2067 6451l20-4-15-39-20 6z"/>
<path fill="#f5de21" d="M2047 6455l20-4-15-37-21 11zM2027 6459l20-4-16-30-20 28zM1845 6506l20-6-15-6-20-18z"/>
<path fill="#f7d826" d="M1825 6512l20-6-15-30-21 0zM1805 6519l20-7-16-36-20 3zM1785 6524l20-5-16-40-20 5zM1764 6529l21-5-16-40-20 5zM1744 6533l20-4-15-40-20 7z"/>
<path fill="#f5de21" d="M1724 6536l20-3-15-37-20 10zM1704 6541l20-5-15-30-21 29zM1522 6587l20-6-15-6-20-18z"/>
<path fill="#f7d826" d="M1502 6594l20-7-15-30-20 0zM1482 6600l20-6-15-37-21 4zM1462 6606l20-6-16-39-20 5zM1442 6610l20-4-16-40-20 5zM1421 6614l21-4-16-39-20 7z"/>
<path fill="#f5de21" d="M1401 6618l20-4-15-36-20 10zM1381 6622l20-4-15-30-20 28zM1361 6628l20-6-15-6-21 103z"/>
<path fill="#f7d826" d="M1341 6635l20-7-16 91-20 61zM1321 6641l20-6-16 145-20 37z"/>
<path fill="#f5de21" d="M2526 6344l21-28-16 16-20 5z"/>
<path fill="#f1b94a" d="M2506 6446l20-102-15-7-20 5z"/>
<path fill="#c8bc5d" d="M2486 6508l20-62-15-104-20 7z"/>
<path fill="#b7bd64" d="M2466 6545l20-37-15-159-21 6z"/>
<path fill="#aebe67" d="M2446 6555l20-10-16-190-20 6z"/>
<path fill="#b7bd64" d="M2426 6555l20 0-16-194-20 5z"/>
<path fill="#c8bc5d" d="M2405 6528l21 27-16-189-20 3z"/>
<path fill="#f1b94a" d="M2385 6477l20 51-15-159-20 4z"/>
<path fill="#f5de21" d="M2204 6425l20-28-16 17-20 4z"/>
<path fill="#f1b94a" d="M2183 6528l21-103-16-7-20 6z"/>
<path fill="#c8bc5d" d="M2163 6590l20-62-15-104-20 7z"/>
<path fill="#b7bd64" d="M2143 6626l20-36-15-159-20 6z"/>
<path fill="#aebe67" d="M2123 6637l20-11-15-189-21 5z"/>
<path fill="#b7bd64" d="M2103 6636l20 1-16-195-20 5z"/>
<path fill="#c8bc5d" d="M2083 6610l20 26-16-189-20 4z"/>
<path fill="#f1b94a" d="M2062 6558l21 52-16-159-20 4z"/>
<path fill="#f5de21" d="M1881 6507l20-28-16 16-20 5z"/>
<path fill="#f1b94a" d="M1861 6609l20-102-16-7-20 6z"/>
<path fill="#c8bc5d" d="M1840 6671l21-62-16-103-20 6z"/>
<path fill="#b7bd64" d="M1820 6708l20-37-15-159-20 7z"/>
<path fill="#aebe67" d="M1800 6718l20-10-15-189-20 5z"/>
<path fill="#b7bd64" d="M1780 6718l20 0-15-194-21 5z"/>
<path fill="#c8bc5d" d="M1760 6692l20 26-16-189-20 4z"/>
<path fill="#f1b94a" d="M1740 6640l20 52-16-159-20 3z"/>
<path fill="#f5de21" d="M1558 6589l20-29-15 17-21 4z"/>
<path fill="#f1b94a" d="M1538 6691l20-102-16-8-20 6z"/>
<path fill="#c8bc5d" d="M1518 6753l20-62-16-104-20 7z"/>
<path fill="#b7bd64" d="M1497 6789l21-36-16-159-20 6z"/>
<path fill="#aebe67" d="M1477 6800l20-11-15-189-20 6z"/>
<path fill="#b7bd64" d="M1457 6800l20 0-15-194-20 4z"/>
<path fill="#c8bc5d" d="M1437 6773l20 27-15-190-21 4z"/>
<path fill="#f1b94a" d="M1417 6722l20 51-16-159-20 4z"/>
<path fill="#f5e41d" d="M1376 6611l21 18-16-7-20 6z"/>
<path fill="#f5eb18" d="M1356 6611l20 0-15 17-20 7zM1336 6615l20-4-15 24-20 6zM2562 6317l20-21-15 9-20 11z"/>
<path fill="#f7d826" d="M2542 6352l20-35-15-1-21 28z"/>
<path fill="#c8bc5d" d="M2522 6509l20-157-16-8-20 102z"/>
<path fill="#f5eb18" d="M2239 6399l20-21-15 9-20 10z"/>
<path fill="#f7d826" d="M2219 6434l20-35-15-2-20 28z"/>
<path fill="#c8bc5d" d="M2199 6591l20-157-15-9-21 103z"/>
<path fill="#f5eb18" d="M1916 6480l21-21-16 10-20 10z"/>
<path fill="#f7d826" d="M1896 6515l20-35-15-1-20 28z"/>
<path fill="#c8bc5d" d="M1876 6673l20-158-15-8-20 102z"/>
<path fill="#f5eb18" d="M1594 6562l20-21-16 9-20 10z"/>
<path fill="#f7d826" d="M1573 6597l21-35-16-2-20 29z"/>
<path fill="#c8bc5d" d="M1553 6754l20-157-15-8-20 102z"/>
<path fill="#f7d826" d="M1412 6638l20 147-15-63-20-93z"/>
<path fill="#f5eb18" d="M1392 6613l20 25-15-9-21-18z"/>
<path fill="#f6f313" d="M1372 6602l20 11-16-2-20 0zM1352 6603l20-1-16 9-20 4z"/>
<path fill="#f9fb0e" d="M2618 6287l20-6-15 0-21 5z"/>
<path fill="#f6f313" d="M2598 6298l20-11-16-1-20 10z"/>
<path fill="#f5eb18" d="M2578 6322l20-24-16-2-20 21z"/>
<path fill="#f7d826" d="M2557 6360l21-38-16-5-20 35z"/>
<path fill="#b7bd64" d="M2537 6548l20-188-15-8-20 157z"/>
<path fill="#f9fb0e" d="M2335 6359l21 0-16-2-20 1zM2315 6363l20-4-15-1-20 4zM2295 6369l20-6-15-1-20 6z"/>
<path fill="#f6f313" d="M2275 6380l20-11-15-1-21 10z"/>
<path fill="#f5eb18" d="M2255 6404l20-24-16-2-20 21z"/>
<path fill="#f7d826" d="M2235 6442l20-38-16-5-20 35z"/>
<path fill="#b7bd64" d="M2214 6629l21-187-16-8-20 157z"/>
<path fill="#f9fb0e" d="M2013 6440l20 1-16-2-20 0zM1992 6444l21-4-16-1-20 5zM1972 6450l20-6-15 0-20 6z"/>
<path fill="#f6f313" d="M1952 6461l20-11-15 0-20 9z"/>
<path fill="#f5eb18" d="M1932 6485l20-24-15-2-21 21z"/>
<path fill="#f7d826" d="M1912 6523l20-38-16-5-20 35z"/>
<path fill="#b7bd64" d="M1892 6711l20-188-16-8-20 158z"/>
<path fill="#f9fb0e" d="M1690 6522l20 0-15-2-21 1zM1670 6526l20-4-16-1-20 5zM1649 6532l21-6-16 0-20 5z"/>
<path fill="#f6f313" d="M1629 6543l20-11-15-1-20 10z"/>
<path fill="#f5eb18" d="M1609 6567l20-24-15-2-20 21z"/>
<path fill="#f7d826" d="M1589 6605l20-38-15-5-21 35z"/>
<path fill="#b7bd64" d="M1569 6792l20-187-16-8-20 157zM1448 6823l20 229-16-80-20-187z"/>
<path fill="#f7d826" d="M1428 6646l20 177-16-38-20-147z"/>
<path fill="#f5eb18" d="M1407 6618l21 28-16-8-20-25z"/>
<path fill="#f9fb0e" d="M1367 6603l20 1-15-2-20 1zM2633 6293l21-12-16 0-20 6z"/>
<path fill="#f6f313" d="M2613 6304l20-11-15-6-20 11z"/>
<path fill="#f5eb18" d="M2593 6329l20-25-15-6-20 24z"/>
<path fill="#f7d826" d="M2573 6367l20-38-15-7-21 38z"/>
<path fill="#aebe67" d="M2553 6560l20-193-16-7-20 188z"/>
<path fill="#f9fb0e" d="M2351 6364l20 1-15-6-21 0zM2331 6363l20 1-16-5-20 4zM2311 6374l20-11-16 0-20 6z"/>
<path fill="#f6f313" d="M2290 6386l21-12-16-5-20 11z"/>
<path fill="#f5eb18" d="M2270 6410l20-24-15-6-20 24z"/>
<path fill="#f7d826" d="M2250 6449l20-39-15-6-20 38z"/>
<path fill="#aebe67" d="M2230 6641l20-192-15-7-21 187z"/>
<path fill="#f9fb0e" d="M2028 6446l20 1-15-6-20-1zM2008 6445l20 1-15-6-21 4zM1988 6456l20-11-16-1-20 6z"/>
<path fill="#f6f313" d="M1968 6467l20-11-16-6-20 11z"/>
<path fill="#f5eb18" d="M1947 6492l21-25-16-6-20 24z"/>
<path fill="#f7d826" d="M1927 6530l20-38-15-7-20 38z"/>
<path fill="#aebe67" d="M1907 6723l20-193-15-7-20 188z"/>
<path fill="#f9fb0e" d="M1705 6527l20 2-15-7-20 0zM1685 6526l20 1-15-5-20 4zM1665 6538l20-12-15 0-21 6z"/>
<path fill="#f6f313" d="M1645 6549l20-11-16-6-20 11z"/>
<path fill="#f5eb18" d="M1625 6574l20-25-16-6-20 24z"/>
<path fill="#f7d826" d="M1604 6612l21-38-16-7-20 38z"/>
<path fill="#aebe67" d="M1584 6804l20-192-15-7-20 187z"/>
<path fill="#06a7c6" d="M1483 7073l21 238-16-60-20-199z"/>
<path fill="#aebe67" d="M1463 6835l20 238-15-21-20-229z"/>
<path fill="#f7d826" d="M1443 6653l20 182-15-12-20-177z"/>
<path fill="#f9fb0e" d="M1382 6609l21 1-16-6-20-1zM2649 6301l20-7-15-13-21 12z"/>
<path fill="#f6f313" d="M2629 6311l20-10-16-8-20 11z"/>
<path fill="#f5eb18" d="M2608 6335l21-24-16-7-20 25z"/>
<path fill="#f7d826" d="M2588 6373l20-38-15-6-20 38z"/>
<path fill="#b7bd64" d="M2568 6561l20-188-15-6-20 193z"/>
<path fill="#2c4ac7" d="M2508 7068l20-59-16 47-20 72z"/>
<path fill="#0268e1" d="M2487 7019l21 49-16 60-20-62z"/>
<path fill="#f9fb0e" d="M2366 6372l21 1-16-8-20-1zM2346 6376l20-4-15-8-20-1zM2326 6382l20-6-15-13-20 11z"/>
<path fill="#f6f313" d="M2306 6393l20-11-15-8-21 12z"/>
<path fill="#f5eb18" d="M2286 6417l20-24-16-7-20 24z"/>
<path fill="#f7d826" d="M2266 6455l20-38-16-7-20 39z"/>
<path fill="#b7bd64" d="M2245 6642l21-187-16-6-20 192z"/>
<path fill="#2c4ac7" d="M2185 7149l20-58-16 47-20 72z"/>
<path fill="#0268e1" d="M2165 7101l20 48-16 61-20-62z"/>
<path fill="#f9fb0e" d="M2044 6454l20 0-16-7-20-1zM2023 6458l21-4-16-8-20-1zM2003 6464l20-6-15-13-20 11z"/>
<path fill="#f6f313" d="M1983 6475l20-11-15-8-20 11z"/>
<path fill="#f5eb18" d="M1963 6499l20-24-15-8-21 25z"/>
<path fill="#f7d826" d="M1943 6536l20-37-16-7-20 38z"/>
<path fill="#b7bd64" d="M1923 6724l20-188-16-6-20 193z"/>
<path fill="#2c4ac7" d="M1862 7231l20-59-15 47-20 72z"/>
<path fill="#0268e1" d="M1842 7183l20 48-15 60-21-62z"/>
<path fill="#f9fb0e" d="M1721 6535l20 1-16-7-20-2zM1701 6539l20-4-16-8-20-1zM1680 6545l21-6-16-13-20 12z"/>
<path fill="#f6f313" d="M1660 6556l20-11-15-7-20 11z"/>
<path fill="#f5eb18" d="M1640 6580l20-24-15-7-20 25z"/>
<path fill="#f7d826" d="M1620 6618l20-38-15-6-21 38z"/>
<path fill="#b7bd64" d="M1600 6806l20-188-16-6-20 192z"/>
<path fill="#2c4ac7" d="M1539 7313l20-59-15 47-20 72z"/>
<path fill="#0268e1" d="M1519 7264l20 49-15 60-20-62z"/>
<path fill="#f9fb0e" d="M1398 6617l20 0-15-7-21-1z"/>
<path fill="#f6f313" d="M2664 6313l20-6-15-13-20 7zM2644 6322l20-9-15-12-20 10z"/>
<path fill="#f5eb18" d="M2624 6344l20-22-15-11-21 24z"/>
<path fill="#f7d826" d="M2604 6379l20-35-16-9-20 38z"/>
<path fill="#07a9c2" d="M2543 6812l20-79-15 67-20 209z"/>
<path fill="#06a7c6" d="M2523 6831l20-19-15 197-20 59z"/>
<path fill="#07a9c2" d="M2503 6822l20 9-15 237-21-49z"/>
<path fill="#f6f313" d="M2402 6384l20 11-15-9-20-13zM2382 6384l20 0-15-11-21-1zM2362 6389l20-5-16-12-20 4zM2342 6394l20-5-16-13-20 6zM2321 6404l21-10-16-12-20 11z"/>
<path fill="#f5eb18" d="M2301 6425l20-21-15-11-20 24z"/>
<path fill="#f7d826" d="M2281 6460l20-35-15-8-20 38z"/>
<path fill="#07a9c2" d="M2220 6893l21-78-16 67-20 209z"/>
<path fill="#06a7c6" d="M2200 6913l20-20-15 198-20 58z"/>
<path fill="#07a9c2" d="M2180 6904l20 9-15 236-20-48z"/>
<path fill="#f6f313" d="M2079 6465l20 11-15-8-20-14zM2059 6466l20-1-15-11-20 0zM2039 6471l20-5-15-12-21 4zM2019 6476l20-5-16-13-20 6zM1999 6486l20-10-16-12-20 11z"/>
<path fill="#f5eb18" d="M1978 6507l21-21-16-11-20 24z"/>
<path fill="#f7d826" d="M1958 6542l20-35-15-8-20 37z"/>
<path fill="#07a9c2" d="M1898 6975l20-78-16 66-20 209z"/>
<path fill="#06a7c6" d="M1877 6994l21-19-16 197-20 59z"/>
<path fill="#07a9c2" d="M1857 6985l20 9-15 237-20-48z"/>
<path fill="#f6f313" d="M1756 6547l21 11-16-8-20-14zM1736 6547l20 0-15-11-20-1zM1716 6552l20-5-15-12-20 4zM1696 6558l20-6-15-13-21 6zM1676 6567l20-9-16-13-20 11z"/>
<path fill="#f5eb18" d="M1656 6588l20-21-16-11-20 24z"/>
<path fill="#f7d826" d="M1635 6623l21-35-16-8-20 38z"/>
<path fill="#07a9c2" d="M1575 7057l20-79-15 67-21 209z"/>
<path fill="#06a7c6" d="M1555 7076l20-19-16 197-20 59z"/>
<path fill="#07a9c2" d="M1535 7067l20 9-16 237-20-49z"/>
<path fill="#f6f313" d="M1413 6629l21-1-16-11-20 0z"/>
<path fill="#f5eb18" d="M2680 6338l20-5-16-26-20 6zM2660 6345l20-7-16-25-20 9z"/>
<path fill="#f5e41d" d="M2639 6355l21-10-16-23-20 22z"/>
<path fill="#f5de21" d="M2619 6384l20-29-15-11-20 35z"/>
<path fill="#c8bc5d" d="M2579 6548l20-62-15 50-21 197z"/>
<path fill="#b7bd64" d="M2559 6584l20-36-16 185-20 79z"/>
<path fill="#aebe67" d="M2539 6595l20-11-16 228-20 19z"/>
<path fill="#f5eb18" d="M2418 6406l20 0-16-11-20-11zM2397 6410l21-4-16-22-20 0zM2377 6415l20-5-15-26-20 5zM2357 6420l20-5-15-26-20 5zM2337 6427l20-7-15-26-21 10z"/>
<path fill="#f5e41d" d="M2317 6437l20-10-16-23-20 21z"/>
<path fill="#f5de21" d="M2296 6465l21-28-16-12-20 35z"/>
<path fill="#c8bc5d" d="M2256 6629l20-61-15 50-20 197z"/>
<path fill="#b7bd64" d="M2236 6666l20-37-15 186-21 78z"/>
<path fill="#aebe67" d="M2216 6676l20-10-16 227-20 20z"/>
<path fill="#f5eb18" d="M2095 6488l20 0-16-12-20-11zM2075 6491l20-3-16-23-20 1zM2054 6497l21-6-16-25-20 5zM2034 6502l20-5-15-26-20 5zM2014 6508l20-6-15-26-20 10z"/>
<path fill="#f5e41d" d="M1994 6519l20-11-15-22-21 21z"/>
<path fill="#f5de21" d="M1974 6547l20-28-16-12-20 35z"/>
<path fill="#c8bc5d" d="M1933 6711l20-62-15 50-20 198z"/>
<path fill="#b7bd64" d="M1913 6748l20-37-15 186-20 78z"/>
<path fill="#aebe67" d="M1893 6758l20-10-15 227-21 19z"/>
<path fill="#f5eb18" d="M1772 6569l20 1-15-12-21-11zM1752 6573l20-4-16-22-20 0zM1732 6578l20-5-16-26-20 5zM1711 6583l21-5-16-26-20 6zM1691 6590l20-7-15-25-20 9z"/>
<path fill="#f5e41d" d="M1671 6600l20-10-15-23-20 21z"/>
<path fill="#f5de21" d="M1651 6628l20-28-15-12-21 35z"/>
<path fill="#c8bc5d" d="M1611 6792l20-61-16 50-20 197z"/>
<path fill="#b7bd64" d="M1590 6829l21-37-16 186-20 79z"/>
<path fill="#aebe67" d="M1570 6840l20-11-15 228-20 19z"/>
<path fill="#f5eb18" d="M1449 6651l20 0-15-12-20-11zM1429 6655l20-4-15-23-21 1z"/>
<path fill="#f7d826" d="M2695 6378l20-5-15-40-20 5zM2675 6382l20-4-15-40-20 7z"/>
<path fill="#f5de21" d="M2655 6385l20-3-15-37-21 10zM2635 6390l20-5-16-30-20 29z"/>
<path fill="#f7d826" d="M2594 6402l21-7-16 91-20 62zM2574 6408l20-6-15 146-20 36z"/>
<path fill="#f5de21" d="M2453 6436l20-6-15-6-20-18z"/>
<path fill="#f7d826" d="M2433 6443l20-7-15-30-20 0zM2413 6449l20-6-15-37-21 4zM2393 6455l20-6-16-39-20 5zM2372 6459l21-4-16-40-20 5zM2352 6463l20-4-15-39-20 7z"/>
<path fill="#f5de21" d="M2332 6467l20-4-15-36-20 10zM2312 6471l20-4-15-30-21 28z"/>
<path fill="#f7d826" d="M2272 6484l20-7-16 91-20 61zM2251 6490l21-6-16 145-20 37z"/>
<path fill="#f5de21" d="M2130 6518l21-6-16-6-20-18z"/>
<path fill="#f7d826" d="M2110 6524l20-6-15-30-20 0zM2090 6531l20-7-15-36-20 3zM2070 6536l20-5-15-40-21 6zM2050 6541l20-5-16-39-20 5zM2029 6545l21-4-16-39-20 6z"/>
<path fill="#f5de21" d="M2009 6548l20-3-15-37-20 11zM1989 6553l20-5-15-29-20 28z"/>
<path fill="#f7d826" d="M1949 6565l20-6-16 90-20 62zM1929 6572l20-7-16 146-20 37z"/>
<path fill="#f5de21" d="M1808 6599l20-5-16-6-20-18z"/>
<path fill="#f7d826" d="M1787 6606l21-7-16-29-20-1zM1767 6612l20-6-15-37-20 4zM1747 6618l20-6-15-39-20 5zM1727 6623l20-5-15-40-21 5zM1707 6626l20-3-16-40-20 7z"/>
<path fill="#f5de21" d="M1687 6630l20-4-16-36-20 10zM1666 6634l21-4-16-30-20 28z"/>
<path fill="#f7d826" d="M1626 6647l20-7-15 91-20 61zM1606 6653l20-6-15 145-21 37z"/>
<path fill="#f5de21" d="M1485 6681l20-6-16-6-20-18z"/>
<path fill="#f7d826" d="M1465 6688l20-7-16-30-20 0zM1444 6694l21-6-16-37-20 4z"/>
<path fill="#b7bd64" d="M2711 6567l20 0-16-194-20 5z"/>
<path fill="#c8bc5d" d="M2691 6541l20 26-16-189-20 4z"/>
<path fill="#f1b94a" d="M2670 6489l21 52-16-159-20 3z"/>
<path fill="#f5de21" d="M2489 6438l20-29-15 17-21 4z"/>
<path fill="#f1b94a" d="M2469 6540l20-102-16-8-20 6z"/>
<path fill="#c8bc5d" d="M2448 6602l21-62-16-104-20 7z"/>
<path fill="#b7bd64" d="M2428 6638l20-36-15-159-20 6z"/>
<path fill="#aebe67" d="M2408 6649l20-11-15-189-20 6z"/>
<path fill="#b7bd64" d="M2388 6649l20 0-15-194-21 4z"/>
<path fill="#c8bc5d" d="M2368 6622l20 27-16-190-20 4z"/>
<path fill="#f1b94a" d="M2348 6571l20 51-16-159-20 4z"/>
<path fill="#f5de21" d="M2166 6519l20-28-15 17-20 4z"/>
<path fill="#f1b94a" d="M2146 6622l20-103-15-7-21 6z"/>
<path fill="#c8bc5d" d="M2126 6683l20-61-16-104-20 6z"/>
<path fill="#b7bd64" d="M2105 6720l21-37-16-159-20 7z"/>
<path fill="#aebe67" d="M2085 6730l20-10-15-189-20 5z"/>
<path fill="#b7bd64" d="M2065 6730l20 0-15-194-20 5z"/>
<path fill="#c8bc5d" d="M2045 6704l20 26-15-189-21 4z"/>
<path fill="#f1b94a" d="M2025 6652l20 52-16-159-20 3z"/>
<path fill="#f5de21" d="M1843 6601l20-28-15 16-20 5z"/>
<path fill="#f1b94a" d="M1823 6703l20-102-15-7-20 5z"/>
<path fill="#c8bc5d" d="M1803 6765l20-62-15-104-21 7z"/>
<path fill="#b7bd64" d="M1783 6802l20-37-16-159-20 6z"/>
<path fill="#aebe67" d="M1763 6812l20-10-16-190-20 6z"/>
<path fill="#b7bd64" d="M1742 6812l21 0-16-194-20 5z"/>
<path fill="#c8bc5d" d="M1722 6785l20 27-15-189-20 3z"/>
<path fill="#f1b94a" d="M1702 6734l20 51-15-159-20 4z"/>
<path fill="#f5de21" d="M1520 6682l21-28-16 17-20 4z"/>
<path fill="#f1b94a" d="M1500 6785l20-103-15-7-20 6z"/>
<path fill="#c8bc5d" d="M1480 6847l20-62-15-104-20 7z"/>
<path fill="#b7bd64" d="M1460 6883l20-36-15-159-21 6z"/>
<path fill="#f5eb18" d="M2524 6411l21-21-16 9-20 10z"/>
<path fill="#f7d826" d="M2504 6446l20-35-15-2-20 29z"/>
<path fill="#c8bc5d" d="M2484 6603l20-157-15-8-20 102z"/>
<path fill="#f5eb18" d="M2202 6492l20-21-16 10-20 10z"/>
<path fill="#f7d826" d="M2182 6527l20-35-16-1-20 28z"/>
<path fill="#c8bc5d" d="M2161 6685l21-158-16-8-20 103z"/>
<path fill="#f5eb18" d="M1879 6574l20-21-15 9-21 11z"/>
<path fill="#f7d826" d="M1859 6609l20-35-16-1-20 28z"/>
<path fill="#c8bc5d" d="M1839 6766l20-157-16-8-20 102z"/>
<path fill="#f5eb18" d="M1556 6656l20-21-15 9-20 10z"/>
<path fill="#f7d826" d="M1536 6691l20-35-15-2-21 28z"/>
<path fill="#c8bc5d" d="M1516 6848l20-157-16-9-20 103z"/>
<path fill="#2eb7a4" d="M1496 7045l20-197-16-63-20 62z"/>
<path fill="#07a9c2" d="M1475 7124l21-79-16-198-20 36z"/>
<path fill="#f9fb0e" d="M2621 6371l20 0-16-2-20 1zM2600 6375l21-4-16-1-20 5zM2580 6381l20-6-15 0-20 5z"/>
<path fill="#f6f313" d="M2560 6392l20-11-15-1-20 10z"/>
<path fill="#f5eb18" d="M2540 6416l20-24-15-2-21 21z"/>
<path fill="#f7d826" d="M2520 6454l20-38-16-5-20 35z"/>
<path fill="#b7bd64" d="M2500 6641l20-187-16-8-20 157z"/>
<path fill="#f9fb0e" d="M2298 6452l20 1-15-2-21 1zM2278 6457l20-5-16 0-20 4zM2258 6463l20-6-16-1-20 6z"/>
<path fill="#f6f313" d="M2237 6473l21-10-16-1-20 9z"/>
<path fill="#f5eb18" d="M2217 6498l20-25-15-2-20 21z"/>
<path fill="#f7d826" d="M2197 6535l20-37-15-6-20 35z"/>
<path fill="#b7bd64" d="M2177 6723l20-188-15-8-21 158z"/>
<path fill="#f9fb0e" d="M1975 6534l20 1-15-2-20 0zM1955 6538l20-4-15-1-21 5zM1935 6544l20-6-16 0-20 5z"/>
<path fill="#f6f313" d="M1915 6555l20-11-16-1-20 10z"/>
<path fill="#f5eb18" d="M1894 6579l21-24-16-2-20 21z"/>
<path fill="#f7d826" d="M1874 6617l20-38-15-5-20 35z"/>
<path fill="#b7bd64" d="M1854 6805l20-188-15-8-20 157z"/>
<path fill="#f9fb0e" d="M1652 6616l20 0-15-2-20 1zM1632 6620l20-4-15-1-20 4zM1612 6626l20-6-15-1-21 6z"/>
<path fill="#f6f313" d="M1592 6637l20-11-16-1-20 10z"/>
<path fill="#f5eb18" d="M1572 6661l20-24-16-2-20 21z"/>
<path fill="#f7d826" d="M1551 6699l21-38-16-5-20 35z"/>
<path fill="#b7bd64" d="M1531 6886l20-187-15-8-20 157z"/>
<path fill="#07a9c2" d="M1511 7125l20-239-15-38-20 197z"/>
<path fill="#0268e1" d="M1491 7335l20-210-15-80-21 79z"/>
<path fill="#06a7c6" d="M2737 6840l20 238-15-60-20-199z"/>
<path fill="#f9fb0e" d="M2636 6376l20 2-15-7-20 0zM2616 6375l20 1-15-5-21 4zM2596 6387l20-12-16 0-20 6z"/>
<path fill="#f6f313" d="M2576 6398l20-11-16-6-20 11z"/>
<path fill="#f5eb18" d="M2555 6423l21-25-16-6-20 24z"/>
<path fill="#f7d826" d="M2535 6461l20-38-15-7-20 38z"/>
<path fill="#aebe67" d="M2515 6653l20-192-15-7-20 187z"/>
<path fill="#06a7c6" d="M2414 6922l20 238-15-60-20-199z"/>
<path fill="#f9fb0e" d="M2313 6458l21 1-16-6-20-1zM2293 6457l20 1-15-6-20 5zM2273 6468l20-11-15 0-20 6z"/>
<path fill="#f6f313" d="M2253 6480l20-12-15-5-21 10z"/>
<path fill="#f5eb18" d="M2233 6504l20-24-16-7-20 25z"/>
<path fill="#f7d826" d="M2212 6542l21-38-16-6-20 37z"/>
<path fill="#aebe67" d="M2192 6735l20-193-15-7-20 188z"/>
<path fill="#06a7c6" d="M2091 7004l21 238-16-60-20-199z"/>
<path fill="#f9fb0e" d="M1991 6540l20 1-16-6-20-1zM1970 6538l21 2-16-6-20 4zM1950 6550l20-12-15 0-20 6z"/>
<path fill="#f6f313" d="M1930 6561l20-11-15-6-20 11z"/>
<path fill="#f5eb18" d="M1910 6586l20-25-15-6-21 24z"/>
<path fill="#f7d826" d="M1890 6624l20-38-16-7-20 38z"/>
<path fill="#aebe67" d="M1869 6817l21-193-16-7-20 188z"/>
<path fill="#06a7c6" d="M1769 7085l20 238-16-60-20-199z"/>
<path fill="#f9fb0e" d="M1668 6621l20 1-16-6-20 0zM1648 6620l20 1-16-5-20 4zM1627 6631l21-11-16 0-20 6z"/>
<path fill="#f6f313" d="M1607 6643l20-12-15-5-20 11z"/>
<path fill="#f5eb18" d="M1587 6667l20-24-15-6-20 24z"/>
<path fill="#f7d826" d="M1567 6706l20-39-15-6-21 38z"/>
<path fill="#aebe67" d="M1547 6898l20-192-16-7-20 187z"/>
<path fill="#06a7c6" d="M1527 7146l20-248-16-12-20 239z"/>
<path fill="#2c4ac7" d="M1506 7395l21-249-16-21-20 210z"/>
<path fill="#0268e1" d="M2773 7032l20 48-16 60-20-62z"/>
<path fill="#07a9c2" d="M2752 6833l21 199-16 46-20-238z"/>
<path fill="#f9fb0e" d="M2652 6384l20 1-16-7-20-2zM2631 6388l21-4-16-8-20-1zM2611 6394l20-6-15-13-20 12z"/>
<path fill="#f6f313" d="M2591 6405l20-11-15-7-20 11z"/>
<path fill="#f5eb18" d="M2571 6429l20-24-15-7-21 25z"/>
<path fill="#f7d826" d="M2551 6467l20-38-16-6-20 38z"/>
<path fill="#b7bd64" d="M2531 6655l20-188-16-6-20 192z"/>
<path fill="#0268e1" d="M2450 7113l20 49-15 60-21-62z"/>
<path fill="#07a9c2" d="M2430 6914l20 199-16 47-20-238z"/>
<path fill="#f9fb0e" d="M2329 6466l20 0-15-7-21-1zM2309 6470l20-4-16-8-20-1zM2288 6476l21-6-16-13-20 11z"/>
<path fill="#f6f313" d="M2268 6487l20-11-15-8-20 12z"/>
<path fill="#f5eb18" d="M2248 6511l20-24-15-7-20 24z"/>
<path fill="#f7d826" d="M2228 6549l20-38-15-7-21 38z"/>
<path fill="#b7bd64" d="M2208 6736l20-187-16-7-20 193z"/>
<path fill="#2c4ac7" d="M2147 7243l20-58-15 46-20 73z"/>
<path fill="#0268e1" d="M2127 7195l20 48-15 61-20-62z"/>
<path fill="#07a9c2" d="M2107 6996l20 199-15 47-21-238z"/>
<path fill="#f9fb0e" d="M2006 6547l20 1-15-7-20-1zM1986 6551l20-4-15-7-21-2zM1966 6558l20-7-16-13-20 12z"/>
<path fill="#f6f313" d="M1945 6568l21-10-16-8-20 11z"/>
<path fill="#f5eb18" d="M1925 6592l20-24-15-7-20 25z"/>
<path fill="#f7d826" d="M1905 6630l20-38-15-6-20 38z"/>
<path fill="#b7bd64" d="M1885 6818l20-188-15-6-21 193z"/>
<path fill="#2c4ac7" d="M1824 7325l21-59-16 47-20 72z"/>
<path fill="#0268e1" d="M1804 7276l20 49-15 60-20-62z"/>
<path fill="#07a9c2" d="M1784 7077l20 199-15 47-20-238z"/>
<path fill="#f9fb0e" d="M1683 6629l20 1-15-8-20-1zM1663 6633l20-4-15-8-20-1zM1643 6639l20-6-15-13-21 11z"/>
<path fill="#f6f313" d="M1623 6650l20-11-16-8-20 12z"/>
<path fill="#f5eb18" d="M1603 6674l20-24-16-7-20 24z"/>
<path fill="#f7d826" d="M1582 6712l21-38-16-7-20 39z"/>
<path fill="#b7bd64" d="M1562 6899l20-187-15-6-20 192z"/>
<path fill="#07a9c2" d="M1542 7139l20-240-15-1-20 248z"/>
<path fill="#0268e1" d="M1522 7348l20-209-15 7-21 249z"/>
<path fill="#07a9c2" d="M2788 6834l20 9-15 237-20-48z"/>
<path fill="#2eb7a4" d="M2768 6766l20 68-15 198-21-199z"/>
<path fill="#f6f313" d="M2667 6396l20 0-15-11-20-1zM2647 6401l20-5-15-12-21 4zM2627 6407l20-6-16-13-20 6zM2607 6416l20-9-16-13-20 11z"/>
<path fill="#f5eb18" d="M2586 6437l21-21-16-11-20 24z"/>
<path fill="#f7d826" d="M2566 6472l20-35-15-8-20 38z"/>
<path fill="#07a9c2" d="M2506 6906l20-79-16 67-20 209z"/>
<path fill="#06a7c6" d="M2486 6925l20-19-16 197-20 59z"/>
<path fill="#07a9c2" d="M2465 6916l21 9-16 237-20-49z"/>
<path fill="#2eb7a4" d="M2445 6848l20 68-15 197-20-199z"/>
<path fill="#f6f313" d="M2344 6478l20-1-15-11-20 0zM2324 6483l20-5-15-12-20 4zM2304 6488l20-5-15-13-21 6zM2284 6498l20-10-16-12-20 11z"/>
<path fill="#f5eb18" d="M2264 6519l20-21-16-11-20 24z"/>
<path fill="#f7d826" d="M2243 6554l21-35-16-8-20 38z"/>
<path fill="#07a9c2" d="M2183 6987l20-78-15 66-21 210z"/>
<path fill="#06a7c6" d="M2163 7007l20-20-16 198-20 58z"/>
<path fill="#07a9c2" d="M2143 6997l20 10-16 236-20-48z"/>
<path fill="#2eb7a4" d="M2122 6929l21 68-16 198-20-199z"/>
<path fill="#f6f313" d="M2021 6560l21-1-16-11-20-1zM2001 6564l20-4-15-13-20 4zM1981 6570l20-6-15-13-20 7zM1961 6579l20-9-15-12-21 10z"/>
<path fill="#f5eb18" d="M1941 6601l20-22-16-11-20 24z"/>
<path fill="#f7d826" d="M1921 6636l20-35-16-9-20 38z"/>
<path fill="#07a9c2" d="M1860 7069l20-79-15 67-20 209z"/>
<path fill="#06a7c6" d="M1840 7088l20-19-15 197-21 59z"/>
<path fill="#07a9c2" d="M1820 7079l20 9-16 237-20-49z"/>
<path fill="#2eb7a4" d="M1800 7011l20 68-16 197-20-199z"/>
<path fill="#f6f313" d="M1699 6641l20 0-16-11-20-1zM1679 6646l20-5-16-12-20 4zM1658 6651l21-5-16-13-20 6zM1638 6661l20-10-15-12-20 11z"/>
<path fill="#f5eb18" d="M1618 6682l20-21-15-11-20 24z"/>
<path fill="#f7d826" d="M1598 6717l20-35-15-8-21 38z"/>
<path fill="#c8bc5d" d="M1578 6875l20-158-16-5-20 187z"/>
<path fill="#07a9c2" d="M1537 7150l20-78-15 67-20 209z"/>
<path fill="#b7bd64" d="M2804 6607l20 0-16 236-20-9z"/>
<path fill="#c8bc5d" d="M2783 6580l21 27-16 227-20-68z"/>
<path fill="#f5eb18" d="M2703 6418l20 1-16-12-20-11zM2683 6422l20-4-16-22-20 0zM2662 6427l21-5-16-26-20 5zM2642 6432l20-5-15-26-20 6zM2622 6439l20-7-15-25-20 9z"/>
<path fill="#f5e41d" d="M2602 6449l20-10-15-23-21 21z"/>
<path fill="#f5de21" d="M2582 6477l20-28-16-12-20 35z"/>
<path fill="#c8bc5d" d="M2541 6641l21-61-16 50-20 197z"/>
<path fill="#b7bd64" d="M2521 6678l20-37-15 186-20 79z"/>
<path fill="#aebe67" d="M2501 6689l20-11-15 228-20 19z"/>
<path fill="#b7bd64" d="M2481 6688l20 1-15 236-21-9z"/>
<path fill="#c8bc5d" d="M2461 6662l20 26-16 228-20-68z"/>
<path fill="#f5eb18" d="M2380 6500l20 0-15-12-21-11zM2360 6504l20-4-16-23-20 1zM2340 6509l20-5-16-26-20 5zM2319 6514l21-5-16-26-20 5zM2299 6520l20-6-15-26-20 10z"/>
<path fill="#f5e41d" d="M2279 6531l20-11-15-22-20 21z"/>
<path fill="#f5de21" d="M2259 6559l20-28-15-12-21 35z"/>
<path fill="#c8bc5d" d="M2219 6723l20-62-16 50-20 198z"/>
<path fill="#b7bd64" d="M2198 6760l21-37-16 186-20 78z"/>
<path fill="#aebe67" d="M2178 6770l20-10-15 227-20 20z"/>
<path fill="#b7bd64" d="M2158 6770l20 0-15 237-20-10z"/>
<path fill="#c8bc5d" d="M2138 6743l20 27-15 227-21-68z"/>
<path fill="#f5eb18" d="M2057 6582l20 0-15-12-20-11zM2037 6585l20-3-15-23-21 1zM2017 6590l20-5-16-25-20 4zM1997 6595l20-5-16-26-20 6zM1976 6602l21-7-16-25-20 9z"/>
<path fill="#f5e41d" d="M1956 6612l20-10-15-23-20 22z"/>
<path fill="#f5de21" d="M1936 6641l20-29-15-11-20 35z"/>
<path fill="#c8bc5d" d="M1896 6805l20-62-16 50-20 197z"/>
<path fill="#b7bd64" d="M1876 6841l20-36-16 185-20 79z"/>
<path fill="#aebe67" d="M1855 6852l21-11-16 228-20 19z"/>
<path fill="#b7bd64" d="M1835 6852l20 0-15 236-20-9z"/>
<path fill="#c8bc5d" d="M1815 6825l20 27-15 227-20-68z"/>
<path fill="#f5eb18" d="M1734 6663l21 0-16-11-20-11zM1714 6667l20-4-15-22-20 0zM1694 6672l20-5-15-26-20 5zM1674 6677l20-5-15-26-21 5zM1654 6684l20-7-16-26-20 10z"/>
<path fill="#f5e41d" d="M1633 6694l21-10-16-23-20 21z"/>
<path fill="#f5de21" d="M1613 6722l20-28-15-12-20 35z"/>
<path fill="#c8bc5d" d="M1573 6886l20-61-15 50-21 197z"/>
<path fill="#b7bd64" d="M1553 6923l20-37-16 186-20 78z"/>
<path fill="#f7d826" d="M2819 6431l20-5-15 181-20 0zM2799 6435l20-4-15 176-21-27z"/>
<path fill="#f5de21" d="M2738 6448l21-5-16-6-20-18z"/>
<path fill="#f7d826" d="M2718 6455l20-7-15-29-20-1zM2698 6461l20-6-15-37-20 4zM2678 6467l20-6-15-39-21 5zM2658 6472l20-5-16-40-20 5zM2638 6475l20-3-16-40-20 7z"/>
<path fill="#f5de21" d="M2617 6479l21-4-16-36-20 10zM2597 6483l20-4-15-30-20 28zM2577 6489l20-6-15-6-20 103z"/>
<path fill="#f7d826" d="M2557 6496l20-7-15 91-21 61zM2537 6502l20-6-16 145-20 37zM2516 6508l21-6-16 176-20 11zM2496 6512l20-4-15 181-20-1zM2476 6516l20-4-15 176-20-26z"/>
<path fill="#f5de21" d="M2416 6530l20-6-16-6-20-18z"/>
<path fill="#f7d826" d="M2395 6537l21-7-16-30-20 0zM2375 6543l20-6-15-37-20 4zM2355 6548l20-5-15-39-20 5zM2335 6553l20-5-15-39-21 5zM2315 6557l20-4-16-39-20 6z"/>
<path fill="#f5de21" d="M2295 6561l20-4-16-37-20 11zM2274 6565l21-4-16-30-20 28zM2254 6571l20-6-15-6-20 102z"/>
<path fill="#f7d826" d="M2234 6577l20-6-15 90-20 62zM2214 6584l20-7-15 146-21 37zM2194 6589l20-5-16 176-20 10zM2174 6594l20-5-16 181-20 0zM2153 6598l21-4-16 176-20-27z"/>
<path fill="#f5de21" d="M2093 6612l20-6-15-6-21-18z"/>
<path fill="#f7d826" d="M2073 6618l20-6-16-30-20 0zM2052 6625l21-7-16-36-20 3zM2032 6630l20-5-15-40-20 5zM2012 6635l20-5-15-40-20 5zM1992 6639l20-4-15-40-21 7z"/>
<path fill="#f5de21" d="M1972 6642l20-3-16-37-20 10zM1952 6647l20-5-16-30-20 29zM1931 6652l21-5-16-6-20 102z"/>
<path fill="#f7d826" d="M1911 6659l20-7-15 91-20 62zM1891 6665l20-6-15 146-20 36zM1871 6671l20-6-15 176-21 11zM1851 6676l20-5-16 181-20 0zM1831 6679l20-3-16 176-20-27z"/>
<path fill="#f5de21" d="M1770 6693l20-6-15-6-20-18z"/>
<path fill="#f7d826" d="M1750 6700l20-7-15-30-21 0zM1730 6706l20-6-16-37-20 4zM1709 6712l21-6-16-39-20 5zM1689 6716l20-4-15-40-20 5zM1669 6720l20-4-15-39-20 7z"/>
<path fill="#f5de21" d="M1649 6724l20-4-15-36-21 10zM1629 6728l20-4-16-30-20 28zM1609 6734l20-6-16-6-20 103z"/>
<path fill="#f7d826" d="M1588 6741l21-7-16 91-20 61zM1568 6747l20-6-15 145-20 37z"/>
<path fill="#f5eb18" d="M2835 6405l20-5-16 26-20 5z"/>
<path fill="#f5de21" d="M2774 6450l20-28-15 16-20 5z"/>
<path fill="#f1b94a" d="M2754 6552l20-102-15-7-21 5z"/>
<path fill="#c8bc5d" d="M2734 6614l20-62-16-104-20 7z"/>
<path fill="#b7bd64" d="M2714 6651l20-37-16-159-20 6z"/>
<path fill="#aebe67" d="M2693 6661l21-10-16-190-20 6z"/>
<path fill="#b7bd64" d="M2673 6661l20 0-15-194-20 5z"/>
<path fill="#c8bc5d" d="M2653 6634l20 27-15-189-20 3z"/>
<path fill="#f1b94a" d="M2633 6583l20 51-15-159-21 4z"/>
<path fill="#f5e41d" d="M2592 6473l21 18-16-8-20 6z"/>
<path fill="#f5eb18" d="M2572 6473l20 0-15 16-20 7zM2552 6476l20-3-15 23-20 6zM2532 6481l20-5-15 26-21 6zM2512 6486l20-5-16 27-20 4z"/>
<path fill="#f5de21" d="M2451 6531l20-28-15 17-20 4z"/>
<path fill="#f1b94a" d="M2431 6634l20-103-15-7-20 6z"/>
<path fill="#c8bc5d" d="M2411 6696l20-62-15-104-21 7z"/>
<path fill="#b7bd64" d="M2391 6732l20-36-16-159-20 6z"/>
<path fill="#aebe67" d="M2371 6743l20-11-16-189-20 5z"/>
<path fill="#b7bd64" d="M2350 6742l21 1-16-195-20 5z"/>
<path fill="#c8bc5d" d="M2330 6716l20 26-15-189-20 4z"/>
<path fill="#f1b94a" d="M2310 6664l20 52-15-159-20 4z"/>
<path fill="#f5e41d" d="M2270 6554l20 18-16-7-20 6z"/>
<path fill="#f5eb18" d="M2250 6554l20 0-16 17-20 6zM2229 6558l21-4-16 23-20 7zM2209 6563l20-5-15 26-20 5zM2189 6568l20-5-15 26-20 5z"/>
<path fill="#f5de21" d="M2128 6613l21-28-16 16-20 5z"/>
<path fill="#f1b94a" d="M2108 6715l20-102-15-7-20 6z"/>
<path fill="#c8bc5d" d="M2088 6777l20-62-15-103-20 6z"/>
<path fill="#b7bd64" d="M2068 6814l20-37-15-159-21 7z"/>
<path fill="#aebe67" d="M2048 6824l20-10-16-189-20 5z"/>
<path fill="#b7bd64" d="M2028 6824l20 0-16-194-20 5z"/>
<path fill="#c8bc5d" d="M2007 6798l21 26-16-189-20 4z"/>
<path fill="#f1b94a" d="M1987 6746l20 52-15-159-20 3z"/>
<path fill="#f5e41d" d="M1947 6636l20 18-15-7-21 5z"/>
<path fill="#f5eb18" d="M1927 6636l20 0-16 16-20 7zM1907 6639l20-3-16 23-20 6zM1886 6644l21-5-16 26-20 6zM1866 6650l20-6-15 27-20 5z"/>
<path fill="#f5de21" d="M1806 6695l20-29-16 17-20 4z"/>
<path fill="#f1b94a" d="M1785 6797l21-102-16-8-20 6z"/>
<path fill="#c8bc5d" d="M1765 6859l20-62-15-104-20 7z"/>
<path fill="#b7bd64" d="M1745 6895l20-36-15-159-20 6z"/>
<path fill="#aebe67" d="M1725 6906l20-11-15-189-21 6z"/>
<path fill="#b7bd64" d="M1705 6906l20 0-16-194-20 4z"/>
<path fill="#c8bc5d" d="M1685 6879l20 27-16-190-20 4z"/>
<path fill="#f1b94a" d="M1664 6828l21 51-16-159-20 4z"/>
<path fill="#f5e41d" d="M1624 6717l20 18-15-7-20 6z"/>
<path fill="#f5eb18" d="M1604 6717l20 0-15 17-21 7zM1584 6721l20-4-16 24-20 6zM2810 6423l20-21-16 9-20 11z"/>
<path fill="#f7d826" d="M2790 6458l20-35-16-1-20 28z"/>
<path fill="#c8bc5d" d="M2769 6615l21-157-16-8-20 102z"/>
<path fill="#2eb7a4" d="M2749 6813l20-198-15-63-20 62z"/>
<path fill="#07a9c2" d="M2729 6891l20-78-15-199-20 37z"/>
<path fill="#06a7c6" d="M2709 6911l20-20-15-240-21 10z"/>
<path fill="#07a9c2" d="M2689 6902l20 9-16-250-20 0z"/>
<path fill="#2eb7a4" d="M2668 6833l21 69-16-241-20-27z"/>
<path fill="#f7d826" d="M2628 6499l20 147-15-63-20-92z"/>
<path fill="#f5eb18" d="M2608 6474l20 25-15-8-21-18z"/>
<path fill="#f6f313" d="M2588 6463l20 11-16-1-20 0zM2568 6464l20-1-16 10-20 3zM2547 6468l21-4-16 12-20 5z"/>
<path fill="#f5eb18" d="M2487 6505l20-21-15 9-21 10z"/>
<path fill="#f7d826" d="M2467 6540l20-35-16-2-20 28z"/>
<path fill="#c8bc5d" d="M2447 6697l20-157-16-9-20 103z"/>
<path fill="#2eb7a4" d="M2426 6894l21-197-16-63-20 62z"/>
<path fill="#07a9c2" d="M2406 6973l20-79-15-198-20 36z"/>
<path fill="#06a7c6" d="M2386 6992l20-19-15-241-20 11z"/>
<path fill="#07a9c2" d="M2366 6983l20 9-15-249-21-1z"/>
<path fill="#2eb7a4" d="M2346 6915l20 68-16-241-20-26z"/>
<path fill="#f7d826" d="M2305 6580l21 148-16-64-20-92z"/>
<path fill="#f5eb18" d="M2285 6556l20 24-15-8-20-18z"/>
<path fill="#f6f313" d="M2265 6545l20 11-15-2-20 0zM2245 6545l20 0-15 9-21 4zM2225 6550l20-5-16 13-20 5z"/>
<path fill="#f5eb18" d="M2164 6586l20-21-15 10-20 10z"/>
<path fill="#f7d826" d="M2144 6621l20-35-15-1-21 28z"/>
<path fill="#c8bc5d" d="M2124 6779l20-158-16-8-20 102z"/>
<path fill="#2eb7a4" d="M2104 6976l20-197-16-64-20 62z"/>
<path fill="#07a9c2" d="M2083 7055l21-79-16-199-20 37z"/>
<path fill="#06a7c6" d="M2063 7074l20-19-15-241-20 10z"/>
<path fill="#07a9c2" d="M2043 7065l20 9-15-250-20 0z"/>
<path fill="#2eb7a4" d="M2023 6996l20 69-15-241-21-26z"/>
<path fill="#f7d826" d="M1983 6662l20 147-16-63-20-92z"/>
<path fill="#f5eb18" d="M1962 6637l21 25-16-8-20-18z"/>
<path fill="#f6f313" d="M1942 6626l20 11-15-1-20 0zM1922 6627l20-1-15 10-20 3zM1902 6632l20-5-15 12-21 5z"/>
<path fill="#f5eb18" d="M1841 6668l20-21-15 9-20 10z"/>
<path fill="#f7d826" d="M1821 6703l20-35-15-2-20 29z"/>
<path fill="#c8bc5d" d="M1801 6860l20-157-15-8-21 102z"/>
<path fill="#2eb7a4" d="M1781 7058l20-198-16-63-20 62z"/>
<path fill="#07a9c2" d="M1761 7136l20-78-16-199-20 36z"/>
<path fill="#06a7c6" d="M1740 7156l21-20-16-241-20 11z"/>
<path fill="#07a9c2" d="M1720 7146l20 10-15-250-20 0z"/>
<path fill="#2eb7a4" d="M1700 7078l20 68-15-240-20-27z"/>
<path fill="#f7d826" d="M1660 6744l20 147-16-63-20-93z"/>
<path fill="#f5eb18" d="M1640 6719l20 25-16-9-20-18z"/>
<path fill="#f6f313" d="M1619 6708l21 11-16-2-20 0zM1599 6709l20-1-15 9-20 4z"/>
<path fill="#f9fb0e" d="M2866 6393l20-6-16 0-20 5z"/>
<path fill="#f6f313" d="M2845 6404l21-11-16-1-20 10z"/>
<path fill="#f5eb18" d="M2825 6428l20-24-15-2-20 21z"/>
<path fill="#f7d826" d="M2805 6466l20-38-15-5-20 35z"/>
<path fill="#b7bd64" d="M2785 6654l20-188-15-8-21 157z"/>
<path fill="#07a9c2" d="M2765 6893l20-239-16-39-20 198z"/>
<path fill="#0268e1" d="M2744 7102l21-209-16-80-20 78z"/>
<path fill="#2c4ac7" d="M2724 7161l20-59-15-211-20 20z"/>
<path fill="#0268e1" d="M2704 7112l20 49-15-250-20-9z"/>
<path fill="#07a9c2" d="M2684 6913l20 199-15-210-21-69z"/>
<path fill="#b7bd64" d="M2664 6684l20 229-16-80-20-187z"/>
<path fill="#f7d826" d="M2644 6507l20 177-16-38-20-147z"/>
<path fill="#f5eb18" d="M2623 6479l21 28-16-8-20-25z"/>
<path fill="#f6f313" d="M2603 6465l20 14-15-5-20-11z"/>
<path fill="#f9fb0e" d="M2583 6465l20 0-15-2-20 1zM2563 6469l20-4-15-1-21 4zM2543 6475l20-6-16-1-20 6z"/>
<path fill="#f6f313" d="M2523 6486l20-11-16-1-20 10z"/>
<path fill="#f5eb18" d="M2502 6510l21-24-16-2-20 21z"/>
<path fill="#f7d826" d="M2482 6548l20-38-15-5-20 35z"/>
<path fill="#b7bd64" d="M2462 6735l20-187-15-8-20 157z"/>
<path fill="#07a9c2" d="M2442 6974l20-239-15-38-21 197z"/>
<path fill="#0268e1" d="M2422 7184l20-210-16-80-20 79z"/>
<path fill="#2c4ac7" d="M2402 7242l20-58-16-211-20 19z"/>
<path fill="#0268e1" d="M2381 7194l21 48-16-250-20-9z"/>
<path fill="#07a9c2" d="M2361 6995l20 199-15-211-20-68z"/>
<path fill="#b7bd64" d="M2341 6766l20 229-15-80-20-187z"/>
<path fill="#f7d826" d="M2321 6588l20 178-15-38-21-148z"/>
<path fill="#f5eb18" d="M2301 6561l20 27-16-8-20-24z"/>
<path fill="#f6f313" d="M2280 6547l21 14-16-5-20-11z"/>
<path fill="#f9fb0e" d="M2260 6546l20 1-15-2-20 0zM2240 6550l20-4-15-1-20 5zM2220 6556l20-6-15 0-21 6z"/>
<path fill="#f6f313" d="M2200 6567l20-11-16 0-20 9z"/>
<path fill="#f5eb18" d="M2180 6591l20-24-16-2-20 21z"/>
<path fill="#f7d826" d="M2159 6629l21-38-16-5-20 35z"/>
<path fill="#b7bd64" d="M2139 6817l20-188-15-8-20 158z"/>
<path fill="#07a9c2" d="M2119 7056l20-239-15-38-20 197z"/>
<path fill="#0268e1" d="M2099 7265l20-209-15-80-21 79z"/>
<path fill="#2c4ac7" d="M2079 7324l20-59-16-210-20 19z"/>
<path fill="#0268e1" d="M2059 7275l20 49-16-250-20-9z"/>
<path fill="#07a9c2" d="M2038 7076l21 199-16-210-20-69z"/>
<path fill="#b7bd64" d="M2018 6847l20 229-15-80-20-187z"/>
<path fill="#f7d826" d="M1998 6670l20 177-15-38-20-147z"/>
<path fill="#f5eb18" d="M1978 6642l20 28-15-8-21-25z"/>
<path fill="#f6f313" d="M1958 6628l20 14-16-5-20-11z"/>
<path fill="#f9fb0e" d="M1937 6628l21 0-16-2-20 1zM1917 6632l20-4-15-1-20 5zM1897 6638l20-6-15 0-20 5z"/>
<path fill="#f6f313" d="M1877 6649l20-11-15-1-21 10z"/>
<path fill="#f5eb18" d="M1857 6673l20-24-16-2-20 21z"/>
<path fill="#f7d826" d="M1837 6711l20-38-16-5-20 35z"/>
<path fill="#b7bd64" d="M1816 6898l21-187-16-8-20 157z"/>
<path fill="#07a9c2" d="M1796 7138l20-240-15-38-20 198z"/>
<path fill="#0268e1" d="M1776 7347l20-209-15-80-20 78z"/>
<path fill="#2c4ac7" d="M1756 7405l20-58-15-211-21 20z"/>
<path fill="#0268e1" d="M1736 7357l20 48-16-249-20-10z"/>
<path fill="#07a9c2" d="M1716 7158l20 199-16-211-20-68z"/>
<path fill="#b7bd64" d="M1695 6929l21 229-16-80-20-187z"/>
<path fill="#f7d826" d="M1675 6752l20 177-15-38-20-147z"/>
<path fill="#f5eb18" d="M1655 6724l20 28-15-8-20-25z"/>
<path fill="#f6f313" d="M1635 6710l20 14-15-5-21-11z"/>
<path fill="#f9fb0e" d="M1615 6709l20 1-16-2-20 1z"/></g>
</g>
<rect x="390.00" y="7.00" width="286.00" height="208.40" fill="#00ff00"/>
<path fill="#0000c8" d="M421.28 29.79H425.75V33.05H421.28ZM421.28 81.89H425.75V85.15H421.28ZM421.28 133.99H425.75V137.25H421.28ZM421.28 186.09H425.75V189.35H421.28ZM457.03 55.84H461.50V59.10H457.03ZM457.03 107.94H461.50V111.20H457.03ZM457.03 160.04H461.50V163.30H457.03ZM457.03 212.14H461.50V215.40H457.03ZM492.78 29.79H497.25V33.05H492.78ZM492.78 81.89H497.25V85.15H492.78ZM492.78 133.99H497.25V137.25H492.78ZM492.78 186.09H497.25V189.35H492.78ZM528.53 55.84H533.00V59.10H528.53ZM528.53 107.94H533.00V111.20H528.53ZM528.53 160.04H533.00V163.30H528.53ZM528.53 212.14H533.00V215.40H528.53ZM564.28 29.79H568.75V33.05H564.28ZM564.28 81.89H568.75V85.15H564.28ZM564.28 133.99H568.75V137.25H564.28ZM564.28 186.09H568.75V189.35H564.28ZM600.03 55.84H604.50V59.10H600.03ZM600.03 107.94H604.50V111.20H600.03ZM600.03 160.04H604.50V163.30H600.03ZM600.03 212.14H604.50V215.40H600.03ZM635.78 29.79H640.25V33.05H635.78ZM635.78 81.89H640.25V85.15H635.78ZM635.78 133.99H640.25V137.25H635.78ZM635.78 186.09H640.25V189.35H635.78ZM671.53 55.84H676.00V59.10H671.53ZM671.53 107.94H676.00V111.20H671.53ZM671.53 160.04H676.00V163.30H671.53ZM671.53 212.14H676.00V215.40H671.53Z"/>
<rect x="390.00" y="7.00" width="286.00" height="208.40" fill="none" stroke="#303030" stroke-width="0.7"/>
<path d="M432.5 215.4v-2.5M432.5 7.0v2.5M390.0 37.9h2.5M676.0 37.9h-2.5M477.1 215.4v-2.5M477.1 7.0v2.5M390.0 70.5h2.5M676.0 70.5h-2.5M521.8 215.4v-2.5M521.8 7.0v2.5M390.0 103.1h2.5M676.0 103.1h-2.5M566.5 215.4v-2.5M566.5 7.0v2.5M390.0 135.6h2.5M676.0 135.6h-2.5M611.2 215.4v-2.5M611.2 7.0v2.5M390.0 168.2h2.5M676.0 168.2h-2.5M655.9 215.4v-2.5M655.9 7.0v2.5M390.0 200.7h2.5M676.0 200.7h-2.5" stroke="#303030" stroke-width="0.6" fill="none"/>
<g font-family="Liberation Sans, sans-serif" font-size="7.8" fill="#505050"><text x="432.5" y="227.3" text-anchor="middle">10</text><text x="385.6" y="41.5" text-anchor="end">10</text><text x="477.1" y="227.3" text-anchor="middle">20</text><text x="385.6" y="74.1" text-anchor="end">20</text><text x="521.8" y="227.3" text-anchor="middle">30</text><text x="385.6" y="106.7" text-anchor="end">30</text><text x="566.5" y="227.3" text-anchor="middle">40</text><text x="385.6" y="139.2" text-anchor="end">40</text><text x="611.2" y="227.3" text-anchor="middle">50</text><text x="385.6" y="171.8" text-anchor="end">50</text><text x="655.9" y="227.3" text-anchor="middle">60</text><text x="385.6" y="204.3" text-anchor="end">60</text></g>
<rect x="387.30" y="273.00" width="286.70" height="207.70" fill="#00ff00"/>
<path fill="#0000ff" d="M387.30 273.00H400.74V282.74H387.30ZM387.30 311.94H400.74V334.66H387.30ZM387.30 363.87H400.74V386.59H387.30ZM387.30 415.79H400.74V438.51H387.30ZM387.30 467.72H400.74V480.70H387.30ZM405.22 285.98H436.58V308.70H405.22ZM405.22 337.91H436.58V360.62H405.22ZM405.22 389.83H436.58V412.55H405.22ZM405.22 441.76H436.58V464.47H405.22ZM441.06 273.00H472.41V282.74H441.06ZM441.06 311.94H472.41V334.66H441.06ZM441.06 363.87H472.41V386.59H441.06ZM441.06 415.79H472.41V438.51H441.06ZM441.06 467.72H472.41V480.70H441.06ZM476.89 285.98H508.25V308.70H476.89ZM476.89 337.91H508.25V360.62H476.89ZM476.89 389.83H508.25V412.55H476.89ZM476.89 441.76H508.25V464.47H476.89ZM512.73 273.00H544.09V282.74H512.73ZM512.73 311.94H544.09V334.66H512.73ZM512.73 363.87H544.09V386.59H512.73ZM512.73 415.79H544.09V438.51H512.73ZM512.73 467.72H544.09V480.70H512.73ZM548.57 285.98H579.93V308.70H548.57ZM548.57 337.91H579.93V360.62H548.57ZM548.57 389.83H579.93V412.55H548.57ZM548.57 441.76H579.93V464.47H548.57ZM584.41 273.00H615.76V282.74H584.41ZM584.41 311.94H615.76V334.66H584.41ZM584.41 363.87H615.76V386.59H584.41ZM584.41 415.79H615.76V438.51H584.41ZM584.41 467.72H615.76V480.70H584.41ZM620.24 285.98H651.60V308.70H620.24ZM620.24 337.91H651.60V360.62H620.24ZM620.24 389.83H651.60V412.55H620.24ZM620.24 441.76H651.60V464.47H620.24ZM656.08 273.00H674.00V282.74H656.08ZM656.08 311.94H674.00V334.66H656.08ZM656.08 363.87H674.00V386.59H656.08ZM656.08 415.79H674.00V438.51H656.08ZM656.08 467.72H674.00V480.70H656.08Z"/>
<rect x="387.30" y="273.00" width="286.70" height="207.70" fill="none" stroke="#303030" stroke-width="0.7"/>
<path d="M429.9 480.7v-2.5M429.9 273.0v2.5M387.3 303.8h2.5M674.0 303.8h-2.5M474.7 480.7v-2.5M474.7 273.0v2.5M387.3 336.3h2.5M674.0 336.3h-2.5M519.5 480.7v-2.5M519.5 273.0v2.5M387.3 368.7h2.5M674.0 368.7h-2.5M564.2 480.7v-2.5M564.2 273.0v2.5M387.3 401.2h2.5M674.0 401.2h-2.5M609.0 480.7v-2.5M609.0 273.0v2.5M387.3 433.6h2.5M674.0 433.6h-2.5M653.8 480.7v-2.5M653.8 273.0v2.5M387.3 466.1h2.5M674.0 466.1h-2.5" stroke="#303030" stroke-width="0.6" fill="none"/>
<g font-family="Liberation Sans, sans-serif" font-size="7.8" fill="#505050"><text x="429.9" y="492.6" text-anchor="middle">10</text><text x="382.9" y="307.4" text-anchor="end">10</text><text x="474.7" y="492.6" text-anchor="middle">20</text><text x="382.9" y="339.9" text-anchor="end">20</text><text x="519.5" y="492.6" text-anchor="middle">30</text><text x="382.9" y="372.3" text-anchor="end">30</text><text x="564.2" y="492.6" text-anchor="middle">40</text><text x="382.9" y="404.8" text-anchor="end">40</text><text x="609.0" y="492.6" text-anchor="middle">50</text><text x="382.9" y="437.2" text-anchor="end">50</text><text x="653.8" y="492.6" text-anchor="middle">60</text><text x="382.9" y="469.7" text-anchor="end">60</text></g>
<rect x="387.00" y="560.00" width="284.00" height="207.00" fill="#0000ff"/>
<path fill="#ffffff" d="M387.00 572.94H400.31V595.58H387.00ZM387.00 624.69H400.31V647.33H387.00ZM387.00 676.44H400.31V699.08H387.00ZM387.00 728.19H400.31V750.83H387.00ZM404.75 560.00H435.81V569.70H404.75ZM404.75 598.81H435.81V621.45H404.75ZM404.75 650.56H435.81V673.20H404.75ZM404.75 702.31H435.81V724.95H404.75ZM404.75 754.06H435.81V767.00H404.75ZM440.25 572.94H471.31V595.58H440.25ZM440.25 624.69H471.31V647.33H440.25ZM440.25 676.44H471.31V699.08H440.25ZM440.25 728.19H471.31V750.83H440.25ZM475.75 560.00H506.81V569.70H475.75ZM475.75 598.81H506.81V621.45H475.75ZM475.75 650.56H506.81V673.20H475.75ZM475.75 702.31H506.81V724.95H475.75ZM475.75 754.06H506.81V767.00H475.75ZM511.25 572.94H542.31V595.58H511.25ZM511.25 624.69H542.31V647.33H511.25ZM511.25 676.44H542.31V699.08H511.25ZM511.25 728.19H542.31V750.83H511.25ZM546.75 560.00H577.81V569.70H546.75ZM546.75 598.81H577.81V621.45H546.75ZM546.75 650.56H577.81V673.20H546.75ZM546.75 702.31H577.81V724.95H546.75ZM546.75 754.06H577.81V767.00H546.75ZM582.25 572.94H613.31V595.58H582.25ZM582.25 624.69H613.31V647.33H582.25ZM582.25 676.44H613.31V699.08H582.25ZM582.25 728.19H613.31V750.83H582.25ZM617.75 560.00H648.81V569.70H617.75ZM617.75 598.81H648.81V621.45H617.75ZM617.75 650.56H648.81V673.20H617.75ZM617.75 702.31H648.81V724.95H617.75ZM617.75 754.06H648.81V767.00H617.75ZM653.25 572.94H671.00V595.58H653.25ZM653.25 624.69H671.00V647.33H653.25ZM653.25 676.44H671.00V699.08H653.25ZM653.25 728.19H671.00V750.83H653.25Z"/>
<rect x="387.00" y="560.00" width="284.00" height="207.00" fill="none" stroke="#303030" stroke-width="0.7"/>
<path d="M429.2 767.0v-2.5M429.2 560.0v2.5M387.0 590.7h2.5M671.0 590.7h-2.5M473.5 767.0v-2.5M473.5 560.0v2.5M387.0 623.1h2.5M671.0 623.1h-2.5M517.9 767.0v-2.5M517.9 560.0v2.5M387.0 655.4h2.5M671.0 655.4h-2.5M562.3 767.0v-2.5M562.3 560.0v2.5M387.0 687.8h2.5M671.0 687.8h-2.5M606.7 767.0v-2.5M606.7 560.0v2.5M387.0 720.1h2.5M671.0 720.1h-2.5M651.0 767.0v-2.5M651.0 560.0v2.5M387.0 752.4h2.5M671.0 752.4h-2.5" stroke="#303030" stroke-width="0.6" fill="none"/>
<g font-family="Liberation Sans, sans-serif" font-size="7.8" fill="#505050"><text x="429.2" y="778.9" text-anchor="middle">10</text><text x="382.6" y="594.3" text-anchor="end">10</text><text x="473.5" y="778.9" text-anchor="middle">20</text><text x="382.6" y="626.7" text-anchor="end">20</text><text x="517.9" y="778.9" text-anchor="middle">30</text><text x="382.6" y="659.0" text-anchor="end">30</text><text x="562.3" y="778.9" text-anchor="middle">40</text><text x="382.6" y="691.4" text-anchor="end">40</text><text x="606.7" y="778.9" text-anchor="middle">50</text><text x="382.6" y="723.7" text-anchor="end">50</text><text x="651.0" y="778.9" text-anchor="middle">60</text><text x="382.6" y="756.0" text-anchor="end">60</text></g>
<g font-family="Liberation Serif, serif" font-weight="bold" font-size="21" fill="#000">
<text x="3.3" y="257.0">(a1) Surface topography, undeformed</text>
<text x="374.0" y="257.0" font-size="21.22">(b1) leakage channel, undeformed</text>
<text x="37.5" y="531.0">(a2) Surface topography, <tspan font-style="italic">p</tspan><tspan font-size="14.5" dy="5">0</tspan><tspan dy="-5" dx="3.2">= 2</tspan></text>
<text x="405.5" y="531.0">(b2) leakage channel, <tspan font-style="italic">p</tspan><tspan font-size="14.5" dy="5">0</tspan><tspan dy="-5" dx="3.2">= 2</tspan></text>
<text x="37.5" y="806.0">(a3) Surface topography, <tspan font-style="italic">p</tspan><tspan font-size="14.5" dy="5">0</tspan><tspan dy="-5" dx="3.2">= 3</tspan></text>
<text x="405.5" y="806.0">(b3) leakage channel, <tspan font-style="italic">p</tspan><tspan font-size="14.5" dy="5">0</tspan><tspan dy="-5" dx="3.2">= 3</tspan></text>
</g>
</svg></body></html>
